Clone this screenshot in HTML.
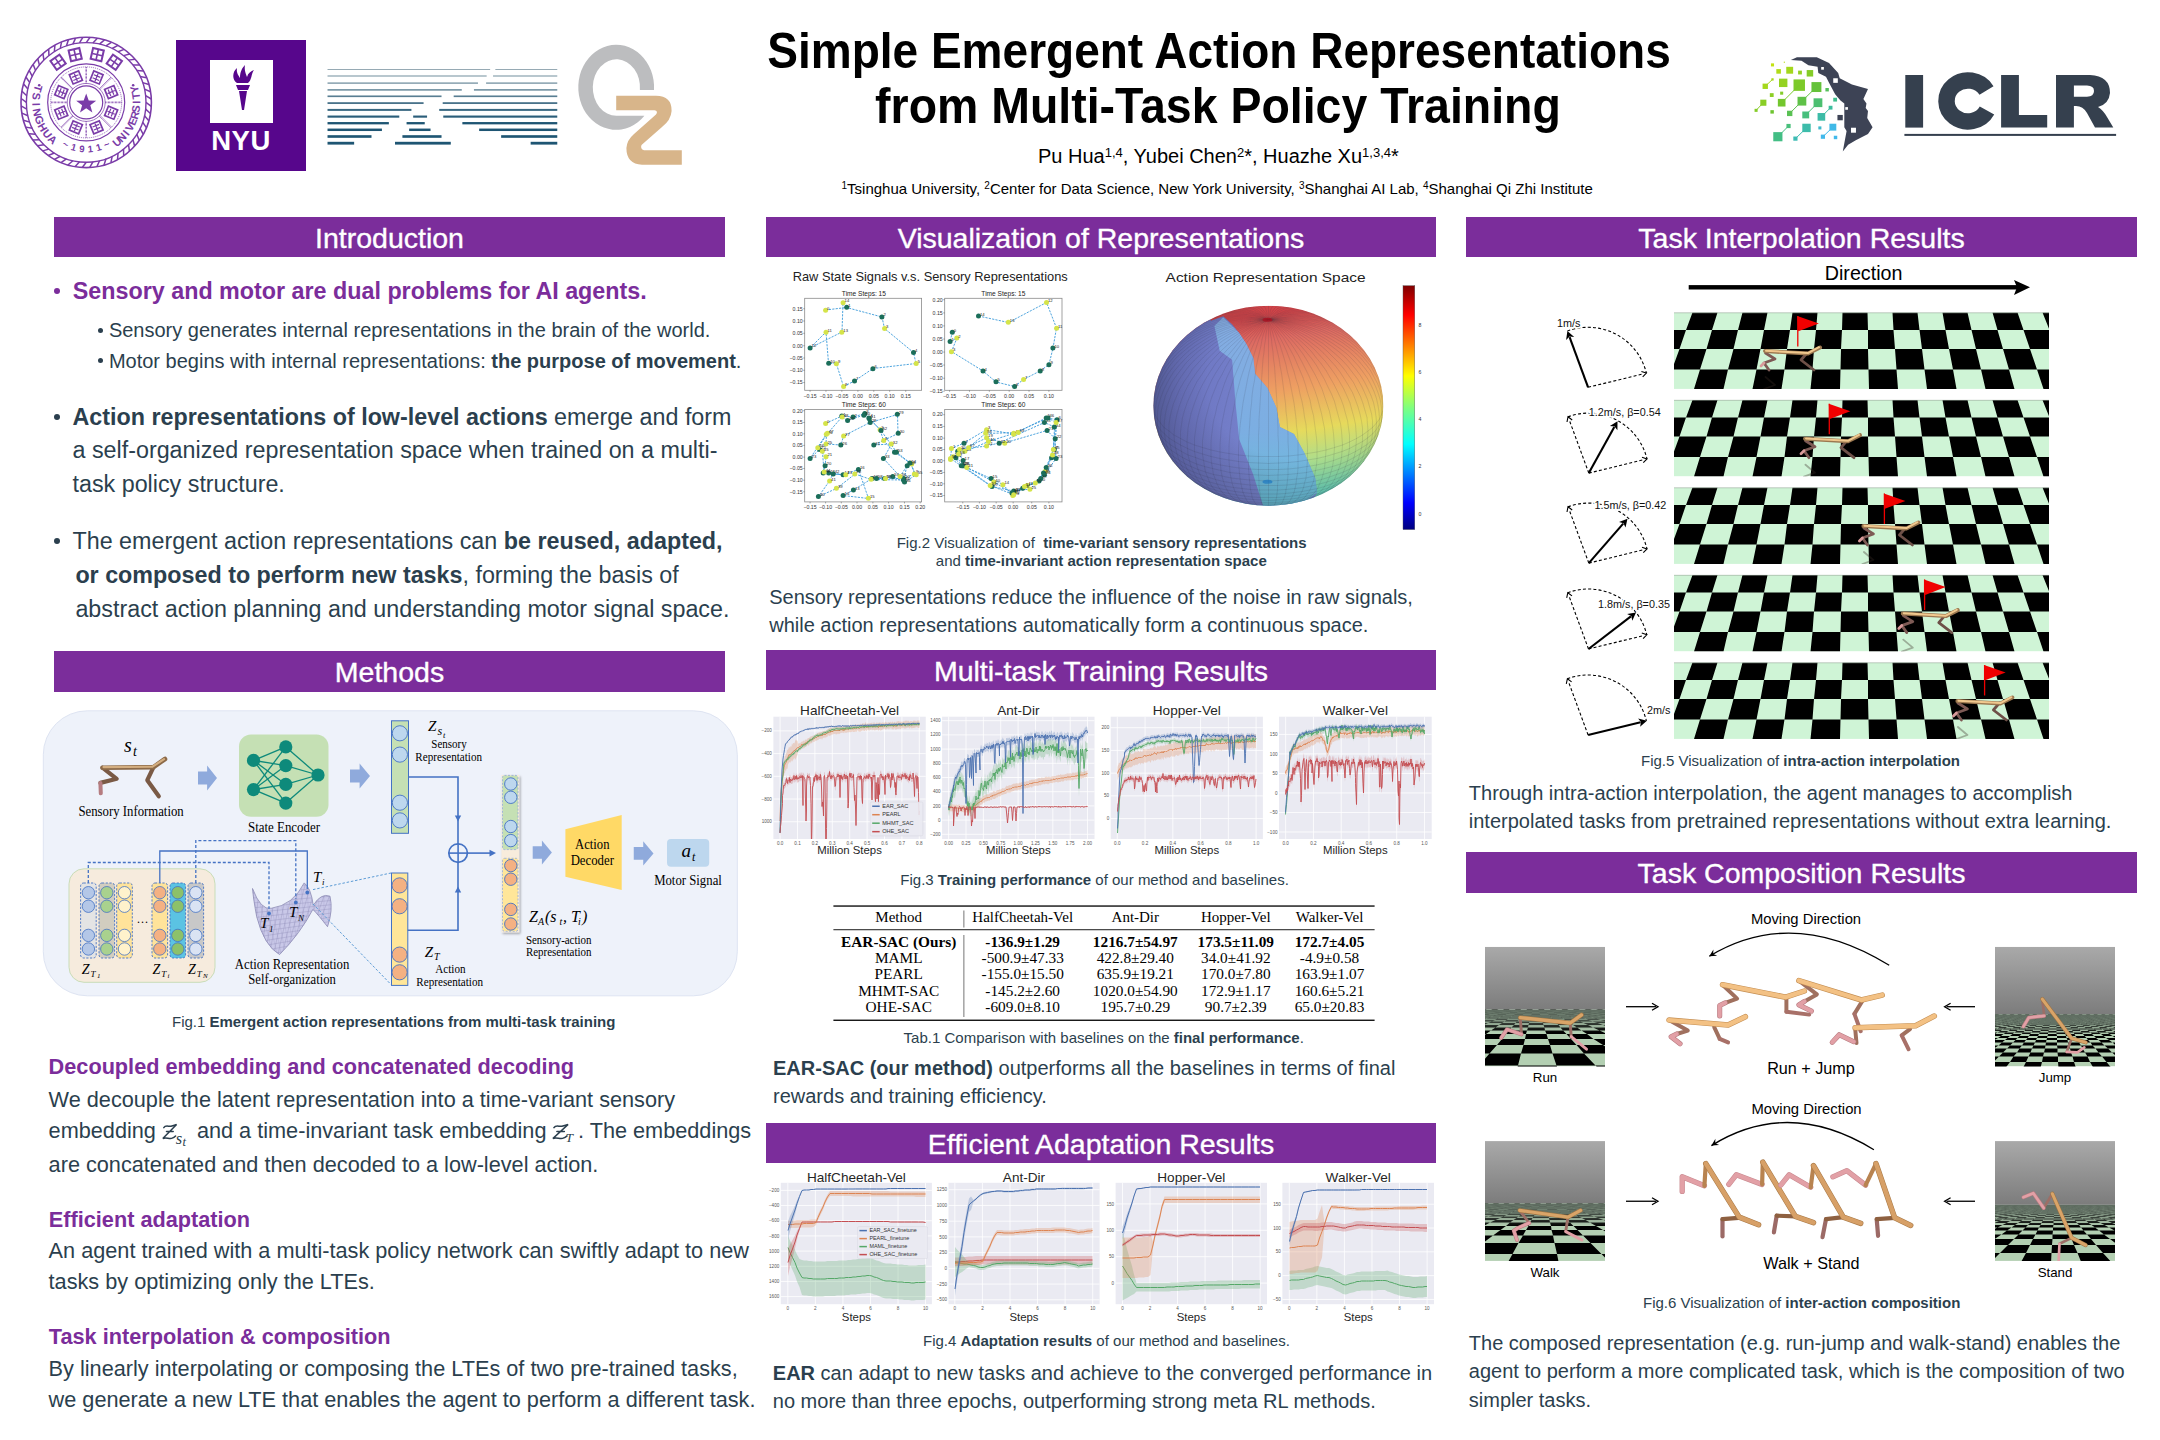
<!DOCTYPE html>
<html><head><meta charset="utf-8"><title>Simple Emergent Action Representations from Multi-Task Policy Training</title>
<style>
html,body{margin:0;padding:0;background:#FFFFFF;}
body{width:2160px;height:1440px;position:relative;overflow:hidden;font-family:"Liberation Sans", sans-serif;}
svg{position:absolute;overflow:visible}
</style></head><body>
<div style="position:absolute;left:218.60px;width:2000px;text-align:center;top:26.00px;font-family:'Liberation Sans', sans-serif;font-size:49.2px;line-height:49.2px;font-weight:bold;color:#000;white-space:nowrap;transform:scaleX(0.9355);transform-origin:50% 50%;">Simple Emergent Action Representations</div>
<div style="position:absolute;left:217.50px;width:2000px;text-align:center;top:81.00px;font-family:'Liberation Sans', sans-serif;font-size:49.2px;line-height:49.2px;font-weight:bold;color:#000;white-space:nowrap;transform:scaleX(0.9445);transform-origin:50% 50%;">from Multi-Task Policy Training</div>
<div style="position:absolute;left:1038.00px;top:146.00px;font-family:'Liberation Sans', sans-serif;font-size:20px;line-height:20px;font-weight:normal;color:#000;white-space:nowrap;">Pu Hua<span style="font-size:13px;position:relative;top:-6px">1,4</span>, Yubei Chen<span style="font-size:13px;position:relative;top:-6px">2</span>*, Huazhe Xu<span style="font-size:13px;position:relative;top:-6px">1,3,4</span>*</div>
<div style="position:absolute;left:841.50px;top:181.00px;font-family:'Liberation Sans', sans-serif;font-size:15px;line-height:15px;font-weight:normal;color:#000;white-space:nowrap;"><span style="font-size:10px;position:relative;top:-5px">1</span>Tsinghua University, <span style="font-size:10px;position:relative;top:-5px">2</span>Center for Data Science, New York University, <span style="font-size:10px;position:relative;top:-5px">3</span>Shanghai AI Lab, <span style="font-size:10px;position:relative;top:-5px">4</span>Shanghai Qi Zhi Institute</div>
<div style="position:absolute;left:54px;top:217px;width:671px;height:40px;background:#7B2D9B;"></div>
<div style="position:absolute;left:-610.50px;width:2000px;text-align:center;top:224.00px;font-family:'Liberation Sans', sans-serif;font-size:28.5px;line-height:28.5px;font-weight:normal;color:#FFFFFF;white-space:nowrap;-webkit-text-stroke:0.35px #FFFFFF;">Introduction</div>
<div style="position:absolute;left:766px;top:217px;width:670px;height:40px;background:#7B2D9B;"></div>
<div style="position:absolute;left:101.00px;width:2000px;text-align:center;top:224.00px;font-family:'Liberation Sans', sans-serif;font-size:28.5px;line-height:28.5px;font-weight:normal;color:#FFFFFF;white-space:nowrap;-webkit-text-stroke:0.35px #FFFFFF;">Visualization of Representations</div>
<div style="position:absolute;left:1466px;top:217px;width:671px;height:40px;background:#7B2D9B;"></div>
<div style="position:absolute;left:801.50px;width:2000px;text-align:center;top:224.00px;font-family:'Liberation Sans', sans-serif;font-size:28.5px;line-height:28.5px;font-weight:normal;color:#FFFFFF;white-space:nowrap;-webkit-text-stroke:0.35px #FFFFFF;">Task Interpolation Results</div>
<div style="position:absolute;left:54px;top:651px;width:671px;height:41px;background:#7B2D9B;"></div>
<div style="position:absolute;left:-610.50px;width:2000px;text-align:center;top:658.00px;font-family:'Liberation Sans', sans-serif;font-size:28.5px;line-height:28.5px;font-weight:normal;color:#FFFFFF;white-space:nowrap;-webkit-text-stroke:0.35px #FFFFFF;">Methods</div>
<div style="position:absolute;left:766px;top:650px;width:670px;height:40px;background:#7B2D9B;"></div>
<div style="position:absolute;left:101.00px;width:2000px;text-align:center;top:657.00px;font-family:'Liberation Sans', sans-serif;font-size:28.5px;line-height:28.5px;font-weight:normal;color:#FFFFFF;white-space:nowrap;-webkit-text-stroke:0.35px #FFFFFF;">Multi-task Training Results</div>
<div style="position:absolute;left:1466px;top:852px;width:671px;height:41px;background:#7B2D9B;"></div>
<div style="position:absolute;left:801.50px;width:2000px;text-align:center;top:859.00px;font-family:'Liberation Sans', sans-serif;font-size:28.5px;line-height:28.5px;font-weight:normal;color:#FFFFFF;white-space:nowrap;-webkit-text-stroke:0.35px #FFFFFF;">Task Composition Results</div>
<div style="position:absolute;left:766px;top:1123px;width:670px;height:40px;background:#7B2D9B;"></div>
<div style="position:absolute;left:101.00px;width:2000px;text-align:center;top:1130.00px;font-family:'Liberation Sans', sans-serif;font-size:28.5px;line-height:28.5px;font-weight:normal;color:#FFFFFF;white-space:nowrap;-webkit-text-stroke:0.35px #FFFFFF;">Efficient Adaptation Results</div>
<div style="position:absolute;left:54.00px;top:287.60px;width:6px;height:6px;border-radius:50%;background:#7B2D9B"></div>
<div style="position:absolute;left:72.80px;top:280.00px;font-family:'Liberation Sans', sans-serif;font-size:23.3px;line-height:23.3px;font-weight:bold;color:#7B2D9B;white-space:nowrap;">Sensory and motor are dual problems for AI agents.</div>
<div style="position:absolute;left:97.50px;top:327.50px;width:5px;height:5px;border-radius:50%;background:#2B3F4E"></div>
<div style="position:absolute;left:108.90px;top:320.00px;font-family:'Liberation Sans', sans-serif;font-size:20px;line-height:20px;font-weight:normal;color:#2B3F4E;white-space:nowrap;">Sensory generates internal representations in the brain of the world.</div>
<div style="position:absolute;left:97.50px;top:358.40px;width:5px;height:5px;border-radius:50%;background:#2B3F4E"></div>
<div style="position:absolute;left:108.90px;top:351.00px;font-family:'Liberation Sans', sans-serif;font-size:20px;line-height:20px;font-weight:normal;color:#2B3F4E;white-space:nowrap;">Motor begins with internal representations: <b>the purpose of movement</b>.</div>
<div style="position:absolute;left:54.00px;top:414.40px;width:6px;height:6px;border-radius:50%;background:#2B3F4E"></div>
<div style="position:absolute;left:72.50px;top:406.00px;font-family:'Liberation Sans', sans-serif;font-size:23.3px;line-height:23.3px;font-weight:normal;color:#2B3F4E;white-space:nowrap;"><b>Action representations of low-level actions</b> emerge and form</div>
<div style="position:absolute;left:72.50px;top:439.00px;font-family:'Liberation Sans', sans-serif;font-size:23.3px;line-height:23.3px;font-weight:normal;color:#2B3F4E;white-space:nowrap;">a self-organized representation space when trained on a multi-</div>
<div style="position:absolute;left:72.50px;top:473.00px;font-family:'Liberation Sans', sans-serif;font-size:23.3px;line-height:23.3px;font-weight:normal;color:#2B3F4E;white-space:nowrap;">task policy structure.</div>
<div style="position:absolute;left:54.00px;top:537.70px;width:6px;height:6px;border-radius:50%;background:#2B3F4E"></div>
<div style="position:absolute;left:72.50px;top:530.00px;font-family:'Liberation Sans', sans-serif;font-size:23.3px;line-height:23.3px;font-weight:normal;color:#2B3F4E;white-space:nowrap;">The emergent action representations can <b>be reused, adapted,</b></div>
<div style="position:absolute;left:75.40px;top:564.00px;font-family:'Liberation Sans', sans-serif;font-size:23.3px;line-height:23.3px;font-weight:normal;color:#2B3F4E;white-space:nowrap;"><b>or composed to perform new tasks</b>, forming the basis of</div>
<div style="position:absolute;left:75.40px;top:598.00px;font-family:'Liberation Sans', sans-serif;font-size:23.3px;line-height:23.3px;font-weight:normal;color:#2B3F4E;white-space:nowrap;">abstract action planning and understanding motor signal space.</div>
<div style="position:absolute;left:172.00px;top:1014.00px;font-family:'Liberation Sans', sans-serif;font-size:15px;line-height:15px;font-weight:normal;color:#2B3F4E;white-space:nowrap;">Fig.1 <b>Emergent action representations from multi-task training</b></div>
<div style="position:absolute;left:48.60px;top:1056.00px;font-family:'Liberation Sans', sans-serif;font-size:21.7px;line-height:21.7px;font-weight:bold;color:#7B2D9B;white-space:nowrap;">Decoupled embedding and concatenated decoding</div>
<div style="position:absolute;left:48.60px;top:1089.00px;font-family:'Liberation Sans', sans-serif;font-size:21.7px;line-height:21.7px;font-weight:normal;color:#2B3F4E;white-space:nowrap;">We decouple the latent representation into a time-variant sensory</div>
<div style="position:absolute;left:48.60px;top:1120.00px;font-family:'Liberation Sans', sans-serif;font-size:21.7px;line-height:21.7px;font-weight:normal;color:#2B3F4E;white-space:nowrap;">embedding</div>
<div style="position:absolute;left:196.90px;top:1120.00px;font-family:'Liberation Sans', sans-serif;font-size:21.7px;line-height:21.7px;font-weight:normal;color:#2B3F4E;white-space:nowrap;">and a time-invariant task embedding</div>
<div style="position:absolute;left:578.00px;top:1120.00px;font-family:'Liberation Sans', sans-serif;font-size:21.7px;line-height:21.7px;font-weight:normal;color:#2B3F4E;white-space:nowrap;">. The embeddings</div>
<svg style="left:161.7px;top:1124.3px" width="16" height="16" viewBox="0 0 16 16"><path d="M1.8,3.6 C3.5,0.8 6.5,2.8 9,2.2 C11,1.7 13,1.2 14.6,0.4 L0.8,14.6 C3.8,12.8 6.8,15.2 9.6,14.4 C11.4,13.9 12.6,13.2 13.6,12 M4.5,7.6 L11.2,7.6" fill="none" stroke="#2B3F4E" stroke-width="1.5" stroke-linecap="round"/></svg><svg style="left:552.3px;top:1124px" width="20" height="16" viewBox="0 0 20 16"><path d="M1.8,3.6 C3.5,0.8 6.5,2.8 9,2.2 C11,1.7 13,1.2 14.6,0.4 L0.8,14.6 C3.8,12.8 6.8,15.2 9.6,14.4 C11.4,13.9 12.6,13.2 13.6,12 M4.5,7.6 L11.2,7.6" fill="none" stroke="#2B3F4E" stroke-width="1.5" stroke-linecap="round" transform="scale(1.1,1)"/></svg><div style="position:absolute;left:175.80px;top:1131.00px;font-family:'Liberation Serif', serif;font-size:16.5px;line-height:16.5px;font-weight:normal;color:#2B3F4E;white-space:nowrap;"><i>s</i></div>
<div style="position:absolute;left:182.50px;top:1136.00px;font-family:'Liberation Serif', serif;font-size:12.5px;line-height:12.5px;font-weight:normal;color:#2B3F4E;white-space:nowrap;"><i>t</i></div>
<div style="position:absolute;left:565.50px;top:1131.00px;font-family:'Liberation Serif', serif;font-size:13.5px;line-height:13.5px;font-weight:normal;color:#2B3F4E;white-space:nowrap;"><i>T</i></div>
<div style="position:absolute;left:48.60px;top:1154.00px;font-family:'Liberation Sans', sans-serif;font-size:21.7px;line-height:21.7px;font-weight:normal;color:#2B3F4E;white-space:nowrap;">are concatenated and then decoded to a low-level action.</div>
<div style="position:absolute;left:48.80px;top:1209.00px;font-family:'Liberation Sans', sans-serif;font-size:21.7px;line-height:21.7px;font-weight:bold;color:#7B2D9B;white-space:nowrap;">Efficient adaptation</div>
<div style="position:absolute;left:48.60px;top:1240.00px;font-family:'Liberation Sans', sans-serif;font-size:21.7px;line-height:21.7px;font-weight:normal;color:#2B3F4E;white-space:nowrap;">An agent trained with a multi-task policy network can swiftly adapt to new</div>
<div style="position:absolute;left:48.60px;top:1271.00px;font-family:'Liberation Sans', sans-serif;font-size:21.7px;line-height:21.7px;font-weight:normal;color:#2B3F4E;white-space:nowrap;">tasks by optimizing only the LTEs.</div>
<div style="position:absolute;left:48.80px;top:1326.00px;font-family:'Liberation Sans', sans-serif;font-size:21.7px;line-height:21.7px;font-weight:bold;color:#7B2D9B;white-space:nowrap;">Task interpolation &amp; composition</div>
<div style="position:absolute;left:48.60px;top:1358.00px;font-family:'Liberation Sans', sans-serif;font-size:21.7px;line-height:21.7px;font-weight:normal;color:#2B3F4E;white-space:nowrap;">By linearly interpolating or composing the LTEs of two pre-trained tasks,</div>
<div style="position:absolute;left:48.60px;top:1389.00px;font-family:'Liberation Sans', sans-serif;font-size:21.7px;line-height:21.7px;font-weight:normal;color:#2B3F4E;white-space:nowrap;">we generate a new LTE that enables the agent to perform a different task.</div>
<div style="position:absolute;left:896.70px;top:535.00px;font-family:'Liberation Sans', sans-serif;font-size:15px;line-height:15px;font-weight:normal;color:#2B3F4E;white-space:nowrap;">Fig.2 Visualization of &nbsp;<b>time-variant sensory representations</b></div>
<div style="position:absolute;left:935.80px;top:553.00px;font-family:'Liberation Sans', sans-serif;font-size:15px;line-height:15px;font-weight:normal;color:#2B3F4E;white-space:nowrap;">and <b>time-invariant action representation space</b></div>
<div style="position:absolute;left:769.20px;top:587.00px;font-family:'Liberation Sans', sans-serif;font-size:20px;line-height:20px;font-weight:normal;color:#2B3F4E;white-space:nowrap;">Sensory representations reduce the influence of the noise in raw signals,</div>
<div style="position:absolute;left:769.20px;top:615.00px;font-family:'Liberation Sans', sans-serif;font-size:20px;line-height:20px;font-weight:normal;color:#2B3F4E;white-space:nowrap;">while action representations automatically form a continuous space.</div>
<div style="position:absolute;left:900.30px;top:872.00px;font-family:'Liberation Sans', sans-serif;font-size:15px;line-height:15px;font-weight:normal;color:#2B3F4E;white-space:nowrap;">Fig.3 <b>Training performance</b> of our method and baselines.</div>
<div style="position:absolute;left:903.60px;top:1030.00px;font-family:'Liberation Sans', sans-serif;font-size:15px;line-height:15px;font-weight:normal;color:#2B3F4E;white-space:nowrap;">Tab.1 Comparison with baselines on the <b>final performance</b>.</div>
<div style="position:absolute;left:773.00px;top:1058.00px;font-family:'Liberation Sans', sans-serif;font-size:20px;line-height:20px;font-weight:normal;color:#2B3F4E;white-space:nowrap;"><b>EAR-SAC (our method)</b> outperforms all the baselines in terms of final</div>
<div style="position:absolute;left:773.00px;top:1086.00px;font-family:'Liberation Sans', sans-serif;font-size:20px;line-height:20px;font-weight:normal;color:#2B3F4E;white-space:nowrap;">rewards and training efficiency.</div>
<div style="position:absolute;left:923.00px;top:1333.00px;font-family:'Liberation Sans', sans-serif;font-size:15px;line-height:15px;font-weight:normal;color:#2B3F4E;white-space:nowrap;">Fig.4 <b>Adaptation results</b> of our method and baselines.</div>
<div style="position:absolute;left:772.80px;top:1363.00px;font-family:'Liberation Sans', sans-serif;font-size:20px;line-height:20px;font-weight:normal;color:#2B3F4E;white-space:nowrap;"><b>EAR</b> can adapt to new tasks and achieve to the converged performance in</div>
<div style="position:absolute;left:772.80px;top:1391.00px;font-family:'Liberation Sans', sans-serif;font-size:20px;line-height:20px;font-weight:normal;color:#2B3F4E;white-space:nowrap;">no more than three epochs, outperforming strong meta RL methods.</div>
<div style="position:absolute;left:1641.00px;top:753.00px;font-family:'Liberation Sans', sans-serif;font-size:15px;line-height:15px;font-weight:normal;color:#2B3F4E;white-space:nowrap;">Fig.5 Visualization of <b>intra-action interpolation</b></div>
<div style="position:absolute;left:1468.80px;top:783.00px;font-family:'Liberation Sans', sans-serif;font-size:20px;line-height:20px;font-weight:normal;color:#2B3F4E;white-space:nowrap;">Through intra-action interpolation, the agent manages to accomplish</div>
<div style="position:absolute;left:1468.80px;top:811.00px;font-family:'Liberation Sans', sans-serif;font-size:20px;line-height:20px;font-weight:normal;color:#2B3F4E;white-space:nowrap;">interpolated tasks from pretrained representations without extra learning.</div>
<div style="position:absolute;left:1643.00px;top:1295.00px;font-family:'Liberation Sans', sans-serif;font-size:15px;line-height:15px;font-weight:normal;color:#2B3F4E;white-space:nowrap;">Fig.6 Visualization of <b>inter-action composition</b></div>
<div style="position:absolute;left:1468.80px;top:1333.00px;font-family:'Liberation Sans', sans-serif;font-size:20px;line-height:20px;font-weight:normal;color:#2B3F4E;white-space:nowrap;">The composed representation (e.g. run-jump and walk-stand) enables the</div>
<div style="position:absolute;left:1468.80px;top:1361.00px;font-family:'Liberation Sans', sans-serif;font-size:20px;line-height:20px;font-weight:normal;color:#2B3F4E;white-space:nowrap;">agent to perform a more complicated task, which is the composition of two</div>
<div style="position:absolute;left:1468.80px;top:1390.00px;font-family:'Liberation Sans', sans-serif;font-size:20px;line-height:20px;font-weight:normal;color:#2B3F4E;white-space:nowrap;">simpler tasks.</div>
<svg style="left:0;top:0" width="200" height="200" viewBox="0 0 200 200"><circle cx="86.2" cy="102.4" r="65.2" fill="none" stroke="#7A3CA8" stroke-width="1.6"/><circle cx="86.2" cy="102.4" r="59.8" fill="none" stroke="#7A3CA8" stroke-width="1.4"/><line x1="146.00" y1="102.40" x2="151.28" y2="106.31" stroke="#7A3CA8" stroke-width="1.5"/><line x1="145.62" y1="109.10" x2="150.44" y2="113.57" stroke="#7A3CA8" stroke-width="1.5"/><line x1="144.50" y1="115.71" x2="148.78" y2="120.69" stroke="#7A3CA8" stroke-width="1.5"/><line x1="142.64" y1="122.15" x2="146.34" y2="127.59" stroke="#7A3CA8" stroke-width="1.5"/><line x1="140.08" y1="128.35" x2="143.14" y2="134.16" stroke="#7A3CA8" stroke-width="1.5"/><line x1="136.83" y1="134.22" x2="139.23" y2="140.34" stroke="#7A3CA8" stroke-width="1.5"/><line x1="132.95" y1="139.68" x2="134.65" y2="146.04" stroke="#7A3CA8" stroke-width="1.5"/><line x1="128.48" y1="144.68" x2="129.46" y2="151.18" stroke="#7A3CA8" stroke-width="1.5"/><line x1="123.48" y1="149.15" x2="123.72" y2="155.72" stroke="#7A3CA8" stroke-width="1.5"/><line x1="118.02" y1="153.03" x2="117.52" y2="159.59" stroke="#7A3CA8" stroke-width="1.5"/><line x1="112.15" y1="156.28" x2="110.92" y2="162.73" stroke="#7A3CA8" stroke-width="1.5"/><line x1="105.95" y1="158.84" x2="104.01" y2="165.12" stroke="#7A3CA8" stroke-width="1.5"/><line x1="99.51" y1="160.70" x2="96.87" y2="166.72" stroke="#7A3CA8" stroke-width="1.5"/><line x1="92.90" y1="161.82" x2="89.60" y2="167.51" stroke="#7A3CA8" stroke-width="1.5"/><line x1="86.20" y1="162.20" x2="82.29" y2="167.48" stroke="#7A3CA8" stroke-width="1.5"/><line x1="79.50" y1="161.82" x2="75.03" y2="166.64" stroke="#7A3CA8" stroke-width="1.5"/><line x1="72.89" y1="160.70" x2="67.91" y2="164.98" stroke="#7A3CA8" stroke-width="1.5"/><line x1="66.45" y1="158.84" x2="61.01" y2="162.54" stroke="#7A3CA8" stroke-width="1.5"/><line x1="60.25" y1="156.28" x2="54.44" y2="159.34" stroke="#7A3CA8" stroke-width="1.5"/><line x1="54.38" y1="153.03" x2="48.26" y2="155.43" stroke="#7A3CA8" stroke-width="1.5"/><line x1="48.92" y1="149.15" x2="42.56" y2="150.85" stroke="#7A3CA8" stroke-width="1.5"/><line x1="43.92" y1="144.68" x2="37.42" y2="145.66" stroke="#7A3CA8" stroke-width="1.5"/><line x1="39.45" y1="139.68" x2="32.88" y2="139.92" stroke="#7A3CA8" stroke-width="1.5"/><line x1="35.57" y1="134.22" x2="29.01" y2="133.72" stroke="#7A3CA8" stroke-width="1.5"/><line x1="32.32" y1="128.35" x2="25.87" y2="127.12" stroke="#7A3CA8" stroke-width="1.5"/><line x1="29.76" y1="122.15" x2="23.48" y2="120.21" stroke="#7A3CA8" stroke-width="1.5"/><line x1="27.90" y1="115.71" x2="21.88" y2="113.07" stroke="#7A3CA8" stroke-width="1.5"/><line x1="26.78" y1="109.10" x2="21.09" y2="105.80" stroke="#7A3CA8" stroke-width="1.5"/><line x1="26.40" y1="102.40" x2="21.12" y2="98.49" stroke="#7A3CA8" stroke-width="1.5"/><line x1="26.78" y1="95.70" x2="21.96" y2="91.23" stroke="#7A3CA8" stroke-width="1.5"/><line x1="27.90" y1="89.09" x2="23.62" y2="84.11" stroke="#7A3CA8" stroke-width="1.5"/><line x1="29.76" y1="82.65" x2="26.06" y2="77.21" stroke="#7A3CA8" stroke-width="1.5"/><line x1="32.32" y1="76.45" x2="29.26" y2="70.64" stroke="#7A3CA8" stroke-width="1.5"/><line x1="35.57" y1="70.58" x2="33.17" y2="64.46" stroke="#7A3CA8" stroke-width="1.5"/><line x1="39.45" y1="65.12" x2="37.75" y2="58.76" stroke="#7A3CA8" stroke-width="1.5"/><line x1="43.92" y1="60.12" x2="42.94" y2="53.62" stroke="#7A3CA8" stroke-width="1.5"/><line x1="48.92" y1="55.65" x2="48.68" y2="49.08" stroke="#7A3CA8" stroke-width="1.5"/><line x1="54.38" y1="51.77" x2="54.88" y2="45.21" stroke="#7A3CA8" stroke-width="1.5"/><line x1="60.25" y1="48.52" x2="61.48" y2="42.07" stroke="#7A3CA8" stroke-width="1.5"/><line x1="66.45" y1="45.96" x2="68.39" y2="39.68" stroke="#7A3CA8" stroke-width="1.5"/><line x1="72.89" y1="44.10" x2="75.53" y2="38.08" stroke="#7A3CA8" stroke-width="1.5"/><line x1="79.50" y1="42.98" x2="82.80" y2="37.29" stroke="#7A3CA8" stroke-width="1.5"/><line x1="86.20" y1="42.60" x2="90.11" y2="37.32" stroke="#7A3CA8" stroke-width="1.5"/><line x1="92.90" y1="42.98" x2="97.37" y2="38.16" stroke="#7A3CA8" stroke-width="1.5"/><line x1="99.51" y1="44.10" x2="104.49" y2="39.82" stroke="#7A3CA8" stroke-width="1.5"/><line x1="105.95" y1="45.96" x2="111.39" y2="42.26" stroke="#7A3CA8" stroke-width="1.5"/><line x1="112.15" y1="48.52" x2="117.96" y2="45.46" stroke="#7A3CA8" stroke-width="1.5"/><line x1="118.02" y1="51.77" x2="124.14" y2="49.37" stroke="#7A3CA8" stroke-width="1.5"/><line x1="123.48" y1="55.65" x2="129.84" y2="53.95" stroke="#7A3CA8" stroke-width="1.5"/><line x1="128.48" y1="60.12" x2="134.98" y2="59.14" stroke="#7A3CA8" stroke-width="1.5"/><line x1="132.95" y1="65.12" x2="139.52" y2="64.88" stroke="#7A3CA8" stroke-width="1.5"/><line x1="136.83" y1="70.58" x2="143.39" y2="71.08" stroke="#7A3CA8" stroke-width="1.5"/><line x1="140.08" y1="76.45" x2="146.53" y2="77.68" stroke="#7A3CA8" stroke-width="1.5"/><line x1="142.64" y1="82.65" x2="148.92" y2="84.59" stroke="#7A3CA8" stroke-width="1.5"/><line x1="144.50" y1="89.09" x2="150.52" y2="91.73" stroke="#7A3CA8" stroke-width="1.5"/><line x1="145.62" y1="95.70" x2="151.31" y2="99.00" stroke="#7A3CA8" stroke-width="1.5"/><circle cx="86.2" cy="102.4" r="38.5" fill="none" stroke="#7A3CA8" stroke-width="1.2"/><circle cx="86.2" cy="102.4" r="35.5" fill="none" stroke="#7A3CA8" stroke-width="0.8" stroke-dasharray="1 1"/><circle cx="86.2" cy="102.4" r="16.5" fill="none" stroke="#7A3CA8" stroke-width="1.2"/><circle cx="86.2" cy="102.4" r="19" fill="none" stroke="#7A3CA8" stroke-width="0.7"/><line x1="105.20" y1="102.40" x2="121.70" y2="102.40" stroke="#7A3CA8" stroke-width="1.6" stroke-dasharray="0.7 0.7"/><rect x="106.14" y="107.73" width="10" height="10" fill="none" stroke="#7A3CA8" stroke-width="1.7" transform="rotate(112.5 111.14 112.73)"/><path d="M107.64,111.23 H114.64 M107.64,114.53 H114.64 M111.14,108.73 V116.73" stroke="#7A3CA8" stroke-width="1.2" transform="rotate(112.5 111.14 112.73)"/><line x1="99.64" y1="115.84" x2="111.30" y2="127.50" stroke="#7A3CA8" stroke-width="1.6" stroke-dasharray="0.7 0.7"/><rect x="91.53" y="122.34" width="10" height="10" fill="none" stroke="#7A3CA8" stroke-width="1.7" transform="rotate(157.5 96.53 127.34)"/><path d="M93.03,125.84 H100.03 M93.03,129.14 H100.03 M96.53,123.34 V131.34" stroke="#7A3CA8" stroke-width="1.2" transform="rotate(157.5 96.53 127.34)"/><line x1="86.20" y1="121.40" x2="86.20" y2="137.90" stroke="#7A3CA8" stroke-width="1.6" stroke-dasharray="0.7 0.7"/><rect x="70.87" y="122.34" width="10" height="10" fill="none" stroke="#7A3CA8" stroke-width="1.7" transform="rotate(202.5 75.87 127.34)"/><path d="M72.37,125.84 H79.37 M72.37,129.14 H79.37 M75.87,123.34 V131.34" stroke="#7A3CA8" stroke-width="1.2" transform="rotate(202.5 75.87 127.34)"/><line x1="72.76" y1="115.84" x2="61.10" y2="127.50" stroke="#7A3CA8" stroke-width="1.6" stroke-dasharray="0.7 0.7"/><rect x="56.26" y="107.73" width="10" height="10" fill="none" stroke="#7A3CA8" stroke-width="1.7" transform="rotate(247.5 61.26 112.73)"/><path d="M57.76,111.23 H64.76 M57.76,114.53 H64.76 M61.26,108.73 V116.73" stroke="#7A3CA8" stroke-width="1.2" transform="rotate(247.5 61.26 112.73)"/><line x1="67.20" y1="102.40" x2="50.70" y2="102.40" stroke="#7A3CA8" stroke-width="1.6" stroke-dasharray="0.7 0.7"/><rect x="56.26" y="87.07" width="10" height="10" fill="none" stroke="#7A3CA8" stroke-width="1.7" transform="rotate(292.5 61.26 92.07)"/><path d="M57.76,90.57 H64.76 M57.76,93.87 H64.76 M61.26,88.07 V96.07" stroke="#7A3CA8" stroke-width="1.2" transform="rotate(292.5 61.26 92.07)"/><line x1="72.76" y1="88.96" x2="61.10" y2="77.30" stroke="#7A3CA8" stroke-width="1.6" stroke-dasharray="0.7 0.7"/><rect x="70.87" y="72.46" width="10" height="10" fill="none" stroke="#7A3CA8" stroke-width="1.7" transform="rotate(337.5 75.87 77.46)"/><path d="M72.37,75.96 H79.37 M72.37,79.26 H79.37 M75.87,73.46 V81.46" stroke="#7A3CA8" stroke-width="1.2" transform="rotate(337.5 75.87 77.46)"/><line x1="86.20" y1="83.40" x2="86.20" y2="66.90" stroke="#7A3CA8" stroke-width="1.6" stroke-dasharray="0.7 0.7"/><rect x="91.53" y="72.46" width="10" height="10" fill="none" stroke="#7A3CA8" stroke-width="1.7" transform="rotate(382.5 96.53 77.46)"/><path d="M93.03,75.96 H100.03 M93.03,79.26 H100.03 M96.53,73.46 V81.46" stroke="#7A3CA8" stroke-width="1.2" transform="rotate(382.5 96.53 77.46)"/><line x1="99.64" y1="88.96" x2="111.30" y2="77.30" stroke="#7A3CA8" stroke-width="1.6" stroke-dasharray="0.7 0.7"/><rect x="106.14" y="87.07" width="10" height="10" fill="none" stroke="#7A3CA8" stroke-width="1.7" transform="rotate(427.5 111.14 92.07)"/><path d="M107.64,90.57 H114.64 M107.64,93.87 H114.64 M111.14,88.07 V96.07" stroke="#7A3CA8" stroke-width="1.2" transform="rotate(427.5 111.14 92.07)"/><polygon points="86.20,93.40 88.73,100.42 96.19,100.66 90.29,105.23 92.37,112.39 86.20,108.20 80.03,112.39 82.11,105.23 76.21,100.66 83.67,100.42" fill="#7A3CA8"/><g transform="rotate(-35 58.09 62.26)"><rect x="52.59" y="56.76" width="11" height="11" fill="none" stroke="#7A3CA8" stroke-width="2"/><line x1="53.09" y1="62.26" x2="63.09" y2="62.26" stroke="#7A3CA8" stroke-width="1.6"/><line x1="58.09" y1="57.26" x2="58.09" y2="67.26" stroke="#7A3CA8" stroke-width="1.6"/></g><g transform="rotate(-13 75.18 54.66)"><rect x="69.68" y="49.16" width="11" height="11" fill="none" stroke="#7A3CA8" stroke-width="2"/><line x1="70.18" y1="54.66" x2="80.18" y2="54.66" stroke="#7A3CA8" stroke-width="1.6"/><line x1="75.18" y1="49.66" x2="75.18" y2="59.66" stroke="#7A3CA8" stroke-width="1.6"/></g><g transform="rotate(13 97.22 54.66)"><rect x="91.72" y="49.16" width="11" height="11" fill="none" stroke="#7A3CA8" stroke-width="2"/><line x1="92.22" y1="54.66" x2="102.22" y2="54.66" stroke="#7A3CA8" stroke-width="1.6"/><line x1="97.22" y1="49.66" x2="97.22" y2="59.66" stroke="#7A3CA8" stroke-width="1.6"/></g><g transform="rotate(35 114.31 62.26)"><rect x="108.81" y="56.76" width="11" height="11" fill="none" stroke="#7A3CA8" stroke-width="2"/><line x1="109.31" y1="62.26" x2="119.31" y2="62.26" stroke="#7A3CA8" stroke-width="1.6"/><line x1="114.31" y1="57.26" x2="114.31" y2="67.26" stroke="#7A3CA8" stroke-width="1.6"/></g><text x="38.14" y="88.62" font-family="Liberation Sans" font-weight="bold" font-size="11" fill="#7A3CA8" text-anchor="middle" dominant-baseline="central" transform="rotate(106.0 38.14 88.62)">T</text><text x="36.56" y="96.43" font-family="Liberation Sans" font-weight="bold" font-size="11" fill="#7A3CA8" text-anchor="middle" dominant-baseline="central" transform="rotate(96.9 36.56 96.43)">S</text><text x="36.24" y="104.39" font-family="Liberation Sans" font-weight="bold" font-size="11" fill="#7A3CA8" text-anchor="middle" dominant-baseline="central" transform="rotate(87.7 36.24 104.39)">I</text><text x="37.19" y="112.31" font-family="Liberation Sans" font-weight="bold" font-size="11" fill="#7A3CA8" text-anchor="middle" dominant-baseline="central" transform="rotate(78.6 37.19 112.31)">N</text><text x="39.39" y="119.97" font-family="Liberation Sans" font-weight="bold" font-size="11" fill="#7A3CA8" text-anchor="middle" dominant-baseline="central" transform="rotate(69.4 39.39 119.97)">G</text><text x="42.77" y="127.18" font-family="Liberation Sans" font-weight="bold" font-size="11" fill="#7A3CA8" text-anchor="middle" dominant-baseline="central" transform="rotate(60.3 42.77 127.18)">H</text><text x="47.26" y="133.77" font-family="Liberation Sans" font-weight="bold" font-size="11" fill="#7A3CA8" text-anchor="middle" dominant-baseline="central" transform="rotate(51.1 47.26 133.77)">U</text><text x="52.74" y="139.56" font-family="Liberation Sans" font-weight="bold" font-size="11" fill="#7A3CA8" text-anchor="middle" dominant-baseline="central" transform="rotate(42.0 52.74 139.56)">A</text><text x="116.98" y="141.80" font-family="Liberation Sans" font-weight="bold" font-size="11" fill="#7A3CA8" text-anchor="middle" dominant-baseline="central" transform="rotate(-38.0 116.98 141.80)">U</text><text x="121.83" y="137.48" font-family="Liberation Sans" font-weight="bold" font-size="11" fill="#7A3CA8" text-anchor="middle" dominant-baseline="central" transform="rotate(-45.4 121.83 137.48)">N</text><text x="126.07" y="132.57" font-family="Liberation Sans" font-weight="bold" font-size="11" fill="#7A3CA8" text-anchor="middle" dominant-baseline="central" transform="rotate(-52.9 126.07 132.57)">I</text><text x="129.65" y="127.15" font-family="Liberation Sans" font-weight="bold" font-size="11" fill="#7A3CA8" text-anchor="middle" dominant-baseline="central" transform="rotate(-60.3 129.65 127.15)">V</text><text x="132.49" y="121.31" font-family="Liberation Sans" font-weight="bold" font-size="11" fill="#7A3CA8" text-anchor="middle" dominant-baseline="central" transform="rotate(-67.8 132.49 121.31)">E</text><text x="134.55" y="115.15" font-family="Liberation Sans" font-weight="bold" font-size="11" fill="#7A3CA8" text-anchor="middle" dominant-baseline="central" transform="rotate(-75.2 134.55 115.15)">R</text><text x="135.79" y="108.78" font-family="Liberation Sans" font-weight="bold" font-size="11" fill="#7A3CA8" text-anchor="middle" dominant-baseline="central" transform="rotate(-82.7 135.79 108.78)">S</text><text x="136.20" y="102.30" font-family="Liberation Sans" font-weight="bold" font-size="11" fill="#7A3CA8" text-anchor="middle" dominant-baseline="central" transform="rotate(-90.1 136.20 102.30)">I</text><text x="135.77" y="95.83" font-family="Liberation Sans" font-weight="bold" font-size="11" fill="#7A3CA8" text-anchor="middle" dominant-baseline="central" transform="rotate(-97.6 135.77 95.83)">T</text><text x="134.50" y="89.46" font-family="Liberation Sans" font-weight="bold" font-size="11" fill="#7A3CA8" text-anchor="middle" dominant-baseline="central" transform="rotate(-105.0 134.50 89.46)">Y</text><text x="65.82" y="144.19" font-family="Liberation Sans" font-weight="bold" font-size="9.5" fill="#7A3CA8" text-anchor="middle" dominant-baseline="central" transform="rotate(26.0 65.82 144.19)">~</text><text x="73.70" y="147.19" font-family="Liberation Sans" font-weight="bold" font-size="9.5" fill="#7A3CA8" text-anchor="middle" dominant-baseline="central" transform="rotate(15.6 73.70 147.19)">1</text><text x="81.99" y="148.71" font-family="Liberation Sans" font-weight="bold" font-size="9.5" fill="#7A3CA8" text-anchor="middle" dominant-baseline="central" transform="rotate(5.2 81.99 148.71)">9</text><text x="90.41" y="148.71" font-family="Liberation Sans" font-weight="bold" font-size="9.5" fill="#7A3CA8" text-anchor="middle" dominant-baseline="central" transform="rotate(-5.2 90.41 148.71)">1</text><text x="98.70" y="147.19" font-family="Liberation Sans" font-weight="bold" font-size="9.5" fill="#7A3CA8" text-anchor="middle" dominant-baseline="central" transform="rotate(-15.6 98.70 147.19)">1</text><text x="106.58" y="144.19" font-family="Liberation Sans" font-weight="bold" font-size="9.5" fill="#7A3CA8" text-anchor="middle" dominant-baseline="central" transform="rotate(-26.0 106.58 144.19)">~</text><circle cx="39.22" cy="85.30" r="1.3" fill="#7A3CA8"/><circle cx="133.18" cy="85.30" r="1.3" fill="#7A3CA8"/></svg><div style="position:absolute;left:176px;top:40px;width:130px;height:131px;background:#57068C;"></div>
<div style="position:absolute;left:209.5px;top:59.5px;width:63px;height:63px;background:#FFFFFF;"></div>
<svg style="left:209.5px;top:59.5px" width="63" height="63" viewBox="0 0 63 63"><path d="M27,23 C22,20 22,12 27,8 C26,13 29,16 30,18 C30,12 32,8 35,5 C34,10 36,14 37,17 C38,13 41,11 44,10 C41,14 42,20 38,23 Z" fill="#57068C"/><path d="M26,25 L40,25 L38,30 L28,30 Z" fill="#57068C"/><path d="M29,31 L37,31 L34,50 L32,50 Z" fill="#57068C"/></svg><div style="position:absolute;left:-759.00px;width:2000px;text-align:center;top:127.00px;font-family:'Liberation Sans', sans-serif;font-size:27.5px;line-height:27.5px;font-weight:bold;color:#FFFFFF;white-space:nowrap;letter-spacing:0.5px;">NYU</div>
<svg style="left:0;top:0" width="600" height="200" viewBox="0 0 600 200"><rect x="327.52" y="69.00" width="162.62" height="1.00" fill="rgb(150, 170, 180)"/><rect x="495.35" y="69.00" width="61.92" height="1.00" fill="rgb(150, 170, 180)"/><rect x="327.52" y="75.42" width="159.14" height="1.16" fill="rgb(134, 159, 171)"/><rect x="493.03" y="75.42" width="64.24" height="1.16" fill="rgb(134, 159, 171)"/><rect x="327.52" y="82.44" width="150.46" height="1.33" fill="rgb(119, 148, 163)"/><rect x="486.09" y="82.44" width="71.18" height="1.33" fill="rgb(119, 148, 163)"/><rect x="327.52" y="89.15" width="134.26" height="1.49" fill="rgb(104, 137, 155)"/><rect x="473.94" y="89.15" width="83.33" height="1.49" fill="rgb(104, 137, 155)"/><rect x="327.52" y="95.47" width="114.00" height="1.65" fill="rgb(88, 126, 146)"/><rect x="453.68" y="95.47" width="103.59" height="1.65" fill="rgb(88, 126, 146)"/><rect x="327.52" y="102.19" width="96.06" height="1.82" fill="rgb(73, 115, 138)"/><rect x="442.69" y="102.19" width="114.58" height="1.82" fill="rgb(73, 115, 138)"/><rect x="327.52" y="108.91" width="83.91" height="1.98" fill="rgb(58, 105, 130)"/><rect x="439.21" y="108.91" width="118.06" height="1.98" fill="rgb(58, 105, 130)"/><rect x="327.52" y="115.53" width="71.76" height="2.15" fill="rgb(43, 94, 122)"/><rect x="413.17" y="115.53" width="13.89" height="2.15" fill="rgb(43, 94, 122)"/><rect x="443.26" y="115.53" width="114.00" height="2.15" fill="rgb(43, 94, 122)"/><rect x="327.52" y="122.05" width="61.34" height="2.31" fill="rgb(30, 85, 115)"/><rect x="406.57" y="122.05" width="18.17" height="2.31" fill="rgb(30, 85, 115)"/><rect x="462.36" y="122.05" width="94.91" height="2.31" fill="rgb(30, 85, 115)"/><rect x="327.52" y="128.56" width="54.40" height="2.47" fill="rgb(30, 85, 115)"/><rect x="409.12" y="128.56" width="21.41" height="2.47" fill="rgb(30, 85, 115)"/><rect x="479.14" y="128.56" width="78.12" height="2.47" fill="rgb(30, 85, 115)"/><rect x="327.52" y="135.18" width="43.98" height="2.64" fill="rgb(30, 85, 115)"/><rect x="402.41" y="135.18" width="39.12" height="2.64" fill="rgb(30, 85, 115)"/><rect x="501.13" y="135.18" width="56.13" height="2.64" fill="rgb(30, 85, 115)"/><rect x="327.52" y="141.80" width="26.62" height="2.80" fill="rgb(30, 85, 115)"/><rect x="395.00" y="141.80" width="55.79" height="2.80" fill="rgb(30, 85, 115)"/><rect x="530.65" y="141.80" width="26.62" height="2.80" fill="rgb(30, 85, 115)"/></svg><svg style="left:0;top:0" width="700" height="200" viewBox="0 0 700 200"><path d="M654,90 A37.9,42.55 0 1 0 644.4,115.7 L616.4,115.7 A23.6,28.2 0 1 1 639.9,90 Z" fill="#BCBDBF"/><path d="M616.2,95.8 L656,95.8 Q672,96 671.6,111 Q671,120 662,127 L641.5,145 Q640,149 644,150.2 L681.8,150.2 L681.8,164.8 L642,164.8 Q626.4,164 626.4,148 Q627,140 634,134 L656,114.5 Q658.5,111 654.5,110.3 L616.2,110.3 Z" fill="#D8B58A"/></svg><svg style="left:0;top:0" width="2160" height="200" viewBox="0 0 2160 200"><rect x="1905.3" y="75" width="17.8" height="52.6" fill="#35404E"/><path d="M1986.5,90.5 A21.5,20.5 0 1 0 1987,110.5" fill="none" stroke="#35404E" stroke-width="16.5"/><path d="M2001.1,75 L2018.9,75 L2018.9,115 L2047.2,115 L2047.2,127.6 L2001.1,127.6 Z" fill="#35404E"/><path d="M2056,75 L2090,75 Q2110,76 2110,93 Q2109,104 2098,107 Q2103,110 2107,117 L2113.3,127.6 L2095,127.6 L2087,113 Q2083,106 2076,106 L2073.9,106 L2073.9,127.6 L2056,127.6 Z M2073.9,85.6 L2073.9,96.7 L2087,96.7 Q2094,96.5 2094,91 Q2094,85.8 2087,85.6 Z" fill="#35404E" fill-rule="evenodd"/><rect x="1904.4" y="133.9" width="211.7" height="2" fill="#35404E"/><polygon points="1790.84,59.93 1796.95,57.26 1816.81,57.26 1829.03,62.99 1838.20,72.92 1839.73,78.27 1851.95,84.38 1867.99,88.96 1863.41,98.89 1866.47,103.48 1865.70,108.06 1867.99,111.12 1867.23,117.99 1872.58,127.16 1867.99,134.03 1855.77,140.15 1848.13,144.73 1842.78,151.60 1846.60,130.98 1844.31,127.16 1844.31,103.48 1840.49,100.42 1835.15,94.31 1829.03,82.85 1825.98,76.74 1818.34,72.92 1817.57,66.81 1808.41,65.28 1801.53,60.70" fill="#3D4355"/><rect x="1821.20" y="67.00" width="2.67" height="2.67" fill="#FFFFFF"/><rect x="1833.24" y="78.27" width="4.58" height="4.58" fill="#FFFFFF"/><rect x="1845.27" y="107.10" width="2.67" height="2.67" fill="#FFFFFF"/><rect x="1851.00" y="127.73" width="4.97" height="4.97" fill="#FFFFFF"/><rect x="1837.44" y="114.94" width="5.35" height="5.35" fill="#3D4355"/><rect x="1770.97" y="63.37" width="3.06" height="3.06" fill="rgb(195, 226, 18)"/><rect x="1783.77" y="61.65" width="1.15" height="1.15" fill="rgb(185, 223, 21)"/><rect x="1776.32" y="69.10" width="4.58" height="4.58" fill="rgb(176, 219, 25)"/><rect x="1786.25" y="66.81" width="6.88" height="6.88" fill="rgb(164, 215, 29)"/><rect x="1798.09" y="70.63" width="3.82" height="3.82" fill="rgb(147, 209, 35)"/><rect x="1806.69" y="70.05" width="6.49" height="6.49" fill="rgb(133, 204, 40)"/><rect x="1762.57" y="83.61" width="5.35" height="5.35" fill="rgb(165, 216, 28)"/><rect x="1771.36" y="78.27" width="2.29" height="2.29" fill="rgb(169, 217, 27)"/><rect x="1779.00" y="78.65" width="8.40" height="8.40" fill="rgb(149, 210, 34)"/><rect x="1793.51" y="79.41" width="11.46" height="11.46" fill="rgb(125, 202, 42)"/><rect x="1811.46" y="82.09" width="9.93" height="9.93" fill="rgb(101, 194, 58)"/><rect x="1825.40" y="88.01" width="3.44" height="3.44" fill="rgb(86, 192, 91)"/><rect x="1769.83" y="93.16" width="3.82" height="3.82" fill="rgb(141, 207, 37)"/><rect x="1780.14" y="91.63" width="3.06" height="3.06" fill="rgb(132, 204, 40)"/><rect x="1760.28" y="99.66" width="6.11" height="6.11" fill="rgb(138, 206, 38)"/><rect x="1777.85" y="98.89" width="7.64" height="7.64" fill="rgb(115, 198, 46)"/><rect x="1797.52" y="96.79" width="8.79" height="8.79" fill="rgb(95, 193, 71)"/><rect x="1813.56" y="98.32" width="8.79" height="8.79" fill="rgb(76, 191, 112)"/><rect x="1833.24" y="97.75" width="3.82" height="3.82" fill="rgb(63, 190, 141)"/><rect x="1754.55" y="108.82" width="3.06" height="3.06" fill="rgb(133, 204, 40)"/><rect x="1770.40" y="110.16" width="3.44" height="3.44" fill="rgb(110, 196, 48)"/><rect x="1787.02" y="110.73" width="5.35" height="5.35" fill="rgb(89, 193, 84)"/><rect x="1802.30" y="111.50" width="6.88" height="6.88" fill="rgb(71, 191, 125)"/><rect x="1817.57" y="113.03" width="7.64" height="7.64" fill="rgb(61, 188, 167)"/><rect x="1828.65" y="105.77" width="3.82" height="3.82" fill="rgb(60, 189, 157)"/><rect x="1786.44" y="123.91" width="4.20" height="4.20" fill="rgb(72, 191, 122)"/><rect x="1773.27" y="132.12" width="9.17" height="9.17" fill="rgb(67, 190, 133)"/><rect x="1802.30" y="123.72" width="8.40" height="8.40" fill="rgb(61, 188, 170)"/><rect x="1818.34" y="126.39" width="3.06" height="3.06" fill="rgb(63, 186, 203)"/><rect x="1829.42" y="123.72" width="6.88" height="6.88" fill="rgb(64, 185, 231)"/><rect x="1793.32" y="136.52" width="4.20" height="4.20" fill="rgb(61, 188, 181)"/><rect x="1820.82" y="134.61" width="4.20" height="4.20" fill="rgb(65, 185, 235)"/><rect x="1833.81" y="135.75" width="3.44" height="3.44" fill="rgb(65, 185, 235)"/><line x1="1756.08" y1="110.35" x2="1763.33" y2="102.71" stroke="rgb(135, 205, 39)" stroke-width="1"/><line x1="1765.24" y1="86.29" x2="1772.50" y2="79.41" stroke="rgb(167, 216, 28)" stroke-width="1"/><line x1="1781.67" y1="102.71" x2="1799.24" y2="85.14" stroke="rgb(120, 200, 44)" stroke-width="1"/><line x1="1789.69" y1="113.41" x2="1801.91" y2="101.18" stroke="rgb(92, 193, 78)" stroke-width="1"/><line x1="1801.91" y1="101.18" x2="1816.43" y2="87.05" stroke="rgb(98, 194, 65)" stroke-width="1"/><line x1="1805.73" y1="114.94" x2="1817.96" y2="102.71" stroke="rgb(73, 191, 119)" stroke-width="1"/><line x1="1777.85" y1="136.71" x2="1788.54" y2="126.01" stroke="rgb(69, 191, 128)" stroke-width="1"/><line x1="1795.42" y1="138.62" x2="1806.50" y2="127.92" stroke="rgb(61, 188, 176)" stroke-width="1"/><line x1="1822.92" y1="136.71" x2="1832.85" y2="127.16" stroke="rgb(65, 185, 235)" stroke-width="1"/><line x1="1821.39" y1="116.84" x2="1830.56" y2="107.68" stroke="rgb(60, 189, 162)" stroke-width="1"/></svg><svg style="left:0;top:0" width="800" height="1040" viewBox="0 0 800 1040"><defs><filter id="shd" x="-30%" y="-5%" width="160%" height="115%"><feDropShadow dx="1.2" dy="1.5" stdDeviation="1" flood-color="#000" flood-opacity="0.35"/></filter></defs><rect x="43.3" y="710.8" width="694" height="285" rx="44" fill="#EEF2FA" stroke="#DEE4F2" stroke-width="1"/><text x="124" y="752" font-family="Liberation Serif" font-size="20" font-style="italic" font-weight="normal" fill="#000" text-anchor="start">s</text><text x="133" y="756" font-family="Liberation Serif" font-size="14" font-style="italic" font-weight="normal" fill="#000" text-anchor="start">t</text><polyline points="102.5,767.7 116.7,778.8 100.4,782.9" fill="none" stroke="#7A5A45" stroke-width="4.2" stroke-linecap="round" stroke-linejoin="round"/><polyline points="100.4,782.9 100.8,793.3" fill="none" stroke="#B57C80" stroke-width="4" stroke-linecap="round" stroke-linejoin="round"/><polyline points="153.5,767.1 147.3,780.2 158.8,796.2" fill="none" stroke="#7A5A45" stroke-width="4.2" stroke-linecap="round" stroke-linejoin="round"/><polyline points="102.5,767.7 153.5,767.1 165.0,759.0" fill="none" stroke="#8C6A48" stroke-width="4.6" stroke-linecap="round" stroke-linejoin="round"/><polyline points="103.5,767.1 152.5,766.7 164.0,759.2" fill="none" stroke="#D3AE80" stroke-width="2.2" stroke-linecap="round" stroke-linejoin="round"/><text x="131.1" y="815.6" font-family="Liberation Serif" font-size="13.6" font-style="normal" font-weight="normal" fill="#000" text-anchor="middle" textLength="105.3" lengthAdjust="spacingAndGlyphs">Sensory Information</text><polygon points="198,771.6 207.12,771.6 207.12,765.6 217,778.1 207.12,790.6 207.12,784.6 198,784.6" fill="#8FAADC"/><rect x="239" y="734.4" width="89.5" height="82.3" rx="12" fill="#C5E0B4"/><line x1="253.5" y1="760.4" x2="285.8" y2="746.9" stroke="#0E8A7B" stroke-width="1.3"/><line x1="253.5" y1="760.4" x2="285.8" y2="765.6" stroke="#0E8A7B" stroke-width="1.3"/><line x1="253.5" y1="760.4" x2="285.8" y2="784.4" stroke="#0E8A7B" stroke-width="1.3"/><line x1="253.5" y1="760.4" x2="285.8" y2="803.1" stroke="#0E8A7B" stroke-width="1.3"/><line x1="253.5" y1="789.6" x2="285.8" y2="746.9" stroke="#0E8A7B" stroke-width="1.3"/><line x1="253.5" y1="789.6" x2="285.8" y2="765.6" stroke="#0E8A7B" stroke-width="1.3"/><line x1="253.5" y1="789.6" x2="285.8" y2="784.4" stroke="#0E8A7B" stroke-width="1.3"/><line x1="253.5" y1="789.6" x2="285.8" y2="803.1" stroke="#0E8A7B" stroke-width="1.3"/><line x1="285.8" y1="746.9" x2="318" y2="775" stroke="#0E8A7B" stroke-width="1.3"/><line x1="285.8" y1="765.6" x2="318" y2="775" stroke="#0E8A7B" stroke-width="1.3"/><line x1="285.8" y1="784.4" x2="318" y2="775" stroke="#0E8A7B" stroke-width="1.3"/><line x1="285.8" y1="803.1" x2="318" y2="775" stroke="#0E8A7B" stroke-width="1.3"/><circle cx="253.5" cy="760.4" r="6.6" fill="#0E8A7B"/><circle cx="253.5" cy="789.6" r="6.6" fill="#0E8A7B"/><circle cx="285.8" cy="746.9" r="6.6" fill="#0E8A7B"/><circle cx="285.8" cy="765.6" r="6.6" fill="#0E8A7B"/><circle cx="285.8" cy="784.4" r="6.6" fill="#0E8A7B"/><circle cx="285.8" cy="803.1" r="6.6" fill="#0E8A7B"/><circle cx="318" cy="775" r="6.6" fill="#0E8A7B"/><text x="284" y="832" font-family="Liberation Serif" font-size="13.6" font-style="normal" font-weight="normal" fill="#000" text-anchor="middle" textLength="72" lengthAdjust="spacingAndGlyphs">State Encoder</text><polygon points="350,769.5 359.6,769.5 359.6,763.5 370,776.0 359.6,788.5 359.6,782.5 350,782.5" fill="#8FAADC"/><rect x="391.5" y="720.8" width="17" height="112.5" fill="#C5E0B4" stroke="#4472C4" stroke-width="1"/><circle cx="399.9" cy="733.3" r="7.6" fill="#BDD7EE" stroke="#4472C4" stroke-width="0.9"/><circle cx="399.9" cy="754.6" r="7.6" fill="#BDD7EE" stroke="#4472C4" stroke-width="0.9"/><circle cx="399.9" cy="802.7" r="7.6" fill="#BDD7EE" stroke="#4472C4" stroke-width="0.9"/><circle cx="399.9" cy="820.4" r="7.6" fill="#BDD7EE" stroke="#4472C4" stroke-width="0.9"/><text x="428" y="731" font-family="Liberation Serif" font-size="15" font-style="italic" font-weight="normal" fill="#000" text-anchor="start">Z</text><text x="437.5" y="734.5" font-family="Liberation Serif" font-size="12" font-style="italic" font-weight="normal" fill="#000" text-anchor="start">s</text><text x="443" y="737.5" font-family="Liberation Serif" font-size="8.5" font-style="italic" font-weight="normal" fill="#000" text-anchor="start">t</text><text x="449" y="748" font-family="Liberation Serif" font-size="12.3" font-style="normal" font-weight="normal" fill="#000" text-anchor="middle" textLength="35.4" lengthAdjust="spacingAndGlyphs">Sensory</text><text x="448.7" y="760.6" font-family="Liberation Serif" font-size="12.3" font-style="normal" font-weight="normal" fill="#000" text-anchor="middle" textLength="66.7" lengthAdjust="spacingAndGlyphs">Representation</text><rect x="391.5" y="873" width="16.3" height="112.4" fill="#FFE699" stroke="#4472C4" stroke-width="1"/><circle cx="399.6" cy="885.4" r="7.6" fill="#F4B183" stroke="#4472C4" stroke-width="0.9"/><circle cx="399.6" cy="906.25" r="7.6" fill="#F4B183" stroke="#4472C4" stroke-width="0.9"/><circle cx="399.6" cy="954.6" r="7.6" fill="#F4B183" stroke="#4472C4" stroke-width="0.9"/><circle cx="399.6" cy="972.3" r="7.6" fill="#F4B183" stroke="#4472C4" stroke-width="0.9"/><text x="424.8" y="957" font-family="Liberation Serif" font-size="15" font-style="italic" font-weight="normal" fill="#000" text-anchor="start">Z</text><text x="434.1" y="960.3" font-family="Liberation Serif" font-size="10" font-style="italic" font-weight="normal" fill="#000" text-anchor="start">T</text><text x="450.4" y="973" font-family="Liberation Serif" font-size="12.3" font-style="normal" font-weight="normal" fill="#000" text-anchor="middle" textLength="30.2" lengthAdjust="spacingAndGlyphs">Action</text><text x="449.7" y="985.6" font-family="Liberation Serif" font-size="12.3" font-style="normal" font-weight="normal" fill="#000" text-anchor="middle" textLength="66.7" lengthAdjust="spacingAndGlyphs">Representation</text><polyline points="408.5,777 458,777 458,843.7" fill="none" stroke="#4472C4" stroke-width="1.6"/><polyline points="407.7,930.2 458,930.2 458,862.5" fill="none" stroke="#4472C4" stroke-width="1.6"/><polygon points="454.8,815.5 461.2,815.5 458,821.5" fill="#4472C4"/><polygon points="454.8,892.5 461.2,892.5 458,886.5" fill="#4472C4"/><circle cx="458.1" cy="853.1" r="9.3" fill="none" stroke="#4472C4" stroke-width="1.7"/><line x1="448.8" y1="853.1" x2="467.4" y2="853.1" stroke="#4472C4" stroke-width="1.6"/><line x1="458.1" y1="843.8" x2="458.1" y2="862.4" stroke="#4472C4" stroke-width="1.6"/><line x1="467.4" y1="853.1" x2="491" y2="853.1" stroke="#4472C4" stroke-width="1.6"/><polygon points="489.5,849.8 496,853.1 489.5,856.4" fill="#4472C4"/><rect x="501.5" y="775" width="17.7" height="157.3" fill="#F8ECDC" filter="url(#shd)"/><rect x="502.5" y="775.4" width="15.5" height="74.2" rx="2" fill="#C5E0B4" stroke="#8FAADC" stroke-width="0.8" stroke-dasharray="2 1.5"/><rect x="502.5" y="858.3" width="15.5" height="73" rx="2" fill="#FFE699" stroke="#8FAADC" stroke-width="0.8" stroke-dasharray="2 1.5"/><circle cx="510.8" cy="784" r="6.2" fill="#BDD7EE" stroke="#4472C4" stroke-width="0.9"/><circle cx="510.8" cy="797.3" r="6.2" fill="#BDD7EE" stroke="#4472C4" stroke-width="0.9"/><circle cx="510.8" cy="826.5" r="6.2" fill="#BDD7EE" stroke="#4472C4" stroke-width="0.9"/><circle cx="510.8" cy="840.6" r="6.2" fill="#BDD7EE" stroke="#4472C4" stroke-width="0.9"/><circle cx="510.8" cy="865.6" r="6.2" fill="#F4B183" stroke="#4472C4" stroke-width="0.9"/><circle cx="510.8" cy="879.2" r="6.2" fill="#F4B183" stroke="#4472C4" stroke-width="0.9"/><circle cx="510.8" cy="909.4" r="6.2" fill="#F4B183" stroke="#4472C4" stroke-width="0.9"/><circle cx="510.8" cy="924" r="6.2" fill="#F4B183" stroke="#4472C4" stroke-width="0.9"/><text x="529" y="922" font-family="Liberation Serif" font-size="16" font-style="italic" font-weight="normal" fill="#000" text-anchor="start">Z</text><text x="538" y="925" font-family="Liberation Serif" font-size="10" font-style="italic" font-weight="normal" fill="#000" text-anchor="start">A</text><text x="545" y="922" font-family="Liberation Serif" font-size="16" font-style="italic" font-weight="normal" fill="#000" text-anchor="start">(s</text><text x="559.5" y="925" font-family="Liberation Serif" font-size="10" font-style="italic" font-weight="normal" fill="#000" text-anchor="start">t</text><text x="563" y="922" font-family="Liberation Serif" font-size="16" font-style="italic" font-weight="normal" fill="#000" text-anchor="start">, T</text><text x="578" y="925" font-family="Liberation Serif" font-size="10" font-style="italic" font-weight="normal" fill="#000" text-anchor="start">i</text><text x="582" y="922" font-family="Liberation Serif" font-size="16" font-style="italic" font-weight="normal" fill="#000" text-anchor="start">)</text><text x="558.7" y="943.8" font-family="Liberation Serif" font-size="12.3" font-style="normal" font-weight="normal" fill="#000" text-anchor="middle" textLength="65.6" lengthAdjust="spacingAndGlyphs">Sensory-action</text><text x="558.7" y="956.4" font-family="Liberation Serif" font-size="12.3" font-style="normal" font-weight="normal" fill="#000" text-anchor="middle" textLength="65.6" lengthAdjust="spacingAndGlyphs">Representation</text><polygon points="532.7,846.36 541.916,846.36 541.916,840.6 551.9,852.6 541.916,864.6 541.916,858.84 532.7,858.84" fill="#8FAADC"/><polygon points="565.4,829.2 621.7,815 621.7,890 565.4,876.7" fill="#FFD966"/><text x="592.3" y="849" font-family="Liberation Serif" font-size="13.6" font-style="normal" font-weight="normal" fill="#000" text-anchor="middle" textLength="34.4" lengthAdjust="spacingAndGlyphs">Action</text><text x="592.3" y="864.6" font-family="Liberation Serif" font-size="13.6" font-style="normal" font-weight="normal" fill="#000" text-anchor="middle" textLength="43.3" lengthAdjust="spacingAndGlyphs">Decoder</text><polygon points="633.75,847.0939999999999 643.23,847.0939999999999 643.23,841.25 653.5,853.425 643.23,865.6 643.23,859.756 633.75,859.756" fill="#8FAADC"/><rect x="667" y="839" width="42.2" height="27.7" rx="4" fill="#BDD7EE"/><text x="681.5" y="857" font-family="Liberation Serif" font-size="19" font-style="italic" font-weight="normal" fill="#000" text-anchor="start">a</text><text x="692" y="861" font-family="Liberation Serif" font-size="12" font-style="italic" font-weight="normal" fill="#000" text-anchor="start">t</text><text x="688" y="885.4" font-family="Liberation Serif" font-size="13.6" font-style="normal" font-weight="normal" fill="#000" text-anchor="middle" textLength="67.7" lengthAdjust="spacingAndGlyphs">Motor Signal</text><rect x="69" y="868.8" width="146" height="113.5" rx="15" fill="#F6EBDD" stroke="#C9DDB8" stroke-width="1"/><rect x="80.6" y="883" width="15.6" height="75" rx="3" fill="#E4E4E4" stroke="#4472C4" stroke-width="0.9" stroke-dasharray="2.2 1.5"/><circle cx="88.39999999999999" cy="892.7" r="6.2" fill="#B4C7E7" stroke="#4472C4" stroke-width="0.8"/><circle cx="88.39999999999999" cy="906.25" r="6.2" fill="#B4C7E7" stroke="#4472C4" stroke-width="0.8"/><circle cx="88.39999999999999" cy="935.4" r="6.2" fill="#B4C7E7" stroke="#4472C4" stroke-width="0.8"/><circle cx="88.39999999999999" cy="949" r="6.2" fill="#B4C7E7" stroke="#4472C4" stroke-width="0.8"/><rect x="99" y="883" width="15.6" height="75" rx="3" fill="#D2CDBF" stroke="#4472C4" stroke-width="0.9" stroke-dasharray="2.2 1.5"/><circle cx="106.8" cy="892.7" r="6.2" fill="#A9D18E" stroke="#4472C4" stroke-width="0.8"/><circle cx="106.8" cy="906.25" r="6.2" fill="#A9D18E" stroke="#4472C4" stroke-width="0.8"/><circle cx="106.8" cy="935.4" r="6.2" fill="#A9D18E" stroke="#4472C4" stroke-width="0.8"/><circle cx="106.8" cy="949" r="6.2" fill="#A9D18E" stroke="#4472C4" stroke-width="0.8"/><rect x="116.7" y="883" width="15.6" height="75" rx="3" fill="#FFE39A" stroke="#4472C4" stroke-width="0.9" stroke-dasharray="2.2 1.5"/><circle cx="124.5" cy="892.7" r="6.2" fill="#FFF2CC" stroke="#4472C4" stroke-width="0.8"/><circle cx="124.5" cy="906.25" r="6.2" fill="#FFF2CC" stroke="#4472C4" stroke-width="0.8"/><circle cx="124.5" cy="935.4" r="6.2" fill="#FFF2CC" stroke="#4472C4" stroke-width="0.8"/><circle cx="124.5" cy="949" r="6.2" fill="#FFF2CC" stroke="#4472C4" stroke-width="0.8"/><rect x="152" y="883" width="15.6" height="75" rx="3" fill="#FFE39A" stroke="#4472C4" stroke-width="0.9" stroke-dasharray="2.2 1.5"/><circle cx="159.8" cy="892.7" r="6.2" fill="#F4B183" stroke="#4472C4" stroke-width="0.8"/><circle cx="159.8" cy="906.25" r="6.2" fill="#F4B183" stroke="#4472C4" stroke-width="0.8"/><circle cx="159.8" cy="935.4" r="6.2" fill="#F4B183" stroke="#4472C4" stroke-width="0.8"/><circle cx="159.8" cy="949" r="6.2" fill="#F4B183" stroke="#4472C4" stroke-width="0.8"/><rect x="170" y="883" width="15.6" height="75" rx="3" fill="#5BC3E3" stroke="#4472C4" stroke-width="0.9" stroke-dasharray="2.2 1.5"/><circle cx="177.8" cy="892.7" r="6.2" fill="#8CC16A" stroke="#4472C4" stroke-width="0.8"/><circle cx="177.8" cy="906.25" r="6.2" fill="#8CC16A" stroke="#4472C4" stroke-width="0.8"/><circle cx="177.8" cy="935.4" r="6.2" fill="#8CC16A" stroke="#4472C4" stroke-width="0.8"/><circle cx="177.8" cy="949" r="6.2" fill="#8CC16A" stroke="#4472C4" stroke-width="0.8"/><rect x="188" y="883" width="15.6" height="75" rx="3" fill="#C8C8C8" stroke="#4472C4" stroke-width="0.9" stroke-dasharray="2.2 1.5"/><circle cx="195.8" cy="892.7" r="6.2" fill="#DAE3F3" stroke="#4472C4" stroke-width="0.8"/><circle cx="195.8" cy="906.25" r="6.2" fill="#DAE3F3" stroke="#4472C4" stroke-width="0.8"/><circle cx="195.8" cy="935.4" r="6.2" fill="#DAE3F3" stroke="#4472C4" stroke-width="0.8"/><circle cx="195.8" cy="949" r="6.2" fill="#DAE3F3" stroke="#4472C4" stroke-width="0.8"/><text x="142.5" y="926" font-family="Liberation Serif" font-size="12" font-style="normal" font-weight="normal" fill="#000" text-anchor="middle">···</text><text x="81.7" y="974" font-family="Liberation Serif" font-size="14" font-style="italic" font-weight="normal" fill="#000" text-anchor="start">Z</text><text x="90.38" y="977.08" font-family="Liberation Serif" font-size="9" font-style="italic" font-weight="normal" fill="#000" text-anchor="start">T</text><text x="97" y="978" font-family="Liberation Serif" font-size="7" font-style="italic" font-weight="normal" fill="#000" text-anchor="start">1</text><text x="152.5" y="974" font-family="Liberation Serif" font-size="14" font-style="italic" font-weight="normal" fill="#000" text-anchor="start">Z</text><text x="161.18" y="977.08" font-family="Liberation Serif" font-size="9" font-style="italic" font-weight="normal" fill="#000" text-anchor="start">T</text><text x="167.5" y="978" font-family="Liberation Serif" font-size="7" font-style="italic" font-weight="normal" fill="#000" text-anchor="start">i</text><text x="188" y="974" font-family="Liberation Serif" font-size="14" font-style="italic" font-weight="normal" fill="#000" text-anchor="start">Z</text><text x="196.68" y="977.08" font-family="Liberation Serif" font-size="9" font-style="italic" font-weight="normal" fill="#000" text-anchor="start">T</text><text x="203" y="978" font-family="Liberation Serif" font-size="7" font-style="italic" font-weight="normal" fill="#000" text-anchor="start">N</text><defs><clipPath id="surf"><path d="M252.5,888.5 Q260.8,910.4 271.2,908.3 Q293.1,905.2 304.2,882.9 Q310.8,887.5 313.3,905.2 Q321.2,892.7 330.0,896.2 Q333.3,910.4 327.5,926.7 Q318.1,914.6 312.9,909.4 Q300.4,933.3 279.6,954.6 Q264.0,945.8 256.7,916.7 Q253.5,900.0 252.5,888.5 "/></clipPath></defs><path d="M252.5,888.5 Q260.8,910.4 271.2,908.3 Q293.1,905.2 304.2,882.9 Q310.8,887.5 313.3,905.2 Q321.2,892.7 330.0,896.2 Q333.3,910.4 327.5,926.7 Q318.1,914.6 312.9,909.4 Q300.4,933.3 279.6,954.6 Q264.0,945.8 256.7,916.7 Q253.5,900.0 252.5,888.5 " fill="#C9C8E8" stroke="#8C8AB4" stroke-width="0.8"/><g clip-path="url(#surf)"><line x1="248.3" y1="879.2" x2="244.2" y2="956.2" stroke="#8E8CB8" stroke-width="0.35"/><line x1="248.3" y1="883.3" x2="335.8" y2="879.2" stroke="#8E8CB8" stroke-width="0.35"/><line x1="248.3" y1="879.2" x2="269.2" y2="956.2" stroke="#A09EC8" stroke-width="0.3"/><line x1="254.2" y1="879.2" x2="248.3" y2="956.2" stroke="#8E8CB8" stroke-width="0.35"/><line x1="248.3" y1="888.3" x2="335.8" y2="883.3" stroke="#8E8CB8" stroke-width="0.35"/><line x1="254.2" y1="879.2" x2="273.3" y2="956.2" stroke="#A09EC8" stroke-width="0.3"/><line x1="260.0" y1="879.2" x2="252.5" y2="956.2" stroke="#8E8CB8" stroke-width="0.35"/><line x1="248.3" y1="893.3" x2="335.8" y2="887.5" stroke="#8E8CB8" stroke-width="0.35"/><line x1="260.0" y1="879.2" x2="277.5" y2="956.2" stroke="#A09EC8" stroke-width="0.3"/><line x1="265.8" y1="879.2" x2="256.7" y2="956.2" stroke="#8E8CB8" stroke-width="0.35"/><line x1="248.3" y1="898.3" x2="335.8" y2="891.7" stroke="#8E8CB8" stroke-width="0.35"/><line x1="265.8" y1="879.2" x2="281.7" y2="956.2" stroke="#A09EC8" stroke-width="0.3"/><line x1="271.7" y1="879.2" x2="260.8" y2="956.2" stroke="#8E8CB8" stroke-width="0.35"/><line x1="248.3" y1="903.3" x2="335.8" y2="895.8" stroke="#8E8CB8" stroke-width="0.35"/><line x1="271.7" y1="879.2" x2="285.8" y2="956.2" stroke="#A09EC8" stroke-width="0.3"/><line x1="277.5" y1="879.2" x2="265.0" y2="956.2" stroke="#8E8CB8" stroke-width="0.35"/><line x1="248.3" y1="908.3" x2="335.8" y2="900.0" stroke="#8E8CB8" stroke-width="0.35"/><line x1="277.5" y1="879.2" x2="290.0" y2="956.2" stroke="#A09EC8" stroke-width="0.3"/><line x1="283.3" y1="879.2" x2="269.2" y2="956.2" stroke="#8E8CB8" stroke-width="0.35"/><line x1="248.3" y1="913.3" x2="335.8" y2="904.2" stroke="#8E8CB8" stroke-width="0.35"/><line x1="283.3" y1="879.2" x2="294.2" y2="956.2" stroke="#A09EC8" stroke-width="0.3"/><line x1="289.2" y1="879.2" x2="273.3" y2="956.2" stroke="#8E8CB8" stroke-width="0.35"/><line x1="248.3" y1="918.3" x2="335.8" y2="908.3" stroke="#8E8CB8" stroke-width="0.35"/><line x1="289.2" y1="879.2" x2="298.3" y2="956.2" stroke="#A09EC8" stroke-width="0.3"/><line x1="295.0" y1="879.2" x2="277.5" y2="956.2" stroke="#8E8CB8" stroke-width="0.35"/><line x1="248.3" y1="923.3" x2="335.8" y2="912.5" stroke="#8E8CB8" stroke-width="0.35"/><line x1="295.0" y1="879.2" x2="302.5" y2="956.2" stroke="#A09EC8" stroke-width="0.3"/><line x1="300.8" y1="879.2" x2="281.7" y2="956.2" stroke="#8E8CB8" stroke-width="0.35"/><line x1="248.3" y1="928.3" x2="335.8" y2="916.7" stroke="#8E8CB8" stroke-width="0.35"/><line x1="300.8" y1="879.2" x2="306.7" y2="956.2" stroke="#A09EC8" stroke-width="0.3"/><line x1="306.7" y1="879.2" x2="285.8" y2="956.2" stroke="#8E8CB8" stroke-width="0.35"/><line x1="248.3" y1="933.3" x2="335.8" y2="920.8" stroke="#8E8CB8" stroke-width="0.35"/><line x1="306.7" y1="879.2" x2="310.8" y2="956.2" stroke="#A09EC8" stroke-width="0.3"/><line x1="312.5" y1="879.2" x2="290.0" y2="956.2" stroke="#8E8CB8" stroke-width="0.35"/><line x1="248.3" y1="938.3" x2="335.8" y2="925.0" stroke="#8E8CB8" stroke-width="0.35"/><line x1="312.5" y1="879.2" x2="315.0" y2="956.2" stroke="#A09EC8" stroke-width="0.3"/><line x1="318.3" y1="879.2" x2="294.2" y2="956.2" stroke="#8E8CB8" stroke-width="0.35"/><line x1="248.3" y1="943.3" x2="335.8" y2="929.2" stroke="#8E8CB8" stroke-width="0.35"/><line x1="318.3" y1="879.2" x2="319.2" y2="956.2" stroke="#A09EC8" stroke-width="0.3"/><line x1="324.2" y1="879.2" x2="298.3" y2="956.2" stroke="#8E8CB8" stroke-width="0.35"/><line x1="248.3" y1="948.3" x2="335.8" y2="933.3" stroke="#8E8CB8" stroke-width="0.35"/><line x1="324.2" y1="879.2" x2="323.3" y2="956.2" stroke="#A09EC8" stroke-width="0.3"/><line x1="330.0" y1="879.2" x2="302.5" y2="956.2" stroke="#8E8CB8" stroke-width="0.35"/><line x1="248.3" y1="953.3" x2="335.8" y2="937.5" stroke="#8E8CB8" stroke-width="0.35"/><line x1="330.0" y1="879.2" x2="327.5" y2="956.2" stroke="#A09EC8" stroke-width="0.3"/><line x1="335.8" y1="879.2" x2="306.7" y2="956.2" stroke="#8E8CB8" stroke-width="0.35"/><line x1="248.3" y1="958.3" x2="335.8" y2="941.7" stroke="#8E8CB8" stroke-width="0.35"/><line x1="335.8" y1="879.2" x2="331.7" y2="956.2" stroke="#A09EC8" stroke-width="0.3"/></g><polyline points="88.3,883 88.3,862.5 269,862.5 269,909" fill="none" stroke="#4472C4" stroke-width="1.3" stroke-dasharray="3 2"/><polyline points="159.8,883 159.8,851 307.3,851 307.3,889" fill="none" stroke="#4472C4" stroke-width="1.3"/><polyline points="195.8,883 195.8,840.6 295.8,840.6 295.8,899" fill="none" stroke="#4472C4" stroke-width="1.3" stroke-dasharray="3 2"/><circle cx="269" cy="913.5" r="1.9" fill="#4472C4"/><circle cx="295.8" cy="902.5" r="1.9" fill="#4472C4"/><circle cx="307.3" cy="892.5" r="1.9" fill="#4472C4"/><text x="313" y="882" font-family="Liberation Serif" font-size="15" font-style="italic" font-weight="normal" fill="#000" text-anchor="start">T</text><text x="322" y="885" font-family="Liberation Serif" font-size="9" font-style="italic" font-weight="normal" fill="#000" text-anchor="start">i</text><text x="289" y="917" font-family="Liberation Serif" font-size="15" font-style="italic" font-weight="normal" fill="#000" text-anchor="start">T</text><text x="298" y="921" font-family="Liberation Serif" font-size="9" font-style="italic" font-weight="normal" fill="#000" text-anchor="start">N</text><text x="260" y="928" font-family="Liberation Serif" font-size="15" font-style="italic" font-weight="normal" fill="#000" text-anchor="start">T</text><text x="269" y="932" font-family="Liberation Serif" font-size="9" font-style="italic" font-weight="normal" fill="#000" text-anchor="start">1</text><line x1="313" y1="889.6" x2="391" y2="873" stroke="#5B9BD5" stroke-width="1" stroke-dasharray="2.5 1.8"/><line x1="313" y1="904" x2="391" y2="984.5" stroke="#5B9BD5" stroke-width="1" stroke-dasharray="2.5 1.8"/><text x="292.1" y="968.8" font-family="Liberation Serif" font-size="13.6" font-style="normal" font-weight="normal" fill="#000" text-anchor="middle" textLength="114.6" lengthAdjust="spacingAndGlyphs">Action Representation</text><text x="292.1" y="984.4" font-family="Liberation Serif" font-size="13.6" font-style="normal" font-weight="normal" fill="#000" text-anchor="middle" textLength="87.5" lengthAdjust="spacingAndGlyphs">Self-organization</text></svg><svg style="left:0;top:0" width="2160" height="600" viewBox="0 0 2160 600"><text x="930.2" y="280.8" font-family="Liberation Sans" font-size="13.3" fill="#222" text-anchor="middle" textLength="275" lengthAdjust="spacingAndGlyphs">Raw State Signals v.s. Sensory Representations</text><text x="863.9" y="295.6" font-family="Liberation Sans" font-size="6.6" fill="#222" text-anchor="middle">Time Steps: 15</text><text x="1003.4" y="295.6" font-family="Liberation Sans" font-size="6.6" fill="#222" text-anchor="middle">Time Steps: 15</text><text x="863.9" y="406.5" font-family="Liberation Sans" font-size="6.6" fill="#222" text-anchor="middle">Time Steps: 60</text><text x="1003.4" y="406.5" font-family="Liberation Sans" font-size="6.6" fill="#222" text-anchor="middle">Time Steps: 60</text><rect x="804.7" y="298.3" width="116.89999999999998" height="92.0" fill="#FFFFFF" stroke="#8A8A8A" stroke-width="0.8"/><text x="802.7" y="310.53646209386284" font-family="Liberation Sans" font-size="5.2" fill="#333" text-anchor="end">0.15</text><line x1="803.2" y1="308.7364620938628" x2="804.7" y2="308.7364620938628" stroke="#555" stroke-width="0.5"/><text x="802.7" y="322.8108303249098" font-family="Liberation Sans" font-size="5.2" fill="#333" text-anchor="end">0.10</text><line x1="803.2" y1="321.01083032490976" x2="804.7" y2="321.01083032490976" stroke="#555" stroke-width="0.5"/><text x="802.7" y="335.0851985559567" font-family="Liberation Sans" font-size="5.2" fill="#333" text-anchor="end">0.05</text><line x1="803.2" y1="333.2851985559567" x2="804.7" y2="333.2851985559567" stroke="#555" stroke-width="0.5"/><text x="802.7" y="347.5400722021661" font-family="Liberation Sans" font-size="5.2" fill="#333" text-anchor="end">0.00</text><line x1="803.2" y1="345.74007220216606" x2="804.7" y2="345.74007220216606" stroke="#555" stroke-width="0.5"/><text x="802.7" y="359.814440433213" font-family="Liberation Sans" font-size="5.2" fill="#333" text-anchor="end">−0.05</text><line x1="803.2" y1="358.014440433213" x2="804.7" y2="358.014440433213" stroke="#555" stroke-width="0.5"/><text x="802.7" y="372.08880866425994" font-family="Liberation Sans" font-size="5.2" fill="#333" text-anchor="end">−0.10</text><line x1="803.2" y1="370.28880866425993" x2="804.7" y2="370.28880866425993" stroke="#555" stroke-width="0.5"/><text x="802.7" y="384.3631768953069" font-family="Liberation Sans" font-size="5.2" fill="#333" text-anchor="end">−0.15</text><line x1="803.2" y1="382.56317689530687" x2="804.7" y2="382.56317689530687" stroke="#555" stroke-width="0.5"/><text x="810.0722021660649" y="397.8" font-family="Liberation Sans" font-size="5.2" fill="#333" text-anchor="middle">−0.15</text><line x1="810.0722021660649" y1="390.3" x2="810.0722021660649" y2="391.8" stroke="#555" stroke-width="0.5"/><text x="825.956678700361" y="397.8" font-family="Liberation Sans" font-size="5.2" fill="#333" text-anchor="middle">−0.10</text><line x1="825.956678700361" y1="390.3" x2="825.956678700361" y2="391.8" stroke="#555" stroke-width="0.5"/><text x="841.841155234657" y="397.8" font-family="Liberation Sans" font-size="5.2" fill="#333" text-anchor="middle">−0.05</text><line x1="841.841155234657" y1="390.3" x2="841.841155234657" y2="391.8" stroke="#555" stroke-width="0.5"/><text x="857.9061371841156" y="397.8" font-family="Liberation Sans" font-size="5.2" fill="#333" text-anchor="middle">0.00</text><line x1="857.9061371841156" y1="390.3" x2="857.9061371841156" y2="391.8" stroke="#555" stroke-width="0.5"/><text x="873.7906137184116" y="397.8" font-family="Liberation Sans" font-size="5.2" fill="#333" text-anchor="middle">0.05</text><line x1="873.7906137184116" y1="390.3" x2="873.7906137184116" y2="391.8" stroke="#555" stroke-width="0.5"/><text x="889.6750902527076" y="397.8" font-family="Liberation Sans" font-size="5.2" fill="#333" text-anchor="middle">0.10</text><line x1="889.6750902527076" y1="390.3" x2="889.6750902527076" y2="391.8" stroke="#555" stroke-width="0.5"/><text x="905.7400722021661" y="397.8" font-family="Liberation Sans" font-size="5.2" fill="#333" text-anchor="middle">0.15</text><line x1="905.7400722021661" y1="390.3" x2="905.7400722021661" y2="391.8" stroke="#555" stroke-width="0.5"/><rect x="944.7" y="298.3" width="117.29999999999995" height="92.0" fill="#FFFFFF" stroke="#8A8A8A" stroke-width="0.8"/><text x="942.7" y="301.5111913357401" font-family="Liberation Sans" font-size="5.2" fill="#333" text-anchor="end">0.20</text><line x1="943.2" y1="299.71119133574007" x2="944.7" y2="299.71119133574007" stroke="#555" stroke-width="0.5"/><text x="942.7" y="314.6880866425993" font-family="Liberation Sans" font-size="5.2" fill="#333" text-anchor="end">0.15</text><line x1="943.2" y1="312.88808664259926" x2="944.7" y2="312.88808664259926" stroke="#555" stroke-width="0.5"/><text x="942.7" y="327.68447653429604" font-family="Liberation Sans" font-size="5.2" fill="#333" text-anchor="end">0.10</text><line x1="943.2" y1="325.884476534296" x2="944.7" y2="325.884476534296" stroke="#555" stroke-width="0.5"/><text x="942.7" y="340.86137184115523" font-family="Liberation Sans" font-size="5.2" fill="#333" text-anchor="end">0.05</text><line x1="943.2" y1="339.0613718411552" x2="944.7" y2="339.0613718411552" stroke="#555" stroke-width="0.5"/><text x="942.7" y="353.857761732852" font-family="Liberation Sans" font-size="5.2" fill="#333" text-anchor="end">0.00</text><line x1="943.2" y1="352.057761732852" x2="944.7" y2="352.057761732852" stroke="#555" stroke-width="0.5"/><text x="942.7" y="366.85415162454876" font-family="Liberation Sans" font-size="5.2" fill="#333" text-anchor="end">−0.05</text><line x1="943.2" y1="365.05415162454875" x2="944.7" y2="365.05415162454875" stroke="#555" stroke-width="0.5"/><text x="942.7" y="380.03104693140796" font-family="Liberation Sans" font-size="5.2" fill="#333" text-anchor="end">−0.10</text><line x1="943.2" y1="378.23104693140795" x2="944.7" y2="378.23104693140795" stroke="#555" stroke-width="0.5"/><text x="942.7" y="393.02743682310467" font-family="Liberation Sans" font-size="5.2" fill="#333" text-anchor="end">−0.15</text><line x1="943.2" y1="391.22743682310465" x2="944.7" y2="391.22743682310465" stroke="#555" stroke-width="0.5"/><text x="949.6028880866426" y="397.8" font-family="Liberation Sans" font-size="5.2" fill="#333" text-anchor="middle">−0.15</text><line x1="949.6028880866426" y1="390.3" x2="949.6028880866426" y2="391.8" stroke="#555" stroke-width="0.5"/><text x="969.4584837545126" y="397.8" font-family="Liberation Sans" font-size="5.2" fill="#333" text-anchor="middle">−0.10</text><line x1="969.4584837545126" y1="390.3" x2="969.4584837545126" y2="391.8" stroke="#555" stroke-width="0.5"/><text x="989.3140794223826" y="397.8" font-family="Liberation Sans" font-size="5.2" fill="#333" text-anchor="middle">−0.05</text><line x1="989.3140794223826" y1="390.3" x2="989.3140794223826" y2="391.8" stroke="#555" stroke-width="0.5"/><text x="1009.1696750902527" y="397.8" font-family="Liberation Sans" font-size="5.2" fill="#333" text-anchor="middle">0.00</text><line x1="1009.1696750902527" y1="390.3" x2="1009.1696750902527" y2="391.8" stroke="#555" stroke-width="0.5"/><text x="1029.0252707581228" y="397.8" font-family="Liberation Sans" font-size="5.2" fill="#333" text-anchor="middle">0.05</text><line x1="1029.0252707581228" y1="390.3" x2="1029.0252707581228" y2="391.8" stroke="#555" stroke-width="0.5"/><text x="1048.8808664259927" y="397.8" font-family="Liberation Sans" font-size="5.2" fill="#333" text-anchor="middle">0.10</text><line x1="1048.8808664259927" y1="390.3" x2="1048.8808664259927" y2="391.8" stroke="#555" stroke-width="0.5"/><rect x="804.7" y="409.5" width="116.89999999999998" height="92.39999999999998" fill="#FFFFFF" stroke="#8A8A8A" stroke-width="0.8"/><text x="802.7" y="412.52202166064984" font-family="Liberation Sans" font-size="5.2" fill="#333" text-anchor="end">0.20</text><line x1="803.2" y1="410.72202166064983" x2="804.7" y2="410.72202166064983" stroke="#555" stroke-width="0.5"/><text x="802.7" y="424.25487364620943" font-family="Liberation Sans" font-size="5.2" fill="#333" text-anchor="end">0.15</text><line x1="803.2" y1="422.4548736462094" x2="804.7" y2="422.4548736462094" stroke="#555" stroke-width="0.5"/><text x="802.7" y="435.62671480144405" font-family="Liberation Sans" font-size="5.2" fill="#333" text-anchor="end">0.10</text><line x1="803.2" y1="433.82671480144404" x2="804.7" y2="433.82671480144404" stroke="#555" stroke-width="0.5"/><text x="802.7" y="447.17906137184116" font-family="Liberation Sans" font-size="5.2" fill="#333" text-anchor="end">0.05</text><line x1="803.2" y1="445.37906137184115" x2="804.7" y2="445.37906137184115" stroke="#555" stroke-width="0.5"/><text x="802.7" y="458.9119133574007" font-family="Liberation Sans" font-size="5.2" fill="#333" text-anchor="end">0.00</text><line x1="803.2" y1="457.1119133574007" x2="804.7" y2="457.1119133574007" stroke="#555" stroke-width="0.5"/><text x="802.7" y="470.2837545126354" font-family="Liberation Sans" font-size="5.2" fill="#333" text-anchor="end">−0.05</text><line x1="803.2" y1="468.4837545126354" x2="804.7" y2="468.4837545126354" stroke="#555" stroke-width="0.5"/><text x="802.7" y="482.01660649819496" font-family="Liberation Sans" font-size="5.2" fill="#333" text-anchor="end">−0.10</text><line x1="803.2" y1="480.21660649819495" x2="804.7" y2="480.21660649819495" stroke="#555" stroke-width="0.5"/><text x="802.7" y="493.56895306859207" font-family="Liberation Sans" font-size="5.2" fill="#333" text-anchor="end">−0.15</text><line x1="803.2" y1="491.76895306859205" x2="804.7" y2="491.76895306859205" stroke="#555" stroke-width="0.5"/><text x="810.0722021660649" y="509.4" font-family="Liberation Sans" font-size="5.2" fill="#333" text-anchor="middle">−0.15</text><line x1="810.0722021660649" y1="501.9" x2="810.0722021660649" y2="503.4" stroke="#555" stroke-width="0.5"/><text x="825.5956678700361" y="509.4" font-family="Liberation Sans" font-size="5.2" fill="#333" text-anchor="middle">−0.10</text><line x1="825.5956678700361" y1="501.9" x2="825.5956678700361" y2="503.4" stroke="#555" stroke-width="0.5"/><text x="841.2996389891697" y="509.4" font-family="Liberation Sans" font-size="5.2" fill="#333" text-anchor="middle">−0.05</text><line x1="841.2996389891697" y1="501.9" x2="841.2996389891697" y2="503.4" stroke="#555" stroke-width="0.5"/><text x="857.0036101083033" y="509.4" font-family="Liberation Sans" font-size="5.2" fill="#333" text-anchor="middle">0.00</text><line x1="857.0036101083033" y1="501.9" x2="857.0036101083033" y2="503.4" stroke="#555" stroke-width="0.5"/><text x="872.8880866425993" y="509.4" font-family="Liberation Sans" font-size="5.2" fill="#333" text-anchor="middle">0.05</text><line x1="872.8880866425993" y1="501.9" x2="872.8880866425993" y2="503.4" stroke="#555" stroke-width="0.5"/><text x="888.5920577617328" y="509.4" font-family="Liberation Sans" font-size="5.2" fill="#333" text-anchor="middle">0.10</text><line x1="888.5920577617328" y1="501.9" x2="888.5920577617328" y2="503.4" stroke="#555" stroke-width="0.5"/><text x="904.4765342960288" y="509.4" font-family="Liberation Sans" font-size="5.2" fill="#333" text-anchor="middle">0.15</text><line x1="904.4765342960288" y1="501.9" x2="904.4765342960288" y2="503.4" stroke="#555" stroke-width="0.5"/><text x="920.1805054151624" y="509.4" font-family="Liberation Sans" font-size="5.2" fill="#333" text-anchor="middle">0.20</text><line x1="920.1805054151624" y1="501.9" x2="920.1805054151624" y2="503.4" stroke="#555" stroke-width="0.5"/><rect x="944.7" y="409.5" width="117.29999999999995" height="92.39999999999998" fill="#FFFFFF" stroke="#8A8A8A" stroke-width="0.8"/><text x="942.7" y="416.49314079422385" font-family="Liberation Sans" font-size="5.2" fill="#333" text-anchor="end">0.20</text><line x1="943.2" y1="414.69314079422384" x2="944.7" y2="414.69314079422384" stroke="#555" stroke-width="0.5"/><text x="942.7" y="428.22599277978344" font-family="Liberation Sans" font-size="5.2" fill="#333" text-anchor="end">0.15</text><line x1="943.2" y1="426.4259927797834" x2="944.7" y2="426.4259927797834" stroke="#555" stroke-width="0.5"/><text x="942.7" y="439.958844765343" font-family="Liberation Sans" font-size="5.2" fill="#333" text-anchor="end">0.10</text><line x1="943.2" y1="438.15884476534296" x2="944.7" y2="438.15884476534296" stroke="#555" stroke-width="0.5"/><text x="942.7" y="451.33068592057765" font-family="Liberation Sans" font-size="5.2" fill="#333" text-anchor="end">0.05</text><line x1="943.2" y1="449.53068592057764" x2="944.7" y2="449.53068592057764" stroke="#555" stroke-width="0.5"/><text x="942.7" y="462.52202166064984" font-family="Liberation Sans" font-size="5.2" fill="#333" text-anchor="end">0.00</text><line x1="943.2" y1="460.72202166064983" x2="944.7" y2="460.72202166064983" stroke="#555" stroke-width="0.5"/><text x="942.7" y="474.25487364620943" font-family="Liberation Sans" font-size="5.2" fill="#333" text-anchor="end">−0.05</text><line x1="943.2" y1="472.4548736462094" x2="944.7" y2="472.4548736462094" stroke="#555" stroke-width="0.5"/><text x="942.7" y="485.62671480144405" font-family="Liberation Sans" font-size="5.2" fill="#333" text-anchor="end">−0.10</text><line x1="943.2" y1="483.82671480144404" x2="944.7" y2="483.82671480144404" stroke="#555" stroke-width="0.5"/><text x="942.7" y="497.35956678700364" font-family="Liberation Sans" font-size="5.2" fill="#333" text-anchor="end">−0.15</text><line x1="943.2" y1="495.55956678700363" x2="944.7" y2="495.55956678700363" stroke="#555" stroke-width="0.5"/><text x="962.7797833935018" y="509.4" font-family="Liberation Sans" font-size="5.2" fill="#333" text-anchor="middle">−0.15</text><line x1="962.7797833935018" y1="501.9" x2="962.7797833935018" y2="503.4" stroke="#555" stroke-width="0.5"/><text x="979.3862815884477" y="509.4" font-family="Liberation Sans" font-size="5.2" fill="#333" text-anchor="middle">−0.10</text><line x1="979.3862815884477" y1="501.9" x2="979.3862815884477" y2="503.4" stroke="#555" stroke-width="0.5"/><text x="996.173285198556" y="509.4" font-family="Liberation Sans" font-size="5.2" fill="#333" text-anchor="middle">−0.05</text><line x1="996.173285198556" y1="501.9" x2="996.173285198556" y2="503.4" stroke="#555" stroke-width="0.5"/><text x="1013.1407942238267" y="509.4" font-family="Liberation Sans" font-size="5.2" fill="#333" text-anchor="middle">0.00</text><line x1="1013.1407942238267" y1="501.9" x2="1013.1407942238267" y2="503.4" stroke="#555" stroke-width="0.5"/><text x="1031.7328519855596" y="509.4" font-family="Liberation Sans" font-size="5.2" fill="#333" text-anchor="middle">0.05</text><line x1="1031.7328519855596" y1="501.9" x2="1031.7328519855596" y2="503.4" stroke="#555" stroke-width="0.5"/><text x="1048.8808664259927" y="509.4" font-family="Liberation Sans" font-size="5.2" fill="#333" text-anchor="middle">0.10</text><line x1="1048.8808664259927" y1="501.9" x2="1048.8808664259927" y2="503.4" stroke="#555" stroke-width="0.5"/><path transform="scale(.5)" d="M1651 620l42-5 71 19 5 23 58 48 5 22-86 10-37 25-22 11-14-45-16-2-5-62-32 32 64-32 2-58" fill="none" stroke="#3A9AD9" stroke-width="1.8" stroke-dasharray="4.4 2.4"/><circle cx="825.6" cy="310.2" r="2.5" fill="#D5E44A"/><text x="827.1" y="309.7" font-family="Liberation Sans" font-size="4.2" fill="#222">0</text><circle cx="846.7" cy="307.3" r="2.5" fill="#1B6E5A"/><text x="848.2" y="306.8" font-family="Liberation Sans" font-size="4.2" fill="#222">1</text><circle cx="881.9" cy="316.9" r="2.5" fill="#1B6E5A"/><text x="883.4" y="316.4" font-family="Liberation Sans" font-size="4.2" fill="#222">2</text><circle cx="884.6" cy="328.6" r="2.5" fill="#D5E44A"/><text x="886.1" y="328.1" font-family="Liberation Sans" font-size="4.2" fill="#222">3</text><circle cx="913.5" cy="352.6" r="2.5" fill="#1B6E5A"/><text x="915.0" y="352.1" font-family="Liberation Sans" font-size="4.2" fill="#222">4</text><circle cx="916.2" cy="363.4" r="2.5" fill="#D5E44A"/><text x="917.7" y="362.9" font-family="Liberation Sans" font-size="4.2" fill="#222">5</text><circle cx="872.9" cy="368.7" r="2.5" fill="#1B6E5A"/><text x="874.4" y="368.2" font-family="Liberation Sans" font-size="4.2" fill="#222">6</text><circle cx="854.5" cy="380.9" r="2.5" fill="#1B6E5A"/><text x="856.0" y="380.4" font-family="Liberation Sans" font-size="4.2" fill="#222">7</text><circle cx="843.6" cy="386.4" r="2.5" fill="#D5E44A"/><text x="845.1" y="385.9" font-family="Liberation Sans" font-size="4.2" fill="#222">8</text><circle cx="836.4" cy="363.8" r="2.5" fill="#D5E44A"/><text x="837.9" y="363.3" font-family="Liberation Sans" font-size="4.2" fill="#222">9</text><circle cx="828.7" cy="363.2" r="2.5" fill="#1B6E5A"/><text x="830.2" y="362.7" font-family="Liberation Sans" font-size="4.2" fill="#222">10</text><circle cx="826.0" cy="332.2" r="2.5" fill="#D5E44A"/><text x="827.5" y="331.7" font-family="Liberation Sans" font-size="4.2" fill="#222">11</text><circle cx="810.1" cy="347.9" r="2.5" fill="#1B6E5A"/><text x="811.6" y="347.4" font-family="Liberation Sans" font-size="4.2" fill="#222">12</text><circle cx="841.8" cy="332.2" r="2.5" fill="#D5E44A"/><text x="843.3" y="331.7" font-family="Liberation Sans" font-size="4.2" fill="#222">13</text><circle cx="843.1" cy="302.8" r="2.5" fill="#D5E44A"/><text x="844.6" y="302.3" font-family="Liberation Sans" font-size="4.2" fill="#222">14</text><path transform="scale(.5)" d="M1905 664l-5 19 14-7-11 27 63 39 26 22 37 9 18-14 33-17 18-13 8-33 7-40-20-51-76 40-60-13" fill="none" stroke="#3A9AD9" stroke-width="1.8" stroke-dasharray="4.4 2.4"/><circle cx="952.3" cy="332.2" r="2.5" fill="#1B6E5A"/><text x="953.8" y="331.7" font-family="Liberation Sans" font-size="4.2" fill="#222">0</text><circle cx="950.1" cy="341.6" r="2.5" fill="#1B6E5A"/><text x="951.6" y="341.1" font-family="Liberation Sans" font-size="4.2" fill="#222">1</text><circle cx="956.8" cy="338.0" r="2.5" fill="#D5E44A"/><text x="958.3" y="337.5" font-family="Liberation Sans" font-size="4.2" fill="#222">2</text><circle cx="951.4" cy="351.7" r="2.5" fill="#D5E44A"/><text x="952.9" y="351.2" font-family="Liberation Sans" font-size="4.2" fill="#222">3</text><circle cx="983.0" cy="371.0" r="2.5" fill="#1B6E5A"/><text x="984.5" y="370.5" font-family="Liberation Sans" font-size="4.2" fill="#222">4</text><circle cx="996.0" cy="381.8" r="2.5" fill="#1B6E5A"/><text x="997.5" y="381.3" font-family="Liberation Sans" font-size="4.2" fill="#222">5</text><circle cx="1014.6" cy="386.4" r="2.5" fill="#1B6E5A"/><text x="1016.1" y="385.9" font-family="Liberation Sans" font-size="4.2" fill="#222">6</text><circle cx="1023.6" cy="379.5" r="2.5" fill="#D5E44A"/><text x="1025.1" y="379.0" font-family="Liberation Sans" font-size="4.2" fill="#222">7</text><circle cx="1040.2" cy="371.0" r="2.5" fill="#1B6E5A"/><text x="1041.7" y="370.5" font-family="Liberation Sans" font-size="4.2" fill="#222">8</text><circle cx="1048.9" cy="364.7" r="2.5" fill="#1B6E5A"/><text x="1050.4" y="364.2" font-family="Liberation Sans" font-size="4.2" fill="#222">9</text><circle cx="1052.9" cy="348.1" r="2.5" fill="#1B6E5A"/><text x="1054.4" y="347.6" font-family="Liberation Sans" font-size="4.2" fill="#222">10</text><circle cx="1056.6" cy="328.2" r="2.5" fill="#D5E44A"/><text x="1058.1" y="327.7" font-family="Liberation Sans" font-size="4.2" fill="#222">11</text><circle cx="1046.5" cy="302.4" r="2.5" fill="#D5E44A"/><text x="1048.0" y="301.9" font-family="Liberation Sans" font-size="4.2" fill="#222">12</text><circle cx="1008.3" cy="322.3" r="2.5" fill="#D5E44A"/><text x="1009.8" y="321.8" font-family="Liberation Sans" font-size="4.2" fill="#222">13</text><circle cx="978.5" cy="316.0" r="2.5" fill="#1B6E5A"/><text x="980.0" y="315.5" font-family="Liberation Sans" font-size="4.2" fill="#222">14</text><path transform="scale(.5)" d="M1651 847l33-15 22 2 24-7 8 9 22 23 7 22 22 23 34 24 6 20-22 9-38 0-25 0-37 23-21 11 51 6-20-58-31 11-29-4-11 0 4-14 2-18-13-15-19 18 33-49-1 20 30 2 5-18 53-27 55-16 1 38-48 23 35-2-16 29 33 36 14-21-7 28-65-1-32-11-37 29-36 16 22-31 7-14 26 2-44-6-3-41-9-8 19-28 29-33 11 7 33-11 11 8 23 23 31 43 27 22 12 24-23 14-24-11-32 4 18 0" fill="none" stroke="#3A9AD9" stroke-width="1.8" stroke-dasharray="4.4 2.4"/><circle cx="825.6" cy="423.4" r="2.5" fill="#D5E44A"/><text x="827.1" y="422.9" font-family="Liberation Sans" font-size="4.2" fill="#222">0</text><circle cx="841.8" cy="416.1" r="2.5" fill="#1B6E5A"/><text x="843.3" y="415.6" font-family="Liberation Sans" font-size="4.2" fill="#222">1</text><circle cx="853.0" cy="417.0" r="2.5" fill="#1B6E5A"/><text x="854.5" y="416.5" font-family="Liberation Sans" font-size="4.2" fill="#222">2</text><circle cx="864.8" cy="413.4" r="2.5" fill="#1B6E5A"/><text x="866.3" y="412.9" font-family="Liberation Sans" font-size="4.2" fill="#222">3</text><circle cx="868.9" cy="417.9" r="2.5" fill="#1B6E5A"/><text x="870.4" y="417.4" font-family="Liberation Sans" font-size="4.2" fill="#222">4</text><circle cx="880.1" cy="429.7" r="2.5" fill="#D5E44A"/><text x="881.6" y="429.2" font-family="Liberation Sans" font-size="4.2" fill="#222">5</text><circle cx="883.7" cy="440.5" r="2.5" fill="#D5E44A"/><text x="885.2" y="440.0" font-family="Liberation Sans" font-size="4.2" fill="#222">6</text><circle cx="894.5" cy="452.2" r="2.5" fill="#1B6E5A"/><text x="896.0" y="451.7" font-family="Liberation Sans" font-size="4.2" fill="#222">7</text><circle cx="911.7" cy="464.0" r="2.5" fill="#D5E44A"/><text x="913.2" y="463.5" font-family="Liberation Sans" font-size="4.2" fill="#222">8</text><circle cx="914.4" cy="473.9" r="2.5" fill="#D5E44A"/><text x="915.9" y="473.4" font-family="Liberation Sans" font-size="4.2" fill="#222">9</text><circle cx="903.6" cy="478.4" r="2.5" fill="#1B6E5A"/><text x="905.1" y="477.9" font-family="Liberation Sans" font-size="4.2" fill="#222">10</text><circle cx="884.6" cy="478.4" r="2.5" fill="#1B6E5A"/><text x="886.1" y="477.9" font-family="Liberation Sans" font-size="4.2" fill="#222">11</text><circle cx="872.0" cy="478.4" r="2.5" fill="#1B6E5A"/><text x="873.5" y="477.9" font-family="Liberation Sans" font-size="4.2" fill="#222">12</text><circle cx="853.4" cy="490.1" r="2.5" fill="#1B6E5A"/><text x="854.9" y="489.6" font-family="Liberation Sans" font-size="4.2" fill="#222">13</text><circle cx="843.1" cy="495.6" r="2.5" fill="#1B6E5A"/><text x="844.6" y="495.1" font-family="Liberation Sans" font-size="4.2" fill="#222">14</text><circle cx="868.4" cy="498.3" r="2.5" fill="#D5E44A"/><text x="869.9" y="497.8" font-family="Liberation Sans" font-size="4.2" fill="#222">15</text><circle cx="858.4" cy="469.4" r="2.5" fill="#1B6E5A"/><text x="859.9" y="468.9" font-family="Liberation Sans" font-size="4.2" fill="#222">16</text><circle cx="843.1" cy="474.8" r="2.5" fill="#1B6E5A"/><text x="844.6" y="474.3" font-family="Liberation Sans" font-size="4.2" fill="#222">17</text><circle cx="828.7" cy="473.0" r="2.5" fill="#1B6E5A"/><text x="830.2" y="472.5" font-family="Liberation Sans" font-size="4.2" fill="#222">18</text><circle cx="823.2" cy="473.0" r="2.5" fill="#1B6E5A"/><text x="824.7" y="472.5" font-family="Liberation Sans" font-size="4.2" fill="#222">19</text><circle cx="825.1" cy="465.8" r="2.5" fill="#1B6E5A"/><text x="826.6" y="465.3" font-family="Liberation Sans" font-size="4.2" fill="#222">20</text><circle cx="826.0" cy="456.8" r="2.5" fill="#D5E44A"/><text x="827.5" y="456.3" font-family="Liberation Sans" font-size="4.2" fill="#222">21</text><circle cx="819.6" cy="449.5" r="2.5" fill="#1B6E5A"/><text x="821.1" y="449.0" font-family="Liberation Sans" font-size="4.2" fill="#222">22</text><circle cx="810.1" cy="458.6" r="2.5" fill="#1B6E5A"/><text x="811.6" y="458.1" font-family="Liberation Sans" font-size="4.2" fill="#222">23</text><circle cx="826.3" cy="434.2" r="2.5" fill="#D5E44A"/><text x="827.8" y="433.7" font-family="Liberation Sans" font-size="4.2" fill="#222">24</text><circle cx="826.0" cy="444.1" r="2.5" fill="#D5E44A"/><text x="827.5" y="443.6" font-family="Liberation Sans" font-size="4.2" fill="#222">25</text><circle cx="840.8" cy="445.0" r="2.5" fill="#1B6E5A"/><text x="842.3" y="444.5" font-family="Liberation Sans" font-size="4.2" fill="#222">26</text><circle cx="843.6" cy="436.0" r="2.5" fill="#D5E44A"/><text x="845.1" y="435.5" font-family="Liberation Sans" font-size="4.2" fill="#222">27</text><circle cx="870.2" cy="422.5" r="2.5" fill="#1B6E5A"/><text x="871.7" y="422.0" font-family="Liberation Sans" font-size="4.2" fill="#222">28</text><circle cx="897.3" cy="414.3" r="2.5" fill="#1B6E5A"/><text x="898.8" y="413.8" font-family="Liberation Sans" font-size="4.2" fill="#222">29</text><circle cx="898.2" cy="433.3" r="2.5" fill="#1B6E5A"/><text x="899.7" y="432.8" font-family="Liberation Sans" font-size="4.2" fill="#222">30</text><circle cx="873.8" cy="445.0" r="2.5" fill="#1B6E5A"/><text x="875.3" y="444.5" font-family="Liberation Sans" font-size="4.2" fill="#222">31</text><circle cx="891.3" cy="444.1" r="2.5" fill="#D5E44A"/><text x="892.8" y="443.6" font-family="Liberation Sans" font-size="4.2" fill="#222">32</text><circle cx="883.4" cy="458.6" r="2.5" fill="#1B6E5A"/><text x="884.9" y="458.1" font-family="Liberation Sans" font-size="4.2" fill="#222">33</text><circle cx="900.0" cy="476.6" r="2.5" fill="#D5E44A"/><text x="901.5" y="476.1" font-family="Liberation Sans" font-size="4.2" fill="#222">34</text><circle cx="907.2" cy="465.8" r="2.5" fill="#1B6E5A"/><text x="908.7" y="465.3" font-family="Liberation Sans" font-size="4.2" fill="#222">35</text><circle cx="903.6" cy="480.2" r="2.5" fill="#1B6E5A"/><text x="905.1" y="479.7" font-family="Liberation Sans" font-size="4.2" fill="#222">36</text><circle cx="871.1" cy="479.3" r="2.5" fill="#D5E44A"/><text x="872.6" y="478.8" font-family="Liberation Sans" font-size="4.2" fill="#222">37</text><circle cx="854.8" cy="473.9" r="2.5" fill="#D5E44A"/><text x="856.3" y="473.4" font-family="Liberation Sans" font-size="4.2" fill="#222">38</text><circle cx="836.4" cy="488.3" r="2.5" fill="#D5E44A"/><text x="837.9" y="487.8" font-family="Liberation Sans" font-size="4.2" fill="#222">39</text><circle cx="818.4" cy="496.5" r="2.5" fill="#1B6E5A"/><text x="819.9" y="496.0" font-family="Liberation Sans" font-size="4.2" fill="#222">40</text><circle cx="829.6" cy="481.1" r="2.5" fill="#D5E44A"/><text x="831.1" y="480.6" font-family="Liberation Sans" font-size="4.2" fill="#222">41</text><circle cx="833.2" cy="473.9" r="2.5" fill="#1B6E5A"/><text x="834.7" y="473.4" font-family="Liberation Sans" font-size="4.2" fill="#222">42</text><circle cx="845.8" cy="474.8" r="2.5" fill="#D5E44A"/><text x="847.3" y="474.3" font-family="Liberation Sans" font-size="4.2" fill="#222">43</text><circle cx="824.2" cy="472.1" r="2.5" fill="#D5E44A"/><text x="825.7" y="471.6" font-family="Liberation Sans" font-size="4.2" fill="#222">44</text><circle cx="822.3" cy="451.3" r="2.5" fill="#D5E44A"/><text x="823.8" y="450.8" font-family="Liberation Sans" font-size="4.2" fill="#222">45</text><circle cx="817.8" cy="447.7" r="2.5" fill="#D5E44A"/><text x="819.3" y="447.2" font-family="Liberation Sans" font-size="4.2" fill="#222">46</text><circle cx="827.4" cy="433.3" r="2.5" fill="#D5E44A"/><text x="828.9" y="432.8" font-family="Liberation Sans" font-size="4.2" fill="#222">47</text><circle cx="842.2" cy="417.0" r="2.5" fill="#D5E44A"/><text x="843.7" y="416.5" font-family="Liberation Sans" font-size="4.2" fill="#222">48</text><circle cx="847.6" cy="420.6" r="2.5" fill="#1B6E5A"/><text x="849.1" y="420.1" font-family="Liberation Sans" font-size="4.2" fill="#222">49</text><circle cx="863.9" cy="415.2" r="2.5" fill="#1B6E5A"/><text x="865.4" y="414.7" font-family="Liberation Sans" font-size="4.2" fill="#222">50</text><circle cx="869.3" cy="418.8" r="2.5" fill="#1B6E5A"/><text x="870.8" y="418.3" font-family="Liberation Sans" font-size="4.2" fill="#222">51</text><circle cx="881.0" cy="430.6" r="2.5" fill="#1B6E5A"/><text x="882.5" y="430.1" font-family="Liberation Sans" font-size="4.2" fill="#222">52</text><circle cx="896.4" cy="452.2" r="2.5" fill="#1B6E5A"/><text x="897.9" y="451.7" font-family="Liberation Sans" font-size="4.2" fill="#222">53</text><circle cx="909.9" cy="463.1" r="2.5" fill="#1B6E5A"/><text x="911.4" y="462.6" font-family="Liberation Sans" font-size="4.2" fill="#222">54</text><circle cx="916.2" cy="474.8" r="2.5" fill="#D5E44A"/><text x="917.7" y="474.3" font-family="Liberation Sans" font-size="4.2" fill="#222">55</text><circle cx="904.5" cy="482.0" r="2.5" fill="#1B6E5A"/><text x="906.0" y="481.5" font-family="Liberation Sans" font-size="4.2" fill="#222">56</text><circle cx="892.7" cy="476.6" r="2.5" fill="#1B6E5A"/><text x="894.2" y="476.1" font-family="Liberation Sans" font-size="4.2" fill="#222">57</text><circle cx="876.5" cy="478.4" r="2.5" fill="#1B6E5A"/><text x="878.0" y="477.9" font-family="Liberation Sans" font-size="4.2" fill="#222">58</text><circle cx="885.5" cy="478.4" r="2.5" fill="#D5E44A"/><text x="887.0" y="477.9" font-family="Liberation Sans" font-size="4.2" fill="#222">59</text><path transform="scale(.5)" d="M1901 919l2-22 25-11 45-27 54 9 65-32 22 3-5 60-6 16-12 27-13 20-24 9-25 13-3 7-20-22-24-12-56-25 0-11-11-18 58-27 36 10 85-25 16 16 2 40-23 33-29 28-33 4-43-9-58-41-20-18 13-15 54-7 25-6 91-41 20 9-2 45-15 36-10 22-37 20-21 9-36-22-54-29-22-20 18-12 47-20 50-16 69-31 16 9-7 65-18 36-16 20-22 7-22 16-47-18-57-39-22-15 16-9 20-13 34-28 65-2" fill="none" stroke="#3A9AD9" stroke-width="1.8" stroke-dasharray="4.4 2.4"/><circle cx="950.5" cy="459.5" r="2.5" fill="#D5E44A"/><text x="952.0" y="459.0" font-family="Liberation Sans" font-size="4.2" fill="#222">0</text><circle cx="951.4" cy="448.6" r="2.5" fill="#D5E44A"/><text x="952.9" y="448.1" font-family="Liberation Sans" font-size="4.2" fill="#222">1</text><circle cx="964.0" cy="443.2" r="2.5" fill="#1B6E5A"/><text x="965.5" y="442.7" font-family="Liberation Sans" font-size="4.2" fill="#222">2</text><circle cx="986.6" cy="429.7" r="2.5" fill="#D5E44A"/><text x="988.1" y="429.2" font-family="Liberation Sans" font-size="4.2" fill="#222">3</text><circle cx="1013.7" cy="434.2" r="2.5" fill="#D5E44A"/><text x="1015.2" y="433.7" font-family="Liberation Sans" font-size="4.2" fill="#222">4</text><circle cx="1046.2" cy="417.9" r="2.5" fill="#1B6E5A"/><text x="1047.7" y="417.4" font-family="Liberation Sans" font-size="4.2" fill="#222">5</text><circle cx="1057.0" cy="419.7" r="2.5" fill="#1B6E5A"/><text x="1058.5" y="419.2" font-family="Liberation Sans" font-size="4.2" fill="#222">6</text><circle cx="1054.3" cy="449.5" r="2.5" fill="#1B6E5A"/><text x="1055.8" y="449.0" font-family="Liberation Sans" font-size="4.2" fill="#222">7</text><circle cx="1051.6" cy="457.7" r="2.5" fill="#1B6E5A"/><text x="1053.1" y="457.2" font-family="Liberation Sans" font-size="4.2" fill="#222">8</text><circle cx="1045.3" cy="471.2" r="2.5" fill="#D5E44A"/><text x="1046.8" y="470.7" font-family="Liberation Sans" font-size="4.2" fill="#222">9</text><circle cx="1039.0" cy="481.1" r="2.5" fill="#1B6E5A"/><text x="1040.5" y="480.6" font-family="Liberation Sans" font-size="4.2" fill="#222">10</text><circle cx="1027.2" cy="485.6" r="2.5" fill="#D5E44A"/><text x="1028.7" y="485.1" font-family="Liberation Sans" font-size="4.2" fill="#222">11</text><circle cx="1014.6" cy="491.9" r="2.5" fill="#D5E44A"/><text x="1016.1" y="491.4" font-family="Liberation Sans" font-size="4.2" fill="#222">12</text><circle cx="1012.8" cy="495.6" r="2.5" fill="#D5E44A"/><text x="1014.3" y="495.1" font-family="Liberation Sans" font-size="4.2" fill="#222">13</text><circle cx="1002.9" cy="484.7" r="2.5" fill="#D5E44A"/><text x="1004.4" y="484.2" font-family="Liberation Sans" font-size="4.2" fill="#222">14</text><circle cx="991.1" cy="478.4" r="2.5" fill="#1B6E5A"/><text x="992.6" y="477.9" font-family="Liberation Sans" font-size="4.2" fill="#222">15</text><circle cx="962.8" cy="465.8" r="2.5" fill="#1B6E5A"/><text x="964.3" y="465.3" font-family="Liberation Sans" font-size="4.2" fill="#222">16</text><circle cx="963.1" cy="460.4" r="2.5" fill="#1B6E5A"/><text x="964.6" y="459.9" font-family="Liberation Sans" font-size="4.2" fill="#222">17</text><circle cx="957.7" cy="451.3" r="2.5" fill="#1B6E5A"/><text x="959.2" y="450.8" font-family="Liberation Sans" font-size="4.2" fill="#222">18</text><circle cx="986.6" cy="437.8" r="2.5" fill="#D5E44A"/><text x="988.1" y="437.3" font-family="Liberation Sans" font-size="4.2" fill="#222">19</text><circle cx="1004.7" cy="443.2" r="2.5" fill="#D5E44A"/><text x="1006.2" y="442.7" font-family="Liberation Sans" font-size="4.2" fill="#222">20</text><circle cx="1047.1" cy="430.6" r="2.5" fill="#1B6E5A"/><text x="1048.6" y="430.1" font-family="Liberation Sans" font-size="4.2" fill="#222">21</text><circle cx="1055.2" cy="438.7" r="2.5" fill="#1B6E5A"/><text x="1056.7" y="438.2" font-family="Liberation Sans" font-size="4.2" fill="#222">22</text><circle cx="1056.1" cy="458.6" r="2.5" fill="#1B6E5A"/><text x="1057.6" y="458.1" font-family="Liberation Sans" font-size="4.2" fill="#222">23</text><circle cx="1044.4" cy="474.8" r="2.5" fill="#1B6E5A"/><text x="1045.9" y="474.3" font-family="Liberation Sans" font-size="4.2" fill="#222">24</text><circle cx="1029.9" cy="489.2" r="2.5" fill="#D5E44A"/><text x="1031.4" y="488.7" font-family="Liberation Sans" font-size="4.2" fill="#222">25</text><circle cx="1013.7" cy="491.0" r="2.5" fill="#1B6E5A"/><text x="1015.2" y="490.5" font-family="Liberation Sans" font-size="4.2" fill="#222">26</text><circle cx="992.0" cy="486.5" r="2.5" fill="#1B6E5A"/><text x="993.5" y="486.0" font-family="Liberation Sans" font-size="4.2" fill="#222">27</text><circle cx="963.1" cy="465.8" r="2.5" fill="#1B6E5A"/><text x="964.6" y="465.3" font-family="Liberation Sans" font-size="4.2" fill="#222">28</text><circle cx="953.2" cy="456.8" r="2.5" fill="#D5E44A"/><text x="954.7" y="456.3" font-family="Liberation Sans" font-size="4.2" fill="#222">29</text><circle cx="959.5" cy="449.5" r="2.5" fill="#D5E44A"/><text x="961.0" y="449.0" font-family="Liberation Sans" font-size="4.2" fill="#222">30</text><circle cx="986.6" cy="445.9" r="2.5" fill="#D5E44A"/><text x="988.1" y="445.4" font-family="Liberation Sans" font-size="4.2" fill="#222">31</text><circle cx="999.2" cy="443.2" r="2.5" fill="#1B6E5A"/><text x="1000.7" y="442.7" font-family="Liberation Sans" font-size="4.2" fill="#222">32</text><circle cx="1044.4" cy="422.5" r="2.5" fill="#1B6E5A"/><text x="1045.9" y="422.0" font-family="Liberation Sans" font-size="4.2" fill="#222">33</text><circle cx="1054.3" cy="427.0" r="2.5" fill="#1B6E5A"/><text x="1055.8" y="426.5" font-family="Liberation Sans" font-size="4.2" fill="#222">34</text><circle cx="1053.4" cy="449.5" r="2.5" fill="#D5E44A"/><text x="1054.9" y="449.0" font-family="Liberation Sans" font-size="4.2" fill="#222">35</text><circle cx="1046.2" cy="467.6" r="2.5" fill="#1B6E5A"/><text x="1047.7" y="467.1" font-family="Liberation Sans" font-size="4.2" fill="#222">36</text><circle cx="1040.8" cy="478.4" r="2.5" fill="#1B6E5A"/><text x="1042.3" y="477.9" font-family="Liberation Sans" font-size="4.2" fill="#222">37</text><circle cx="1022.7" cy="488.3" r="2.5" fill="#1B6E5A"/><text x="1024.2" y="487.8" font-family="Liberation Sans" font-size="4.2" fill="#222">38</text><circle cx="1011.9" cy="492.9" r="2.5" fill="#1B6E5A"/><text x="1013.4" y="492.4" font-family="Liberation Sans" font-size="4.2" fill="#222">39</text><circle cx="993.8" cy="482.0" r="2.5" fill="#D5E44A"/><text x="995.3" y="481.5" font-family="Liberation Sans" font-size="4.2" fill="#222">40</text><circle cx="966.8" cy="467.6" r="2.5" fill="#D5E44A"/><text x="968.3" y="467.1" font-family="Liberation Sans" font-size="4.2" fill="#222">41</text><circle cx="955.9" cy="457.7" r="2.5" fill="#1B6E5A"/><text x="957.4" y="457.2" font-family="Liberation Sans" font-size="4.2" fill="#222">42</text><circle cx="964.9" cy="451.3" r="2.5" fill="#D5E44A"/><text x="966.4" y="450.8" font-family="Liberation Sans" font-size="4.2" fill="#222">43</text><circle cx="988.4" cy="441.4" r="2.5" fill="#D5E44A"/><text x="989.9" y="440.9" font-family="Liberation Sans" font-size="4.2" fill="#222">44</text><circle cx="1013.7" cy="433.3" r="2.5" fill="#D5E44A"/><text x="1015.2" y="432.8" font-family="Liberation Sans" font-size="4.2" fill="#222">45</text><circle cx="1048.0" cy="417.9" r="2.5" fill="#1B6E5A"/><text x="1049.5" y="417.4" font-family="Liberation Sans" font-size="4.2" fill="#222">46</text><circle cx="1056.1" cy="422.5" r="2.5" fill="#D5E44A"/><text x="1057.6" y="422.0" font-family="Liberation Sans" font-size="4.2" fill="#222">47</text><circle cx="1052.5" cy="454.9" r="2.5" fill="#D5E44A"/><text x="1054.0" y="454.4" font-family="Liberation Sans" font-size="4.2" fill="#222">48</text><circle cx="1043.5" cy="473.0" r="2.5" fill="#1B6E5A"/><text x="1045.0" y="472.5" font-family="Liberation Sans" font-size="4.2" fill="#222">49</text><circle cx="1035.3" cy="482.9" r="2.5" fill="#D5E44A"/><text x="1036.8" y="482.4" font-family="Liberation Sans" font-size="4.2" fill="#222">50</text><circle cx="1024.5" cy="486.5" r="2.5" fill="#D5E44A"/><text x="1026.0" y="486.0" font-family="Liberation Sans" font-size="4.2" fill="#222">51</text><circle cx="1013.7" cy="494.7" r="2.5" fill="#D5E44A"/><text x="1015.2" y="494.2" font-family="Liberation Sans" font-size="4.2" fill="#222">52</text><circle cx="990.2" cy="485.6" r="2.5" fill="#D5E44A"/><text x="991.7" y="485.1" font-family="Liberation Sans" font-size="4.2" fill="#222">53</text><circle cx="961.3" cy="465.8" r="2.5" fill="#1B6E5A"/><text x="962.8" y="465.3" font-family="Liberation Sans" font-size="4.2" fill="#222">54</text><circle cx="950.5" cy="458.6" r="2.5" fill="#D5E44A"/><text x="952.0" y="458.1" font-family="Liberation Sans" font-size="4.2" fill="#222">55</text><circle cx="958.6" cy="454.0" r="2.5" fill="#D5E44A"/><text x="960.1" y="453.5" font-family="Liberation Sans" font-size="4.2" fill="#222">56</text><circle cx="968.6" cy="447.7" r="2.5" fill="#D5E44A"/><text x="970.1" y="447.2" font-family="Liberation Sans" font-size="4.2" fill="#222">57</text><circle cx="985.7" cy="433.3" r="2.5" fill="#D5E44A"/><text x="987.2" y="432.8" font-family="Liberation Sans" font-size="4.2" fill="#222">58</text><circle cx="1018.2" cy="432.4" r="2.5" fill="#D5E44A"/><text x="1019.7" y="431.9" font-family="Liberation Sans" font-size="4.2" fill="#222">59</text><defs><clipPath id="sph"><ellipse cx="1268.4" cy="405.7" rx="115" ry="100"/></clipPath><linearGradient id="jetR" x1="0.45" y1="0.05" x2="0.62" y2="1"><stop offset="0" stop-color="#D04448"/><stop offset="0.13" stop-color="#DC6A62"/><stop offset="0.4" stop-color="#EEA062"/><stop offset="0.62" stop-color="#E6DA5C"/><stop offset="0.8" stop-color="#A6DE92"/><stop offset="1" stop-color="#58D6D0"/></linearGradient><linearGradient id="bluL" x1="0" y1="0" x2="1" y2="0"><stop offset="0" stop-color="#56609E"/><stop offset="0.3" stop-color="#6C74C0"/><stop offset="0.75" stop-color="#7884CE"/><stop offset="1" stop-color="#7C9ADA"/></linearGradient><linearGradient id="stripG" x1="0" y1="0" x2="0" y2="1"><stop offset="0" stop-color="#86B0E4"/><stop offset="0.6" stop-color="#7CB2E4"/><stop offset="1" stop-color="#66C6D8"/></linearGradient><radialGradient id="shade" cx="0.62" cy="0.38" r="0.7"><stop offset="0.55" stop-color="#000" stop-opacity="0"/><stop offset="1" stop-color="#000" stop-opacity="0.22"/></radialGradient><linearGradient id="jetbar" x1="0" y1="1" x2="0" y2="0"><stop offset="0" stop-color="#00007F"/><stop offset="0.11" stop-color="#0000FF"/><stop offset="0.35" stop-color="#00FFFF"/><stop offset="0.5" stop-color="#7FFF7F"/><stop offset="0.63" stop-color="#FFFF00"/><stop offset="0.88" stop-color="#FF0000"/><stop offset="1" stop-color="#7F0000"/></linearGradient></defs><g clip-path="url(#sph)"><rect x="1153.4" y="305.7" width="230" height="200" fill="url(#jetR)"/><polygon points="1210.8,320.7 1223.2,316.3 1232.1,324.3 1239.2,333.1 1246.2,343.7 1253.3,357.9 1255.1,373.8 1267.5,388.0 1276.3,407.5 1279.9,427.0 1294.0,434.0 1304.7,453.5 1315.3,478.3 1317.1,492.5 1299.3,527.9 1122.3,527.9 1122.3,280.0 1207.3,280.0" fill="url(#bluL)"/><polygon points="1223.2,317.2 1239.2,333.1 1246.2,343.7 1253.3,357.9 1255.1,373.8 1267.5,388.0 1276.3,407.5 1279.9,427.0 1294.0,434.0 1304.7,453.5 1315.3,478.3 1317.1,492.5 1295.8,508.4 1263.9,508.4 1253.3,474.8 1239.2,439.3 1235.6,403.9 1232.1,359.7 1219.7,350.8 1214.4,326.0" fill="url(#stripG)" opacity="0.92"/><rect x="1153.4" y="305.7" width="230" height="200" fill="url(#shade)"/><path transform="scale(.5)" d="M2767 811l-1-13-2-14-4-13-4-13-7-12-7-13-9-11-10-12-11-10-13-10-13-9-14-9-15-7-16-7-16-6-17-4-18-4-17-2-18-2-18-1M2763 847l2-13 1-14-1-13-2-14-3-13-5-13-7-13-7-13-9-12-10-12-11-11-12-10-13-10-15-9-14-8-16-7-17-6-16-5-18-5-17-3-18-2-18-2M2752 881l5-12 4-13 2-13 0-14 0-13-2-14-4-14-5-13-6-13-7-13-9-12-10-12-11-12-12-11-13-10-14-9-15-9-15-8-17-7-16-6-17-5-18-4-17-3-18-2M2742 902l6-12 5-13 3-13 2-13 1-13-1-14-2-13-3-14-5-14-6-13-7-13-9-13-9-12-11-12-12-12-13-10-14-10-14-9-15-9-16-7-17-7-16-6-17-4-18-4-17-3M2721 931l8-10 7-12 6-11 5-13 3-12 2-13 1-14-1-13-2-14-3-14-5-14-6-13-7-14-8-13-9-12-11-13-11-12-13-11-13-10-14-10-15-9-15-8-16-7-17-7-16-5-17-4-17-4M2705 947l10-9 8-10 6-11 6-11 4-13 4-12 2-13 0-13 0-14-2-14-4-14-4-14-6-14-6-13-8-14-10-13-10-13-11-12-12-11-13-11-13-11-15-9-14-9-16-8-16-7-16-6-16-5-16-4M2688 962l10-8 9-9 7-10 7-11 5-11 4-12 4-12 1-13 1-14-1-13-1-14-4-14-4-14-5-14-7-14-7-14-9-13-10-14-10-12-12-12-12-12-13-11-14-10-14-9-15-8-15-8-15-7-16-5-15-5M2670 974l10-6 9-8 8-9 8-9 6-11 5-11 4-12 3-12 2-13 0-13 0-14-2-14-3-14-4-14-5-14-6-15-8-14-8-13-9-14-10-13-11-12-11-12-13-12-13-10-13-10-14-9-14-8-15-7-14-6-15-6M2661 979l10-6 8-7 8-9 7-9 6-10 4-11 4-12 3-12 1-13 1-13-1-14-1-14-3-14-4-14-4-15-6-14-7-15-8-14-8-13-10-14-10-13-11-12-11-12-12-11-13-10-13-10-13-9-14-7-13-7-14-6M2642 989l10-5 8-6 8-7 7-8 7-9 5-10 4-11 4-11 2-12 2-13 0-13 0-14-2-14-2-15-4-14-4-15-5-14-7-15-7-14-8-14-8-14-10-14-10-12-10-13-11-11-12-11-12-10-12-9-13-8-12-7-13-7M2633 993l8-5 8-5 7-7 7-8 6-9 4-10 4-10 4-11 2-13 1-12 1-13-1-14-1-14-2-15-4-14-4-15-4-15-6-15-7-14-7-15-8-14-8-14-9-13-10-12-10-12-11-12-11-10-11-10-11-8-12-8-11-7M2614 1000l8-4 8-4 7-5 7-7 5-7 5-9 5-10 3-10 3-11 2-12 1-13 1-13-1-14-1-14-2-15-3-14-3-15-5-15-5-15-5-15-7-15-7-14-8-14-8-14-8-13-9-12-10-12-9-10-10-10-11-9-10-9-10-7M2604 1002l7-2 7-5 6-5 6-6 5-7 4-9 4-9 3-10 3-12 1-11 1-13 1-13-1-14-1-14-1-15-3-15-3-15-4-15-4-15-5-15-6-15-6-15-7-14-7-14-7-13-8-13-8-12-9-11-8-10-9-10-9-8-9-8M2594 1005l6-3 6-4 5-5 4-6 5-7 3-8 4-9 2-11 2-11 2-11 1-13 0-13 0-14-1-14-2-15-2-15-2-15-4-15-3-16-5-15-4-15-5-15-6-14-6-14-6-14-7-13-7-12-7-12-8-10-7-10-8-9-7-8M2578 1008l5-1 5-3 4-3 5-5 3-6 4-7 3-8 2-9 3-10 1-11 1-12 1-13 0-13 0-14-1-14-1-15-1-15-3-15-2-15-3-16-4-15-3-15-5-15-4-15-5-14-5-14-5-13-6-13-6-12-6-10-6-10-6-10-6-8M2568 1010l4-2 3-2 4-3 3-5 3-6 3-7 2-8 2-9 1-10 2-11 1-11 0-13 0-13 0-14 0-14-1-15-2-15-1-15-2-16-2-15-3-16-3-15-3-16-4-14-3-15-4-14-4-13-4-13-5-12-4-11-5-10-5-9-4-9M2558 1011l2-1 3-3 2-3 2-5 2-5 2-7 1-8 2-9 1-10 1-11 0-11 1-13 0-13 0-14-1-14 0-15-1-15-1-16-2-15-1-16-2-15-2-16-2-15-2-15-3-15-2-14-3-13-3-13-3-12-3-11-3-11-3-9-3-9M2547 1011l2-1 1-2 1-3 1-5 1-5 1-7 1-8 0-9 1-10 0-11 1-11 0-13 0-13 0-14 0-14-1-15 0-15-1-16 0-15-1-16-1-15-1-16-1-15-1-15-1-15-2-14-1-14-2-13-1-12-2-11-1-11-2-9-1-9M2537 1011l0 0 0-3 0-3 0-4 0-6 0-7 0-8 0-9 0-9 0-11 0-12 0-12 0-14 0-13 0-15 0-15 0-15 0-15 0-16 0-16 0-15 0-16 0-15 0-15 0-15 0-14 0-14 0-12 0-13 0-11 0-11 0-9 0-9M2526 1011l-1-1-1-2-1-3-1-5-1-5-1-7-1-8-1-9 0-10-1-11 0-11 0-13 0-13 0-14 0-14 0-15 1-15 0-16 1-15 1-16 1-15 1-16 1-15 1-15 1-15 1-14 2-14 1-13 2-12 1-11 2-11 1-9 2-9M2516 1011l-3-1-2-3-2-3-3-5-2-5-1-7-2-8-1-9-1-10-1-11-1-11 0-13 0-13 0-14 0-14 1-15 1-15 1-16 1-15 2-16 1-15 2-16 3-15 2-15 2-15 3-14 3-13 3-13 2-12 3-11 4-11 3-9 3-9M2506 1010l-4-2-4-2-3-3-3-5-3-6-3-7-2-8-2-9-2-10-1-11-1-11-1-13 0-13 0-14 1-14 1-15 1-15 2-15 2-16 2-15 3-16 3-15 3-16 3-14 4-15 4-14 4-13 4-13 4-12 5-11 4-10 5-9 5-9M2496 1008l-5-1-5-3-5-3-4-5-4-6-3-7-3-8-3-9-2-10-2-11-1-12-1-13 0-13 0-14 1-14 1-15 2-15 2-15 3-15 3-16 3-15 4-15 4-15 5-15 5-14 5-14 5-13 6-13 5-12 6-10 6-10 7-10 6-8M2480 1005l-6-3-6-4-5-5-5-6-4-7-4-8-3-9-3-11-2-11-1-11-1-13 0-13 0-14 1-14 1-15 2-15 3-15 3-15 4-16 4-15 5-15 5-15 6-14 6-14 6-14 7-13 7-12 7-12 7-10 8-10 7-9 8-8M2469 1002l-7-2-7-5-6-5-5-6-5-7-5-9-3-9-4-10-2-12-2-11-1-13 0-13 0-14 1-14 2-15 2-15 4-15 3-15 5-15 5-15 5-15 6-15 7-14 7-14 8-13 8-13 8-12 8-11 9-10 9-10 9-8 9-8M2459 1000l-8-4-7-4-8-5-6-7-6-7-5-9-4-10-4-10-2-11-2-12-2-13 0-13 0-14 2-14 2-15 2-14 4-15 4-15 5-15 6-15 6-15 8-14 7-14 8-14 9-13 9-12 9-12 10-10 10-10 10-9 10-9 11-7M2441 993l-9-5-8-5-7-7-6-8-6-9-5-10-4-10-3-11-2-13-2-12 0-13 0-14 2-14 2-15 3-14 4-15 5-15 6-15 6-14 7-15 8-14 9-14 9-13 10-12 10-12 10-12 11-10 11-10 12-8 11-8 12-7M2431 989l-9-5-9-6-8-7-7-8-6-9-5-10-5-11-3-11-3-12-1-13-1-13 1-14 1-14 3-15 3-14 5-15 5-14 6-15 7-14 8-14 9-14 9-14 10-12 11-13 11-11 12-11 12-10 12-9 12-8 13-7 13-7M2412 979l-9-6-9-7-7-9-7-9-6-10-5-11-4-12-2-12-2-13 0-13 0-14 2-14 2-14 4-14 5-15 6-14 7-15 7-14 9-13 9-14 10-13 11-12 12-12 12-11 12-10 13-10 14-9 13-7 14-7 14-6M2404 974l-10-6-10-8-8-9-7-9-6-11-5-11-4-12-3-12-2-13-1-13 1-14 2-14 3-14 4-14 5-14 6-15 7-14 8-13 10-14 10-13 10-12 12-12 12-12 13-10 14-10 14-9 14-8 14-7 15-6 15-6M2385 962l-9-8-9-9-8-10-6-11-6-11-4-12-3-12-2-13 0-14 0-13 2-14 3-14 4-14 6-14 6-14 8-14 9-13 9-14 11-12 11-12 13-12 13-11 13-10 15-9 14-8 15-8 16-7 15-5 16-5M2368 947l-9-9-8-10-7-11-5-11-5-13-3-12-2-13-1-13 1-14 2-14 3-14 5-14 5-14 7-13 8-14 9-13 10-13 11-12 12-11 13-11 14-11 14-9 15-9 15-8 16-7 16-6 16-5 17-4M2353 931l-9-10-7-12-6-11-4-13-4-12-2-13 0-14 0-13 2-14 4-14 4-14 6-13 7-14 9-13 9-12 10-13 12-12 12-11 14-10 14-10 15-9 15-8 16-7 16-7 17-5 17-4 17-4M2332 902l-6-12-5-13-4-13-2-13 0-13 0-14 2-13 4-14 5-14 6-13 7-13 8-13 10-12 11-12 12-12 13-10 13-10 15-9 15-9 16-7 16-7 17-6 17-4 17-4 18-3M2321 881l-4-12-4-13-2-13-1-14 1-13 2-14 4-14 4-13 7-13 7-13 9-12 10-12 11-12 12-11 13-10 14-9 14-9 16-8 16-7 17-6 17-5 17-4 18-3 18-2M2310 847l-2-13 0-14 0-13 2-14 4-13 5-13 6-13 8-13 8-12 10-12 12-11 12-10 13-10 14-9 15-8 16-7 16-6 17-5 17-5 18-3 18-2 18-2M2307 811l1-13 2-14 3-13 5-13 6-12 8-13 9-11 10-12 11-10 12-10 13-9 15-9 15-7 15-7 17-6 17-4 17-4 18-2 18-2 18-1M2310 776l4-13 5-13 6-13 8-12 8-11 10-11 12-10 12-10 13-8 14-8 15-7 16-6 16-5 17-4 17-3 18-2 18-1 18 0M2321 741l7-12 7-11 9-12 10-10 11-10 12-9 13-8 14-7 14-7 16-5 16-4 17-4 17-2 17-1 18 0 18 0M2332 721l7-11 8-11 10-10 11-9 12-9 13-8 13-6 15-6 15-5 16-4 16-2 17-2 17-1 17 1 18 1M2353 692l9-10 10-9 12-8 12-7 14-6 14-5 15-5 15-3 16-2 16-1 17 0 17 1 17 2M2368 675l10-8 11-8 12-6 13-6 14-5 14-3 15-3 15-2 16 0 16 1 16 2 17 2M2385 661l11-7 11-7 13-5 13-4 13-3 15-2 14-1 15 0 16 2 15 2 16 3M2404 648l10-5 12-5 12-4 13-2 14-2 14 0 14 0 14 2 15 3 15 4M2422 638l11-4 12-4 12-2 12-1 13 1 14 1 13 2 14 4 14 4M2431 634l10-4 11-3 11-2 12 0 12 1 12 1 12 3 13 4 13 5M2450 626l10-2 10-1 10 0 11 1 11 2 12 3 11 5 12 5M2459 623l9-2 9-1 9 1 10 1 10 3 10 3 10 5 11 6M2477 619l8-1 8 1 8 2 9 3 9 4 9 5 9 6M2486 616l7 0 7 1 7 2 7 4 8 4 7 6 8 6M2496 615l5 0 6 1 5 2 6 4 6 5 7 5 6 7M2506 613l4 0 4 2 4 2 5 4 4 5 5 6 5 7M2516 612l3 1 3 1 2 3 3 4 4 5 3 6 3 7M2526 612l2 0 1 2 2 2 1 4 2 6 1 6 2 7M2537 611l0 1 0 1 0 3 0 4 0 6 0 6 0 7M2547 612l-1 0-2 2-1 2-2 4-1 6-2 6-1 7M2558 612l-3 1-3 1-3 3-3 4-3 5-3 6-3 7M2568 613l-4 0-4 2-5 2-4 4-5 5-5 6-4 7M2578 615l-5 0-6 1-6 2-6 4-6 5-6 5-6 7M2588 616l-7 0-7 1-7 2-8 4-7 4-8 6-7 6M2597 619l-8-1-8 1-9 2-8 3-9 4-9 5-9 6M2614 623l-8-2-9-1-10 1-9 1-10 3-11 3-10 5-10 6M2624 626l-10-2-10-1-11 0-11 1-11 2-11 3-12 5-11 5M2642 634l-10-4-10-3-11-2-12 0-12 1-12 1-13 3-12 4-13 5M2651 638l-11-4-11-4-12-2-13-1-13 1-13 1-14 2-13 4-14 4M2670 648l-11-5-11-5-13-4-13-2-13-2-14 0-14 0-15 2-14 3-15 4M2688 661l-10-7-12-7-12-5-13-4-14-3-14-2-15-1-15 0-15 2-16 2-15 3M2705 675l-10-8-11-8-12-6-13-6-13-5-15-3-14-3-16-2-16 0-16 1-16 2-16 2M2721 692l-9-10-11-9-11-8-13-7-13-6-14-5-15-5-15-3-16-2-17-1-16 0-17 1-17 2M2742 721l-7-11-9-11-9-10-11-9-12-9-13-8-14-6-14-6-15-5-16-4-17-2-16-2-17-1-18 1-17 1M2752 741l-6-12-7-11-9-12-10-10-11-10-12-9-13-8-14-7-15-7-15-5-17-4-16-4-17-2-18-1-17 0-18 0M2763 776l-3-13-5-13-7-13-7-12-9-11-10-11-11-10-12-10-13-8-15-8-14-7-16-6-17-5-16-4-18-3-17-2-18-1-18 0M2578 1008l-10 2-10 1-11 0-10 0-11 0-10 0-10-1-10-2M2614 1000l-10 2-10 3-11 2-11 1-12 2-11 0-12 1-12-1-12 0-11-2-11-1-11-2-11-3-10-2M2642 989l-9 4-11 3-11 4-11 2-12 2-13 2-12 1-13 1-13 0-13 0-13-1-13-1-12-2-12-2-12-2-11-4-10-3-10-4M2670 974l-9 5-9 5-11 4-11 4-12 3-12 3-14 3-13 2-14 1-14 1-14 0-14 0-14-1-14-1-14-2-13-3-13-3-11-3-12-4-10-4-10-5-8-5M2688 962l-8 6-9 5-11 5-11 5-12 4-13 3-13 3-14 3-15 2-15 1-15 1-15 1-15-1-16-1-14-1-15-2-14-3-14-3-13-3-12-4-11-5-10-5-9-5-9-6M2705 947l-7 7-9 6-10 6-11 5-12 5-12 4-14 4-15 3-15 3-15 2-16 2-16 1-16 0-16 0-17-1-15-2-16-2-15-3-14-3-14-4-13-4-12-5-11-5-10-6-8-6-8-7M2721 931l-6 7-8 7-10 6-10 6-12 6-12 5-14 5-14 4-15 3-16 3-16 2-17 2-17 1-17 0-17 0-17-1-17-2-16-2-16-3-15-3-15-4-13-5-13-5-11-6-11-6-9-6-8-7-6-7M2729 921l-6 7-9 7-9 7-11 6-12 6-13 5-15 5-15 4-16 4-16 3-17 2-18 2-17 1-18 0-18 0-18-1-17-2-17-2-17-3-16-4-15-4-14-5-13-5-12-6-11-6-10-7-8-7-7-7M2742 902l-6 7-7 8-8 7-10 7-11 7-13 6-14 5-14 5-16 5-16 4-18 3-17 2-18 2-19 1-18 0-19 0-18-1-18-2-18-2-17-3-16-4-16-5-15-5-13-5-13-6-11-7-10-7-9-7-7-8-5-7M2752 881l-4 9-6 8-7 8-9 7-10 7-12 7-13 6-14 6-15 5-16 5-17 3-17 4-19 2-18 2-19 1-19 1-19-1-19-1-19-2-18-2-18-4-17-3-16-5-15-5-14-6-13-6-11-7-11-7-8-7-8-8-5-8-5-9M2757 869l-4 8-6 8-8 8-9 8-10 7-12 7-13 7-14 6-16 5-16 4-18 4-18 4-18 2-19 2-20 1-19 1-20-1-19-1-19-2-19-2-18-4-17-4-16-4-16-5-14-6-14-7-11-7-11-7-9-8-7-8-6-8-4-8M2763 847l-2 9-5 8-6 9-7 8-9 8-11 7-12 7-14 7-14 5-16 6-17 5-17 4-19 3-18 3-20 2-19 1-20 0-20 0-20-1-19-2-19-3-18-3-18-4-16-5-16-6-15-5-13-7-12-7-11-7-9-8-8-8-6-9-4-8-3-9M2765 834l-2 9-5 8-6 9-7 8-10 8-10 7-13 7-13 7-15 6-16 5-17 5-17 4-19 3-19 3-19 2-20 1-20 1-20-1-20-1-20-2-19-3-18-3-18-4-17-5-16-5-14-6-14-7-12-7-11-7-9-8-8-8-6-9-4-8-3-9M2767 811l-1 9-3 9-4 9-6 8-8 9-9 7-11 8-12 7-14 7-14 6-16 5-17 5-18 4-19 3-19 3-19 2-20 1-20 0-20 0-20-1-20-2-19-3-18-3-18-4-17-5-16-5-15-6-13-7-13-7-10-8-10-7-7-9-6-8-5-9-2-9-1-9M2767 811lM2766 798l-1 9-2 9-5 8-6 9-7 8-10 8-10 7-13 7-13 7-15 6-16 5-17 5-17 4-19 3-19 3-19 2-20 1-20 1-20-1-20-1-20-2-19-3-18-3-18-4-17-5-16-5-14-6-14-7-12-7-11-7-9-8-8-8-6-9-4-8-3-9 0-9M2766 798lM2764 784l-1 9-2 9-5 9-6 8-7 8-9 8-11 7-12 7-14 7-14 6-16 5-17 5-17 4-19 3-18 3-20 2-19 1-20 0-20 0-20-1-19-2-19-3-18-3-18-4-16-5-16-5-15-6-13-7-12-7-11-7-9-8-8-8-6-8-4-9-3-9 0-9 0-8M2763 776l1 8M2760 771l0 9-3 8-4 9-6 8-8 8-9 8-10 7-12 7-13 6-14 6-16 5-16 5-18 4-18 3-18 3-19 2-20 1-19 0-20 0-19-1-19-2-19-3-18-3-17-4-16-5-16-5-14-6-14-6-11-7-11-7-9-8-7-8-6-8-4-9-3-8-1-9 1-8M2760 763l0 8M2756 758l-1 9-3 8-4 8-6 8-7 8-9 8-10 7-12 7-13 6-14 6-15 5-16 4-17 4-17 3-19 3-18 2-19 1-19 0-19 0-19-1-19-2-18-3-18-3-17-4-16-4-15-5-14-6-13-6-11-7-11-7-8-8-8-8-5-8-5-8-2-8-1-9 1-8 2-9M2752 741l3 9 1 8M2749 746l-1 8-2 8-4 8-6 8-7 7-8 8-10 7-11 6-13 6-14 6-14 5-16 4-16 4-18 3-17 3-18 1-19 1-18 1-19-1-18-1-18-1-18-3-17-3-16-4-16-4-15-5-13-6-13-6-11-6-10-7-9-8-7-7-5-8-4-8-3-8-1-8 1-9 3-8 4-8M2742 721l4 8 2 8 1 9M2742 733l-1 8-2 8-4 8-6 7-6 8-9 7-9 6-11 7-12 6-13 5-15 5-15 4-16 4-16 3-17 2-18 2-17 1-18 0-18 0-18-1-17-2-17-2-17-3-16-4-15-4-14-5-13-5-12-6-11-7-10-6-8-7-7-8-5-7-4-8-2-8-1-8 1-8 2-7 4-8M2735 710l4 8 2 7 1 8M2733 722l-1 7-2 8-4 7-5 7-6 7-8 7-10 6-10 6-12 6-12 5-14 5-14 4-15 3-16 3-16 3-17 1-17 1-17 0-17 0-17-1-17-1-16-3-16-3-15-3-15-4-13-5-13-5-11-6-11-6-9-6-8-7-6-7-6-7-3-7-3-8 0-7 0-8 3-8 3-7 6-7M2721 692l5 7 4 7 2 8 1 8M2723 710l-1 7-2 8-3 7-5 7-7 6-7 7-9 6-10 5-11 6-12 5-12 4-14 4-15 3-15 3-15 2-16 2-16 1-16 0-16 0-17-1-15-2-16-2-15-3-14-3-14-4-13-4-12-5-11-6-10-5-8-6-8-7-6-6-5-7-3-7-3-8 0-7 0-7 3-7 3-7 5-7 6-7M2705 675l7 7 5 7 3 7 2 7 1 7M2712 700l-1 6-2 7-3 7-5 6-6 6-7 6-8 6-9 6-11 5-11 4-12 4-13 4-13 3-14 3-15 2-15 1-15 1-15 0-15 0-16-1-14-1-15-2-14-3-14-3-13-4-12-4-11-4-10-5-9-6-9-6-7-6-6-6-4-6-3-7-2-7-1-6 1-7 2-7 3-6 4-7 6-6 7-6M2688 661l7 6 6 6 5 7 3 6 2 7 1 7M2699 690l0 6-2 6-3 6-4 6-6 6-6 6-8 5-9 5-9 5-11 4-11 4-12 3-12 3-14 3-13 1-14 2-14 1-14 0-14 0-14-1-14-2-14-1-13-3-13-3-11-3-12-4-10-4-10-5-8-5-8-5-7-6-5-6-4-6-3-6-2-6-1-6 1-7 2-6 3-6 4-6 5-6 7-5 8-6M2670 648l8 6 6 5 6 6 4 6 3 6 2 6 0 7M2686 681l0 5-2 6-3 6-4 5-5 6-6 5-7 5-8 4-9 4-9 4-11 4-11 3-11 3-12 2-13 2-12 1-13 1-13 0-13 0-13-1-13-1-12-2-12-2-12-3-11-3-10-4-10-4-9-4-8-4-7-5-6-5-5-6-3-5-3-6-2-6-1-5 1-6 2-6 3-6 3-5 5-5 6-6 7-4 8-5 9-4M2642 634l9 4 8 5 7 4 6 6 5 5 4 5 3 6 2 6 0 6M2672 672l-1 5-1 6-3 5-3 5-5 5-5 4-6 5-8 4-8 4-8 3-10 3-10 3-10 3-11 2-11 1-12 1-11 1-12 0-12 0-12-1-11-1-11-1-11-2-11-3-10-3-9-3-9-3-8-4-7-4-6-5-6-4-4-5-4-5-2-5-2-6 0-5 0-5 2-5 2-5 4-5 4-5 6-5 6-4 7-4 8-4 9-4 9-3M2614 623l10 3 8 4 8 4 8 4 6 4 5 5 5 5 3 5 3 5 1 5 1 5M2657 665l0 4-2 5-2 5-3 4-4 4-5 4-6 4-6 4-7 3-8 4-8 2-9 3-9 2-10 2-10 1-10 1-11 1-10 0-11 0-10-1-10-1-10-1-10-2-9-2-9-3-8-2-8-4-7-3-7-4-5-4-5-4-4-4-3-4-3-5-1-5 0-4 0-5 1-5 3-4 3-4 4-5 5-4 5-4 7-4 7-3 8-3 8-3 9-2 9-3 10-1 10-2 10-1 10 0 11-1 10 1 11 0 10 1 10 2 10 1 9 3 9 2 8 3 8 3 7 3 6 4 6 4 5 4 4 5 3 4 2 4 2 5 0 5M2641 658l0 4-1 4-2 4-3 4-4 4-4 3-5 4-5 3-6 3-7 3-7 2-8 2-8 2-8 2-9 1-9 1-9 0-9 0-9 0-9 0-9-1-9-1-8-2-8-2-8-2-7-2-7-3-6-3-6-3-5-4-4-3-3-4-3-4-2-4-1-4-1-4 1-4 1-4 2-4 3-4 3-3 4-4 5-3 6-4 6-3 7-2 7-3 8-2 8-2 8-1 9-2 9 0 9-1 9 0 9 0 9 1 9 0 9 2 8 1 8 2 8 2 7 3 7 2 6 3 5 4 5 3 4 4 4 3 3 4 2 4 1 4 0 4M2625 652l-1 4-1 3-1 4-2 3-3 3-4 3-4 3-5 3-5 2-6 2-6 2-6 2-7 2-7 1-7 1-8 1-8 0-7 1-8-1-7 0-8-1-7-1-7-1-7-2-7-2-6-2-5-2-6-2-4-3-4-3-4-3-3-3-2-3-2-4-1-3 0-4 0-3 1-3 2-4 2-3 3-3 4-3 4-3 4-3 6-2 5-2 6-2 7-2 7-2 7-1 7-1 8-1 7 0 8-1 7 1 8 0 8 1 7 1 7 1 7 2 6 2 6 2 6 2 5 2 5 3 4 3 4 3 3 3 2 3 1 4 1 3 1 3M2608 648l0 3-1 2-2 3-1 3-3 2-3 3-3 2-4 2-4 2-5 2-4 2-6 1-5 1-6 1-6 1-6 1-6 0-6 0-6 0-7 0-6-1-6-1-5-1-6-1-5-1-5-2-4-2-5-2-3-2-4-2-3-3-2-2-2-3-1-3-1-2 0-3 0-3 1-3 1-2 2-3 2-3 3-2 4-2 3-2 5-2 4-2 5-2 5-1 6-2 5-1 6-1 6 0 7-1 6 0 6 0 6 1 6 0 6 1 6 1 5 2 6 1 4 2 5 2 4 2 4 2 3 2 3 2 3 3 1 3 2 2 1 3 0 3M2590 644l0 2 0 2-1 2-2 2-2 2-2 2-2 2-3 1-3 2-4 1-3 2-4 1-5 1-4 1-4 0-5 1-5 0-4 0-5 0-5 0-4-1-5 0-4-1-4-1-4-1-4-2-3-1-3-2-3-1-3-2-2-2-2-2-1-2-1-2-1-2 0-2 0-2 1-2 1-2 1-2 2-2 2-2 3-2 3-1 3-2 3-1 4-1 4-1 4-1 4-1 5-1 4 0 5-1 5 0 4 0 5 1 5 0 4 1 4 1 5 1 4 1 3 1 4 1 3 2 3 1 2 2 2 2 2 2 2 2 1 2 0 2 0 2M2573 642l0 1-1 1 0 2-1 1-2 1-1 1-2 2-2 1-2 1-2 1-3 1-2 0-3 1-3 1-3 0-3 0-3 0-3 0-3 0-3 0-4 0-3 0-2-1-3-1-3 0-2-1-3-1-2-1-2-1-1-2-2-1-1-1-1-1-1-2 0-1 0-1 0-2 0-1 1-2 1-1 1-1 2-1 1-2 2-1 2-1 3-1 2-1 3 0 3-1 2 0 3-1 4 0 3 0 3 0 3 0 3 0 3 0 3 1 3 0 3 1 2 0 3 1 2 1 2 1 2 1 2 2 1 1 2 1 1 1 0 2 1 1 0 2M2555 640l0 1 0 0-1 1 0 1-1 0-1 1 0 1-1 0-1 1-2 0-1 0-1 1-2 0-1 0-2 1-1 0-2 0-1 0-2 0-1 0-2 0-1-1-2 0-1 0-2-1-1 0-1 0-1-1-1 0-1-1-1-1 0 0-1-1 0-1 0 0 0-1 0-1 0 0 0-1 1-1 0 0 1-1 1-1 1 0 1-1 1 0 1-1 2 0 1 0 2-1 1 0 2 0 1 0 2 0 1 0 2 0 1 0 2 0 1 1 2 0 1 0 1 1 2 0 1 1 1 0 0 1 1 1 1 0 0 1 1 1 0 0 0 1" fill="none" stroke="#303040" stroke-width="0.8" opacity="0.32"/></g><ellipse cx="1267.5" cy="319.8" rx="5" ry="2" fill="#B01020" opacity="0.8"/><ellipse cx="1267.5" cy="481.8" rx="5" ry="2" fill="#1070C0" opacity="0.6"/><text x="1265.6" y="281.9" font-family="Liberation Sans" font-size="13.3" fill="#222" text-anchor="middle" textLength="200" lengthAdjust="spacingAndGlyphs">Action Representation Space</text><rect x="1403" y="285.7" width="11.8" height="243.9" fill="url(#jetbar)" stroke="#555" stroke-width="0.4"/><text x="1418.5" y="327.3" font-family="Liberation Sans" font-size="5.2" fill="#333">8</text><text x="1418.5" y="374.2" font-family="Liberation Sans" font-size="5.2" fill="#333">6</text><text x="1418.5" y="421.3" font-family="Liberation Sans" font-size="5.2" fill="#333">4</text><text x="1418.5" y="468.2" font-family="Liberation Sans" font-size="5.2" fill="#333">2</text><text x="1418.5" y="515.5" font-family="Liberation Sans" font-size="5.2" fill="#333">0</text></svg><svg style="left:0;top:0" width="2160" height="1440" viewBox="0 0 2160 1440"><clipPath id="chc1"><rect x="773.4" y="716.7" width="152.35" height="122.30"/></clipPath><rect x="773.4" y="716.7" width="152.35" height="122.30" fill="#EAEAF2"/><line x1="780.10" y1="716.7" x2="780.10" y2="839" stroke="#FFF" stroke-width="0.8"/><text x="780.10" y="845.20" font-family="Liberation Sans" font-size="4.6" fill="#555" text-anchor="middle">0.0</text><line x1="797.50" y1="716.7" x2="797.50" y2="839" stroke="#FFF" stroke-width="0.8"/><text x="797.50" y="845.20" font-family="Liberation Sans" font-size="4.6" fill="#555" text-anchor="middle">0.1</text><line x1="814.90" y1="716.7" x2="814.90" y2="839" stroke="#FFF" stroke-width="0.8"/><text x="814.90" y="845.20" font-family="Liberation Sans" font-size="4.6" fill="#555" text-anchor="middle">0.2</text><line x1="832.30" y1="716.7" x2="832.30" y2="839" stroke="#FFF" stroke-width="0.8"/><text x="832.30" y="845.20" font-family="Liberation Sans" font-size="4.6" fill="#555" text-anchor="middle">0.3</text><line x1="849.71" y1="716.7" x2="849.71" y2="839" stroke="#FFF" stroke-width="0.8"/><text x="849.71" y="845.20" font-family="Liberation Sans" font-size="4.6" fill="#555" text-anchor="middle">0.4</text><line x1="867.11" y1="716.7" x2="867.11" y2="839" stroke="#FFF" stroke-width="0.8"/><text x="867.11" y="845.20" font-family="Liberation Sans" font-size="4.6" fill="#555" text-anchor="middle">0.5</text><line x1="884.51" y1="716.7" x2="884.51" y2="839" stroke="#FFF" stroke-width="0.8"/><text x="884.51" y="845.20" font-family="Liberation Sans" font-size="4.6" fill="#555" text-anchor="middle">0.6</text><line x1="901.91" y1="716.7" x2="901.91" y2="839" stroke="#FFF" stroke-width="0.8"/><text x="901.91" y="845.20" font-family="Liberation Sans" font-size="4.6" fill="#555" text-anchor="middle">0.7</text><line x1="919.31" y1="716.7" x2="919.31" y2="839" stroke="#FFF" stroke-width="0.8"/><text x="919.31" y="845.20" font-family="Liberation Sans" font-size="4.6" fill="#555" text-anchor="middle">0.8</text><line x1="773.4" y1="730.89" x2="925.75" y2="730.89" stroke="#FFF" stroke-width="0.8"/><text x="771.90" y="732.49" font-family="Liberation Sans" font-size="4.6" fill="#555" text-anchor="end">−200</text><line x1="773.4" y1="753.61" x2="925.75" y2="753.61" stroke="#FFF" stroke-width="0.8"/><text x="771.90" y="755.21" font-family="Liberation Sans" font-size="4.6" fill="#555" text-anchor="end">−400</text><line x1="773.4" y1="776.32" x2="925.75" y2="776.32" stroke="#FFF" stroke-width="0.8"/><text x="771.90" y="777.92" font-family="Liberation Sans" font-size="4.6" fill="#555" text-anchor="end">−600</text><line x1="773.4" y1="799.03" x2="925.75" y2="799.03" stroke="#FFF" stroke-width="0.8"/><text x="771.90" y="800.63" font-family="Liberation Sans" font-size="4.6" fill="#555" text-anchor="end">−800</text><line x1="773.4" y1="821.74" x2="925.75" y2="821.74" stroke="#FFF" stroke-width="0.8"/><text x="771.90" y="823.34" font-family="Liberation Sans" font-size="4.6" fill="#555" text-anchor="end">1000</text><g clip-path="url(#chc1)"><path transform="scale(.5)" d="M1560 1628l1-39 1-20 1-11 1-15 2-9 1-8 1-6 1-4 1-5 1 1 1-6 1 0 1-6 1 0 1-1 1-2 1-4 2 3 1-4 1 1 1 0 1-7 1 4 1-3 1-1 1 0 1 1 1-4 1-3 1-1 2 3 1-1 1 6 1 0 1 0 1-1 1 1 1-1 1-1 1-2 1 1 1-1 1-1 1-1 2 2 1-4 1 1 1-2 1 2 1-1 1-2 1-1 1 0 1 0 1-1 1-1 1-1 2-1 1 1 1-1 1-1 1 0 1 1 1-2 1-1 1 2 1-4 1 2 1-3 1 1 2-2 1 0 1 0 1-2 1 2 1-2 1 1 1 1 1-3 1-1 1 2 1-1 1-1 1 1 2-1 1-1 1 1 1-3 1 0 1 0 1-1 1-1 1 1 1-3 1 2 1-1 1 2 2-1 1 0 1-4 1 1 1 2 1 1 1-2 1-1 1 1 1-1 1 1 1 0 1 0 2 0 1-1 1 1 1-2 1 0 1-1 1 4 1-3 1 3 1-2 1-2 1 0 1 1 1 0 2-1 1 1 1 1 1-3 1 0 1 1 1 0 1-1 1-1 1 2 1-1 1 0 1 2 2-1 1-2 1-1 1 1 1 1 1-1 1 0 1 0 1 1 1-2 1 3 1-2 1-2 2 2 1-2 1-1 1 2 1-2 1 2 1 0 1-2 1-2 1 2 1 2 1 0 1-2 1 2 2-2 1 1 1 0 1-1 1 0 1-1 1 2 1 1 1-4 1 4 1-5 1 3 1 1 2 0 1-2 1 0 1 2 1-3 1 3 1-1 1-1 1-1 1 2 1-1 1 2 1-2 2 0 1 1 1-2 1 3 1-3 1-1 1 2 1 0 1-1 1 3 1-3 1 1 1-1 1 1 2-1 1-1 1 3 1-2 1-1 1 1 1 2 1-2 1 0 1-1 1 2 1 2 1-4 2 0 1-1 1 0 1 1 1 0 1 0 1 0 1 1 1-1 1 1 1 0 1-2 1 1 2 0 1-2 1 1 1-1 1 0 1 2 1-1 1-1 1 1 1 0 1 2 1-1 1-1 1 0 2 1 1 0 1 0 1-2 1 0 1 0 1 1 1-1 1 2 1 0 1-2 1 0 1 0 2 0 1 1 0 13-1 1-2 0-1-1-1-2-1 1-1 1-1-1-1 3-1-2-1 1-1 0-1 0-1 0-1 1-2-1-1-2-1 3-1 0-1-1-1-1-1 0-1 1-1-1-1 2-1-1-1 2-1-3-1 3-2-3-1 2-1-1-1 1-1-1-1 2-1 0-1 0-1-1-1 0-1 1-1-1-1 1-2 0-1 2-1-1-1-3-1 2-1-2-1 3-1 0-1-1-1 1-1-2-1-1-1 1-2 0-1 2-1-1-1-2-1 2-1-1-1 2-1-2-1 2-1 0-1-1-1-1-1 1-1 0-2 2-1 0-1 1-1 1-1-5-1 3-1 0-1 2-1-3-1 0-1 1-1 0-1-1-2 2-1 0-1-2-1 1-1-1-1 1-1 1-1-3-1 2-1 0-1-2-1 4-1-2-2 1-1-2-1 1-1 2-1 0-1-3-1 2-1 1-1 0-1-1-1 0-1 0-1 0-1 1-2 1-1 1-1-1-1 0-1 0-1-2-1-1-1 3-1 0-1 1-1-1-1 0-1 1-2 0-1 0-1-1-1 0-1 1-1 0-1 0-1 1-1-1-1 0-1 1-1-1-1 1-2 0-1 1-1 0-1-3-1 2-1 2-1-2-1 1-1-1-1 0-1 1-1-1-1 1-1 1-2 1-1-1-1 2-1-2-1 1-1 0-1 2-1-3-1 1-1 0-1-1-1 1-1 1-2 0-1 0-1 2-1-1-1 3-1-2-1 1-1-1-1-1-1 4-1-1-1 2-1-2-2 4-1-2-1-1-1 2-1 0-1 1-1 3-1-4-1 3-1-2-1 1-1 0-1-1-1 3-2 0-1 1-1 0-1 1-1 0-1-2-1 4-1 0-1 0-1-2-1 2-1 3-1-1-2 1-1 0-1 1-1 3-1 1-1-3-1 0-1 3-1 1-1 0-1 1-1 0-1 2-2 1-1-2-1 0-1 2-1-1-1 3-1 0-1 2-1-1-1 1-1 2-1-1-1 9-1 0-2 6-1 1-1 2-1-5-1 2-1 1-1 3-1 0-1 3-1-3-1 0-1 5-1-2-2 1-1 2-1 2-1 8-1 1-1-1-1 6-1-3-1 6-1 0-1 3-1 6-1 11-2 15-1 6-1 9-1 30-1 31z" fill="#DD8452" opacity="0.28"/><path transform="scale(.5)" d="M1560 1642l1-35 1-24 1-10 1-11 2-12 1-9 1-6 1-4 1-3 1-2 1-1 1-3 1-3 1-1 1-4 1-2 1-3 2 1 1-1 1-2 1 0 1-2 1 0 1-1 1-2 1-1 1 0 1 0 1-2 1-1 2-1 1-1 1-2 1 1 1-1 1-1 1 1 1-1 1-1 1-3 1 1 1-1 1 0 1 0 2 0 1-3 1 1 1-2 1 2 1-2 1-2 1-1 1 2 1-1 1-1 1-2 1 0 2-1 1 1 1-2 1-1 1 1 1 0 1-1 1-2 1 1 1-1 1 0 1-1 1-1 2 0 1-2 1 1 1-2 1 1 1 0 1-1 1 2 1-3 1 0 1 1 1-2 1 0 1 2 2-3 1 0 1 0 1-1 1-2 1 1 1-1 1 0 1 1 1-3 1 2 1-2 1 1 2 0 1-1 1-2 1 1 1 1 1-1 1 1 1-1 1 0 1-1 1 2 1-1 1 0 2 0 1-2 1 1 1-1 1 0 1-1 1 3 1-2 1 2 1-2 1-2 1 2 1 0 1-1 2 0 1 0 1 1 1-2 1 0 1 1 1-1 1 0 1-1 1 1 1 0 1 0 1 1 2-1 1-1 1 0 1 0 1 1 1-1 1-1 1 0 1 1 1 0 1 1 1-1 1-1 2 0 1-1 1 0 1 0 1-1 1 2 1 0 1-1 1-2 1 2 1 1 1-1 1-2 1 3 2-2 1 1 1-2 1 1 1 0 1-1 1 2 1 0 1-2 1 2 1-3 1 2 1 1 2-1 1 0 1 0 1 0 1-1 1 3 1-2 1 0 1-2 1 3 1-1 1 0 1 0 2-1 1 0 1-1 1 2 1-1 1-1 1 0 1 1 1-1 1 1 1-2 1 1 1 1 1-1 2 0 1-1 1 1 1 0 1 0 1 1 1 1 1-3 1 1 1-1 1 2 1 1 1-3 2 0 1-1 1 1 1 0 1 0 1 1 1-1 1 1 1-1 1 1 1-1 1-1 1 0 2 2 1-3 1 2 1-1 1 0 1 0 1 0 1-1 1 1 1 0 1 2 1-1 1-2 1 1 2 1 1 0 1-1 1-1 1 0 1 0 1 1 1-1 1 1 1 0 1-2 1 1 1 0 2 0 1 1" fill="none" stroke="#DD8452" stroke-width="1.8" stroke-linejoin="round"/><path transform="scale(.5)" d="M1560 1661l1-26 1-28 1-28 1-19 2-14 1-17 1-7 1-1 1-1 1-1 1-1 1-1 1-2 1 0 1 0 1-3 1-1 2-1 1-2 1 0 1-1 1 0 1-2 1 0 1-2 1 0 1-1 1-2 1 0 1-1 2-1 1 2 1-3 1-1 1-1 1-2 1 1 1-1 1 0 1-3 1 1 1-1 1-3 1-1 2 1 1-2 1 1 1-1 1-2 1 1 1-3 1 1 1-2 1-1 1-2 1 0 1 0 2 0 1-2 1-1 1-1 1 0 1-3 1 0 1 0 1-2 1 1 1-1 1 0 1-2 2 2 1-1 1-1 1 1 1-1 1 0 1-2 1 2 1-2 1 0 1-1 1-1 1 1 1-1 2 0 1-1 1-1 1 0 1 0 1-1 1-2 1 1 1 0 1-1 1 1 1-1 1-2 2 2 1-2 1 0 1 1 1-1 1-1 1 0 1 1 1 0 1 0 1 0 1 0 1 0 2 0 1-1 1 0 1 1 1-1 1 0 1 0 1 0 1 0 1 1 1-1 1-1 1 1 1-2 2 1 1 0 1 1 1-2 1 2 1-2 1 2 1-1 1 0 1 0 1-1 1-1 1 0 2 1 1 0 1 0 1 0 1 0 1-1 1 0 1 0 1 1 1 0 1-2 1 1 1 0 2 0 1-1 1 1 1-2 1 0 1 3 1-2 1-3 1 4 1-1 1-1 1 1 1-2 1 2 2 0 1-1 1 1 1 0 1-1 1 0 1 0 1 0 1-1 1 0 1 1 1-1 1 0 2 0 1 0 1 1 1-1 1 1 1-2 1 1 1-1 1 0 1 2 1 0 1-1 1 0 2 0 1 1 1-2 1 1 1-1 1 1 1 1 1 0 1-1 1 0 1 0 1-1 1 1 1-2 2 2 1-1 1 0 1 0 1 1 1-1 1 0 1 0 1 0 1 0 1-1 1 1 1 0 2 1 1-2 1 0 1 0 1 0 1 0 1 1 1-1 1 1 1 0 1-1 1 0 1-1 2 1 1 1 1 0 1-1 1 0 1 0 1 1 1-2 1 2 1-1 1-1 1 1 1 0 1 0 2 0 1-2 1 1 1-1 1 2 1 0 1-1 1 1 1 0 1 0 1-2 1 1 1 0 2 0 1 0 0 7-1 0-2 0-1-2-1 2-1 0-1-1-1 1-1-1-1 1-1 1-1-2-1 2-1-2-1 1-2 1-1 0-1-1-1 0-1 1-1 0-1 0-1 0-1 0-1 0-1-1-1 2-1 0-1-2-2 0-1 1-1 0-1 0-1-1-1 1-1 1-1-2-1 1-1-1-1 0-1 0-1 2-2-1-1 0-1-1-1 1-1 0-1 2-1-2-1 0-1 2-1-2-1 0-1 1-1 0-2-1-1 1-1 0-1 1-1 0-1-1-1 2-1-2-1 0-1 1-1-1-1 1-1 0-1 0-2 0-1-1-1 1-1 0-1-1-1 0-1 0-1 1-1 1-1 0-1 0-1-1-1 0-2 1-1-1-1 1-1 0-1 0-1 0-1 0-1-1-1 0-1 2-1-1-1 0-1 1-2 0-1-2-1 1-1-1-1 1-1 1-1-2-1 2-1 1-1-1-1-1-1 1-1 0-1 0-2 0-1 0-1-1-1 2-1 0-1 0-1-1-1 1-1 0-1 0-1 1-1-1-1 0-2 0-1 0-1 2-1-1-1 0-1 1-1 0-1-1-1 1-1-1-1 2-1-1-1-1-2 1-1-1-1 1-1 1-1 0-1 0-1-1-1 1-1-1-1 1-1 0-1-1-1 1-1 1-2-1-1 0-1 0-1 0-1-1-1 1-1 0-1 1-1 0-1 0-1 0-1 0-1 1-2-1-1 0-1 2-1 0-1 0-1 0-1 0-1 2-1 1-1 0-1 1-1-1-1 1-2-1-1 3-1-2-1 2-1 0-1 0-1 2-1-1-1 0-1 2-1 0-1 0-1 1-1 0-2-1-1 2-1-1-1 2-1 0-1 1-1 0-1 1-1 0-1 3-1 0-1 1-1 2-2-1-1 0-1 1-1 3-1-1-1 2-1 0-1 2-1 0-1 2-1 1-1-1-1 1-2 1-1-1-1 4-1 1-1-1-1 2-1 0-1 2-1-2-1 3-1 1-1 0-1 3-1-2-2 2-1 1-1 1-1 0-1 2-1-1-1 3-1-1-1 3-1 0-1 0-1 2-1 2-2 0-1-1-1 5-1-1-1 1-1 2-1 0-1 1-1 1-1 2-1 1-1 8-1 15-2 14-1 19-1 28-1 29-1 26z" fill="#55A868" opacity="0.28"/><path transform="scale(.5)" d="M1560 1665l1-26 1-29 1-28 1-19 2-14 1-16 1-8 1 0 1-2 1-1 1-1 1-1 1-2 1 0 1 1 1-4 1 0 2-1 1-2 1-1 1-1 1 0 1-2 1 1 1-3 1 1 1-2 1-1 1-1 1 0 2-2 1 2 1-3 1-1 1 0 1-3 1 1 1-1 1 0 1-2 1 0 1-1 1-3 1 0 2 0 1-1 1 0 1-1 1-2 1 1 1-2 1 0 1-2 1 0 1-3 1 0 1 0 2 0 1-1 1-2 1 0 1-2 1-1 1 0 1-1 1-1 1 0 1-1 1 1 1-2 2 1 1 0 1-1 1 0 1 0 1-1 1-1 1 1 1-2 1 0 1-1 1-1 1 1 1-1 2 0 1-1 1 0 1 0 1-1 1-1 1-1 1 0 1 0 1 0 1 0 1-1 1-2 2 2 1-1 1 0 1 0 1 0 1-1 1-1 1 1 1-1 1 1 1 0 1 0 1 0 2 0 1 0 1-1 1 1 1 0 1-1 1 0 1 0 1 0 1 1 1 0 1-2 1 0 1 0 2 0 1 0 1 1 1-2 1 2 1-2 1 2 1-1 1 0 1 0 1 0 1-1 1 0 2 0 1 0 1 1 1-1 1 0 1 0 1-1 1 1 1 0 1 0 1-2 1 1 1 0 2 0 1-1 1 1 1-1 1 0 1 2 1-2 1-2 1 3 1-1 1-1 1 1 1-1 1 1 2 0 1 0 1 0 1 0 1-1 1 0 1 0 1 1 1-1 1 0 1 1 1-1 1 0 2 0 1-1 1 2 1-1 1 0 1-1 1 0 1-1 1 1 1 1 1 0 1-1 1 1 2-1 1 1 1-1 1 0 1 0 1 0 1 1 1 1 1-2 1 0 1 0 1-1 1 1 1-1 2 1 1-1 1 0 1 0 1 1 1-1 1 0 1 1 1-1 1 0 1-1 1 1 1 0 2 1 1-2 1 0 1 0 1 1 1-1 1 1 1-1 1 1 1 0 1-1 1 0 1-1 2 1 1 2 1 0 1-2 1 0 1 1 1 0 1-1 1 1 1 0 1-2 1 1 1 0 1 1 2-1 1-1 1 1 1-2 1 2 1 0 1-1 1 1 1-1 1 1 1-1 1 0 1 1 2-1 1 0" fill="none" stroke="#55A868" stroke-width="1.8" stroke-linejoin="round"/><path transform="scale(.5)" d="M1560 1665l1-43 1-35 1-25 1-24 2-22 1-7 1-5 1-6 1-7 1-5 1 0 1-2 1-1 1-1 1-2 1-1 1-1 2-1 1-2 1-2 1 0 1-1 1 0 1-1 1-1 1-1 1 0 1-1 1 0 1-1 2 0 1-1 1-2 1 1 1-2 1 0 1-1 1 0 1-1 1 0 1 0 1 0 1-1 1-1 2 0 1 0 1-2 1 1 1-1 1 0 1 0 1-1 1 1 1-1 1 0 1-1 1 2 2-2 1 1 1-1 1 1 1-1 1 1 1-1 1-1 1 0 1 2 1-2 1 0 1 1 2-1 1 0 1-1 1 1 1 0 1 0 1 0 1-1 1 1 1-2 1 2 1 0 1-1 1 0 2 0 1-1 1 0 1 0 1 0 1 0 1 0 1-1 1 1 1 0 1-2 1 1 1 0 2 1 1-1 1 1 1 0 1 0 1-1 1-1 1 1 1 0 1-1 1 1 1-1 1 0 2 0 1 1 1 0 1 0 1-1 1 0 1 0 1 1 1-1 1 1 1-1 1 1 1-1 1 0 2 1 1-1 1 0 1 0 1 1 1-1 1-1 1 1 1 0 1 0 1-1 1 1 1-1 2 1 1-1 1 0 1 0 1 1 1 0 1 0 1-1 1 0 1 1 1-1 1 0 1 0 2 0 1 0 1 0 1 0 1 1 1-1 1 0 1 0 1-1 1 0 1 1 1 0 1 0 1 0 2 0 1 0 1 0 1-1 1 0 1 0 1 1 1-1 1 1 1-1 1 0 1 0 1 1 2-1 1 0 1 0 1 0 1 0 1 0 1-1 1 1 1-1 1 2 1 0 1-2 1 1 2 0 1 0 1 1 1-1 1 0 1 0 1-1 1 0 1 0 1 1 1-1 1 0 1 1 1-1 2 1 1-2 1 2 1-1 1 0 1-1 1 1 1 0 1 0 1 0 1 0 1 1 1-2 2 1 1 0 1 0 1-1 1 1 1 0 1 0 1-1 1 1 1 0 1-1 1 0 1 0 2 1 1-1 1 0 1 1 1 0 1-1 1 0 1 0 1-1 1 2 1-1 1 0 1 0 1 0 2 0 1 0 1 0 1-1 1 1 1-1 1 0 1 1 1-1 1 1 1-1 1 1 1-1 2 0 1 0 0 3-1 1-2 0-1 0-1-1-1 1-1-1-1 1-1 0-1 0-1 0-1-1-1 1-1 0-1 0-2 0-1 0-1 0-1 0-1 1-1-1-1 1-1-1-1 0-1 1-1 0-1 0-1 0-1 0-2-1-1 0-1 0-1 1-1 1-1-2-1 1-1 0-1 1-1-2-1 1-1 0-1 1-2-1-1 1-1 0-1-1-1 0-1 0-1 0-1 0-1 1-1-1-1 1-1-1-1 1-2-1-1 1-1 0-1 0-1 0-1 0-1 0-1-1-1 1-1 0-1 0-1 1-1-1-1 0-2 0-1 0-1 1-1 0-1-2-1 1-1-1-1 2-1-1-1 0-1 1-1-1-1 1-2 0-1 0-1 0-1-1-1 1-1-1-1 1-1 0-1-1-1 1-1 1-1-2-1 1-2 0-1 0-1 0-1 1-1-1-1 0-1 0-1 1-1-1-1 1-1-1-1 0-1 0-1 1-2-1-1 0-1 1-1 0-1-1-1 0-1 1-1 0-1 1-1-1-1 0-1 0-1 0-2-1-1 1-1 0-1 0-1 0-1 1-1-1-1 0-1 1-1 0-1-1-1 0-1 1-2 0-1 0-1-1-1 1-1 0-1 0-1 0-1-1-1 0-1 0-1 1-1 0-1 0-1 0-2-1-1 1-1 0-1 0-1 1-1-1-1-1-1 1-1 1-1 0-1-1-1 0-1 1-2 0-1-1-1 0-1 1-1-1-1 0-1 1-1 0-1 0-1 0-1 1-1 0-1-1-2 1-1 0-1 2-1-1-1-2-1 2-1 0-1 0-1 0-1 0-1 0-1-1-1 1-1 0-2 1-1-1-1 0-1 2-1-2-1 1-1 0-1 1-1-1-1 1-1 0-1 0-1 0-2 1-1-1-1 1-1 0-1 1-1-2-1 2-1-1-1 0-1 1-1-1-1 1-1 1-2 1-1 0-1 0-1 1-1 0-1 1-1 0-1 1-1 0-1 1-1 1-1-1-1 2-1 1-2 0-1 1-1 0-1 1-1 0-1 1-1 1-1 1-1 0-1 1-1 1-1 1-1 2-2 1-1 1-1 2-1 1-1 1-1 1-1 2-1 1-1 5-1 6-1 6-1 5-1 7-2 22-1 24-1 26-1 34-1 43z" fill="#4C72B0" opacity="0.28"/><path transform="scale(.5)" d="M1560 1666l1-42 1-35 1-25 1-24 2-22 1-7 1-6 1-6 1-6 1-5 1-1 1-1 1-1 1-2 1-1 1-1 1-1 2-2 1-2 1-1 1-1 1 0 1 0 1-2 1-1 1-1 1 0 1 0 1 0 1-2 2 0 1-1 1-1 1 1 1-2 1-1 1 0 1-1 1 0 1-1 1 0 1 0 1-1 1 0 2-1 1 0 1-1 1 1 1-1 1 0 1 0 1-2 1 2 1-1 1 0 1-1 1 1 2-1 1 0 1 0 1 0 1 0 1 0 1 0 1-1 1 0 1 1 1-2 1 1 1 0 2 0 1 0 1-1 1 0 1 0 1 0 1 0 1 0 1 0 1-1 1 1 1 1 1-2 1 0 2 0 1 0 1 0 1 0 1-1 1 1 1 0 1-2 1 1 1 1 1-2 1 0 1 1 2 0 1 0 1 0 1 0 1 0 1 0 1-1 1 1 1 0 1-1 1 0 1 0 1 0 2 0 1 0 1 0 1 1 1-1 1-1 1 1 1 0 1 0 1 0 1 0 1 0 1 0 1 0 2 0 1 0 1 0 1 0 1 1 1-1 1-1 1 1 1 0 1 0 1-1 1 1 1-1 2 0 1 0 1 0 1 0 1 1 1-1 1 0 1 0 1 0 1 0 1 0 1-1 1 1 2 0 1 0 1-1 1 0 1 1 1-1 1 1 1 0 1-1 1 0 1 1 1-1 1 0 1 1 2-1 1 0 1 1 1-1 1 0 1 0 1 1 1-1 1 0 1 0 1 0 1 0 1 0 2 0 1-1 1 1 1 0 1-1 1 1 1-1 1 1 1-1 1 1 1 1 1-2 1 0 2 1 1-1 1 1 1 0 1 0 1-1 1 0 1 0 1 0 1 0 1 0 1 0 1 0 1-1 2 1 1-1 1 1 1-1 1 1 1-1 1 1 1-1 1 0 1 1 1 0 1 0 1-1 2 1 1 0 1-1 1-1 1 2 1-1 1 0 1 0 1 1 1-1 1 0 1-1 1 0 2 1 1 0 1 0 1 1 1 0 1-2 1 1 1 0 1-1 1 1 1-1 1 1 1 0 1-1 2 0 1 0 1 0 1 0 1 1 1-1 1 0 1 0 1 0 1 1 1-1 1 0 1 0 2 0 1 0" fill="none" stroke="#4C72B0" stroke-width="1.8" stroke-linejoin="round"/><path transform="scale(.5)" d="M1560 1659l1-11 1-9 1-15 1-14 1-10 0-16 1-6 1-15 1 3 1 0 1-5 1-3 1-1 0-1 1-5 1 4 1 6 1-7 1 1 1-2 1-5 0 6 1 5 1-8 1 0 1 5 1-3 1-1 1-1 0 0 1-1 1-6 1 9 1 0 1-2 1-5 0 6 1-7 1 6 1 1 1-5 1 3 1 0 1-4 0-1 1 2 1 1 1-4 1 2 1 2 1-4 1 60 0-56 1-3 1 3 1 3 1 2 1 41 1 42 1-23 0-48 1-16 1-4 1 2 1 2 1-2 1-1 1 3 0 2 1 13 1 36 1 90 1-49 1-74 1-1 1-10 0 0 1-7 1 6 1-11 1 3 1-6 1 7 1 6 0-11 1 8 1 1 1-3 1-4 1 3 1 0 0 5 1-12 1 7 1 20 1 38 1-8 1 3 1 24 0-23 1-57 1-1 1 8 1 88 1 81 1-72 1-71 0-30 1 1 1-5 1 3 1-1 1-9 1 9 1-2 0 3 1 4 1-7 1 4 1 0 1-3 1-1 1 2 0 1 1 4 1 14 1-1 1-16 1 0 1-2 1-1 0 1 1-4 1 4 1 2 1-4 1 45 1-45 1 3 0-4 1 6 1-3 1 7 1-5 1 0 1-2 1-6 0 1 1 10 1-1 1-7 1 2 1 6 1-5 0 5 1 59 1-11 1-52 1-7 1 5 1 3 1-9 0 9 1 0 1 0 1-2 1 2 1-5 1 26 1 24 0 1 1-10 1 23 1 38 1-45 1-52 1 0 1-1 0-1 1-1 1 2 1-2 1 8 1-9 1 6 1-6 0 5 1 42 1 9 1-48 1-3 1 2 1-5 1 0 0 0 1 5 1-3 1-3 1 5 1-4 1-2 1 3 0 4 1-9 1 5 1 0 1 0 1 2 1-1 0 16 1 30 1-34 1-18 1 2 1 3 1-5 1 3 0 43 1 9 1-40 1 4 1 31 1-14 1-29 1 55 0-42 1 12 1 9 1-40 1 0 1-3 1 7 1-1 0 4 1-3 1 6 1-4 1-3 1 15 1 21 1-40 0 8 1-3 1 1 1-3 1 2 1-6 1 9 1-9 0 0 1 5 1 2 1 22 1-7 1-24 1 14 1-7 0 3 1-9 1 6 1 5 1 6 1 12 1-11 0 19 1 6 1-17 1-21 1 0 1 0 1 3 1-5 0 5 1 2 1-3 1 0 1 0 1 5 1-9 1 1 0-3 1 7 1-3 1 1 1 0 1-5 1 7 1-4 0 8 1-7 1 1 1 3 1-2 1 5 1-2 1-4 0 8 1-12 1 1 1 5 1 3 1-1 1 1 1-4 0-8 1 9 1 15 1 23 1-37 1-1 1-5 1 4 0 9 1 13 1-24 1 3 1 30 1 46 1-8 0 12-1 9-1-45-1-30-1-2-1 25-1-18 0-5-1-4-1 1-1 4-1 37-1-25-1-11-1-11 0 10-1 0-1 1-1 0-1-1-1-7-1 0-1 12 0-9-1 3-1 5-1-4-1 0-1-2-1-3-1 6 0-6-1 3-1-7-1 5-1-1-1-2-1 4-1-4 0 2-1-4-1 12-1-5-1 0-1 0-1 1-1 0 0-4-1 4-1-2-1-1-1-1-1 19-1 19-1-4 0-19-1 8-1-12-1-5-1-5-1-5-1 8 0-4-1 9-1-13-1 22-1 5-1-19-1-1-1-5 0 1-1 6-1-10-1 6-1 2-1 0-1-2-1 7 0-9-1 38-1-21-1-14-1 1-1 6-1-8-1 3 0-4-1 0-1-3-1 3-1 0-1 38-1-8-1-13 0 42-1-56-1 29-1 14-1-28-1-4-1 39-1-8 0-47-1 2-1 3-1-1-1-2-1 14-1 34-1-26 0-19-1 3-1-1-1-4-1 1-1-7-1 11 0-5-1 0-1-2-1 7-1-7-1 6-1 0-1-2 0-1-1 0-1 4-1 1-1-1-1 51-1-12-1-42 0-1-1 3-1-6-1 8-1-6-1 4-1-3-1 2 0-3-1 0-1 1-1 56-1 41-1-36-1-25-1 13 0-3-1-24-1-27-1 7-1-3-1 3-1-1-1 2 0-10-1 8-1-1-1-7-1 10-1 52-1 6-1-57 0-5-1 7-1-6-1-3-1 6-1 3-1-10 0 0-1 3-1 1-1 3-1 3-1-7-1 5-1-6 0 4-1-5-1 44-1-44-1 2-1 2-1-8-1 8 0-2-1 3-1-3-1 2-1 19-1 1-1-18-1-2 0 0-1-3-1-1-1 3-1 1-1-3-1 6-1-3 0-2-1-2-1-7-1 12-1-2-1-2-1 5-1-1 0 31-1 72-1 71-1-81-1-90-1-7-1 3-1 54 0 25-1-23-1-7-1 10-1-41-1-17-1-5-1 11 0-8-1 4-1-4-1 1-1 5-1 0-1-8 0 10-1-4-1-7-1 5-1-2-1 10-1-9-1 9 0 0-1 10-1-1-1 77-1 49-1-92-1-36-1-10 0-7-1 1-1-3-1 4-1-2-1-3-1 7-1 16 0 47-1 22-1-39-1-45-1-3-1 0-1-2-1 0 0 58-1-60-1 5-1-2-1-3-1 5-1-1-1-2 0 1-1 3-1 1-1-2-1 2-1 2-1-10-1 7 0-5-1 4-1 2-1 0-1-7-1 5-1 3 0-2-1 3-1 1-1 0-1-1-1-3-1 7-1-5 0-4-1 7-1 1-1-3-1 7-1-8-1-3-1 8 0 1-1 2-1 2-1 1-1 1-1 0-1 16-1 3 0 17-1 11-1 13-1 13-1 8-1 14z" fill="#C44E52" opacity="0.28"/><path transform="scale(.5)" d="M1560 1666l1-13 1-8 1-14 1-13 1-11 0-16 1-5 1-15 1 1 1-1 1-2 1-3 1-1 0-2 1-6 1 3 1 7 1-6 1 1 1-1 1-6 0 5 1 5 1-7 1 1 1 3 1-1 1-1 1-3 0 2 1-2 1-6 1 8 1 0 1-2 1-5 0 6 1-7 1 8 1-1 1-3 1 3 1-1 1-4 0 0 1 1 1 2 1-5 1 3 1 2 1-5 1 60 0-57 1-1 1 2 1 2 1 2 1 43 1 40 1-22 0-48 1-16 1-5 1 2 1 3 1-3 1 1 1 0 0 5 1 12 1 36 1 90 1-48 1-76 1 0 1-10 0 0 1-8 1 8 1-11 1 2 1-5 1 7 1 5 0-11 1 9 1 0 1-4 1-2 1 3 1-2 0 6 1-11 1 6 1 19 1 39 1-9 1 5 1 23 0-24 1-55 1-2 1 8 1 89 1 81 1-72 1-72 0-30 1 1 1-5 1 2 1 1 1-11 1 8 1 1 0 2 1 4 1-7 1 4 1-1 1-3 1 0 1 2 0 1 1 3 1 16 1-1 1-17 1-1 1 0 1-2 0 1 1-5 1 5 1 0 1-3 1 45 1-44 1 3 0-4 1 7 1-4 1 6 1-4 1-1 1-2 1-4 0 0 1 10 1-2 1-6 1 3 1 5 1-6 0 6 1 58 1-9 1-52 1-8 1 6 1 1 1-8 0 9 1-1 1 1 1-2 1 2 1-6 1 26 1 25 0 1 1-11 1 24 1 37 1-43 1-54 1 0 1-1 0 1 1-1 1 2 1-3 1 7 1-8 1 6 1-5 0 3 1 42 1 10 1-49 1-1 1 0 1-4 1 0 0 1 1 3 1-1 1-5 1 6 1-5 1-1 1 2 0 4 1-9 1 5 1 0 1 2 1 2 1-3 0 18 1 28 1-34 1-16 1 2 1 2 1-4 1 1 0 44 1 9 1-39 1 4 1 29 1-14 1-29 1 55 0-42 1 13 1 8 1-38 1-1 1-2 1 5 1-1 0 4 1-3 1 7 1-5 1-2 1 15 1 21 1-39 0 8 1-5 1 1 1-1 1 0 1-6 1 10 1-8 0 0 1 5 1 1 1 20 1-6 1-22 1 13 1-8 0 3 1-8 1 5 1 5 1 6 1 12 1-10 0 20 1 5 1-18 1-20 1 0 1 0 1 3 1-4 0 4 1 1 1-2 1 0 1 0 1 5 1-10 1 2 0-2 1 5 1-3 1 1 1 1 1-6 1 8 1-4 0 7 1-7 1 2 1 3 1-1 1 5 1-4 1-4 0 9 1-12 1 1 1 5 1 2 1 0 1 0 1-2 0-9 1 10 1 13 1 24 1-37 1-2 1-3 1 4 0 7 1 15 1-24 1 2 1 30 1 45 1-8" fill="none" stroke="#C44E52" stroke-width="1.8" stroke-linejoin="round"/></g><rect x="870.2" y="802" width="52.7" height="33.9" rx="1.5" fill="#EAEAF2" stroke="#D5D5DE" stroke-width="0.5" opacity="0.9"/><line x1="872.2" y1="806.24" x2="879.7" y2="806.24" stroke="#4C72B0" stroke-width="1.5"/><text x="882.2" y="807.84" font-family="Liberation Sans" font-size="5.6" fill="#333">EAR_SAC</text><line x1="872.2" y1="814.71" x2="879.7" y2="814.71" stroke="#DD8452" stroke-width="1.5"/><text x="882.2" y="816.31" font-family="Liberation Sans" font-size="5.6" fill="#333">PEARL</text><line x1="872.2" y1="823.19" x2="879.7" y2="823.19" stroke="#55A868" stroke-width="1.5"/><text x="882.2" y="824.79" font-family="Liberation Sans" font-size="5.6" fill="#333">MHMT_SAC</text><line x1="872.2" y1="831.66" x2="879.7" y2="831.66" stroke="#C44E52" stroke-width="1.5"/><text x="882.2" y="833.26" font-family="Liberation Sans" font-size="5.6" fill="#333">OHE_SAC</text><clipPath id="chc2"><rect x="942.1" y="716.7" width="152.40" height="122.30"/></clipPath><rect x="942.1" y="716.7" width="152.40" height="122.30" fill="#EAEAF2"/><line x1="948.63" y1="716.7" x2="948.63" y2="839" stroke="#FFF" stroke-width="0.8"/><text x="948.63" y="845.20" font-family="Liberation Sans" font-size="4.6" fill="#555" text-anchor="middle">0.00</text><line x1="965.99" y1="716.7" x2="965.99" y2="839" stroke="#FFF" stroke-width="0.8"/><text x="965.99" y="845.20" font-family="Liberation Sans" font-size="4.6" fill="#555" text-anchor="middle">0.25</text><line x1="983.36" y1="716.7" x2="983.36" y2="839" stroke="#FFF" stroke-width="0.8"/><text x="983.36" y="845.20" font-family="Liberation Sans" font-size="4.6" fill="#555" text-anchor="middle">0.50</text><line x1="1000.73" y1="716.7" x2="1000.73" y2="839" stroke="#FFF" stroke-width="0.8"/><text x="1000.73" y="845.20" font-family="Liberation Sans" font-size="4.6" fill="#555" text-anchor="middle">0.75</text><line x1="1018.09" y1="716.7" x2="1018.09" y2="839" stroke="#FFF" stroke-width="0.8"/><text x="1018.09" y="845.20" font-family="Liberation Sans" font-size="4.6" fill="#555" text-anchor="middle">1.00</text><line x1="1035.46" y1="716.7" x2="1035.46" y2="839" stroke="#FFF" stroke-width="0.8"/><text x="1035.46" y="845.20" font-family="Liberation Sans" font-size="4.6" fill="#555" text-anchor="middle">1.25</text><line x1="1052.82" y1="716.7" x2="1052.82" y2="839" stroke="#FFF" stroke-width="0.8"/><text x="1052.82" y="845.20" font-family="Liberation Sans" font-size="4.6" fill="#555" text-anchor="middle">1.50</text><line x1="1070.19" y1="716.7" x2="1070.19" y2="839" stroke="#FFF" stroke-width="0.8"/><text x="1070.19" y="845.20" font-family="Liberation Sans" font-size="4.6" fill="#555" text-anchor="middle">1.75</text><line x1="1087.55" y1="716.7" x2="1087.55" y2="839" stroke="#FFF" stroke-width="0.8"/><text x="1087.55" y="845.20" font-family="Liberation Sans" font-size="4.6" fill="#555" text-anchor="middle">2.00</text><line x1="942.1" y1="720.68" x2="1094.5" y2="720.68" stroke="#FFF" stroke-width="0.8"/><text x="940.60" y="722.28" font-family="Liberation Sans" font-size="4.6" fill="#555" text-anchor="end">1400</text><line x1="942.1" y1="734.88" x2="1094.5" y2="734.88" stroke="#FFF" stroke-width="0.8"/><text x="940.60" y="736.48" font-family="Liberation Sans" font-size="4.6" fill="#555" text-anchor="end">1200</text><line x1="942.1" y1="749.09" x2="1094.5" y2="749.09" stroke="#FFF" stroke-width="0.8"/><text x="940.60" y="750.69" font-family="Liberation Sans" font-size="4.6" fill="#555" text-anchor="end">1000</text><line x1="942.1" y1="763.29" x2="1094.5" y2="763.29" stroke="#FFF" stroke-width="0.8"/><text x="940.60" y="764.89" font-family="Liberation Sans" font-size="4.6" fill="#555" text-anchor="end">800</text><line x1="942.1" y1="777.49" x2="1094.5" y2="777.49" stroke="#FFF" stroke-width="0.8"/><text x="940.60" y="779.09" font-family="Liberation Sans" font-size="4.6" fill="#555" text-anchor="end">600</text><line x1="942.1" y1="791.70" x2="1094.5" y2="791.70" stroke="#FFF" stroke-width="0.8"/><text x="940.60" y="793.30" font-family="Liberation Sans" font-size="4.6" fill="#555" text-anchor="end">400</text><line x1="942.1" y1="805.90" x2="1094.5" y2="805.90" stroke="#FFF" stroke-width="0.8"/><text x="940.60" y="807.50" font-family="Liberation Sans" font-size="4.6" fill="#555" text-anchor="end">200</text><line x1="942.1" y1="820.11" x2="1094.5" y2="820.11" stroke="#FFF" stroke-width="0.8"/><text x="940.60" y="821.71" font-family="Liberation Sans" font-size="4.6" fill="#555" text-anchor="end">0</text><line x1="942.1" y1="834.31" x2="1094.5" y2="834.31" stroke="#FFF" stroke-width="0.8"/><text x="940.60" y="835.91" font-family="Liberation Sans" font-size="4.6" fill="#555" text-anchor="end">−200</text><g clip-path="url(#chc2)"><path transform="scale(.5)" d="M1897 1608l1 1 1-2 1 2 2 0 1 1 1-3 1 2 1 0 1 0 1 1 1-1 1 1 1 0 1-1 1 0 1 1 1 0 2 0 1-2 1 1 1 2 1 0 1 0 1-1 1 1 1-1 1 1 1-1 1 0 1 0 2 2 1-1 1 0 1 1 1 0 1 0 1-1 1 1 1 1 1-3 1 0 1 1 1-2 1-1 2-2 1 0 1-1 1 1 1-2 1 0 1-2 1-1 1 0 1 0 1-3 1 1 1 0 1-3 2 1 1-1 1-1 1 0 1-2 1 0 1-1 1 0 1-1 1-2 1 1 1 0 1-1 1-1 2 1 1 0 1-2 1 0 1 1 1-2 1-1 1 0 1 1 1-1 1-2 1-1 1 0 2 1 1 1 1-2 1-1 1 0 1-1 1 0 1 0 1 0 1-2 1 2 1-1 1-1 1 0 2-2 1 1 1 0 1-1 1 1 1-1 1-2 1-1 1-2 1 2 1-1 1 0 1-1 1 0 2-1 1 1 1 0 1-2 1 1 1-2 1 0 1-1 1 1 1-1 1 0 1 0 1 0 2-1 1 1 1 0 1 0 1-1 1-1 1 1 1 0 1-2 1 1 1-1 1 2 1-1 1-2 2 1 1-2 1 2 1 0 1-3 1 2 1-1 1 1 1 0 1-2 1-1 1 1 1 0 1-2 2 1 1-1 1 0 1 0 1 1 1-1 1 0 1-1 1 0 1 1 1-1 1-1 1 0 1-1 2 0 1 0 1 1 1-1 1-1 1 0 1 1 1-1 1 1 1 0 1 0 1-3 1 1 2-1 1 2 1-1 1 0 1-1 1 1 1-1 1 2 1-1 1 0 1-1 1 0 1-1 1 1 2-1 1 0 1 1 1-1 1 0 1-2 1 2 1-2 1 1 1-2 1 1 1 0 1 0 1-2 2 2 1-1 1 1 1-1 1 0 1 1 1-1 1-1 1 0 1 1 1-1 1-2 1 1 1 0 2 0 1 0 1-1 1 0 1 2 1-1 1 0 1-2 1 0 1 1 1-2 1 3 1-1 2-2 1 1 1 1 1-3 1 0 1 1 1 0 1 1 1-1 1-2 1 1 1-1 1 2 1 0 2 0 1-1 1 0 1-1 1 0 1 0 1 1 1-2 1-1 0 16-1-3-1 1-1 0-1 1-1 0-1-1-1 2-1 0-2 0-1 0-1 2-1-2-1 1-1-1-1 0-1 1-1 1-1 1-1-2-1 0-1 2-1 0-2-1-1 0-1 2-1-1-1 1-1 1-1 0-1-2-1 1-1 1-1 0-1-1-1 1-2-1-1 0-1 2-1-1-1 0-1 0-1-1-1 1-1 1-1 1-1 0-1 0-1 0-1-1-2 2-1 0-1 0-1 0-1 1-1-1-1 1-1-1-1 0-1 0-1 0-1 1-1 0-1 0-2 0-1 2-1-1-1 0-1 0-1 0-1 0-1 1-1 0-1 1-1 1-1-1-1-1-1 1-2-1-1 2-1-1-1 1-1-1-1-1-1 2-1 0-1 0-1 1-1 1-1 0-1-1-2 1-1 1-1 0-1-2-1 2-1-1-1 1-1 0-1-1-1 2-1 0-1-2-1 3-1 1-2 0-1-2-1 1-1 1-1 1-1-1-1 0-1 2-1-2-1 1-1 0-1 1-1 1-1-2-2 1-1 0-1 0-1 2-1-2-1 1-1 2-1-2-1 2-1-1-1 1-1-1-1 2-1 0-2-1-1 1-1-1-1 1-1 1-1 0-1 0-1 1-1-1-1 2-1-1-1 2-1 0-2 0-1 0-1 0-1 0-1 0-1 2-1 1-1 0-1 0-1 0-1 1-1 0-1 0-1 1-2 0-1 1-1 2-1-1-1 1-1-1-1 0-1 2-1 1-1 0-1-1-1 3-1-1-1 2-2 0-1 0-1 0-1-2-1 4-1 0-1 0-1-1-1 1-1 2-1-1-1 0-1 1-2 0-1 1-1 0-1-1-1 3-1 0-1 0-1 0-1 2-1 1-1-2-1 4-1-1-1 1-2 2-1 0-1 0-1 2-1 0-1 2-1 0-1 0-1 1-1 2-1-2-1 2-1 2-1 1-2 0-1 0-1 0-1 3-1 0-1 1-1 0-1-1-1 0-1 0-1 1-1-2-1 2-1-2-2 0-1 1-1 0-1-1-1 0-1 0-1 1-1-2-1 0-1 0-1 1-1 0-1-1-2 0-1-1-1 2-1 0-1-2-1 1-1 0-1-1-1 1-1-2-1 1-1 1-1 0-1-1-2 1-1-1-1 0-1 0z" fill="#DD8452" opacity="0.28"/><path transform="scale(.5)" d="M1897 1615l1 0 1 0 1 1 2-1 1 1 1-1 1 0 1 0 1 1 1 0 1 0 1 0 1 0 1 1 1-1 1 0 1 0 2 1 1-1 1 1 1 0 1 0 1 0 1 0 1 1 1-1 1 1 1 0 1 0 1-1 2 1 1 0 1-1 1 2 1 0 1-1 1 0 1 1 1 1 1-2 1-1 1 0 1-1 1-1 2-1 1 0 1-2 1-1 1 0 1 0 1-2 1 0 1-1 1-1 1-1 1 0 1-1 1-1 2-1 1 0 1 0 1-3 1 0 1 0 1-2 1 0 1 0 1-1 1-1 1 0 1 0 1-1 2 1 1-1 1-1 1 1 1-1 1-1 1-1 1 0 1 1 1-3 1 1 1-1 1 0 2 0 1 0 1-1 1-1 1 0 1 0 1-1 1-1 1 0 1 0 1 0 1 0 1-2 1 0 2-1 1 0 1 0 1-1 1 0 1 0 1-1 1-1 1-1 1 0 1 0 1 0 1-1 1 0 2 0 1 0 1-1 1 0 1-1 1-1 1 0 1 0 1 0 1-1 1 0 1 0 1 0 2 0 1 0 1-1 1 0 1 0 1 0 1-1 1 1 1-2 1 0 1 0 1 0 1 0 1-1 2 0 1 0 1 1 1-1 1-1 1 0 1 0 1 0 1 0 1-1 1-1 1 1 1-1 1 0 2 0 1 0 1-2 1 1 1 0 1-1 1 0 1 0 1-1 1 1 1-1 1 1 1-1 1 0 2-1 1 0 1 1 1-1 1-1 1 0 1 1 1-2 1 1 1 0 1 0 1-1 1 0 2 0 1 0 1 0 1 0 1 0 1 0 1-1 1 1 1-1 1 0 1 0 1 0 1 0 1-1 2-1 1 1 1 0 1-1 1 0 1-1 1 1 1 0 1 0 1-1 1 0 1 0 1 0 1-1 2 0 1 0 1 0 1 0 1 0 1 0 1-1 1-1 1 1 1 0 1 0 1-1 1 0 1 0 2 0 1 0 1 0 1 0 1 0 1-1 1 1 1-1 1-1 1 1 1-1 1 1 1-1 2 0 1 0 1 0 1-2 1 1 1 0 1 0 1-1 1 0 1 0 1 0 1 0 1 0 1 0 2 0 1-1 1 0 1 0 1-1 1 0 1 0 1-1 1 1" fill="none" stroke="#DD8452" stroke-width="1.8" stroke-linejoin="round"/><path transform="scale(.5)" d="M1897 1599l1 9 1-9 1-7 1-15 1 8 1 3 1-12 1 5 1-16 1 5 0-17 1 9 1 2 1 1 1-7 1-5 1-4 1 3 1 0 1-4 1 7 1-13 1 7 1-13 0 4 1 5 1 9 1-10 1 2 1 3 1 6 1-6 1 12 1 1 1-2 1 18 1-9 1 4 1 12 0 6 1 6 1-8 1 19 1-17 1 3 1 8 1 3 1-1 1 2 1-9 1 6 1-12 1 3 0 3 1-5 1 0 1-4 1-3 1-11 1 10 1-2 1-2 1 0 1 0 1-16 1 12 1-4 0 1 1-9 1-9 1-2 1 9 1-1 1 0 1 7 1-12 1 5 1-15 1 10 1 6 1-2 0 0 1-10 1-1 1 7 1-2 1-12 1 6 1-4 1-2 1 1 1 5 1-9 1 1 1-4 0-4 1-3 1 8 1-7 1 11 1-13 1 1 1-3 1 0 1 5 1-1 1-12 1 10 1-2 0 1 1-9 1 2 1 4 1 5 1-1 1-14 1 3 1 4 1-5 1 3 1-9 1 2 1 11 0-14 1 3 1-1 1 0 1-14 1 6 1-3 1 1 1 14 1-17 1 4 1 1 1-7 1-7 0 16 1 0 1-8 1 12 1-6 1-8 1-2 1-2 1-1 1 1 1 4 1-1 1 0 1 3 1-12 0 3 1 14 1-11 1 8 1 1 1-14 1 0 1 1 1 3 1-10 1 15 1-11 1 11 1-3 0 6 1-14 1-5 1 7 1 8 1-4 1 2 1 0 1-10 1-2 1 6 1-3 1 8 1-5 0 2 1-4 1 6 1-7 1 5 1-5 1 5 1-10 1 2 1 12 1 0 1-11 1 5 1 1 0-2 1-11 1 11 1-9 1 13 1-2 1-5 1 3 1 1 1 3 1-2 1 0 1-3 1-6 0 4 1-4 1 6 1-3 1-1 1-1 1-3 1 6 1-4 1 1 1-3 1 0 1 6 1-6 0 2 1 4 1-6 1 3 1 6 1-4 1-5 1 9 1-9 1 18 1-20 1 14 1-1 1 0 0 4 1-9 1 9 1 1 1 6 1-15 1-2 1 8 1-3 1-7 1 6 1-5 1 1 1 3 1 2 0-5 1 8 1 0 1 5 1 4 1-2 1-3 1-8 1 6 1 9 1-13 1-3 1 7 1-3 0 1 1 4 1-7 1 10 1 2 1 1 1-7 1 4 1-1 1-4 1-7 1 14 1-7 1 24 0 25 1 20 1-23 1-15 1-38 1 5 1 3 1 6 1-17 1 12 1 11 1 17 1-7 1-13 0-18 1-1 1 2 1 2 1-1 1 2 0 31-1-2-1 5-1-11-1 8-1-4 0 16-1 15-1 8-1-18-1-15-1-5-1 10-1-2-1-3-1-8-1 42-1 13-1 27-1-25 0-21-1-28-1 8-1-10-1 2-1 5-1 0-1 2-1 4-1-6-1 3-1-13-1 8-1-1 0 1-1-4-1-3-1 2-1 14-1-9-1-9-1 6-1 3-1 8-1-10-1-4-1-1-1-3 0 2-1-1-1-1-1 0-1 2-1-7-1 6-1 1-1-7-1 2-1 15-1-4-1-4-1-4-1 8 0-7-1 0-1 8-1-21-1 28-1-18-1 6-1-8-1-1-1 12-1-10-1-8-1 6-1-2 0 5-1 4-1-8-1-3-1 8-1-1-1 6-1-9-1 0-1 1-1 0-1 0-1-3-1 3 0 0-1 5-1 0-1 0-1 6-1-2-1-4-1 0-1 1-1 1-1-6-1 6-1-6-1 4 0 3-1-2-1 1-1 4-1 0-1-6-1-4-1 8-1 1-1 1-1-8-1 10-1-6-1 4 0-4-1 1-1-1-1-1-1-4-1 0-1 8-1 8-1-10-1 4-1-6-1-2-1-2-1 18 0-4-1-2-1-4-1 9-1-15-1 3-1-2-1 0-1 0-1 11-1 0-1-7-1 15-1-15 0 1-1 3-1 4-1 0-1 2-1-11-1 6-1 3-1-3-1 7-1 5-1 3-1-9-1 4-1 2 0-12-1 8-1 6-1-3-1-10-1 17-1-10-1 1-1 7-1-6-1 3-1 6-1-4-1 5 0 11-1-17-1 3-1 9-1 0-1-1-1 3-1-8-1 19-1-7-1 1-1-6-1 1-1 5 0-4-1 6-1-4-1 2-1 9-1-13-1 2-1 10-1-4-1 17-1-14-1 5-1-5-1-1 0 6-1-1-1 2-1 12-1-3-1-4-1-3-1 4-1 2-1 10-1-4-1-5-1-1-1 16 0 3-1-8-1 2-1-11-1 9-1-1-1 8-1-1-1-1-1-4-1-9-1 1-1 16-1 8 0 2-1 0-1-9-1 17-1-5-1 1-1 4-1 0-1-6-1 7-1 6-1 5-1-8-1 7 0-5-1 5-1 11-1-8-1 4-1 0-1-2-1 1-1-4-1-7-1 14-1-18-1 9-1-1 0-5-1-12-1-12-1 16-1-18-1-1-1 2-1-13-1 4-1-2-1-7-1-1-1 5-1-5-1-2 0-3-1 9-1-4-1 9-1-9-1 11-1-8-1-2-1 6-1 7-1 6-1 0-1-4-1-4 0 10-1-3-1 13-1-3-1 14-1-7-1 0-1 5-1 8-1 8-1-7z" fill="#55A868" opacity="0.28"/><path transform="scale(.5)" d="M1897 1612l1 8 1-8 1-7 1-11 1 5 1 5 1-13 1 4 1-15 1 4 0-13 1 6 1 3 1 1 1-7 1-6 1-5 1 3 1 3 1-7 1 8 1-11 1 6 1-11 0 3 1 3 1 7 1-7 1 1 1 6 1 4 1-6 1 13 1-1 1 0 1 18 1-12 1 7 1 13 0 5 1 4 1-9 1 19 1-16 1 5 1 6 1 1 1 1 1 1 1-7 1 7 1-11 1-2 0 5 1-6 1 3 1-4 1-4 1-9 1 8 1-2 1-2 1-1 1 3 1-17 1 11 1-2 0-1 1-8 1-13 1-2 1 9 1 2 1 1 1 3 1-10 1 3 1-12 1 11 1 2 1 3 0-2 1-13 1 0 1 7 1 0 1-10 1 2 1-4 1 0 1 3 1 3 1-10 1-1 1-1 0-5 1-1 1 6 1-6 1 13 1-15 1 2 1-6 1-1 1 9 1-5 1-7 1 7 1-4 0 3 1-7 1 0 1 5 1 2 1 3 1-16 1 5 1 0 1-1 1 1 1-9 1 0 1 13 0-12 1-1 1 1 1-2 1-9 1 6 1-5 1 0 1 12 1-17 1 7 1 2 1-7 1-7 0 14 1-1 1-6 1 10 1-4 1-7 1-4 1 1 1-3 1-2 1 7 1-1 1 0 1-1 1-7 0 1 1 15 1-13 1 7 1 1 1-13 1 0 1 0 1 3 1-6 1 15 1-10 1 7 1 0 0 5 1-17 1-1 1 4 1 8 1-4 1 6 1-4 1-10 1 0 1 4 1 0 1 4 1-3 0 3 1-4 1 6 1-9 1 7 1-3 1 2 1-9 1 3 1 9 1 0 1-8 1 3 1 1 0-2 1-8 1 9 1-8 1 10 1-2 1-3 1 2 1 2 1 2 1-3 1 0 1-2 1-6 0 3 1-4 1 5 1-2 1-1 1 0 1-2 1 8 1-6 1 1 1-5 1 2 1 7 1-5 0-2 1 3 1-6 1 5 1 8 1-7 1-2 1 8 1-7 1 17 1-24 1 18 1-4 1-1 0 6 1-8 1 6 1 2 1 6 1-15 1-2 1 7 1-2 1-7 1 7 1-4 1 1 1 2 1 1 0-3 1 5 1 1 1 5 1 7 1-6 1-3 1-6 1 7 1 9 1-13 1-3 1 5 1 0 0 1 1 2 1-7 1 11 1 0 1 3 1-5 1 1 1-1 1-4 1-5 1 12 1-8 1 26 0 24 1 22 1-25 1-14 1-40 1 7 1 3 1 4 1-14 1 8 1 13 1 18 1-7 1-14 0-17 1 1 1-3 1 6 1-3 1 2" fill="none" stroke="#55A868" stroke-width="1.8" stroke-linejoin="round"/><path transform="scale(.5)" d="M1897 1608l1-7 1-2 1-2 1-5 1-6 1-5 1-4 1-4 1-2 1-6 0-3 1 2 1-11 1-3 1-3 1 3 1-1 1-5 1-1 1-5 1 0 1-2 1 0 1-4 0-2 1 2 1-9 1 2 1-4 1 5 1-2 1-2 1-4 1-2 1 0 1 5 1 78 1-38 1-40 0-8 1-5 1 0 1 3 1-2 1 39 1-9 1-32 1 7 1 34 1-45 1 0 1 31 1 29 0-34 1-30 1-1 1 2 1 18 1 19 1-39 1 3 1-2 1 2 1-1 1-2 1 11 1 24 0-35 1-4 1-5 1 3 1 4 1 2 1-7 1 2 1 0 1-4 1-3 1 3 1 0 1-1 0-4 1 4 1-2 1 0 1 5 1-8 1 2 1 0 1 5 1-4 1-2 1 4 1-3 1-3 0 5 1-7 1 3 1 35 1 3 1-41 1 3 1-3 1 4 1-3 1-3 1 2 1 3 1 22 0-21 1-3 1 2 1-4 1 1 1-2 1-4 1 6 1-4 1 4 1 0 1 4 1 35 1-23 0-20 1 0 1 1 1-2 1 3 1-2 1-1 1 1 1-1 1 32 1-36 1 4 1 0 1 0 0-1 1-2 1 2 1-2 1-2 1 10 1-6 1-1 1-2 1 1 1 2 1-4 1 31 1 3 1-39 0 5 1 3 1-2 1 0 1-1 1 6 1 31 1 113 1-124 1-4 1-25 1 1 1-1 1 7 0-4 1 0 1-4 1 0 1 8 1-9 1 5 1-4 1 6 1-6 1-3 1 4 1-1 1-2 0 29 1 8 1-2 1-30 1-2 1-9 1 10 1-6 1 2 1 1 1-1 1 1 1-2 1 5 0 0 1-5 1 5 1 0 1 1 1-7 1 2 1-2 1 7 1-3 1 2 1-5 1 18 1-14 0-5 1 1 1 3 1 4 1-7 1 2 1 3 1-5 1 0 1 0 1 5 1-6 1-1 1 1 0 5 1 1 1-6 1 4 1-1 1-2 1 3 1 4 1-2 1 1 1-5 1 0 1 3 1 0 0 25 1-16 1-12 1 3 1-3 1-1 1 0 1 5 1-4 1 7 1-3 1 4 1-9 1 5 1-1 0-1 1 0 1 1 1-1 1-3 1 3 1-2 1 5 1 16 1-6 1-11 1-3 1 7 1-5 0-2 1-1 1 4 1-1 1 1 1 4 1 0 1-3 1-3 1 3 1 2 1-1 1 47 1-47 0-1 1-3 1 4 1-6 1 1 1 2 1-5 1 2 1 1 1-2 1-4 1 2 1-4 1-2 0-1 1 2 1-4 1 2 1-1 1 6 0 14-1-4-1-1-1 0-1 2-1 2 0 0-1-1-1 4-1-1-1 3-1 6-1-6-1-1-1 7-1-2-1-2-1 8-1-8-1 6 0 1-1 49-1-48-1 0-1-1-1-3-1 3-1 1-1-2-1-2-1-2-1 1-1 0-1-2 0 5-1 0-1-7-1 4-1 12-1 6-1-15-1-3-1-1-1-4-1 4-1 3-1-2-1 1 0-2-1 4-1-5-1 5-1 0-1 0-1-6-1 3-1-5-1 1-1 1-1 1-1-3-1 14-1 18 0-28-1 2-1-2-1-2-1 7-1-5-1 6-1-5-1-5-1 4-1-1-1 0-1 2-1-1 0-3-1 1-1 0-1 4-1-7-1 5-1 0-1 0-1 1-1-5-1 8-1-4-1-2-1-2 0 6-1 14-1-18-1 4-1-4-1 2-1-4-1 1-1 0-1 5-1-1-1 0-1-3-1 5 0 1-1-6-1 1-1-2-1 2-1 2-1-3-1 3-1-7-1 6-1 1-1 31-1 4-1-11 0-26-1 1-1 1-1-2-1 3-1 2-1-4-1 6-1-6-1 9-1-9-1 2-1 1-1 0 0 3-1-7-1 2-1 1-1 25-1 5-1 122-1-111-1-31-1-6-1 0-1 0-1 0-1 0 0-5-1 38-1-2-1-31-1 0-1 1-1 0-1-1-1 5-1 2-1-10-1 5-1 1-1-2-1 2 0 1-1 0-1-2-1-4-1 35-1-32-1 3-1-2-1 1-1 1-1-1-1 1-1 1-1-1 0 20-1 21-1-33-1-5-1 3-1-7-1 6-1-4-1 4-1-2-1 0-1 3-1-1-1 3 0 20-1-22-1-1-1-1-1 3-1-1-1-3-1 3-1 0-1 37-1-2-1-36-1-1-1 7 0-4-1 3-1 4-1-7-1 6-1 2-1-6-1-1-1 1-1 6-1-5-1 2-1-2-1 0 0 2-1 0-1 1-1-1-1-1-1 5-1-1-1-1-1 7-1 0-1-6-1 0-1 2-1 5 0 34-1-25-1-10-1 1-1 2-1-1-1 0-1-2-1 43-1-22-1-18-1-2-1 3-1 27 0 37-1-33-1-27-1-1-1 47-1-39-1-5-1 33-1 6-1-39-1 6-1-4-1 2-1 1 0 8-1 43-1 38-1-80-1-7-1 1-1 5-1 0-1 3-1 1-1 0-1 2-1 0-1 5-1 0 0 2-1 3-1-2-1 4-1 1-1 2-1 4-1 3-1 1-1-3-1 4-1 3-1 9-1 2 0 4-1 3-1 2-1 7-1 0-1 9-1 5-1 1-1 5-1 3-1 4z" fill="#4C72B0" opacity="0.28"/><path transform="scale(.5)" d="M1897 1615l1-6 1-2 1-4 1-2 1-6 1-7 1-2 1-6 1-2 1-4 0-4 1 1 1-10 1-3 1-4 1 3 1-1 1-4 1-2 1-4 1 0 1-3 1 1 1-4 0-2 1 1 1-7 1 1 1-3 1 3 1-2 1-2 1-2 1-4 1 0 1 6 1 78 1-38 1-41 0-8 1-3 1-1 1 4 1-4 1 39 1-8 1-32 1 6 1 36 1-46 1 1 1 28 1 31 0-35 1-29 1-1 1 1 1 19 1 20 1-41 1 2 1-1 1 2 1-2 1-1 1 10 1 25 0-35 1-4 1-3 1 1 1 5 1 1 1-7 1 2 1 0 1-5 1 0 1 2 1-1 1-1 0-3 1 2 1 0 1 0 1 4 1-6 1 0 1 1 1 5 1-3 1-4 1 6 1-4 1-3 0 5 1-7 1 2 1 35 1 2 1-38 1 1 1-3 1 4 1-1 1-4 1 2 1 2 1 22 0-21 1-3 1 2 1-3 1 0 1 0 1-4 1 5 1-5 1 5 1-1 1 4 1 34 1-21 0-20 1 0 1 0 1-1 1 1 1-1 1-1 1 1 1-2 1 33 1-36 1 4 1 1 1 0 0-1 1-2 1 2 1-2 1-3 1 10 1-4 1-3 1-1 1 1 1 1 1-3 1 31 1 3 1-38 0 4 1 2 1-1 1 0 1-1 1 6 1 31 1 112 1-122 1-5 1-25 1 0 1-2 1 7 0-3 1 0 1-2 1-2 1 9 1-9 1 6 1-6 1 5 1-4 1-2 1 3 1-1 1-2 0 27 1 10 1-3 1-31 1-1 1-7 1 8 1-4 1 2 1-1 1-1 1 1 1-1 1 5 0 0 1-5 1 4 1 0 1 1 1-6 1 1 1-1 1 5 1-2 1 3 1-5 1 18 1-14 0-6 1 2 1 2 1 5 1-8 1 3 1 2 1-3 1 0 1-2 1 6 1-5 1-1 1 0 0 4 1 1 1-4 1 2 1 0 1-3 1 4 1 5 1-5 1 4 1-6 1 1 1 2 1-1 0 27 1-18 1-12 1 3 1-3 1-1 1 0 1 5 1-3 1 6 1-2 1 2 1-7 1 6 1-3 0 0 1 0 1 1 1-2 1-3 1 4 1-1 1 4 1 15 1-6 1-11 1-3 1 6 1-2 0-3 1 0 1 2 1-1 1 1 1 3 1 2 1-2 1-4 1 4 1 1 1-1 1 48 1-48 0-1 1-4 1 5 1-6 1 1 1 2 1-6 1 1 1 4 1-4 1-3 1 1 1-4 1 0 0-1 1 0 1-3 1 1 1 0 1 5" fill="none" stroke="#4C72B0" stroke-width="1.8" stroke-linejoin="round"/><path transform="scale(.5)" d="M1897 1613l1-1 1 1 1 0 1 0 1 0 1 0 1 0 1 0 1 0 1 18 0 20 1-16 1-22 1 0 1 0 1 0 1 12 1 7 1-7 1 3 1-11 1-4 1-1 1 1 0 0 1 1 1 6 1-2 1-5 1 1 1-1 1 0 1 0 1 1 1 16 1-15 1 2 1 1 1-6 0 2 1 3 1 12 1-6 1-10 1-1 1 1 1 0 1 15 1 23 1-11 1 3 1-18 1-11 0-1 1 0 1 3 1 20 1-24 1 0 1 2 1-1 1 0 1 0 1-1 1 1 1 0 1 0 0 0 1-1 1 1 1 0 1 0 1 0 1 1 1 0 1-1 1-1 1 1 1 0 1 0 1 0 0 0 1-1 1 1 1-1 1 1 1 0 1 0 1 0 1 0 1 0 1 0 1 0 1 0 1-1 0 2 1-1 1 0 1 0 1 0 1 0 1 0 1-1 1 1 1 0 1 0 1 0 1 0 1 0 0 0 1 0 1-1 1 1 1-1 1 1 1-1 1 0 1 1 1 0 1 0 1 0 1 0 1 0 0-1 1 10 1 12 1 10 1-8 1-12 1-10 1-1 1 0 1 0 1 0 1-1 1 12 1 14 0 2 1-15 1-12 1 0 1 0 1-1 1 12 1 16 1-15 1-12 1 0 1 0 1 0 1-1 1 1 0 0 1-1 1 0 1 0 1 1 1-2 1 2 1-1 1 0 1 2 1-1 1 0 1-1 1 0 0 1 1 0 1 0 1-1 1 1 1-1 1 1 1 0 1-1 1 0 1 1 1 0 1-1 1 0 0 1 1-1 1 1 1-1 1 1 1 0 1-1 1 1 1-1 1 0 1 1 1-1 1 0 1 1 0-1 1 0 1 0 1 0 1 0 1 0 1 1 1-1 1 0 1 0 1 0 1 0 1 1 1-1 0 1 1-1 1 1 1-1 1 1 1-1 1 1 1 0 1-1 1 0 1 1 1-1 1 1 1-1 0 0 1 0 1 0 1 1 1-1 1-1 1 2 1-1 1 0 1 0 1 1 1-1 1 0 1-1 0 1 1 0 1 0 1 0 1 1 1-1 1 1 1-1 1 0 1 0 1 0 1 0 1 0 1 0 1 0 0 0 1 0 1 0 1 0 1 0 1 0 1 0 1 0 1 0 1-1 1 1 1 0 1 1 1-1 0 0 1 1 1-1 1-1 1 1 1 1 1 0 1 0 1-2 1 1 1 0 1 0 1 0 1 0 0 0 1 0 1 0 1 0 1 0 1 0 1 0 1 0 1-1 1 2 1-1 1 1 1-1 1 0 0 0 1 0 1 0 1-1 1 1 1 0 0 2-1 1-1-1-1 1-1 0-1-1 0 1-1 0-1 1-1-1-1 0-1-1-1 1-1-1-1 1-1 0-1 0-1-1-1 1-1 0 0 0-1 0-1-1-1 0-1 1-1-1-1 1-1 1-1-1-1 0-1-1-1 1-1 0-1-1 0 1-1 0-1 0-1 0-1-1-1 0-1 0-1 1-1 0-1 0-1 0-1 0-1 0-1 0 0 0-1 0-1 0-1 0-1 0-1 0-1-1-1 1-1 0-1 0-1 1-1-1-1 0-1 0-1 0 0-1-1 1-1 0-1 0-1 0-1 0-1-1-1 1-1-1-1 1-1 1-1-1-1 0-1 0 0 0-1 0-1-1-1 2-1-1-1 0-1 1-1 0-1-1-1 0-1 0-1 0-1 0-1 0 0 0-1 0-1-1-1 1-1 1-1-2-1 1-1 1-1-1-1 0-1 0-1 0-1 0-1 0 0 0-1 0-1 0-1 0-1 0-1 0-1 1-1-1-1 1-1 0-1-1-1 1-1-2-1 2 0-1-1 0-1 0-1 0-1 0-1-1-1 2-1-1-1 0-1 0-1 0-1 1-1 0-1 0 0-1-1 0-1 1-1-1-1 1-1-1-1 0-1 1-1-2-1 2-1-1-1 0-1 0-1 1 0-1-1 0-1 0-1 1-1-1-1 1-1 12-1 15-1-16-1-12-1 1-1-1-1 0-1 13-1 15 0-2-1-15-1-11-1 0-1 0-1 1-1 0-1 0-1 11-1 11-1 9-1-11-1-11-1-10 0 0-1 1-1 0-1 0-1-1-1 0-1-1-1 1-1 1-1-1-1 1-1-1-1 1-1-1 0 1-1-1-1 1-1-1-1 1-1-1-1 0-1 1-1 0-1-1-1 1-1 0-1 0-1 0 0-1-1 1-1-1-1 0-1 0-1 1-1 0-1 0-1-1-1 1-1-1-1 0-1 0-1 0 0 1-1 0-1 0-1 0-1-1-1 0-1 2-1-1-1 0-1 0-1 0-1 0-1-1-1 1 0-1-1 1-1 0-1-1-1 0-1 1-1 0-1 1-1-2-1 0-1 23-1-19-1-4-1 1 0 0-1 12-1 17-1-2-1 11-1-24-1-15-1 0-1 0-1 1-1 10-1 6-1-12-1-4 0-1-1 5-1 0-1-2-1 14-1-15-1-1-1-1-1 1-1 1-1-2-1 6-1 2-1-7-1 0 0-1-1 0-1 1-1 3-1 11-1-3-1 7-1-7-1-11-1 0-1 0-1-1-1 23-1 15 0-19-1-18-1 0-1 0-1 0-1 0-1 0-1 0-1 0-1-1-1 1z" fill="#C44E52" opacity="0.28"/><path transform="scale(.5)" d="M1897 1614l1 0 1 0 1 0 1 0 1 0 1 0 1 1 1 0 1 0 1 17 0 20 1-15 1-23 1 0 1 0 1 0 1 12 1 7 1-7 1 3 1-11 1-3 1-2 1 1 0 0 1 1 1 7 1-2 1-6 1 1 1-1 1 0 1 1 1 1 1 15 1-14 1 2 1 0 1-6 0 2 1 3 1 13 1-6 1-10 1-1 1 0 1 0 1 15 1 23 1-11 1 3 1-17 1-12 0-1 1 0 1 3 1 20 1-23 1 0 1 1 1-1 1 0 1 0 1 0 1 0 1 0 1 0 0 1 1-1 1 0 1 0 1 1 1-1 1 1 1 0 1-1 1 0 1 0 1 0 1 0 1 1 0-1 1 0 1 0 1 0 1 1 1-1 1 1 1-1 1 0 1 0 1 0 1 0 1 1 1-1 0 1 1-1 1 0 1 0 1 0 1 0 1 1 1-1 1 0 1 1 1-1 1 0 1 0 1 0 0 0 1 0 1-1 1 1 1 0 1 0 1 0 1-1 1 1 1 0 1 0 1 0 1 0 1 0 0 0 1 10 1 11 1 11 1-9 1-12 1-10 1-1 1 0 1 0 1 0 1 0 1 11 1 15 0 1 1-14 1-13 1 0 1 0 1 0 1 11 1 17 1-15 1-13 1 0 1 0 1 0 1-1 1 1 0 1 1-2 1 1 1-1 1 1 1-1 1 1 1 0 1 0 1 1 1-1 1 1 1-2 1 1 0 0 1 1 1 0 1-1 1 0 1 0 1 0 1 1 1-2 1 1 1 0 1 0 1-1 1 0 0 1 1-1 1 1 1 0 1 0 1 0 1-1 1 1 1 0 1 0 1 0 1-1 1 0 1 1 0-1 1 0 1 0 1 1 1-1 1 1 1 0 1 0 1-1 1 1 1-1 1 0 1 1 1 0 0 0 1-1 1 1 1-1 1 1 1-1 1 1 1 0 1-1 1 0 1 2 1-2 1 1 1-1 0 0 1 1 1 0 1 0 1-1 1 0 1 1 1-1 1 0 1 0 1 1 1 0 1-1 1 0 0 1 1 0 1 0 1-1 1 1 1 0 1 0 1 0 1-1 1 1 1-1 1 1 1-1 1 1 1 0 0-1 1 0 1 1 1-1 1 0 1 1 1-1 1 0 1 0 1 0 1 0 1 0 1 1 1 0 0-1 1 1 1 0 1-1 1 0 1 1 1 0 1 0 1-2 1 1 1 0 1 0 1 1 1-1 0 0 1 0 1 0 1 1 1 0 1 0 1-1 1 1 1-1 1 1 1 0 1 0 1 0 1-1 0 0 1 1 1-1 1 0 1 0 1 0" fill="none" stroke="#C44E52" stroke-width="1.8" stroke-linejoin="round"/></g><clipPath id="chc3"><rect x="1110.7" y="716.7" width="152.20" height="122.30"/></clipPath><rect x="1110.7" y="716.7" width="152.20" height="122.30" fill="#EAEAF2"/><line x1="1117.31" y1="716.7" x2="1117.31" y2="839" stroke="#FFF" stroke-width="0.8"/><text x="1117.31" y="845.20" font-family="Liberation Sans" font-size="4.6" fill="#555" text-anchor="middle">0.0</text><line x1="1145.07" y1="716.7" x2="1145.07" y2="839" stroke="#FFF" stroke-width="0.8"/><text x="1145.07" y="845.20" font-family="Liberation Sans" font-size="4.6" fill="#555" text-anchor="middle">0.2</text><line x1="1172.82" y1="716.7" x2="1172.82" y2="839" stroke="#FFF" stroke-width="0.8"/><text x="1172.82" y="845.20" font-family="Liberation Sans" font-size="4.6" fill="#555" text-anchor="middle">0.4</text><line x1="1200.58" y1="716.7" x2="1200.58" y2="839" stroke="#FFF" stroke-width="0.8"/><text x="1200.58" y="845.20" font-family="Liberation Sans" font-size="4.6" fill="#555" text-anchor="middle">0.6</text><line x1="1228.34" y1="716.7" x2="1228.34" y2="839" stroke="#FFF" stroke-width="0.8"/><text x="1228.34" y="845.20" font-family="Liberation Sans" font-size="4.6" fill="#555" text-anchor="middle">0.8</text><line x1="1256.10" y1="716.7" x2="1256.10" y2="839" stroke="#FFF" stroke-width="0.8"/><text x="1256.10" y="845.20" font-family="Liberation Sans" font-size="4.6" fill="#555" text-anchor="middle">1.0</text><line x1="1110.7" y1="727.70" x2="1262.9" y2="727.70" stroke="#FFF" stroke-width="0.8"/><text x="1109.20" y="729.30" font-family="Liberation Sans" font-size="4.6" fill="#555" text-anchor="end">200</text><line x1="1110.7" y1="750.42" x2="1262.9" y2="750.42" stroke="#FFF" stroke-width="0.8"/><text x="1109.20" y="752.02" font-family="Liberation Sans" font-size="4.6" fill="#555" text-anchor="end">150</text><line x1="1110.7" y1="773.15" x2="1262.9" y2="773.15" stroke="#FFF" stroke-width="0.8"/><text x="1109.20" y="774.75" font-family="Liberation Sans" font-size="4.6" fill="#555" text-anchor="end">100</text><line x1="1110.7" y1="795.87" x2="1262.9" y2="795.87" stroke="#FFF" stroke-width="0.8"/><text x="1109.20" y="797.47" font-family="Liberation Sans" font-size="4.6" fill="#555" text-anchor="end">50</text><line x1="1110.7" y1="818.59" x2="1262.9" y2="818.59" stroke="#FFF" stroke-width="0.8"/><text x="1109.20" y="820.19" font-family="Liberation Sans" font-size="4.6" fill="#555" text-anchor="end">0</text><g clip-path="url(#chc3)"><path transform="scale(.5)" d="M2235 1534l1-3 1-2 1-4 1 1 1 0 1-3 1-2 1-1 1-2 1-2 1 1 1-2 2 0 1-1 1-3 1 1 1-3 1 2 1 0 1-1 1 0 1 0 1-3 1-1 1-1 1 2 2 2 1-2 1 0 1 1 1-3 1 1 1-4 1 3 1-4 1 3 1 1 1-2 1 0 1-2 2 3 1 0 1-4 1 4 1-1 1 1 1-1 1-5 1-1 1 1 1 1 1-2 1 1 1 4 2-5 1 2 1-1 1 0 1 0 1 1 1-3 1 0 1 1 1 0 1-3 1 4 1-3 1-1 2-3 1 1 1 1 1 2 1 2 1-4 1-2 1 2 1 0 1-1 1 2 1-3 1 1 1-1 2 1 1 1 1-3 1 2 1-2 1 2 1-1 1-2 1-1 1 3 1-1 1-1 1-1 2-2 1-1 1-1 1 1 1 1 1 3 1-4 1 3 1-1 1-1 1-2 1 2 1-3 1-2 2 6 1-2 1-3 1 2 1-2 1 3 1-2 1-1 1-2 1 1 1-1 1 2 1 1 1-2 2 0 1 2 1-3 1 2 1 3 1-1 1 0 1-3 1-1 1 1 1-3 1 4 1 0 1 0 2-1 1 0 1-2 1 2 1-2 1-1 1 0 1 1 1 1 1 0 1-3 1 2 1 1 1-1 2 1 1-3 1 0 1 3 1-5 1 2 1 3 1-4 1 0 1 1 1 4 1-3 1 3 1-4 2-3 1 0 1 2 1 3 1-2 1 0 1-1 1 1 1 0 1-2 1-2 1 1 1 0 1 2 2-3 1 2 1 2 1-4 1 1 1 1 1 2 1-6 1 2 1 0 1 1 1 0 1 1 1-2 2 0 1-1 1 4 1-2 1-1 1-2 1 3 1-1 1-3 1 3 1 1 1-3 1 2 1-3 2 4 1-3 1 0 1 0 1 3 1-1 1-1 1-1 1-1 1 1 1 2 1-2 1 1 1 1 2-4 1 3 1-5 1 7 1-2 1-3 1 3 1-1 1 3 1-3 1 1 1-4 1 2 1-1 2 2 1 0 1 1 1 0 1 1 1 0 1-3 1 0 1 0 1 1 1 0 1-3 1 4 1-5 2 1 1 2 1 0 1 0 1-3 1 6 1-4 1 0 1 1 1-2 0 28-1 0-1 1-1-2-1 1-1 0-1 2-1-5-1 4-1-2-2 1-1 0-1 2-1-3-1 1-1 2-1-4-1 3-1-2-1 0-1 1-1-1-1 0-1 6-2-2-1 1-1-1-1-2-1-1-1 0-1 1-1 2-1-1-1 1-1-2-1 0-1 0-1 3-2-5-1 3-1-3-1 2-1 1-1 1-1 1-1-5-1 6-1 0-1-1-1-5-1 2-1 2-2 2-1-6-1 5-1 0-1-2-1 2-1 0-1-1-1 2-1-2-1 2-1-3-1 4-1-1-2 0-1-3-1 4-1-2-1-2-1 3-1-1-1-1-1-1-1 0-1 3-1-2-1 3-1 1-2-3-1 1-1-2-1 4-1 0-1-2-1-1-1 0-1 0-1 3-1-2-1-1-1 3-1-4-2 4-1 0-1-2-1 2-1-1-1 4-1-2-1 0-1 0-1 1-1-2-1 2-1 1-1-3-2 2-1-1-1 0-1 3-1-2-1-2-1 6-1-2-1 1-1-2-1 1-1 0-1-2-1 3-2-3-1 0-1-1-1 4-1-1-1 2-1-2-1-1-1 2-1 0-1-2-1 3-1-2-1 1-2 2-1-5-1 0-1 5-1-1-1-2-1 5-1-3-1 0-1 3-1 0-1 0-1-2-1 0-2 1-1 2-1 0-1 1-1-1-1-1-1 1-1 1-1-3-1 1-1 2-1 0-1 2-1-1-2-1-1 2-1-3-1 2-1 3-1-2-1-1-1 0-1-2-1 7-1-1-1-2-1-3-2 7-1-3-1 0-1 1-1 1-1-2-1-1-1 2-1 0-1 1-1 0-1 1-1 1-1-3-2 4-1-2-1-1-1 2-1-3-1 5-1 2-1-3-1-1-1 1-1 0-1-1-1 2-1 1-2 0-1 0-1 1-1-2-1 1-1 3-1-1-1-1-1 1-1-1-1 0-1 4-1-4-1 0-2 2-1-1-1 4-1-3-1 2-1 0-1-1-1 2-1 0-1 0-1-1-1 1-1 2-1 0-2 2-1 0-1-1-1 0-1 1-1 0-1 2-1-3-1 5-1-2-1-2-1 3-1-1-1 3-2 1-1-1-1 2-1 3-1 2-1 0-1 1-1 1-1 2-1 3-1 0-1 3-1 4z" fill="#DD8452" opacity="0.28"/><path transform="scale(.5)" d="M2235 1547l1-3 1-2 1-2 1-2 1-1 1-2 1-1 1 0 1-2 1-3 1 0 1-1 2-1 1-2 1 0 1-2 1 0 1 2 1-2 1 0 1 0 1 0 1-3 1 0 1 0 1 1 2 0 1-1 1-1 1 0 1-1 1 1 1-3 1 1 1-2 1 2 1 0 1 0 1-2 1 0 2 0 1 0 1 0 1 0 1-1 1 1 1-1 1-1 1 0 1-2 1 0 1 0 1 0 1 2 2-2 1 1 1-2 1 1 1-1 1 0 1 0 1 1 1 0 1-3 1 0 1 1 1-1 1 0 2-3 1 2 1 0 1 1 1 1 1-3 1-1 1 0 1 1 1 0 1 0 1-1 1 0 1 1 2-3 1 2 1-1 1 2 1-4 1 1 1 0 1-1 1 1 1 0 1-1 1 0 1-1 2-1 1 0 1-1 1 1 1-1 1 1 1-1 1 2 1-2 1 1 1-1 1 1 1-2 1-2 2 3 1-2 1 0 1 1 1-1 1 0 1-1 1 1 1-3 1 1 1 0 1-1 1 0 1 2 2-1 1 0 1 0 1-1 1 3 1-1 1-1 1-1 1 1 1-1 1-1 1 0 1 1 1 0 2 1 1-2 1 0 1 1 1-2 1 1 1 0 1 1 1-3 1 2 1-1 1 0 1 0 1 0 2 0 1-1 1 0 1 1 1-2 1 1 1 1 1-2 1 1 1-1 1 2 1-2 1 2 1-2 2-3 1 2 1-1 1 2 1 0 1-1 1-1 1 1 1 0 1 0 1-1 1-2 1 2 1 0 2 0 1 0 1 0 1-1 1-1 1 1 1 1 1-2 1 1 1-2 1 2 1 1 1-2 1 1 2 0 1 0 1 0 1 0 1-1 1 0 1 1 1-1 1-1 1 1 1 1 1-1 1-2 1 1 2 1 1-2 1-1 1 2 1 3 1-1 1-3 1 1 1 0 1 0 1 0 1-2 1 2 1-1 2 0 1 0 1-2 1 4 1 0 1-3 1 3 1-2 1 1 1-2 1 1 1-1 1 2 1-1 2 2 1-3 1 0 1 1 1 0 1 0 1 0 1-2 1 2 1 0 1-1 1 0 1 1 1-2 2 0 1 1 1-2 1 3 1-3 1 3 1-2 1 1 1 0 1-1" fill="none" stroke="#DD8452" stroke-width="1.8" stroke-linejoin="round"/><path transform="scale(.5)" d="M2235 1662l1-17 1-15 1-17 1-17 1-12 1-13 1-8 1-8 1-9 1-9 1-10 1 1 2-1 1-4 1 1 1-3 1-4 1-2 1 0 1-4 1 0 1-7 1-3 1-4 1 2 1-3 2 0 1-2 1 0 1 0 1 0 1 2 1-6 1 4 1-4 1 3 1-1 1 1 1 0 1-3 2-2 1 2 1-1 1 2 1-4 1 2 1-1 1-2 1 1 1 0 1-1 1 0 1-1 1-1 2 1 1-3 1-1 1 0 1 3 1 0 1-2 1 0 1-2 1 1 1 0 1 2 1-3 1 3 2 0 1-3 1 1 1-1 1-2 1-2 1 2 1 2 1-2 1-1 1 0 1 3 1 0 1-4 2 4 1-2 1-2 1 1 1 3 1-1 1 0 1 1 1-3 1 3 1-3 1 4 1-2 2 0 1-1 1 4 1-6 1 3 1-1 1-2 1 2 1 0 1-1 1-1 1 0 1 0 1 2 2 2 1-2 1 2 1-2 1 1 1 2 1-2 1 1 1 0 1 0 1-4 1 0 1 6 1 10 2 10 1-3 1-13 1-7 1-4 1 6 1-1 1-4 1 2 1 3 1-8 1 3 1 0 1 6 2-7 1 3 1 0 1-1 1 4 1-2 1-2 1-2 1 1 1 0 1 0 1 0 1-3 1 4 2 3 1-4 1 2 1 1 1 0 1-3 1 2 1-1 1 1 1-4 1 3 1 1 1 1 1 0 2-5 1 5 1-4 1 0 1 0 1 1 1 1 1-3 1 2 1 2 1-1 1-3 1 4 1-2 2 1 1-3 1 3 1-4 1 5 1-1 1 2 1-3 1 1 1 2 1-4 1 2 1-2 1 5 2-6 1 1 1-2 1 2 1 1 1 0 1 0 1-2 1 1 1 3 1-3 1-1 1 1 1 0 2-1 1 6 1-4 1-4 1 3 1 0 1 3 1 0 1 9 1 18 1 0 1-13 1-16 1 1 2 2 1-3 1-1 1 6 1-6 1 0 1 0 1 0 1 4 1-3 1 1 1-4 1 2 1-1 2 4 1 0 1-3 1 0 1-1 1 2 1 1 1-3 1 2 1 0 1-3 1-2 1 5 1 1 2-2 1 5 1-7 1-1 1 3 1 1 1 0 1-1 1-1 1-1 0 8-1 2-1 1-1 2-1 0-1-4-1-2-1 2-1 7-1-4-2 2-1-3-1-3-1 1-1 3-1 1-1-4-1 2-1 1-1-4-1 3-1-1-1 2-1 2-2-4-1 0-1 0-1 3-1 0-1 1-1-2-1 0-1-1-1 1-1 3-1-5-1 2-1 2-2-1-1-1-1 15-1 13-1 0-1-18-1-10-1 1-1-1-1-2-1-1-1 1-1 6-1-5-2 0-1 0-1 0-1 1-1 2-1-2-1-2-1 2-1 0-1-1-1-1-1-2-1 4-1-4-2 9-1-7-1 4-1-2-1 2-1-1-1-2-1 2-1-2-1 3-1-4-1 4-1-4-1 2-2 1-1 2-1-6-1 4-1 2-1-3-1-1-1 1-1 0-1 0-1 0-1-2-1 4-1-3-2 3-1 1-1-2-1 0-1-2-1 3-1-1-1 1-1-3-1 4-1 0-1-2-1-1-1 3-2-2-1-4-1 3-1 1-1 0-1-1-1-1-1 0-1 4-1 1-1-2-1-1-1-1-1 0-2 5-1-4-1-1-1-3-1 7-1-3-1-1-1 4-1 2-1-6-1 3-1 7-1 13-1 4-2-10-1-11-1-5-1 0-1 4-1-2-1-1-1-1-1 4-1-4-1 0-1 2-1-3-1 3-2-2-1-2-1 1-1 0-1 1-1-1-1 1-1-2-1 2-1 0-1-1-1 7-1-5-1 1-2 0-1 0-1-3-1 3-1-1-1 2-1-2-1 0-1 0-1-3-1 1-1 2-1 2-2-4-1 2-1 1-1-1-1-2-1 0-1 3-1 0-1-3-1 1-1 4-1 1-1-3-1 4-2-1-1-1-1 0-1-1-1 2-1-3-1 4-1-2-1 2-1 0-1-2-1-1-1 2-1 2-2 0-1 1-1 0-1 0-1 2-1 0-1-1-1 3-1-1-1 0-1 4-1-4-1 1-1 0-2-1-1 3-1 3-1-4-1 2-1-1-1 2-1-3-1 6-1-1-1-3-1 3-1 0-1 1-2 1-1 2-1-4-1 5-1 3-1 7-1 1-1 2-1 3-1 0-1 4-1 4-1-2-1 4-2 3-1-3-1 9-1 9-1 11-1 8-1 9-1 13-1 10-1 18-1 16-1 16-1 16z" fill="#55A868" opacity="0.28"/><path transform="scale(.5)" d="M2235 1666l1-17 1-15 1-16 1-18 1-11 1-13 1-8 1-8 1-11 1-9 1-9 1 2 2-2 1-4 1 1 1-3 1-4 1-1 1-1 1-3 1-1 1-7 1-3 1-4 1 2 1-2 2 0 1-2 1 0 1-1 1 1 1 2 1-6 1 3 1-3 1 2 1-1 1 2 1-1 1-3 2-1 1 1 1-1 1 3 1-4 1 1 1 0 1-3 1 1 1 0 1-1 1 0 1-1 1-1 2 1 1-3 1-1 1 1 1 2 1 0 1-2 1 1 1-3 1 2 1-1 1 2 1-2 1 2 2 1 1-4 1 2 1-1 1-3 1-1 1 2 1 1 1-3 1 0 1 1 1 2 1-1 1-2 2 4 1-3 1-2 1 1 1 3 1-1 1 0 1 1 1-2 1 2 1-3 1 3 1-1 2 0 1-1 1 5 1-6 1 2 1-1 1-2 1 2 1-1 1 1 1-1 1 0 1-1 1 2 2 2 1-3 1 3 1-2 1 1 1 3 1-3 1 1 1 0 1 1 1-4 1 0 1 6 1 10 2 10 1-3 1-14 1-7 1-3 1 6 1-1 1-5 1 2 1 3 1-7 1 2 1 1 1 5 2-6 1 2 1 0 1 0 1 3 1-1 1-3 1-1 1 0 1 1 1 0 1-1 1-3 1 4 2 3 1-4 1 2 1 1 1 0 1-3 1 2 1 0 1 1 1-4 1 3 1 0 1 2 1-1 2-4 1 4 1-4 1 1 1 0 1 0 1 1 1-2 1 2 1 2 1-2 1-3 1 5 1-2 2 0 1-2 1 3 1-4 1 4 1-2 1 3 1-3 1 2 1 1 1-3 1 2 1-3 1 6 2-8 1 3 1-3 1 2 1 1 1 1 1 0 1-2 1 1 1 3 1-3 1-1 1 1 1-1 2 0 1 5 1-5 1-2 1 2 1 1 1 2 1-1 1 10 1 18 1 0 1-13 1-15 1 1 2 1 1-3 1-1 1 5 1-4 1-1 1 1 1 0 1 3 1-2 1 1 1-4 1 1 1 0 2 3 1 0 1-3 1 0 1-2 1 3 1 0 1-2 1 3 1-1 1-3 1-1 1 4 1 2 2-2 1 4 1-6 1-2 1 2 1 3 1 0 1-1 1-2 1-1" fill="none" stroke="#55A868" stroke-width="1.8" stroke-linejoin="round"/><path transform="scale(.5)" d="M2235 1653l1-21 0-20 1-16 1-16 1-21 1-18 1-5 1-1 1-3 1-6 1-4 1-5 1-3 1-2 1-3 0-9 1 1 1-4 1 1 1-3 1-1 1 1 1-1 1-1 1-2 1-1 1 1 1 2 1-3 0 1 1-1 1 1 1-3 1 1 1-2 1-5 1 4 1-2 1 3 1-2 1-2 1 0 1-1 0 1 1 0 1-3 1 2 1-4 1 3 1-3 1 1 1-2 1 2 1-4 1 2 1-3 1 0 0 0 1 1 1-3 1 2 1-3 1 3 1-2 1 0 1 1 1 0 1 0 1 1 1-1 1-1 0 0 1-2 1 1 1-1 1 0 1 1 1 0 1 0 1-2 1 3 1 0 1-3 1 2 1-2 0 1 1 2 1-4 1 0 1 2 1-1 1 1 1 1 1-1 1-1 1-1 1 1 1 0 1-2 0 3 1-2 1-1 1 2 1 1 1 0 1-3 1 0 1-2 1 4 1-1 1-2 1 2 1 2 0-4 1-2 1 2 1 2 1 0 1-1 1-4 1 3 1 0 1-1 1 2 1-3 1 4 1 0 0-3 1-1 1 1 1 2 1 2 1-2 1 0 1 0 1-1 1 2 1-2 1 1 1 0 1-1 0 0 1 0 1 2 1-1 1 1 1-4 1 0 1 3 1 1 1 0 1-2 1 0 1-2 1 2 0 2 1 2 1-5 1 2 1 2 1 1 1 34 1 23 1 33 1-2 1-29 1-27 1-34 1 2 0-5 1 4 1 0 1 11 1 14 1 18 1 15 1-6 1-15 1-11 1-14 1-14 1 1 1-1 0-2 1 1 1-3 1 3 1 1 1 1 1-1 1 2 1 0 1-2 1-2 1 1 1 0 1 1 0 1 1-1 1 1 1 0 1 1 1 0 1-2 1 0 1 1 1-3 1 1 1 0 1-1 1 3 0 1 1-2 1 1 1-3 1 2 1-1 1 1 1 3 1-4 1 3 1-1 1-1 1-1 0 0 1-1 1 4 1-2 1 3 1-3 1 0 1 1 1-2 1 1 1-2 1 4 1-1 1 1 0-4 1 4 1 22 1 17 1-11 1-19 1-11 1 1 1 7 1 17 1 15 1 8 1-18 1-17 0-12 1-1 1 2 1-2 1-1 1 2 1 0 1 0 1 1 1-4 1 5 1-2 1-1 1 1 0-1 1-2 1 3 1-1 1 0 1 0 1 6 1 24 1 24 1-19 1-22 1-11 1-3 1 1 0 1 1-3 1 4 1-3 1 0 1 4 1 0 1-2 1-2 1-1 1 4 1-4 1 2 1 1 0 1 1-1 1 1 1-1 1 1 0 9-1 0-1 1-1-3-1 0 0 1-1 0-1-2-1 3-1-3-1 0-1 2-1 1-1 0-1-3-1 0-1 1-1-2-1 2 0-1-1-1-1 4-1 10-1 23-1 20-1-24-1-25-1-6-1 1-1-1-1-1-1 0-1 1 0 1-1 0-1-1-1 4-1-5-1 2-1 1-1 0-1-1-1-1-1-1-1 1-1-1-1 0 0 13-1 18-1 17-1-7-1-15-1-18-1-7-1 0-1 11-1 19-1 12-1-20-1-20-1-5 0 3-1 1-1-1-1-1-1 0-1 1-1 1-1-3-1 2-1 3-1-2-1 1-1-3-1 0 0 0-1 2-1-1-1 0-1-1-1 3-1-4-1 0-1 1-1-1-1 3-1-3-1 5 0-2-1-3-1 1-1 1-1-2-1 2-1 0-1 0-1 1-1 1-1 0-1-2-1 0-1 1 0-2-1-2-1 1-1-1-1 1-1 4-1-1-1-1-1 1-1-1-1 0-1-3-1 1-1 0 0 3-1 1-1-1-1 12-1 15-1 12-1 14-1 6-1-15-1-18-1-13-1-12-1 1-1-4 0 2-1 0-1 32-1 28-1 30-1 3-1-34-1-24-1-32-1-2-1-4-1 0-1 5-1-3 0-1-1-3-1 3-1 0-1 3-1-3-1 0-1-1-1 0-1 4-1-3-1 1-1-2-1 1 0 0-1 1-1-1-1-1-1 1-1-1-1 2-1 0-1 1-1 1-1-4-1 1-1-1-1 1 0 0-1 0-1-2-1 2-1-2-1 2-1-1-1-2-1 2-1 2-1 1-1-3-1-2-1 3 0 5-1-4-1 0-1 0-1 2-1-3-1 1-1 1-1 1-1 2-1-2-1-2-1 0-1 3 0-3-1 1-1-1-1 1-1 1-1 0-1 2-1-2-1-1-1 1-1-1-1-2-1 6-1-3 0 0-1 1-1-2-1 4-1-1-1-3-1 1-1 2-1-1-1 1-1-1-1 0-1 0-1 1 0 2-1 1-1-1-1-1-1 0-1 0-1 1-1 0-1 0-1-2-1 1-1 1-1 2-1-1 0 1-1-1-1 2-1 0-1 1-1 0-1 1-1 0-1 2-1-3-1 5-1-1-1 2-1-2 0 2-1 1-1-1-1 1-1 3-1-2-1 1-1-4-1 5-1 1-1 0-1 2-1-1-1 3 0-3-1 5-1-3-1 0-1 1-1 1-1 0-1 1-1 1-1 0-1 2-1 1-1 2-1 1 0 6-1 4-1 3-1 3-1 5-1 3-1 7-1 4-1 1-1 4-1 19-1 20-1 17-1 17 0 19-1 19z" fill="#4C72B0" opacity="0.28"/><path transform="scale(.5)" d="M2235 1657l1-20 0-19 1-17 1-17 1-20 1-18 1-5 1-1 1-3 1-7 1-3 1-6 1-3 1-2 1-4 0-7 1 0 1-3 1 0 1-2 1-1 1 0 1-1 1-1 1-1 1-1 1 1 1 2 1-4 0 2 1-2 1 1 1-2 1 0 1-2 1-4 1 4 1-2 1 2 1-2 1-2 1 1 1-1 0 0 1 1 1-3 1 1 1-4 1 3 1-2 1 0 1-2 1 2 1-3 1 1 1-3 1 1 0 0 1 1 1-3 1 0 1-1 1 2 1-1 1 0 1 0 1 0 1 0 1 1 1 0 1-1 0-1 1-2 1 1 1 0 1 0 1 0 1 1 1-1 1-2 1 3 1 0 1-3 1 2 1-1 0 0 1 2 1-5 1 1 1 2 1-1 1 1 1 1 1-1 1-1 1-1 1 1 1 0 1-1 0 2 1-2 1-1 1 2 1 2 1-1 1-2 1 0 1-2 1 4 1-2 1-1 1 1 1 3 0-5 1-2 1 2 1 2 1 0 1-1 1-4 1 3 1 1 1-2 1 2 1-3 1 4 1 0 0-2 1-1 1 1 1 0 1 3 1-1 1 0 1 0 1-2 1 1 1-1 1 1 1 0 1 0 0-1 1 0 1 2 1-1 1 2 1-4 1 0 1 2 1 1 1 1 1-2 1 0 1-3 1 3 0 1 1 2 1-5 1 2 1 2 1 2 1 33 1 23 1 34 1-2 1-30 1-27 1-34 1 1 0-3 1 4 1-1 1 12 1 13 1 18 1 15 1-6 1-14 1-12 1-14 1-13 1 1 1-1 0-3 1 1 1-2 1 3 1 0 1 2 1-2 1 2 1 1 1-4 1-1 1 1 1-1 1 2 0 1 1-1 1 1 1 1 1 1 1-1 1-2 1 0 1 1 1-3 1 2 1 0 1-1 1 2 0 2 1-4 1 2 1-2 1 1 1-1 1 0 1 4 1-4 1 2 1 0 1 0 1-2 0 0 1 0 1 4 1-2 1 3 1-3 1-1 1 1 1-1 1 0 1-1 1 3 1 0 1-1 0-3 1 5 1 20 1 19 1-12 1-19 1-10 1 0 1 7 1 18 1 15 1 7 1-17 1-18 0-13 1 0 1 1 1-1 1 0 1 2 1 0 1 0 1 0 1-3 1 5 1-3 1 0 1 0 0-1 1-1 1 2 1 0 1 0 1 0 1 5 1 25 1 24 1-19 1-23 1-10 1-4 1 1 0 1 1-2 1 3 1-2 1 0 1 3 1 0 1-1 1-3 1 0 1 3 1-3 1 2 1 0 0 0 1 0 1 2 1-1 1 0" fill="none" stroke="#4C72B0" stroke-width="1.8" stroke-linejoin="round"/><path transform="scale(.5)" d="M2235 1617l1-8 0-4 1-5 1-9 1-2 1-4 1-11 1 1 1-4 1-1 1-4 1-4 1-1 1-3 1-1 0-1 1 0 1-2 1 1 1 2 1-5 1 2 1 1 1-6 1 3 1 3 1-2 1-7 1 7 0-3 1 1 1 0 1-1 1 3 1 0 1 0 1 20 1-6 1-20 1 6 1-3 1 5 1-1 0-2 1-2 1 3 1 6 1-12 1 5 1 2 1-4 1 3 1 2 1 7 1 15 1-1 1-11 0 6 1 8 1-14 1-4 1 12 1 4 1-18 1-10 1 6 1-6 1 0 1 1 1-1 1-1 0 1 1 2 1 3 1-6 1 1 1 2 1 0 1-1 1 7 1 1 1 21 1-20 1 8 1 13 0-12 1-17 1 0 1 7 1-8 1 1 1-1 1 4 1-2 1-1 1-3 1 2 1-8 1 11 0-1 1-1 1 2 1-6 1 2 1 6 1-5 1-2 1 7 1-4 1 0 1-7 1 6 1 2 0 0 1-6 1 6 1-7 1 10 1-3 1 0 1 2 1-3 1-2 1 6 1 8 1-2 1-2 0-1 1-8 1 8 1-9 1 6 1-2 1-7 1 9 1-4 1 3 1 3 1-3 1-4 1 5 0-3 1-4 1 4 1 3 1-9 1 4 1-4 1 8 1-8 1 9 1 0 1-3 1 0 1-2 0 3 1-4 1-3 1 7 1 1 1-2 1-4 1 0 1 3 1 3 1-2 1-4 1 5 1-6 0 4 1-2 1 3 1-5 1 3 1 4 1-6 1 4 1-5 1 3 1 2 1-1 1 0 1 2 0-3 1-3 1 4 1 2 1 18 1-6 1-15 1-3 1 2 1-5 1 11 1-4 1-2 1 0 0 8 1 6 1-1 1-7 1-7 1 7 1-6 1-2 1 4 1 6 1 5 1 2 1-11 1-2 0 5 1 9 1 5 1-5 1-8 1-7 1 1 1-2 1 0 1-2 1 4 1-1 1-1 0 4 1 0 1 19 1 1 1-23 1-2 1 4 1-4 1-1 1 1 1 6 1-5 1 4 1-2 0 2 1 0 1-5 1 4 1-4 1 13 1 9 1-20 1-1 1-1 1 7 1 1 1-3 1-7 0 7 1 0 1-7 1 5 1-1 1-4 1 7 1-4 1-4 1 3 1 2 1 13 1 10 1-23 0-4 1 4 1-2 1 1 1-1 1-1 1 6 1-7 1 1 1 6 1-2 1 4 1-4 1-2 0 5 1 6 1 8 1-10 1-6 1 1 1-6 1 3 1 2 1-5 1 5 1-4 1 4 1-7 0 14 1 10 1-4 1-5 1-7 0 10-1 8-1 4-1 6-1-11 0-12-1 7-1-7-1 4-1-4-1 5-1-1-1-2-1 3-1 0-1 5-1 11-1-10-1-6 0-3-1 2-1 2-1-2-1 2-1-5-1 0-1 5-1-5-1 0-1 1-1-1-1 3-1-4 0 3-1 21-1-10-1-12-1-2-1-2-1 4-1 6-1-7-1 0-1 2-1-3-1 6-1 1 0-6-1 6-1 3-1-2-1-9-1 1-1 5-1 17-1-9-1-11-1 4-1-3-1 2-1-1 0 2-1 0-1-3-1 3-1-4-1-1-1 0-1 4-1-3-1 0-1 24-1-1-1-21-1 1 0-2-1-1-1 1-1-3-1 3-1-1-1 2-1 0-1 7-1 8-1 5-1-7-1-8 0-5-1 1-1 14-1-3-1-5-1-8-1-3-1 4-1 3-1-6-1 5-1 11-1-3-1-5 0-9-1 2-1 1-1 5-1-10-1 5-1-2-1 2-1 16-1 6-1-20-1-2-1-1-1 2 0 2-1-1-1-3-1 4-1-3-1-2-1 4-1-4-1 7-1-4-1-4-1 5-1-1-1-2 0-2-1 5-1-4-1 2-1 3-1-1-1-3-1 0-1 2-1 4-1-3-1-4-1 1-1 3 0-1-1 1-1 0-1 4-1-2-1-8-1 8-1-6-1 3-1-4-1 7-1-3-1-1-1 3 0 1-1-4-1 5-1 0-1-2-1-3-1 4-1-10-1 8-1 2-1-6-1 10-1-8-1 9 0-1-1 5-1 1-1-9-1-5-1 2-1 0-1-1-1 0-1 5-1-11-1 8-1-7-1 7 0-1-1-3-1-4-1 7-1-2-1 5-1-7-1 4-1 2-1-4-1-3-1 6-1-2-1 1 0 0-1-11-1 10-1-4-1 4-1 0-1 3-1-2-1 0-1-3-1 8-1-5-1-3-1 19 0 12-1-13-1-7-1 18-1-21-1 2-1-10-1 2-1-1-1-2-1 0-1 5-1-2-1-2 0-2-1 3-1-1-1-1-1 0-1 7-1-6-1 10-1 17-1-3-1-11-1 2-1 15-1-9 0-4-1 12-1-1-1-16-1-5-1-3-1-4-1 4-1-1-1-4-1 10-1-5-1-1-1 1 0 0-1 1-1-4-1 5-1-7-1 19-1 5-1-21-1 2-1 0-1-2-1-1-1 0-1 1 0 3-1-7-1 7-1 1-1-4-1-3-1 6-1 0-1-2-1 5-1-3-1 0-1 4-1-3 0 0-1 5-1 2-1 2-1 4-1 3-1 1-1 2-1-1-1 10-1 4-1 3-1 9-1 4 0 4-1 11z" fill="#C44E52" opacity="0.28"/><path transform="scale(.5)" d="M2235 1623l1-10 0-3 1-5 1-9 1-3 1-4 1-10 1 1 1-3 1-1 1-3 1-5 1-1 1-2 1-3 0-1 1 2 1-3 1 0 1 2 1-4 1 1 1 1 1-6 1 3 1 3 1-1 1-7 1 7 0-3 1 0 1 0 1 0 1 3 1-1 1-1 1 21 1-6 1-19 1 6 1-3 1 4 1-1 0-1 1-1 1 1 1 6 1-11 1 5 1 1 1-4 1 4 1 2 1 6 1 16 1-1 1-11 0 5 1 8 1-14 1-3 1 12 1 3 1-18 1-10 1 7 1-7 1 0 1 1 1 0 1-2 0 2 1 1 1 3 1-5 1 0 1 2 1 0 1-1 1 9 1-1 1 21 1-19 1 8 1 13 0-13 1-17 1 1 1 6 1-8 1 2 1-1 1 3 1-2 1-1 1-3 1 3 1-9 1 11 0-1 1 0 1 2 1-7 1 3 1 5 1-4 1-3 1 7 1-4 1 1 1-7 1 5 1 3 0 0 1-7 1 7 1-8 1 11 1-4 1 0 1 1 1-1 1-2 1 6 1 8 1-2 1-3 0 0 1-8 1 8 1-10 1 6 1-2 1-8 1 10 1-4 1 3 1 2 1-1 1-4 1 4 0-2 1-4 1 3 1 3 1-8 1 4 1-4 1 7 1-7 1 8 1 1 1-4 1 0 1-1 0 2 1-4 1-1 1 5 1 2 1-3 1-3 1 0 1 3 1 2 1-3 1-2 1 4 1-5 0 3 1-1 1 3 1-6 1 4 1 4 1-6 1 3 1-4 1 3 1 2 1-2 1 1 1 1 0-2 1-2 1 2 1 2 1 19 1-6 1-16 1-2 1 2 1-5 1 10 1-4 1-2 1-1 0 9 1 5 1 2 1-10 1-6 1 7 1-4 1-3 1 3 1 7 1 5 1 3 1-13 1-1 0 4 1 9 1 6 1-5 1-8 1-7 1 0 1-1 1 0 1-2 1 3 1-1 1 0 0 3 1-1 1 21 1 0 1-23 1-1 1 3 1-4 1 0 1 1 1 5 1-4 1 4 1-2 0 0 1 1 1-4 1 4 1-4 1 12 1 9 1-18 1-3 1-2 1 9 1 1 1-3 1-7 0 7 1-1 1-6 1 4 1-2 1-2 1 8 1-6 1-4 1 3 1 2 1 13 1 10 1-22 0-4 1 4 1-2 1 1 1-2 1 0 1 5 1-6 1 1 1 5 1-2 1 3 1-3 1-2 0 5 1 6 1 9 1-11 1-6 1 1 1-4 1 2 1 2 1-5 1 4 1-4 1 6 1-8 0 13 1 11 1-5 1-5 1-7" fill="none" stroke="#C44E52" stroke-width="1.8" stroke-linejoin="round"/></g><clipPath id="chc4"><rect x="1279" y="716.7" width="152.70" height="122.30"/></clipPath><rect x="1279" y="716.7" width="152.70" height="122.30" fill="#EAEAF2"/><line x1="1285.66" y1="716.7" x2="1285.66" y2="839" stroke="#FFF" stroke-width="0.8"/><text x="1285.66" y="845.20" font-family="Liberation Sans" font-size="4.6" fill="#555" text-anchor="middle">0.0</text><line x1="1313.43" y1="716.7" x2="1313.43" y2="839" stroke="#FFF" stroke-width="0.8"/><text x="1313.43" y="845.20" font-family="Liberation Sans" font-size="4.6" fill="#555" text-anchor="middle">0.2</text><line x1="1341.19" y1="716.7" x2="1341.19" y2="839" stroke="#FFF" stroke-width="0.8"/><text x="1341.19" y="845.20" font-family="Liberation Sans" font-size="4.6" fill="#555" text-anchor="middle">0.4</text><line x1="1368.95" y1="716.7" x2="1368.95" y2="839" stroke="#FFF" stroke-width="0.8"/><text x="1368.95" y="845.20" font-family="Liberation Sans" font-size="4.6" fill="#555" text-anchor="middle">0.6</text><line x1="1396.72" y1="716.7" x2="1396.72" y2="839" stroke="#FFF" stroke-width="0.8"/><text x="1396.72" y="845.20" font-family="Liberation Sans" font-size="4.6" fill="#555" text-anchor="middle">0.8</text><line x1="1424.48" y1="716.7" x2="1424.48" y2="839" stroke="#FFF" stroke-width="0.8"/><text x="1424.48" y="845.20" font-family="Liberation Sans" font-size="4.6" fill="#555" text-anchor="middle">1.0</text><line x1="1279" y1="734.42" x2="1431.7" y2="734.42" stroke="#FFF" stroke-width="0.8"/><text x="1277.50" y="736.02" font-family="Liberation Sans" font-size="4.6" fill="#555" text-anchor="end">150</text><line x1="1279" y1="753.93" x2="1431.7" y2="753.93" stroke="#FFF" stroke-width="0.8"/><text x="1277.50" y="755.53" font-family="Liberation Sans" font-size="4.6" fill="#555" text-anchor="end">100</text><line x1="1279" y1="773.44" x2="1431.7" y2="773.44" stroke="#FFF" stroke-width="0.8"/><text x="1277.50" y="775.04" font-family="Liberation Sans" font-size="4.6" fill="#555" text-anchor="end">50</text><line x1="1279" y1="792.95" x2="1431.7" y2="792.95" stroke="#FFF" stroke-width="0.8"/><text x="1277.50" y="794.55" font-family="Liberation Sans" font-size="4.6" fill="#555" text-anchor="end">0</text><line x1="1279" y1="812.46" x2="1431.7" y2="812.46" stroke="#FFF" stroke-width="0.8"/><text x="1277.50" y="814.06" font-family="Liberation Sans" font-size="4.6" fill="#555" text-anchor="end">−50</text><line x1="1279" y1="831.98" x2="1431.7" y2="831.98" stroke="#FFF" stroke-width="0.8"/><text x="1277.50" y="833.58" font-family="Liberation Sans" font-size="4.6" fill="#555" text-anchor="end">−100</text><g clip-path="url(#chc4)"><path transform="scale(.5)" d="M2571 1536l1-3 1-2 2-3 1-4 1-5 1-2 1-5 1-4 1-2 1-3 1-4 1-5 1-4 1-2 1 2 1-1 2-2 1-2 1 0 1 0 1 3 1-3 1 2 1-4 1 3 1-1 1-4 1 4 1-1 1-1 2-1 1 0 1-3 1 0 1 0 1-2 1 4 1-5 1 2 1 0 1-1 1-3 1 1 1 0 2-2 1 0 1 0 1 1 1-3 1 2 1-2 1-2 1-1 1 2 1-1 1-1 1-1 1 1 2 0 1-1 1 0 1 0 1 0 1-2 1-2 1 1 1 3 1-3 1 5 1 4 1-1 2 2 1 5 1 3 1 3 1 9 1-1 1 4 1-5 1-1 1-6 1-5 1-5 1-1 1-5 2-2 1-1 1 2 1-4 1 0 1-1 1-1 1 2 1-3 1 1 1 1 1 0 1-3 1 0 2 0 1-2 1-3 1 2 1 1 1-1 1 2 1-4 1 0 1 3 1 0 1-1 1 0 1 2 2 2 1-2 1-1 1-1 1 1 1-1 1 0 1 0 1-1 1 4 1-4 1 1 1 1 1-1 2 0 1 1 1-1 1 0 1 1 1-2 1 0 1 1 1-3 1 3 1 0 1-1 1 0 1 2 2-1 1-1 1 0 1-2 1 2 1 0 1-1 1 2 1-1 1 0 1 0 1-1 1 2 1-2 2 2 1-2 1-1 1 4 1-3 1-1 1 0 1 0 1 2 1-3 1 3 1-1 1-1 1 0 2 0 1 2 1 0 1 0 1 1 1-3 1 1 1-3 1 6 1 0 1-1 1-2 1 0 1 0 2 0 1 1 1-2 1 2 1-2 1-2 1 1 1 3 1 0 1-3 1 1 1 0 1-1 2 1 1 1 1-2 1 3 1-1 1-2 1-1 1 3 1-2 1-1 1 3 1-1 1-1 1-1 2 1 1 0 1 2 1-1 1-4 1 2 1 1 1 1 1-2 1 4 1-6 1 3 1-4 1 4 2 0 1-3 1 5 1-1 1-1 1 2 1-4 1 2 1 0 1 0 1-1 1 0 1 0 1-2 2 3 1-1 1 1 1 0 1 1 1-1 1 0 1 1 1-3 1 0 1-2 1 5 1-1 1-2 2 2 1 0 1 0 1-2 1 0 1-1 1 1 0 19-1 0-1 2-1-2-1 0-1-1-1 1-2 1-1 1-1-2-1 0-1 1-1 1-1 2-1-2-1-4-1 2-1 2-1-2-1 1-1-2-2 1-1-1-1 2-1-1-1 3-1-1-1 1-1-1-1 3-1-4-1 2-1-3-1 0-1 4-2-4-1 1-1 1-1-2-1 2-1 1-1-3-1 2-1 1-1-2-1 1-1-1-1-1-1 2-2 1-1-4-1 4-1 1-1-1-1-1-1 2-1 0-1-5-1 7-1-4-1 3-1-2-1 0-2 0-1-1-1 2-1-5-1 5-1 1-1-2-1 0-1-1-1 0-1 1-1 2-1 1-2-4-1 4-1-2-1 3-1-1-1-2-1-1-1 0-1-1-1 2-1-1-1 2-1 0-1 0-2 0-1-1-1 1-1 0-1-3-1 4-1-3-1 0-1 2-1-2-1 4-1-6-1 2-1 2-2 0-1-2-1 0-1 2-1 1-1-1-1 0-1 0-1 0-1 1-1 0-1 0-1-1-1 2-2-2-1 1-1 0-1-1-1-2-1 2-1-1-1-1-1 1-1 0-1-1-1 2-1 1-1 2-2-1-1-3-1-1-1 4-1-2-1-1-1 1-1-1-1 4-1-2-1 0-1 2-1-3-1 4-2-4-1 0-1-1-1 5-1-4-1 2-1-1-1 0-1 0-1-1-1 3-1-5-1 6-1 0-2 0-1-1-1 2-1 2-1-2-1 1-1 0-1 2-1-1-1 1-1 1-1 0-1-1-1 5-2 2-1 4-1 1-1 5-1 6-1 4-1-1-1 4-1 0-1-4-1-7-1-3-1-2-1-7-2-2-1 1-1-4-1 1-1-3-1-2-1 3-1-2-1 6-1-3-1 0-1-1-1 1-2-1-1 3-1 1-1-1-1 2-1 1-1 0-1 2-1-1-1-1-1 1-1 0-1 2-1 1-2 1-1-2-1 2-1 1-1 3-1-3-1-1-1 4-1-1-1-1-1 3-1-1-1 2-1 0-2 1-1-2-1 4-1-3-1 1-1 1-1-1-1 5-1-2-1 3-1-2-1-1-1 2-1 2-2-3-1 5-1-2-1-1-1 6-1 1-1 5-1 4-1 4-1 2-1 3-1 4-1 4-1 7-2 2-1 0-1 8z" fill="#DD8452" opacity="0.28"/><path transform="scale(.5)" d="M2571 1547l1-6 1 0 2-3 1-6 1-4 1-3 1-4 1-3 1-3 1-3 1-5 1-3 1-5 1 0 1 1 1-2 2 0 1-2 1-1 1 1 1 2 1-3 1 2 1-4 1 2 1-1 1-3 1 3 1-2 1 1 2-2 1 0 1-2 1 1 1-2 1 0 1 2 1-4 1 1 1 1 1-1 1-3 1 0 1 1 2-1 1-1 1-1 1 0 1-1 1 1 1 0 1-2 1-1 1 0 1-1 1 0 1-1 1-1 2 0 1-1 1 1 1 0 1 2 1-4 1 0 1-1 1 2 1 0 1 2 1 4 1-1 2 2 1 6 1 2 1 3 1 8 1 2 1 2 1-5 1 0 1-4 1-6 1-5 1-1 1-5 2-1 1-4 1 2 1-2 1-1 1-1 1 1 1-1 1-1 1 0 1 2 1-2 1-2 1 0 2 0 1-1 1-4 1 4 1-1 1 0 1 0 1-1 1 0 1 0 1 3 1-4 1 1 1 1 2 3 1-3 1 1 1-1 1 0 1 1 1-3 1 1 1-1 1 3 1-1 1-2 1 1 1 1 2 0 1 0 1-1 1-1 1 1 1-1 1 0 1 1 1-2 1 1 1 1 1 0 1 0 1 1 2 0 1-1 1 0 1-1 1 1 1-1 1 0 1 1 1-1 1 1 1 0 1-2 1 1 1 0 2 1 1-2 1-1 1 5 1-4 1 1 1-2 1 0 1 3 1-3 1 2 1 0 1-1 1 1 2-1 1 1 1 1 1-2 1 2 1-3 1 1 1-1 1 3 1 1 1 0 1-3 1 2 1-2 2 2 1 0 1-3 1 1 1-1 1 0 1 0 1 2 1 0 1-4 1 3 1-1 1 0 2 0 1 1 1 0 1 0 1 2 1-5 1 2 1 2 1-3 1 0 1 3 1-1 1-3 1 1 2 0 1 0 1 1 1 0 1-2 1 2 1 0 1-1 1 0 1 2 1-4 1 2 1-2 1 2 2 1 1-3 1 2 1 1 1-1 1 3 1-3 1 1 1-1 1 1 1-2 1 0 1-1 1 0 2 1 1 1 1-1 1 2 1-1 1-1 1 1 1 2 1-2 1-1 1-1 1 2 1 0 1-1 2 0 1 0 1 1 1-1 1 1 1-2 1 1" fill="none" stroke="#DD8452" stroke-width="1.8" stroke-linejoin="round"/><path transform="scale(.5)" d="M2571 1623l1-12 1-8 1-11 1-20 1-17 1-11 1-10 1-16 1-21 1 8 1-10 0 1 1-2 1-2 1 2 1-3 1-9 1 7 1-2 1 1 1-4 1-5 1-5 1 0 1 0 0-3 1 0 1-3 1 1 1-6 1 4 1 4 1 0 1-4 1 1 1 2 1-2 1-3 1-1 0-2 1 4 1-4 1-2 1 2 1-4 1 5 1 0 1-1 1 1 1-1 1-2 1 1 1 1 0 1 1-3 1 5 1-6 1 5 1-3 1 2 1-4 1 0 1 1 1 1 1-4 1-4 1 10 0-7 1 1 1 2 1 1 1-9 1 5 1-4 1 4 1 2 1-7 1 2 1 2 1-1 1-1 0 2 1 1 1-3 1-4 1 6 1 10 1 3 1 10 1 4 1-16 1 2 1-11 1-7 1 0 0 1 1 10 1 5 1-12 1-3 1-3 1 1 1 4 1-1 1 3 1 1 1-3 1-7 1 8 0 4 1-5 1 2 1 4 1 7 1 3 1-8 1-4 1-9 1 7 1-4 1-6 1 10 1-4 0 1 1-2 1 0 1-3 1 3 1-1 1 6 1-4 1 5 1-8 1 4 1-3 1 5 1-2 0 1 1-3 1 3 1 1 1-1 1 0 1 7 1 7 1 6 1-17 1 4 1-4 1-8 1 3 0 1 1-4 1-1 1 9 1-8 1 2 1 0 1 8 1-3 1 0 1 6 1-12 1 0 1 7 0-4 1 1 1-1 1 2 1-3 1-1 1 2 1 0 1 5 1-5 1 4 1-3 1 1 1-9 0 8 1 0 1 10 1-3 1-9 1 2 1-7 1 8 1-7 1 9 1-1 1-4 1 6 1-11 0 4 1 1 1-4 1 7 1 1 1 5 1-1 1-6 1 6 1-8 1-1 1 2 1 5 1-1 0 2 1-8 1 0 1 4 1-2 1-1 1 0 1 5 1 1 1-6 1-1 1 1 1 1 1-1 0 1 1 4 1-7 1 0 1 4 1 0 1 5 1 10 1-5 1-5 1-3 1-2 1 0 1 4 0-3 1 0 1 3 1-8 1 7 1-6 1 8 1-6 1 3 1-6 1 3 1 3 1-2 1 1 0 3 1 1 1 3 1-13 1 7 1-1 1 3 1-2 1 3 1-4 1 4 1-10 1 4 1-3 0 1 1 2 1 0 1 1 1 10 1 5 1 5 1-10 1 0 1-10 1 3 1-5 1 1 1 5 0 0 1-7 1 0 1 3 1-2 1 3 1-2 1 3 1-3 1-4 1 1 1 4 1 7 1-2 0 0 1-2 1-3 1 4 1-3 1 5 1-5 1 9 0 10-1-7-1 4-1-6-1 4-1-3-1 1-1 5 0-2-1 1-1-7-1-3-1 0-1 3-1 2-1-1-1 0-1-2-1 4-1-4-1-3-1 10 0-1-1-6-1 0-1 4-1-1-1 11-1-1-1 7-1-3-1-5-1-10-1-1-1 2-1-4 0-1-1 1-1-3-1 13-1-7-1 5-1-5-1 6-1-5-1 1-1-6-1 11-1-1-1 0 0-4-1-3-1 5-1-5-1-1-1 5-1-3-1 6-1-8-1 6-1-6-1 5-1 0-1-2 0 4-1-4-1-2-1 3-1 2-1 6-1 5-1-9-1-5-1 1-1-5-1-3-1 7-1-3 0-1-1 4-1-2-1 0-1-2-1 5-1 1-1-5-1 2-1 1-1-1-1-3-1 1-1 6 0-2-1 3-1-7-1-1-1 0-1 9-1-5-1 5-1 2-1-5-1-1-1-8-1 6-1-1 0-4-1 9-1-6-1 5-1 1-1-9-1 4-1-7-1 7-1 0-1 6-1 6-1-11-1-1 0-8-1 12-1-4-1 5-1-7-1 9-1-6-1 0-1-3-1 0-1 6-1-4-1 1-1-2 0 7-1-10-1 0-1 15-1-9-1 1-1 3-1-10-1 4-1-4-1 6-1-8-1 4-1 3 0-1-1-2-1 6-1 2-1 0-1 14-1-4-1-6-1-7-1-1-1 0-1-2-1-1-1 0 0 0-1 3-1-4-1 2-1-3-1 7-1-5-1 5-1-5-1 0-1-3-1 3-1 0-1 2 0-1-1 3-1-11-1 8-1 2-1-6-1 8-1 5-1 10-1-5-1-7-1-2-1-5-1 6 0-5-1-5-1 6-1 1-1 0-1-3-1 1-1-2-1-4-1 5-1 1-1 12-1-3-1-11 0 1-1 0-1 7-1 10-1-2-1 15-1-3-1-12-1-3-1-9-1-4-1 2-1 3-1 1 0-6-1 5-1 0-1-4-1 1-1 4-1 0-1-3-1 1-1-3-1 9-1-4-1-1-1-1 0 8-1-11-1 6-1 2-1-1-1 2-1-3-1 4-1-2-1 3-1-3-1 5-1-3-1 0 0 2-1-2-1 0-1 0-1 2-1-2-1 1-1 2-1-8-1 5-1-1-1 3-1 4-1-6 0 1-1 1-1 4-1 1-1-2-1 0-1 3-1 2-1-4-1-3-1 4-1-2-1 4-1 2 0 0-1 3-1-1-1 2-1 7-1 4-1-1-1 1-1-4-1 7-1 3-1-3-1 4-1 0 0 1-1 9-1-6-1 18-1 18-1 9-1 12-1 16-1 19-1 13-1 6-1 14z" fill="#55A868" opacity="0.28"/><path transform="scale(.5)" d="M2571 1629l1-13 1-7 1-12 1-20 1-16 1-11 1-10 1-17 1-20 1 7 1-9 0 0 1-1 1-3 1 2 1-3 1-7 1 5 1-2 1 2 1-5 1-5 1-4 1 1 1-2 0-2 1 0 1-4 1 2 1-6 1 4 1 4 1-1 1-4 1 1 1 2 1-2 1-3 1-1 0-2 1 5 1-4 1-2 1 2 1-5 1 7 1-2 1-1 1 2 1-1 1-2 1 1 1 1 0 0 1-2 1 5 1-6 1 4 1-3 1 2 1-4 1 2 1-1 1 1 1-3 1-5 1 11 0-8 1 1 1 1 1 3 1-9 1 4 1-3 1 4 1 1 1-6 1 1 1 3 1-1 1-3 0 5 1-1 1-2 1-4 1 6 1 9 1 3 1 11 1 4 1-16 1 2 1-10 1-7 1 0 0-1 1 11 1 4 1-12 1-2 1-4 1 2 1 4 1-2 1 3 1 1 1-2 1-7 1 7 0 4 1-5 1 4 1 3 1 6 1 5 1-9 1-5 1-8 1 6 1-3 1-7 1 10 1-3 0 1 1-2 1 0 1-3 1 3 1 0 1 5 1-5 1 6 1-8 1 4 1-3 1 4 1-2 0 0 1-1 1 2 1 1 1 0 1 1 1 6 1 7 1 5 1-16 1 2 1-3 1-6 1 2 0 1 1-4 1-2 1 8 1-6 1 2 1-2 1 9 1-2 1-1 1 8 1-14 1 0 1 8 0-5 1 1 1-1 1 4 1-5 1 0 1 2 1 0 1 5 1-7 1 6 1-4 1 3 1-11 0 8 1 0 1 11 1-4 1-8 1 1 1-7 1 8 1-6 1 9 1-1 1-5 1 6 1-10 0 5 1 1 1-5 1 7 1 1 1 5 1-2 1-5 1 6 1-9 1-1 1 2 1 6 1-2 0 2 1-7 1-1 1 4 1-1 1 0 1-2 1 5 1 0 1-5 1 1 1 0 1 1 1-2 0 1 1 3 1-7 1 2 1 4 1 0 1 5 1 10 1-6 1-5 1-2 1-3 1 1 1 4 0-4 1 2 1 1 1-7 1 7 1-6 1 8 1-6 1 3 1-5 1 2 1 3 1-3 1 2 0 4 1 0 1 2 1-12 1 7 1-2 1 5 1-4 1 3 1-4 1 5 1-11 1 4 1-3 0 1 1 4 1-1 1 0 1 11 1 4 1 5 1-9 1 0 1-10 1 2 1-4 1 0 1 5 0 1 1-8 1 1 1 3 1-2 1 2 1-1 1 2 1-2 1-4 1 1 1 3 1 7 1-2 0 1 1-3 1-2 1 4 1-4 1 6 1-5 1 8" fill="none" stroke="#55A868" stroke-width="1.8" stroke-linejoin="round"/><path transform="scale(.5)" d="M2571 1621l1-15 1-15 2-14 1-17 1-14 1-16 1-13 1-17 1 6 1-7 1-2 1-2 1-1 1-3 1-3 1-3 2 1 1-4 1-1 1-5 1 0 1-2 1-4 1-1 1-3 1 0 1-1 1 2 1-2 1-1 2 0 1-3 1 6 1-2 1-2 1-1 1 0 1-2 1-1 1 3 1 1 1-2 1-2 1 0 2 1 1 0 1-1 1 2 1-3 1 1 1 0 1 0 1-2 1 0 1 1 1-1 1-1 1 0 2 1 1-2 1 1 1 0 1-1 1-2 1 3 1-1 1-1 1 0 1-1 1-2 1 5 2-3 1 1 1-4 1 1 1 0 1 0 1 1 1-1 1 0 1 0 1-2 1 0 1 3 1-1 2-1 1 2 1-1 1 1 1-2 1 1 1 0 1-2 1 3 1-3 1 3 1 0 1 0 1 0 2-2 1 2 1-3 1 3 1-3 1 2 1 0 1-2 1 2 1-1 1 0 1-3 1 4 1-3 2 3 1 0 1-1 1-1 1 2 1 1 1-2 1 0 1-1 1 3 1-3 1 0 1 3 1-2 2-1 1 1 1-1 1 0 1 1 1 2 1 1 1-3 1 1 1-2 1-1 1 2 1-1 1-1 2 1 1 2 1 1 1-1 1-1 1 1 1-1 1-2 1 2 1-1 1 2 1 0 1-2 1-1 2 2 1 1 1-3 1 4 1-1 1 0 1-1 1 0 1 0 1-5 1 2 1 1 1 3 1 0 2-3 1 0 1 1 1-2 1 1 1 3 1 1 1-2 1-1 1 0 1 0 1 0 1 1 1-1 2-1 1 2 1 1 1-1 1 1 1-2 1 2 1-3 1 2 1-1 1-2 1 4 1-2 2-3 1 2 1 1 1-1 1 2 1 0 1 3 1-3 1-1 1-2 1 2 1 2 1-2 1 2 2-4 1 4 1-4 1 2 1 1 1-3 1 2 1 2 1-3 1 2 1-1 1-1 1-1 1 2 2 1 1-1 1 1 1-2 1 1 1-2 1 3 1-3 1-1 1 1 1 2 1-2 1 2 1-1 2-1 1 0 1 2 1 0 1 0 1-3 1 0 1 1 1 1 1 0 1 2 1-1 1-2 1 0 2 2 1 1 1-3 1 3 1-3 1 0 1 2 0 8-1-3-1 0-1 3-1-1-1 1-1 1-2-3-1 0-1 3-1-2-1-1-1 1-1-2-1 0-1 0-1 2-1 0-1-1-1 1-1-2-2 3-1 0-1-3-1 2-1 0-1-2-1 1-1 1-1 0-1 1-1 0-1 1-1-1-1 1-2-3-1 1-1 0-1 1-1 0-1-2-1 5-1-3-1-2-1 2-1-1-1 0-1 1-1-2-2 2-1-2-1 3-1-2-1-1-1 2-1 0-1 2-1 0-1-2-1-1-1 0-1-1-1-1-2 2-1 2-1-5-1 3-1 2-1-1-1 1-1-2-1 2-1-1-1 0-1 1-1-2-2 0-1 2-1 0-1-1-1-1-1 1-1 0-1 2-1 0-1-2-1-1-1 0-1 0-1 0-2 3-1-2-1-1-1-2-1-1-1 5-1-2-1 1-1 1-1-1-1 3-1-6-1 4-1-1-2-1-1 0-1 1-1 1-1 0-1 0-1-2-1 1-1 1-1 0-1 0-1 0-1 1-1-2-2 0-1-1-1 2-1-2-1 0-1 4-1-3-1 3-1-1-1-1-1-1-1 0-1 1-1-1-2 1-1 0-1-1-1-1-1 3-1-3-1 2-1-1-1 1-1 0-1-2-1 3-1 0-1-1-2-2-1 3-1-4-1 3-1 1-1 0-1-2-1 2-1-1-1-1-1 3-1-4-1 5-1-4-2 1-1 1-1 1-1 0-1-2-1 1-1-2-1 3-1-2-1 1-1 0-1 0-1 1-1-1-2 0-1 1-1-2-1-1-1 1-1 0-1 1-1 1-1-1-1-1-1 1-1-2-1 3-1 0-2 2-1-2-1 1-1 2-1-2-1 1-1 1-1-2-1 1-1 1-1 0-1 0-1 2-2-2-1 0-1 1-1 1-1-1-1 2-1 0-1 0-1 1-1-1-1 3-1-2-1-1-1 2-2 0-1-1-1 1-1 2-1 0-1-3-1 1-1 1-1 0-1 1-1 4-1-1-1-4-1 3-2 0-1 1-1 2-1-2-1 1-1 1-1 2-1 1-1 2-1 4-1 0-1 4-1 1-1 5-2-2-1 3-1 3-1 4-1 1-1 0-1 4-1 5-1-4-1 16-1 13-1 16-1 15-1 16-2 15-1 14-1 15z" fill="#4C72B0" opacity="0.28"/><path transform="scale(.5)" d="M2571 1625l1-15 1-15 2-15 1-16 1-14 1-17 1-12 1-17 1 5 1-6 1-3 1-1 1-1 1-3 1-4 1-2 2 1 1-4 1-2 1-4 1 0 1-3 1-3 1-1 1-2 1-1 1-1 1 2 1-2 1-1 2 0 1-3 1 5 1-1 1-3 1-1 1 1 1-2 1-1 1 3 1 0 1-1 1-2 1 1 2 0 1-1 1 0 1 2 1-3 1 1 1-1 1 0 1-1 1-1 1 1 1 0 1-2 1 1 2 1 1-2 1 1 1-1 1 0 1-2 1 2 1 0 1-1 1 1 1-2 1-2 1 4 2-3 1 1 1-4 1 2 1 0 1 0 1 1 1-1 1-1 1 1 1-2 1 1 1 2 1-1 2-1 1 2 1-1 1 0 1-1 1 0 1 1 1-2 1 2 1-1 1 2 1 0 1-1 1 0 2-2 1 3 1-4 1 4 1-3 1 1 1 1 1-2 1 2 1-1 1 0 1-3 1 4 1-3 2 3 1 0 1 0 1-2 1 1 1 1 1-2 1 1 1-1 1 2 1-3 1 1 1 2 1-1 2-1 1 1 1-1 1 0 1 1 1 1 1 1 1-2 1 1 1-3 1 0 1 2 1-1 1-1 2 1 1 2 1 0 1-1 1 0 1 1 1-2 1-1 1 2 1 0 1 1 1-1 1-2 1 0 2 1 1 1 1-3 1 5 1-2 1 0 1-1 1 0 1 1 1-5 1 2 1 1 1 2 1 1 2-3 1 0 1 1 1-2 1 2 1 2 1 0 1-1 1-1 1-1 1 1 1 0 1 1 1-2 2 0 1 2 1 0 1-1 1 1 1-1 1 1 1-1 1 1 1-2 1-2 1 4 1-1 2-3 1 2 1 1 1-1 1 1 1 1 1 2 1-2 1-1 1-2 1 1 1 3 1-3 1 2 2-3 1 3 1-2 1 0 1 1 1-2 1 2 1 2 1-3 1 2 1-1 1-1 1-1 1 1 2 2 1-1 1 1 1-1 1 0 1-2 1 2 1-2 1-1 1 2 1 0 1-1 1 2 1-1 2-2 1 1 1 1 1 0 1 1 1-3 1 0 1 0 1 2 1 0 1 1 1 0 1-2 1 0 2 2 1 0 1-2 1 2 1-3 1 0 1 3" fill="none" stroke="#4C72B0" stroke-width="1.8" stroke-linejoin="round"/><path transform="scale(.5)" d="M2571 1581l1-11 1 6 1-11 1 7 1-11 1 2 0-9 1-1 1 0 1-1 1-4 1-1 1 1 1-10 0 12 1-13 1-10 1 6 1 5 1-13 1 3 0 4 1-3 1-5 1-3 1 3 1-11 1 10 1-7 0 9 1-2 1-8 1 17 1 15 1 47 1-13 1-48 0-2 1-5 1-9 1-7 1-4 1 28 1 34 0 1 1-32 1-18 1-10 1 16 1 23 1 20 1-25 0-26 1-6 1 2 1 2 1-6 1 10 1-8 1 12 0 13 1-19 1 12 1 21 1 9 1-20 1-16 1-8 0-4 1 2 1 0 1-6 1 6 1 0 1 12 0 22 1-3 1-30 1 4 1 0 1-2 1 0 1-1 0 12 1-11 1-3 1 1 1 2 1-3 1 8 1-6 0 2 1-1 1-4 1 3 1 31 1-6 1-22 0-5 1 0 1-4 1 4 1-1 1 11 1-10 1 41 0-40 1-3 1 7 1-4 1-3 1 9 1 4 1-10 0 3 1-1 1-1 1 19 1 1 1-20 1 0 1-5 0 4 1 6 1-4 1 4 1-7 1 9 1-8 0-5 1 5 1 6 1 3 1-6 1 19 1 12 1-16 0-20 1 3 1-3 1-2 1 9 1-7 1 3 1-6 0 8 1 11 1 13 1-3 1-15 1-6 1-1 0 0 1 1 1 2 1-9 1 6 1-2 1 12 1 19 0 12 1 20 1 23 1-64 1-10 1-4 1-4 1-4 0 8 1-8 1-5 1 11 1-8 1 4 1 10 1-12 0 20 1 25 1 18 1-43 1-18 1-3 1 4 0-4 1-2 1 6 1 2 1-6 1 5 1-4 1-2 0 5 1-2 1 0 1 2 1-3 1-3 1 3 1 10 0-1 1-9 1-4 1 1 1 9 1-4 1 5 0-7 1 3 1 5 1-8 1 3 1-9 1 4 1 14 0-13 1 52 1 0 1-47 1 18 1 32 1-5 1-23 0-29 1 16 1-14 1 4 1-1 1-3 1 4 1 0 0 6 1-8 1 6 1-6 1 5 1-3 1 3 0 5 1-3 1-9 1 7 1-3 1 4 1 6 1 24 0 1 1-22 1-8 1-10 1 11 1 0 1-6 1 0 0 5 1-10 1 8 1 9 1 44 1 10 1-30 0 73 1 13 1-81 1 9 1-49 1-5 1 4 1-1 0 5 1 2 1-8 1-3 1 10 1-3 1 0 1-2 0 7 1-10 1 7 1-2 1 4 1-7 1 5 1-4 0 3 1-3 1 1 1-9 1 14 1-7 1 6 0-1 1 9 1-4 1 36 1-9 1-9 1-23 1-1 0 4 1-4 1 0 1 3 1-5 1 8 1 18 1-1 0-14 1-6 1-7 1 0 1 5 1-1 1 7 0-4 1-2 1 0 1 1 1-4 0 17-1 6-1 1-1-4-1 1 0 5-1-7-1 4-1-4-1-4-1 6-1 11 0 13-1-1-1-18-1-6-1 6-1-3-1-4-1 7 0-8-1 6-1 22-1 7-1 7-1-35-1 3-1-9 0 5-1-7-1 9-1-17-1 10-1-3-1 5 0-2-1 4-1-8-1 10-1-6-1 4-1-6-1 6 0-6-1 4-1-3-1 6-1-11-1 0-1 9-1 2 0-5-1-3-1-4-1 5-1 50-1-7-1 80-1-14 0-72-1 29-1-8-1-44-1-8-1-8-1 5 0-5-1 2-1 4-1 2-1-8-1 7-1 9-1 25 0-7-1-21-1-8-1 0-1 0-1-4-1 7-1 2 0-2-1-7-1 3-1-2-1 2-1-1-1 5 0-8-1 3-1-3-1 4-1-1-1-6-1 19-1-16 0 24-1 27-1 1-1-31-1-16-1 46-1-1-1-50 0 9-1-11-1-5-1 11-1-3-1 7-1-4-1-2 0 2-1-2-1 3-1-8-1-1-1 2-1 12 0 2-1-9-1-6-1 1-1 4-1 1-1-2-1 0 0-3-1 4-1 1-1-3-1 5-1-3-1-6-1 5 0 2-1-2-1 2-1 16-1 43-1-20-1-24 0-15-1 9-1-10-1-7-1 12-1-10-1 4-1 5 0-6-1 1-1 7-1 4-1 7-1 67-1-25-1-17 0-12-1-20-1-11-1 4-1-11-1 8-1 1-1-1 0-3-1 3-1 8-1 12-1 3-1-11-1-11 0-5-1 2-1-1-1 7-1-12-1 4-1 1-1-2 0 18-1 16-1-12-1-15-1 2-1-3-1-7-1 0 0 7-1 3-1-5-1 7-1-7-1 7-1-6 0-4-1 0-1 1-1 21-1-2-1-17-1 1-1 2 0-6-1 9-1-3-1-5-1 2-1 4-1-8-1 5 0 36-1-42-1 13-1-9-1-1-1-2-1 4-1 1 0 0-1 24-1 5-1-29-1-5-1 2-1 2 0-3-1 11-1-9-1 2-1-4-1 0-1 5-1 6 0-10-1 0-1 5-1-2-1 0-1-2-1 27-1 4 0-22-1-11-1 3-1-6-1 4-1-1-1 2 0-1-1 7-1 21-1 19-1-13-1-17-1-13-1 21 0-17-1-12-1 9-1-8-1 3-1 2-1-2-1 6 0 20-1 28-1-21-1-20-1-16-1 8-1 17-1 36 0-5-1-32-1-25-1 0-1 6-1 8-1 5 0 5-1 49-1 12-1-46-1-17-1-17-1 12-1-4 0-9-1 10-1-10-1 9-1-2-1 6-1 5-1 0 0-1-1-3-1 14-1-10-1-6-1 13-1 14 0-12-1 9-1-1-1-2-1 9-1 0-1-3-1 0 0 9-1-1-1 13-1-5-1 8-1-7-1 10z" fill="#C44E52" opacity="0.28"/><path transform="scale(.5)" d="M2571 1589l1-10 1 6 1-9 1 6 1-12 1 2 0-10 1 0 1 2 1-1 1-6 1 0 1 1 1-9 0 12 1-14 1-12 1 6 1 8 1-13 1 3 0 2 1-2 1-5 1-4 1 3 1-11 1 10 1-8 0 9 1 1 1-10 1 17 1 16 1 47 1-13 1-48 0-4 1-5 1-9 1-6 1-2 1 26 1 33 0 3 1-34 1-17 1-9 1 16 1 21 1 21 1-27 0-23 1-6 1 2 1 0 1-4 1 9 1-8 1 11 0 15 1-19 1 12 1 19 1 11 1-19 1-19 1-7 0-2 1 0 1 1 1-6 1 7 1-2 1 11 0 23 1-4 1-28 1 3 1-1 1 1 1-3 1-1 0 11 1-8 1-4 1 1 1 2 1-2 1 9 1-9 0 2 1-1 1-3 1 4 1 30 1-5 1-24 0-2 1-1 1-3 1 3 1 0 1 10 1-12 1 42 0-38 1-4 1 7 1-4 1-3 1 8 1 3 1-10 0 5 1-2 1-1 1 18 1 2 1-21 1 0 1-2 0 4 1 5 1-5 1 6 1-7 1 6 1-5 0-6 1 3 1 6 1 3 1-4 1 17 1 12 1-16 0-19 1 2 1-2 1-3 1 11 1-7 1 2 1-4 0 6 1 11 1 13 1-3 1-14 1-7 1-2 0 2 1 1 1 0 1-9 1 9 1-3 1 11 1 20 0 12 1 18 1 24 1-65 1-8 1-4 1-6 1-2 0 7 1-7 1-5 1 11 1-10 1 6 1 10 1-11 0 17 1 25 1 19 1-43 1-17 1-3 1 4 0-4 1-3 1 6 1 2 1-5 1 4 1-2 1-4 0 4 1-1 1 1 1 1 1-4 1-1 1 4 1 9 0-1 1-10 1-3 1 1 1 8 1-3 1 3 0-4 1 2 1 4 1-7 1 3 1-10 1 5 1 12 0-11 1 51 1 0 1-46 1 17 1 32 1-4 1-24 0-27 1 16 1-16 1 5 1-1 1-3 1 3 1-1 0 7 1-6 1 3 1-4 1 4 1-3 1 4 0 4 1-3 1-8 1 6 1-2 1 3 1 7 1 22 0 4 1-24 1-8 1-8 1 9 1-1 1-5 1-1 0 5 1-8 1 8 1 9 1 44 1 9 1-30 0 73 1 14 1-81 1 8 1-49 1-5 1 3 1 1 0 6 1 0 1-9 1-1 1 10 1-5 1 2 1-3 0 7 1-8 1 6 1-3 1 5 1-8 1 6 1-4 0 3 1-4 1 2 1-10 1 15 1-7 1 6 0-3 1 9 1-4 1 36 1-8 1-8 1-22 1-4 0 6 1-5 1 2 1 2 1-5 1 7 1 18 1 0 0-13 1-9 1-6 1 2 1 4 1-2 1 6 0-4 1-2 1 2 1 0 1-5" fill="none" stroke="#C44E52" stroke-width="1.8" stroke-linejoin="round"/></g><text x="849.6" y="714.7" font-family="Liberation Sans" font-size="13.6" fill="#262626" text-anchor="middle">HalfCheetah-Vel</text><text x="849.6" y="854.3" font-family="Liberation Sans" font-size="11.4" fill="#262626" text-anchor="middle">Million Steps</text><text x="1018.3" y="714.7" font-family="Liberation Sans" font-size="13.6" fill="#262626" text-anchor="middle">Ant-Dir</text><text x="1018.3" y="854.3" font-family="Liberation Sans" font-size="11.4" fill="#262626" text-anchor="middle">Million Steps</text><text x="1186.8" y="714.7" font-family="Liberation Sans" font-size="13.6" fill="#262626" text-anchor="middle">Hopper-Vel</text><text x="1186.8" y="854.3" font-family="Liberation Sans" font-size="11.4" fill="#262626" text-anchor="middle">Million Steps</text><text x="1355.3" y="714.7" font-family="Liberation Sans" font-size="13.6" fill="#262626" text-anchor="middle">Walker-Vel</text><text x="1355.3" y="854.3" font-family="Liberation Sans" font-size="11.4" fill="#262626" text-anchor="middle">Million Steps</text><clipPath id="chc5"><rect x="780.8" y="1182.8" width="151.10" height="121.40"/></clipPath><rect x="780.8" y="1182.8" width="151.10" height="121.40" fill="#EAEAF2"/><line x1="787.82" y1="1182.8" x2="787.82" y2="1304.2" stroke="#FFF" stroke-width="0.8"/><text x="787.82" y="1310.40" font-family="Liberation Sans" font-size="4.6" fill="#555" text-anchor="middle">0</text><line x1="815.37" y1="1182.8" x2="815.37" y2="1304.2" stroke="#FFF" stroke-width="0.8"/><text x="815.37" y="1310.40" font-family="Liberation Sans" font-size="4.6" fill="#555" text-anchor="middle">2</text><line x1="842.92" y1="1182.8" x2="842.92" y2="1304.2" stroke="#FFF" stroke-width="0.8"/><text x="842.92" y="1310.40" font-family="Liberation Sans" font-size="4.6" fill="#555" text-anchor="middle">4</text><line x1="870.47" y1="1182.8" x2="870.47" y2="1304.2" stroke="#FFF" stroke-width="0.8"/><text x="870.47" y="1310.40" font-family="Liberation Sans" font-size="4.6" fill="#555" text-anchor="middle">6</text><line x1="898.02" y1="1182.8" x2="898.02" y2="1304.2" stroke="#FFF" stroke-width="0.8"/><text x="898.02" y="1310.40" font-family="Liberation Sans" font-size="4.6" fill="#555" text-anchor="middle">8</text><line x1="925.56" y1="1182.8" x2="925.56" y2="1304.2" stroke="#FFF" stroke-width="0.8"/><text x="925.56" y="1310.40" font-family="Liberation Sans" font-size="4.6" fill="#555" text-anchor="middle">10</text><line x1="780.8" y1="1190.39" x2="931.9" y2="1190.39" stroke="#FFF" stroke-width="0.8"/><text x="779.30" y="1191.99" font-family="Liberation Sans" font-size="4.6" fill="#555" text-anchor="end">−200</text><line x1="780.8" y1="1205.56" x2="931.9" y2="1205.56" stroke="#FFF" stroke-width="0.8"/><text x="779.30" y="1207.16" font-family="Liberation Sans" font-size="4.6" fill="#555" text-anchor="end">−400</text><line x1="780.8" y1="1220.74" x2="931.9" y2="1220.74" stroke="#FFF" stroke-width="0.8"/><text x="779.30" y="1222.34" font-family="Liberation Sans" font-size="4.6" fill="#555" text-anchor="end">−600</text><line x1="780.8" y1="1235.91" x2="931.9" y2="1235.91" stroke="#FFF" stroke-width="0.8"/><text x="779.30" y="1237.51" font-family="Liberation Sans" font-size="4.6" fill="#555" text-anchor="end">−800</text><line x1="780.8" y1="1251.09" x2="931.9" y2="1251.09" stroke="#FFF" stroke-width="0.8"/><text x="779.30" y="1252.69" font-family="Liberation Sans" font-size="4.6" fill="#555" text-anchor="end">1000</text><line x1="780.8" y1="1266.26" x2="931.9" y2="1266.26" stroke="#FFF" stroke-width="0.8"/><text x="779.30" y="1267.86" font-family="Liberation Sans" font-size="4.6" fill="#555" text-anchor="end">1200</text><line x1="780.8" y1="1281.44" x2="931.9" y2="1281.44" stroke="#FFF" stroke-width="0.8"/><text x="779.30" y="1283.04" font-family="Liberation Sans" font-size="4.6" fill="#555" text-anchor="end">1400</text><line x1="780.8" y1="1296.61" x2="931.9" y2="1296.61" stroke="#FFF" stroke-width="0.8"/><text x="779.30" y="1298.21" font-family="Liberation Sans" font-size="4.6" fill="#555" text-anchor="end">1600</text><g clip-path="url(#chc5)"><path transform="scale(.5)" d="M1576 2472l4 9 5 9 5 10 4 9 5 9 5 2 4 1 5 0 5 1 4 0 5 1 5 0 4 0 5 0 5 0 4 0 5-1 5 0 4 0 5 0 5 0 4-1 5 0 5 0 4 0 5-1 5 0 4-1 5 0 5-1 4 0 5-1 5 0 4-1 5 0 5 1 4 2 5 2 5 1 4 2 5 2 5 1 4 0 5 0 5 1 4 0 5 1 5 0 4 0 5 1 5 0 4 1 5 0 5 0 4 0 5-1 5 0 4 0 5-1 0 70-5 1-4 0-5 0-5 0-4 1-5 0-5-1-4 0-5 0-5-1-4 0-5-1-5 0-4 0-5-1-5 0-4 0-5-1-5-2-4-2-5-2-5-1-4-2-5-1-5 0-4 1-5 0-5 1-4 0-5 1-5 0-4 0-5 1-5 0-4 1-5 0-5 0-4 0-5 1-5 0-4 0-5 0-5 0-4 1-5 0-5 0-4 0-5 0-5-1-4 0-5-1-5 0-4-1-5-16-5-11-4-12-5-11-5-11-4-12z" fill="#55A868" opacity="0.28"/><path transform="scale(.5)" d="M1576 2495l4 10 5 10 5 10 4 11 5 10 5 9 4 1 5 0 5 1 4 0 5 1 5 0 4 0 5 0 5 0 4 0 5-1 5 0 4 0 5 0 5 0 4-1 5 0 5 0 4-1 5 0 5 0 4-1 5 0 5-1 4 0 5-1 5 0 4-1 5 0 5 1 4 2 5 1 5 2 4 2 5 2 5 1 4 0 5 0 5 1 4 0 5 1 5 0 4 0 5 1 5 0 4 0 5 1 5 0 4-1 5 0 5 0 4 0 5-1" fill="none" stroke="#55A868" stroke-width="2" stroke-linejoin="round"/><path transform="scale(.5)" d="M1576 2498l4-9 5-9 5-9 4-9 5-9 5-9 4 0 5-1 5 0 4 0 5 0 5 0 4 0 5 0 5 0 4 0 5 0 5 0 4 0 5 0 5 0 4 0 5 0 5 0 4 0 5 0 5 0 4-1 5 0 5 0 4 0 5 0 5 0 4 0 5 0 5 0 4 0 5 0 5 0 4 1 5 0 5 0 4 0 5 0 5 0 4 0 5 0 5 0 4 0 5 0 5 0 4 0 5 0 5 0 4 0 5 1 5 0 4 0 5 0 0 1-5 0-4 0-5 0-5 0-4 0-5 0-5 0-4 0-5 0-5 0-4 0-5-1-5 0-4 0-5 0-5 0-4 0-5 0-5 0-4 0-5 0-5 0-4 0-5 0-5 0-4 0-5 0-5 0-4 0-5 0-5 0-4 0-5 0-5 0-4 0-5 0-5 0-4 0-5 0-5 0-4 0-5 0-5 0-4 0-5 0-5 0-4 1-5 0-5 0-4 0-5 0-5 0-4 0-5 16-5 18-4 18-5 19-5 18-4 18z" fill="#C44E52" opacity="0.28"/><path transform="scale(.5)" d="M1576 2525l4-14 5-13 5-14 4-14 5-13 5-13 4 0 5 0 5 0 4 0 5 0 5 0 4 0 5 0 5 0 4 0 5 0 5 0 4 0 5-1 5 0 4 0 5 0 5 0 4 0 5 0 5 0 4 0 5 0 5 0 4 0 5 0 5 0 4 0 5 0 5 0 4 0 5 0 5 0 4 0 5 0 5 0 4 0 5 1 5 0 4 0 5 0 5 0 4 0 5 0 5 0 4 0 5 0 5 0 4 0 5 0 5 0 4 0 5 1" fill="none" stroke="#C44E52" stroke-width="2" stroke-linejoin="round"/><path transform="scale(.5)" d="M1576 2441l4 0 5 0 5 0 4-1 5 0 5 0 4 0 5 0 5 0 4-1 5 0 5 0 4-10 5-10 5-10 4-10 5-10 5-7 4 0 5 0 5 0 4 0 5 0 5 0 4 0 5 0 5 0 4 0 5 0 5 0 4 0 5 0 5 0 4 0 5 0 5 0 4 0 5 0 5 0 4 0 5 0 5 0 4 0 5 1 5 0 4 0 5 0 5 0 4 0 5 0 5 0 4 0 5 0 5 0 4 0 5 0 5 0 4 0 5 0 0 11-5 0-4 0-5 0-5 0-4-1-5 0-5 0-4 0-5 0-5 0-4 0-5 0-5 0-4 0-5 0-5 0-4 0-5 0-5 0-4 0-5 0-5 0-4 0-5 0-5 0-4 0-5 0-5 0-4 0-5 0-5 0-4-1-5 0-5 0-4 0-5 0-5 0-4 0-5 0-5 0-4 0-5 7-5 10-4 11-5 10-5 10-4 10-5 4-5 1-4 0-5 0-5 0-4 0-5 0-5 1-4 0-5 0-5 0-4 1z" fill="#DD8452" opacity="0.28"/><path transform="scale(.5)" d="M1576 2449l4 0 5 0 5-1 4 0 5 0 5 0 4-1 5 0 5 0 4 0 5 0 5-2 4-10 5-11 5-10 4-10 5-10 5-7 4 0 5 0 5 0 4 0 5 0 5 0 4 0 5 0 5 0 4 0 5 0 5 0 4 0 5 0 5 0 4 0 5 0 5 1 4 0 5 0 5 0 4 0 5 0 5 0 4 0 5 0 5 0 4 0 5 0 5 0 4 0 5 0 5 0 4 0 5 0 5 0 4 0 5 0 5 0 4 0 5 0" fill="none" stroke="#DD8452" stroke-width="2" stroke-linejoin="round"/><path transform="scale(.5)" d="M1576 2443l4-11 5-10 5-11 4-10 5-11 5-10 4 0 5 0 5-1 4 0 5-1 5 0 4 0 5 0 5 0 4 0 5 0 5 0 4 0 5 0 5 0 4 0 5 0 5 0 4 0 5 0 5 0 4 0 5-1 5 0 4 0 5 0 5 0 4 0 5 0 5 0 4 0 5 0 5 0 4 0 5 0 5 0 4 0 5 0 5 0 4 0 5 0 5 0 4 0 5 0 5 0 4 0 5 0 5 0 4 0 5 0 5 0 4 0 5 0 0 0-5 0-4 1-5 0-5 0-4 0-5 0-5 0-4 0-5 0-5 0-4 0-5 0-5 0-4 0-5 0-5 0-4 0-5 0-5 0-4 0-5 0-5 0-4 0-5 0-5 0-4 0-5 0-5 0-4 0-5 0-5 0-4 0-5 0-5 1-4 0-5 0-5 0-4 0-5 0-5 0-4 0-5 0-5 0-4 0-5 0-5 0-4 0-5 0-5 1-4 0-5 0-5 1-4 0-5 15-5 17-4 16-5 17-5 17-4 16z" fill="#4C72B0" opacity="0.28"/><path transform="scale(.5)" d="M1576 2461l4-13 5-14 5-14 4-13 5-14 5-12 4-1 5 0 5 0 4-1 5 0 5-1 4 0 5 0 5 0 4 0 5 0 5 0 4 0 5 0 5 0 4 0 5 0 5 0 4 0 5 0 5 0 4 0 5 0 5 0 4 0 5 0 5 0 4 0 5 0 5 0 4 0 5 0 5 0 4 0 5 0 5 0 4-1 5 0 5 0 4 0 5 0 5 0 4 0 5 0 5 0 4 0 5 0 5 0 4 0 5 0 5 0 4 0 5 0" fill="none" stroke="#4C72B0" stroke-width="2" stroke-linejoin="round"/></g><rect x="857.4" y="1226.6" width="70.3" height="32" rx="1.5" fill="#EAEAF2" stroke="#D5D5DE" stroke-width="0.5" opacity="0.9"/><line x1="859.4" y1="1230.60" x2="866.9" y2="1230.60" stroke="#4C72B0" stroke-width="1.5"/><text x="869.4" y="1232.20" font-family="Liberation Sans" font-size="5.4" fill="#333">EAR_SAC_finetune</text><line x1="859.4" y1="1238.60" x2="866.9" y2="1238.60" stroke="#DD8452" stroke-width="1.5"/><text x="869.4" y="1240.20" font-family="Liberation Sans" font-size="5.4" fill="#333">PEARL_finetune</text><line x1="859.4" y1="1246.60" x2="866.9" y2="1246.60" stroke="#55A868" stroke-width="1.5"/><text x="869.4" y="1248.20" font-family="Liberation Sans" font-size="5.4" fill="#333">MAML_finetune</text><line x1="859.4" y1="1254.60" x2="866.9" y2="1254.60" stroke="#C44E52" stroke-width="1.5"/><text x="869.4" y="1256.20" font-family="Liberation Sans" font-size="5.4" fill="#333">OHE_SAC_finetune</text><clipPath id="chc6"><rect x="948.5" y="1182.8" width="151.10" height="121.40"/></clipPath><rect x="948.5" y="1182.8" width="151.10" height="121.40" fill="#EAEAF2"/><line x1="954.84" y1="1182.8" x2="954.84" y2="1304.2" stroke="#FFF" stroke-width="0.8"/><text x="954.84" y="1310.40" font-family="Liberation Sans" font-size="4.6" fill="#555" text-anchor="middle">0</text><line x1="982.41" y1="1182.8" x2="982.41" y2="1304.2" stroke="#FFF" stroke-width="0.8"/><text x="982.41" y="1310.40" font-family="Liberation Sans" font-size="4.6" fill="#555" text-anchor="middle">2</text><line x1="1009.99" y1="1182.8" x2="1009.99" y2="1304.2" stroke="#FFF" stroke-width="0.8"/><text x="1009.99" y="1310.40" font-family="Liberation Sans" font-size="4.6" fill="#555" text-anchor="middle">4</text><line x1="1037.56" y1="1182.8" x2="1037.56" y2="1304.2" stroke="#FFF" stroke-width="0.8"/><text x="1037.56" y="1310.40" font-family="Liberation Sans" font-size="4.6" fill="#555" text-anchor="middle">6</text><line x1="1065.13" y1="1182.8" x2="1065.13" y2="1304.2" stroke="#FFF" stroke-width="0.8"/><text x="1065.13" y="1310.40" font-family="Liberation Sans" font-size="4.6" fill="#555" text-anchor="middle">8</text><line x1="1092.71" y1="1182.8" x2="1092.71" y2="1304.2" stroke="#FFF" stroke-width="0.8"/><text x="1092.71" y="1310.40" font-family="Liberation Sans" font-size="4.6" fill="#555" text-anchor="middle">10</text><line x1="948.5" y1="1189.72" x2="1099.6" y2="1189.72" stroke="#FFF" stroke-width="0.8"/><text x="947.00" y="1191.32" font-family="Liberation Sans" font-size="4.6" fill="#555" text-anchor="end">1250</text><line x1="948.5" y1="1205.44" x2="1099.6" y2="1205.44" stroke="#FFF" stroke-width="0.8"/><text x="947.00" y="1207.04" font-family="Liberation Sans" font-size="4.6" fill="#555" text-anchor="end">1000</text><line x1="948.5" y1="1221.17" x2="1099.6" y2="1221.17" stroke="#FFF" stroke-width="0.8"/><text x="947.00" y="1222.77" font-family="Liberation Sans" font-size="4.6" fill="#555" text-anchor="end">750</text><line x1="948.5" y1="1236.90" x2="1099.6" y2="1236.90" stroke="#FFF" stroke-width="0.8"/><text x="947.00" y="1238.50" font-family="Liberation Sans" font-size="4.6" fill="#555" text-anchor="end">500</text><line x1="948.5" y1="1252.62" x2="1099.6" y2="1252.62" stroke="#FFF" stroke-width="0.8"/><text x="947.00" y="1254.22" font-family="Liberation Sans" font-size="4.6" fill="#555" text-anchor="end">250</text><line x1="948.5" y1="1268.35" x2="1099.6" y2="1268.35" stroke="#FFF" stroke-width="0.8"/><text x="947.00" y="1269.95" font-family="Liberation Sans" font-size="4.6" fill="#555" text-anchor="end">0</text><line x1="948.5" y1="1284.07" x2="1099.6" y2="1284.07" stroke="#FFF" stroke-width="0.8"/><text x="947.00" y="1285.67" font-family="Liberation Sans" font-size="4.6" fill="#555" text-anchor="end">−250</text><line x1="948.5" y1="1299.80" x2="1099.6" y2="1299.80" stroke="#FFF" stroke-width="0.8"/><text x="947.00" y="1301.40" font-family="Liberation Sans" font-size="4.6" fill="#555" text-anchor="end">−500</text><g clip-path="url(#chc6)"><path transform="scale(.5)" d="M1910 2515l7 0 7-1 7 0 7-1 7 0 7-1 7 0 7 0 7 0 7 0 7 0 8 0 7 0 7 0 7 0 7 0 7 0 7 0 7 0 7 0 7 0 7 0 7 0 7 0 7 0 8 0 7 0 7 0 7 0 7 0 7 0 7 0 7 0 7 0 7 0 7 0 7 0 7 0 7 0 0 17-7 0-7 0-7 0-7 0-7 0-7 0-7 0-7 0-7 0-7 0-7 0-7 0-7 0-8 0-7 0-7 0-7 0-7 0-7 0-7 0-7 0-7 0-7 0-7 0-7 0-7 0-7 0-8 0-7 0-7 0-7 0-7 1-7 0-7 0-7 1-7 0-7 1-7 0-7 1z" fill="#C44E52" opacity="0.28"/><path transform="scale(.5)" d="M1910 2524l7 0 7-1 7 0 7-1 7 0 7-1 7 0 7-1 7 0 7 0 7 0 8 0 7 0 7 0 7 0 7 0 7 0 7 0 7 0 7 0 7 0 7 0 7 0 7 0 7 0 8 0 7 0 7 0 7 0 7 0 7 0 7 0 7 0 7 0 7 0 7 0 7 0 7 0 7 0" fill="none" stroke="#C44E52" stroke-width="2" stroke-linejoin="round"/><path transform="scale(.5)" d="M1910 2494l4 5 5 5 5 5 4 5 5 6 5 4 4 1 5 1 5 1 4 1 5 2 5 0 4-1 5-2 5-1 4-2 5-1 5-1 4 0 5-1 5 0 4 0 5 0 5 0 5 0 4 0 5 0 5 0 4 0 5 0 5 0 4 1 5 0 5 0 4 0 5 1 5 0 4 0 5 0 5 1 4 0 5 0 5-1 4-1 5 0 5-1 4-1 5 1 5 1 4 1 5 1 5 1 4 2 5-1 5-1 4 0 5-1 5-1 4 0 0 10-4 1-5 0-5 1-4 0-5 1-5 1-4-1-5-2-5-1-4-1-5-1-5 0-4 0-5 1-5 0-4 1-5 1-5 0-4 0-5 0-5-1-4 0-5 0-5-1-4 0-5 0-5 0-4-1-5 0-5 0-4 0-5 0-5 0-4 0-5 0-5 0-5 0-4 0-5 1-5 0-4 0-5 1-5 1-4 2-5 1-5 2-4 1-5 0-5-1-4-2-5-1-5-1-4-1-5 3-5 4-4 3-5 3-5 4-4 3z" fill="#55A868" opacity="0.28"/><path transform="scale(.5)" d="M1910 2524l4 1 5 1 5 1 4 1 5 0 5 1 4 1 5 1 5 1 4 2 5 1 5 0 4-1 5-2 5-1 4-2 5-1 5-1 4 0 5 0 5-1 4 0 5 0 5 0 5 0 4 0 5 0 5 0 4 0 5 0 5 0 4 1 5 0 5 0 4 0 5 1 5 0 4 0 5 1 5 0 4 0 5 0 5-1 4-1 5 0 5-1 4-1 5 1 5 1 4 1 5 1 5 1 4 2 5-1 5-1 4 0 5-1 5 0 4-1" fill="none" stroke="#55A868" stroke-width="2" stroke-linejoin="round"/><path transform="scale(.5)" d="M1910 2522l4-1 5 0 5 0 4 0 5 0 5-1 4 0 5 0 5 0 4-1 5 0 5-2 4-10 5-10 5-10 4-10 5-10 5-7 4 0 5 0 5 1 4 0 5 0 5 0 5 0 4-1 5 0 5-1 4 0 5-1 5 0 4 0 5-1 5 0 4-1 5 0 5 0 4 0 5 0 5 0 4 0 5-1 5 0 4 0 5 0 5 0 4 0 5 1 5 0 4 1 5 1 5 1 4 1 5-1 5 0 4-1 5-1 5 0 4-1 0 10-4 1-5 1-5 0-4 1-5 0-5 1-4-1-5-1-5-1-4 0-5-1-5-1-4 0-5 0-5 0-4 0-5 1-5 0-4 0-5 0-5 0-4 0-5 0-5 0-4 1-5 0-5 1-4 0-5 1-5 0-4 0-5 1-5 0-4 1-5 0-5 0-5 0-4 0-5 0-5-1-4 0-5 7-5 10-4 10-5 10-5 10-4 10-5 2-5 1-4 0-5 0-5 0-4 0-5 1-5 0-4 0-5 0-5 0-4 1z" fill="#DD8452" opacity="0.28"/><path transform="scale(.5)" d="M1910 2527l4-1 5 0 5 0 4 0 5 0 5-1 4 0 5 0 5 0 4-1 5 0 5-2 4-10 5-10 5-10 4-10 5-10 5-7 4 0 5 0 5 1 4 0 5 0 5 0 5 0 4-1 5 0 5-1 4 0 5 0 5-1 4 0 5-1 5 0 4-1 5 0 5 0 4 0 5 0 5 0 4 0 5 0 5-1 4 0 5 0 5 0 4 0 5 1 5 0 4 1 5 1 5 1 4 1 5-1 5 0 4-1 5-1 5 0 4-1" fill="none" stroke="#DD8452" stroke-width="2" stroke-linejoin="round"/><path transform="scale(.5)" d="M1910 2564l4-28 5-28 5-29 4-28 5-28 5-26 4-4 5 7 5-4 4-4 5-4 5-3 4-1 5-1 5-1 4 0 5-1 5-1 4 0 5 1 5 0 4 0 5 0 5 0 5 0 4-1 5 0 5-1 4 0 5 0 5-1 4 0 5-1 5 0 4-1 5 0 5 0 4 0 5 0 5 0 4 0 5 0 5 0 4 0 5 0 5-1 4 0 5 0 5 0 4 0 5 0 5 0 4 0 5 0 5 0 4 0 5 0 5-1 4 0 0 4-4 0-5 0-5 0-4 1-5 0-5 0-4 0-5 0-5 0-4 0-5 0-5 0-4 0-5 0-5 0-4 0-5 1-5 0-4 0-5 0-5 0-4 0-5 0-5 0-4 1-5 0-5 1-4 0-5 0-5 1-4 0-5 1-5 0-4 1-5 0-5 0-5 0-4 0-5-1-5 0-4 0-5 0-5 1-4 1-5 1-5 1-4 1-5 3-5 4-4 4-5 4-5 16-4 4-5 26-5 29-4 28-5 28-5 29-4 28z" fill="#4C72B0" opacity="0.28"/><path transform="scale(.5)" d="M1910 2578l4-28 5-29 5-28 4-28 5-29 5-26 4-4 5-4 5-4 4-4 5-4 5-3 4-1 5-1 5-1 4-1 5 0 5-1 4 0 5 0 5 1 4 0 5 0 5 0 5 0 4-1 5 0 5-1 4 0 5-1 5 0 4 0 5-1 5 0 4-1 5 0 5 0 4 0 5 0 5 0 4 0 5 0 5 0 4-1 5 0 5 0 4 0 5 0 5 0 4 0 5 0 5 0 4 0 5 0 5 0 4 0 5-1 5 0 4 0" fill="none" stroke="#4C72B0" stroke-width="2" stroke-linejoin="round"/></g><clipPath id="chc7"><rect x="1115.6" y="1182.8" width="151.40" height="121.40"/></clipPath><rect x="1115.6" y="1182.8" width="151.40" height="121.40" fill="#EAEAF2"/><line x1="1122.48" y1="1182.8" x2="1122.48" y2="1304.2" stroke="#FFF" stroke-width="0.8"/><text x="1122.48" y="1310.40" font-family="Liberation Sans" font-size="4.6" fill="#555" text-anchor="middle">0</text><line x1="1150.01" y1="1182.8" x2="1150.01" y2="1304.2" stroke="#FFF" stroke-width="0.8"/><text x="1150.01" y="1310.40" font-family="Liberation Sans" font-size="4.6" fill="#555" text-anchor="middle">2</text><line x1="1177.54" y1="1182.8" x2="1177.54" y2="1304.2" stroke="#FFF" stroke-width="0.8"/><text x="1177.54" y="1310.40" font-family="Liberation Sans" font-size="4.6" fill="#555" text-anchor="middle">4</text><line x1="1205.06" y1="1182.8" x2="1205.06" y2="1304.2" stroke="#FFF" stroke-width="0.8"/><text x="1205.06" y="1310.40" font-family="Liberation Sans" font-size="4.6" fill="#555" text-anchor="middle">6</text><line x1="1232.59" y1="1182.8" x2="1232.59" y2="1304.2" stroke="#FFF" stroke-width="0.8"/><text x="1232.59" y="1310.40" font-family="Liberation Sans" font-size="4.6" fill="#555" text-anchor="middle">8</text><line x1="1260.12" y1="1182.8" x2="1260.12" y2="1304.2" stroke="#FFF" stroke-width="0.8"/><text x="1260.12" y="1310.40" font-family="Liberation Sans" font-size="4.6" fill="#555" text-anchor="middle">10</text><line x1="1115.6" y1="1203.91" x2="1267" y2="1203.91" stroke="#FFF" stroke-width="0.8"/><text x="1114.10" y="1205.51" font-family="Liberation Sans" font-size="4.6" fill="#555" text-anchor="end">150</text><line x1="1115.6" y1="1230.30" x2="1267" y2="1230.30" stroke="#FFF" stroke-width="0.8"/><text x="1114.10" y="1231.90" font-family="Liberation Sans" font-size="4.6" fill="#555" text-anchor="end">100</text><line x1="1115.6" y1="1256.70" x2="1267" y2="1256.70" stroke="#FFF" stroke-width="0.8"/><text x="1114.10" y="1258.30" font-family="Liberation Sans" font-size="4.6" fill="#555" text-anchor="end">50</text><line x1="1115.6" y1="1283.09" x2="1267" y2="1283.09" stroke="#FFF" stroke-width="0.8"/><text x="1114.10" y="1284.69" font-family="Liberation Sans" font-size="4.6" fill="#555" text-anchor="end">0</text><g clip-path="url(#chc7)"><path transform="scale(.5)" d="M2245 2464l5 17 4 17 5 17 5 17 4 17 5 17 5 0 4 0 5 0 5 0 4 0 5 0 5 0 4 0 5 0 5 0 4 0 5 0 5 0 4 0 5-1 5 0 4 0 5 0 5-1 4 0 5 0 5 0 4-1 5 0 5 0 4 0 5 0 5-1 4 0 5 0 5 0 4 0 5 0 5 0 4-1 5 0 5 0 4 0 5 0 5 0 4 0 5 0 5 0 4 0 5 0 5-1 4 0 5 0 5 0 4 0 5 0 5 0 4 0 0 17-4 0-5 0-5 0-4 0-5 0-5 0-4 0-5 0-5 1-4 0-5 0-5 0-4 0-5 0-5 0-4 0-5 0-5 0-4 0-5 1-5 0-4 0-5 0-5 0-4 0-5 0-5 1-4 0-5 0-5 0-4 1-5 0-5 0-4 0-5 1-5 0-4 0-5 0-5 1-4 0-5 0-5 0-4 0-5 0-5 0-4 0-5 0-5 0-4 0-5 0-5 0-4 0-5 0-5 5-4 2-5 3-5 3-4 2-5 3z" fill="#55A868" opacity="0.28"/><path transform="scale(.5)" d="M2245 2532l5 8 4 7 5 7 5 7 4 7 5 7 5 0 4 0 5 0 5 0 4 0 5 0 5 0 4 0 5 0 5 0 4 0 5 0 5-1 4 0 5 0 5 0 4-1 5 0 5 0 4 0 5-1 5 0 4 0 5 0 5-1 4 0 5 0 5 0 4-1 5 0 5 0 4 0 5 0 5 0 4 0 5 0 5 0 4 0 5 0 5-1 4 0 5 0 5 0 4 0 5 0 5 0 4 0 5 0 5 0 4 0 5-1 5 0 4 0" fill="none" stroke="#55A868" stroke-width="2" stroke-linejoin="round"/><path transform="scale(.5)" d="M2245 2475l5 0 4 0 5 0 5 0 4 0 5 0 5 0 4 0 5-1 5 0 4 0 5-5 5 15 4-19 5-20 5-19 4-19 5-14 5 0 4 0 5 0 5 0 4 0 5 0 5 0 4 0 5 0 5 0 4 0 5 0 5 0 4 0 5 0 5 0 4 0 5 0 5 0 4 0 5 0 5 0 4 0 5 0 5 0 4 0 5 0 5 0 4 0 5 0 5 0 4 0 5 0 5 0 4 0 5 0 5 0 4 0 5 0 5 0 4 0 0 13-4 0-5 0-5 0-4 0-5 0-5 0-4 0-5 0-5 0-4 0-5 0-5 0-4 0-5 0-5 0-4 0-5 0-5 0-4 0-5 0-5 0-4 0-5 0-5 0-4 0-5 0-5 0-4 0-5 0-5 0-4 0-5 0-5 0-4 0-5 0-5 0-4 0-5 0-5 0-4 0-5 0-5 13-4 20-5 19-5 19-4 20-5 53-5 4-4 0-5 1-5 0-4 0-5 1-5 0-4 0-5 0-5 0-4 0-5 0z" fill="#DD8452" opacity="0.28"/><path transform="scale(.5)" d="M2245 2516l5 0 4 0 5 0 5 0 4 0 5-1 5 0 4 0 5-1 5 0 4 0 5-4 5-20 4-19 5-19 5-20 4-19 5-14 5 0 4 0 5 0 5 0 4 0 5 0 5 0 4 0 5 0 5 0 4 0 5 0 5 0 4 0 5 0 5 0 4 0 5 0 5 0 4 0 5 0 5 0 4 0 5 0 5 0 4 0 5 0 5 0 4 0 5 0 5 0 4 0 5 0 5 0 4 0 5 0 5 0 4 0 5 0 5 0 4 0" fill="none" stroke="#DD8452" stroke-width="2" stroke-linejoin="round"/><path transform="scale(.5)" d="M2245 2487l5-3 4-3 5-4 5-3 4-3 5-3 5 0 4-1 5 0 5 0 4 0 5-1 5 0 4 0 5 0 5-1 4 0 5 0 5 1 4 0 5 1 5 1 4 1 5 0 5-1 4 0 5-1 5 0 4-1 5 0 5 0 4 0 5 1 5 0 4 0 5 0 5 0 4 0 5 1 5 0 4 0 5 0 5 0 4 0 5 0 5 0 4 0 5 0 5 0 4 0 5 0 5 0 4 0 5 0 5 0 4 0 5 0 5 0 4 0 0 6-4 0-5 0-5 0-4 0-5 0-5 0-4 0-5 0-5 0-4 0-5 0-5 0-4 0-5 0-5 0-4 0-5 0-5 0-4 0-5 0-5 0-4 0-5-1-5 0-4 0-5 0-5 0-4-1-5 0-5 0-4 1-5 1-5 0-4 1-5 0-5 0-4-1-5 0-5-1-4-1-5-1-5 0-4 1-5 0-5 0-4 0-5 1-5 0-4 0-5 1-5 0-4 0-5 0-5 3-4 3-5 4-5 3-4 3-5 3z" fill="#C44E52" opacity="0.28"/><path transform="scale(.5)" d="M2245 2490l5-3 4-3 5-3 5-4 4-3 5-3 5 0 4 0 5-1 5 0 4 0 5 0 5-1 4 0 5 0 5-1 4 0 5 0 5 1 4 1 5 0 5 1 4 1 5 0 5-1 4 0 5-1 5 0 4-1 5 0 5 0 4 1 5 0 5 0 4 0 5 0 5 0 4 1 5 0 5 0 4 0 5 0 5 0 4 0 5 0 5 0 4 0 5 0 5 0 4 0 5 0 5 0 4 0 5 0 5 0 4 0 5 0 5 0 4 0" fill="none" stroke="#C44E52" stroke-width="2" stroke-linejoin="round"/><path transform="scale(.5)" d="M2245 2453l5-12 4-13 5-13 5-13 4-12 5-13 5-1 4 0 5-1 5-1 4 0 5-1 5 0 4 0 5 0 5 0 4 0 5 0 5 0 4 0 5 0 5 0 4 0 5 0 5 0 4 0 5 0 5 0 4 0 5 0 5 0 4 0 5 0 5 0 4 0 5 0 5 0 4 0 5 0 5 0 4 0 5 0 5 0 4 0 5 0 5 0 4 0 5 0 5 0 4 0 5 0 5 0 4 0 5 0 5 0 4 0 5 0 5 0 4 0 0 2-4 0-5 0-5 0-4 0-5 0-5 0-4 0-5 0-5 0-4 0-5 0-5 0-4 0-5 0-5 0-4 0-5 0-5 0-4 0-5 0-5 0-4 0-5 0-5 0-4 0-5 0-5 0-4 0-5 0-5 0-4 0-5 0-5 0-4 0-5 0-5 0-4 0-5 0-5 0-4 0-5 0-5 0-4 0-5 0-5 0-4 0-5 0-5 1-4 0-5 1-5 1-4 1-5 0-5 15-4 17-5 17-5 17-4 17-5 17z" fill="#4C72B0" opacity="0.28"/><path transform="scale(.5)" d="M2245 2466l5-15 4-15 5-15 5-15 4-14 5-14 5-1 4 0 5-1 5-1 4 0 5-1 5 0 4 0 5 0 5 0 4 0 5 0 5 0 4 0 5 0 5 0 4 0 5 0 5 0 4 0 5 0 5 0 4 0 5 0 5 0 4 0 5 0 5 0 4 0 5 0 5 0 4 0 5 0 5 0 4 0 5 0 5 0 4 0 5 0 5 0 4 0 5 0 5 0 4 0 5 0 5 0 4 0 5 0 5 0 4 0 5 0 5 0 4 0" fill="none" stroke="#4C72B0" stroke-width="2" stroke-linejoin="round"/></g><clipPath id="chc8"><rect x="1282.4" y="1182.8" width="151.60" height="121.40"/></clipPath><rect x="1282.4" y="1182.8" width="151.60" height="121.40" fill="#EAEAF2"/><line x1="1289.29" y1="1182.8" x2="1289.29" y2="1304.2" stroke="#FFF" stroke-width="0.8"/><text x="1289.29" y="1310.40" font-family="Liberation Sans" font-size="4.6" fill="#555" text-anchor="middle">0</text><line x1="1316.85" y1="1182.8" x2="1316.85" y2="1304.2" stroke="#FFF" stroke-width="0.8"/><text x="1316.85" y="1310.40" font-family="Liberation Sans" font-size="4.6" fill="#555" text-anchor="middle">2</text><line x1="1344.42" y1="1182.8" x2="1344.42" y2="1304.2" stroke="#FFF" stroke-width="0.8"/><text x="1344.42" y="1310.40" font-family="Liberation Sans" font-size="4.6" fill="#555" text-anchor="middle">4</text><line x1="1371.98" y1="1182.8" x2="1371.98" y2="1304.2" stroke="#FFF" stroke-width="0.8"/><text x="1371.98" y="1310.40" font-family="Liberation Sans" font-size="4.6" fill="#555" text-anchor="middle">6</text><line x1="1399.55" y1="1182.8" x2="1399.55" y2="1304.2" stroke="#FFF" stroke-width="0.8"/><text x="1399.55" y="1310.40" font-family="Liberation Sans" font-size="4.6" fill="#555" text-anchor="middle">8</text><line x1="1427.11" y1="1182.8" x2="1427.11" y2="1304.2" stroke="#FFF" stroke-width="0.8"/><text x="1427.11" y="1310.40" font-family="Liberation Sans" font-size="4.6" fill="#555" text-anchor="middle">10</text><line x1="1282.4" y1="1204.22" x2="1434" y2="1204.22" stroke="#FFF" stroke-width="0.8"/><text x="1280.90" y="1205.82" font-family="Liberation Sans" font-size="4.6" fill="#555" text-anchor="end">150</text><line x1="1282.4" y1="1228.03" x2="1434" y2="1228.03" stroke="#FFF" stroke-width="0.8"/><text x="1280.90" y="1229.63" font-family="Liberation Sans" font-size="4.6" fill="#555" text-anchor="end">100</text><line x1="1282.4" y1="1251.83" x2="1434" y2="1251.83" stroke="#FFF" stroke-width="0.8"/><text x="1280.90" y="1253.43" font-family="Liberation Sans" font-size="4.6" fill="#555" text-anchor="end">50</text><line x1="1282.4" y1="1275.64" x2="1434" y2="1275.64" stroke="#FFF" stroke-width="0.8"/><text x="1280.90" y="1277.24" font-family="Liberation Sans" font-size="4.6" fill="#555" text-anchor="end">0</text><line x1="1282.4" y1="1299.44" x2="1434" y2="1299.44" stroke="#FFF" stroke-width="0.8"/><text x="1280.90" y="1301.04" font-family="Liberation Sans" font-size="4.6" fill="#555" text-anchor="end">−50</text><g clip-path="url(#chc8)"><path transform="scale(.5)" d="M2579 2542l4-1 5 0 5 0 4-1 5 0 5 0 4-2 5-1 5-1 4-1 5-2 5-1 4 1 5 1 5 1 4 1 5 0 5 2 4 2 5 3 5 2 4 2 5 3 5 1 4-2 5-1 5-1 4-1 5-2 5 0 4-1 5 0 5 0 4 0 5 0 5 0 4-1 5 0 5 0 4 0 5 0 5-1 4 2 5 1 5 2 4 1 5 2 5 1 5 1 4 1 5 0 5 1 4 1 5 0 5 0 4-1 5 0 5 0 4-1 0 42-4 0-5 1-5 0-4 0-5 1-5 0-4-1-5-1-5 0-4-1-5-1-5-1-5-2-4-1-5-2-5-2-4-1-5-3-5 0-4 0-5 0-5 1-4 0-5 0-5 0-4 0-5 0-5 0-4 1-5 0-5 2-4 1-5 1-5 2-4 1-5-1-5-3-4-2-5-2-5-3-4-2-5-1-5-1-4-1-5-1-5-1-4-1-5 1-5 2-4 1-5 1-5 2-4 1-5 0-5 1-4 0-5 0-5 1-4 0z" fill="#55A868" opacity="0.28"/><path transform="scale(.5)" d="M2579 2561l4-1 5 0 5 0 4 0 5-1 5 0 4-2 5-1 5-1 4-1 5-2 5-1 4 1 5 1 5 1 4 1 5 0 5 2 4 2 5 3 5 2 4 2 5 3 5 1 4-1 5-2 5-1 4-1 5-2 5 0 4-1 5 0 5 0 4 0 5 0 5 0 4-1 5 0 5 0 4 0 5 0 5 1 4 2 5 1 5 2 4 1 5 2 5 1 5 1 4 1 5 0 5 1 4 1 5 0 5-1 4 0 5 0 5-1 4 0" fill="none" stroke="#55A868" stroke-width="2" stroke-linejoin="round"/><path transform="scale(.5)" d="M2579 2444l4-1 5-1 5 0 4-1 5-1 5 0 4 0 5 0 5 0 4 0 5 0 5-3 4-13 5-14 5 36 4-14 5-13 5-9 4 0 5 0 5 1 4 0 5 1 5 0 4 0 5 1 5 0 4 1 5 0 5 0 4 0 5 0 5 0 4 0 5 0 5 0 4-1 5 0 5 0 4 0 5 0 5 0 4 0 5 0 5 0 4 0 5-1 5 0 5 0 4 0 5 0 5 0 4 0 5 0 5 0 4 0 5-1 5 0 4 0 0 8-4 0-5 0-5 0-4 0-5 0-5 1-4 0-5 0-5 0-4 0-5 0-5 0-5 0-4 0-5 0-5 0-4 1-5 0-5 0-4 0-5 0-5 0-4 0-5 0-5 0-4 0-5 1-5 0-4 0-5 0-5-1-4 0-5-1-5 0-4 0-5-1-5 0-4-1-5 0-5 0-4-1-5 9-5 14-4 13-5 62-5 14-4 13-5 3-5 0-4 0-5 0-5 0-4 0-5 0-5 1-4 0-5 1-5 1-4 0z" fill="#DD8452" opacity="0.28"/><path transform="scale(.5)" d="M2579 2496l4-1 5 0 5-1 4-1 5 0 5-1 4 0 5 0 5 0 4 0 5 0 5-2 4-14 5-13 5-14 4-13 5-13 5-10 4 1 5 0 5 1 4 0 5 0 5 1 4 0 5 1 5 0 4 0 5 1 5 0 4 0 5 0 5 0 4 0 5-1 5 0 4 0 5 0 5 0 4 0 5 0 5 0 4 0 5 0 5-1 4 0 5 0 5 0 5 0 4 0 5 0 5 0 4 0 5 0 5-1 4 0 5 0 5 0 4 0" fill="none" stroke="#DD8452" stroke-width="2" stroke-linejoin="round"/><path transform="scale(.5)" d="M2579 2460l4-3 5-2 5-2 4-3 5-2 5-2 4 0 5 0 5 0 4 0 5 0 5 0 4 0 5-1 5 0 4-1 5 0 5 0 4 1 5 1 5 0 4 1 5 1 5 0 4-1 5-1 5-1 4-2 5-1 5 0 4 0 5 1 5 0 4 0 5 1 5 0 4 0 5 1 5 0 4 0 5 0 5 1 4 0 5 0 5 0 4 0 5 1 5 0 5 0 4 0 5 0 5 0 4 0 5 1 5 0 4 0 5 0 5 0 4 0 0 16-4 0-5-1-5 0-4 0-5 0-5 0-4 0-5-1-5 0-4 0-5 0-5 0-5 0-4-1-5 0-5 0-4 0-5 0-5-1-4 0-5 0-5-1-4 0-5 0-5-1-4 0-5 0-5-1-4 0-5 1-5 1-4 1-5 1-5 1-4 1-5 0-5-1-4 0-5-1-5-1-4-1-5 0-5 1-4 0-5 1-5 0-4 1-5 0-5-1-4 0-5 0-5 0-4 0-5 2-5 2-4 3-5 2-5 3-4 2z" fill="#C44E52" opacity="0.28"/><path transform="scale(.5)" d="M2579 2467l4-2 5-2 5-3 4-2 5-3 5-2 4 0 5 1 5 0 4 0 5 0 5 0 4 0 5-1 5 0 4-1 5 0 5 0 4 0 5 1 5 1 4 1 5 1 5 0 4-2 5-1 5-1 4-1 5-1 5 0 4 0 5 0 5 1 4 0 5 0 5 0 4 1 5 0 5 0 4 1 5 0 5 0 4 0 5 1 5 0 4 0 5 0 5 0 5 0 4 1 5 0 5 0 4 0 5 0 5 0 4 1 5 0 5 0 4 0" fill="none" stroke="#C44E52" stroke-width="2" stroke-linejoin="round"/><path transform="scale(.5)" d="M2579 2473l4-15 5-15 5-15 4-15 5-15 5-14 4-1 5-1 5-1 4-1 5 0 5-1 4 0 5 0 5 0 4 0 5 0 5 0 4 0 5 0 5 0 4 0 5 0 5 0 4 0 5 0 5 0 4 0 5 0 5 0 4 0 5 0 5 0 4-1 5 0 5 0 4 0 5 0 5 0 4 0 5 0 5 0 4 0 5 0 5 0 4 0 5 0 5 0 5 0 4 0 5 0 5 0 4 0 5 0 5 0 4 0 5 0 5 0 4 0 0 2-4 0-5 0-5 0-4 0-5 0-5 0-4 0-5 0-5 0-4 0-5 0-5 0-5 0-4 0-5 0-5 0-4 0-5 0-5 0-4 0-5 0-5 0-4 0-5 0-5 0-4 0-5 0-5 0-4 0-5 0-5 1-4 0-5 0-5 0-4 0-5 0-5 0-4 0-5 0-5 0-4 0-5 0-5 0-4 0-5 0-5 0-4 0-5 0-5 1-4 1-5 1-5 1-4 1-5 15-5 18-4 19-5 18-5 18-4 18z" fill="#4C72B0" opacity="0.28"/><path transform="scale(.5)" d="M2579 2483l4-17 5-17 5-16 4-17 5-16 5-15 4-1 5-1 5-1 4-1 5 0 5-1 4 0 5 0 5 0 4 0 5 0 5 0 4 0 5 0 5 0 4 0 5 0 5 0 4 0 5 0 5 0 4 0 5 0 5 0 4-1 5 0 5 0 4 0 5 0 5 0 4 0 5 0 5 0 4 0 5 0 5 0 4 0 5 0 5 0 4 0 5 0 5 0 5 0 4 0 5 0 5 0 4 0 5 0 5 0 4 0 5 0 5 0 4 0" fill="none" stroke="#4C72B0" stroke-width="2" stroke-linejoin="round"/></g><text x="856.4" y="1181.9" font-family="Liberation Sans" font-size="13.6" fill="#262626" text-anchor="middle">HalfCheetah-Vel</text><text x="856.4" y="1320.9" font-family="Liberation Sans" font-size="11.4" fill="#262626" text-anchor="middle">Steps</text><text x="1024.0" y="1181.9" font-family="Liberation Sans" font-size="13.6" fill="#262626" text-anchor="middle">Ant-Dir</text><text x="1024.0" y="1320.9" font-family="Liberation Sans" font-size="11.4" fill="#262626" text-anchor="middle">Steps</text><text x="1191.3" y="1181.9" font-family="Liberation Sans" font-size="13.6" fill="#262626" text-anchor="middle">Hopper-Vel</text><text x="1191.3" y="1320.9" font-family="Liberation Sans" font-size="11.4" fill="#262626" text-anchor="middle">Steps</text><text x="1358.2" y="1181.9" font-family="Liberation Sans" font-size="13.6" fill="#262626" text-anchor="middle">Walker-Vel</text><text x="1358.2" y="1320.9" font-family="Liberation Sans" font-size="11.4" fill="#262626" text-anchor="middle">Steps</text><rect x="833.4" y="905.4" width="541.2" height="1.3" fill="#000"/><rect x="833.4" y="929.3" width="541.2" height="0.9" fill="#000"/><rect x="833.4" y="1019.6" width="541.2" height="1.3" fill="#000"/><rect x="963.5" y="910.5" width="0.8" height="17" fill="#555"/><rect x="963.5" y="935" width="0.8" height="82" fill="#555"/><text x="898.7" y="922.3" font-family="Liberation Serif" font-size="15" font-weight="normal" fill="#000" text-anchor="middle">Method</text><text x="1022.7" y="922.3" font-family="Liberation Serif" font-size="15" font-weight="normal" fill="#000" text-anchor="middle">HalfCheetah-Vel</text><text x="1135.3" y="922.3" font-family="Liberation Serif" font-size="15" font-weight="normal" fill="#000" text-anchor="middle">Ant-Dir</text><text x="1235.8" y="922.3" font-family="Liberation Serif" font-size="15" font-weight="normal" fill="#000" text-anchor="middle">Hopper-Vel</text><text x="1329.5" y="922.3" font-family="Liberation Serif" font-size="15" font-weight="normal" fill="#000" text-anchor="middle">Walker-Vel</text><text x="898.7" y="946.8" font-family="Liberation Serif" font-size="15.3" font-weight="bold" fill="#000" text-anchor="middle">EAR-SAC (Ours)</text><text x="1022.7" y="946.8" font-family="Liberation Serif" font-size="15.3" font-weight="bold" fill="#000" text-anchor="middle">-136.9±1.29</text><text x="1135.3" y="946.8" font-family="Liberation Serif" font-size="15.3" font-weight="bold" fill="#000" text-anchor="middle">1216.7±54.97</text><text x="1235.8" y="946.8" font-family="Liberation Serif" font-size="15.3" font-weight="bold" fill="#000" text-anchor="middle">173.5±11.09</text><text x="1329.5" y="946.8" font-family="Liberation Serif" font-size="15.3" font-weight="bold" fill="#000" text-anchor="middle">172.7±4.05</text><text x="898.7" y="963.1" font-family="Liberation Serif" font-size="15.3" font-weight="normal" fill="#000" text-anchor="middle">MAML</text><text x="1022.7" y="963.1" font-family="Liberation Serif" font-size="15.3" font-weight="normal" fill="#000" text-anchor="middle">-500.9±47.33</text><text x="1135.3" y="963.1" font-family="Liberation Serif" font-size="15.3" font-weight="normal" fill="#000" text-anchor="middle">422.8±29.40</text><text x="1235.8" y="963.1" font-family="Liberation Serif" font-size="15.3" font-weight="normal" fill="#000" text-anchor="middle">34.0±41.92</text><text x="1329.5" y="963.1" font-family="Liberation Serif" font-size="15.3" font-weight="normal" fill="#000" text-anchor="middle">-4.9±0.58</text><text x="898.7" y="979.4" font-family="Liberation Serif" font-size="15.3" font-weight="normal" fill="#000" text-anchor="middle">PEARL</text><text x="1022.7" y="979.4" font-family="Liberation Serif" font-size="15.3" font-weight="normal" fill="#000" text-anchor="middle">-155.0±15.50</text><text x="1135.3" y="979.4" font-family="Liberation Serif" font-size="15.3" font-weight="normal" fill="#000" text-anchor="middle">635.9±19.21</text><text x="1235.8" y="979.4" font-family="Liberation Serif" font-size="15.3" font-weight="normal" fill="#000" text-anchor="middle">170.0±7.80</text><text x="1329.5" y="979.4" font-family="Liberation Serif" font-size="15.3" font-weight="normal" fill="#000" text-anchor="middle">163.9±1.07</text><text x="898.7" y="995.7" font-family="Liberation Serif" font-size="15.3" font-weight="normal" fill="#000" text-anchor="middle">MHMT-SAC</text><text x="1022.7" y="995.7" font-family="Liberation Serif" font-size="15.3" font-weight="normal" fill="#000" text-anchor="middle">-145.2±2.60</text><text x="1135.3" y="995.7" font-family="Liberation Serif" font-size="15.3" font-weight="normal" fill="#000" text-anchor="middle">1020.0±54.90</text><text x="1235.8" y="995.7" font-family="Liberation Serif" font-size="15.3" font-weight="normal" fill="#000" text-anchor="middle">172.9±1.17</text><text x="1329.5" y="995.7" font-family="Liberation Serif" font-size="15.3" font-weight="normal" fill="#000" text-anchor="middle">160.6±5.21</text><text x="898.7" y="1012" font-family="Liberation Serif" font-size="15.3" font-weight="normal" fill="#000" text-anchor="middle">OHE-SAC</text><text x="1022.7" y="1012" font-family="Liberation Serif" font-size="15.3" font-weight="normal" fill="#000" text-anchor="middle">-609.0±8.10</text><text x="1135.3" y="1012" font-family="Liberation Serif" font-size="15.3" font-weight="normal" fill="#000" text-anchor="middle">195.7±0.29</text><text x="1235.8" y="1012" font-family="Liberation Serif" font-size="15.3" font-weight="normal" fill="#000" text-anchor="middle">90.7±2.39</text><text x="1329.5" y="1012" font-family="Liberation Serif" font-size="15.3" font-weight="normal" fill="#000" text-anchor="middle">65.0±20.83</text></svg><svg style="left:0;top:0" width="2160" height="1440" viewBox="0 0 2160 1440"><defs></defs><rect x="1688.7" y="285.1" width="330" height="4.4" fill="#000"/><polygon points="2014,280 2030,287.3 2014,295 2017,287.3" fill="#000"/><text x="1863.6" y="280.3" font-family="Liberation Sans" font-size="19.7" fill="#000" text-anchor="middle">Direction</text><clipPath id="ck0"><rect x="1674" y="312.5" width="375" height="76.4"/></clipPath><g clip-path="url(#ck0)"><rect x="1674" y="312.5" width="375" height="76.4" fill="#CFF4D6"/><path transform="scale(.5)" d="M3385 625l50 0-11 35-52 0zM3485 625l50 0-7 35-52 0zM3585 625l50 0-3 35-52 0zM3685 625l50 0 1 35-52 0zM3785 625l50 0 4 35-52 0zM3885 625l50 0 8 35-52 0zM3985 625l50 0 12 35-52 0zM4085 625l50 0 16 35-52 0zM3320 660l52 0-13 38-54 0zM3424 660l52 0-9 38-54 0zM3528 660l52 0-6 38-53 0zM3632 660l52 0-2 38-54 0zM3736 660l51 0 3 38-54 0zM3839 660l52 0 7 38-54 0zM3943 660l52 0 11 38-54 0zM4047 660l52 0 15 38-54 0zM3359 698l54 0-13 41-56 0zM3467 698l54 0-8 41-57 0zM3574 698l54 0-3 41-56 0zM3682 698l54 0 1 41-56 0zM3790 698l54 0 5 41-56 0zM3898 698l54 0 10 41-56 0zM4006 698l54 0 14 41-56 0zM3288 739l56 0-14 39-58 0zM3400 739l56 0-9 39-59 0zM3513 739l56 0-6 39-58 0zM3625 739l56 0-1 39-59 0zM3737 739l56 0 3 39-58 0zM3849 739l57 0 7 39-59 0zM3962 739l56 0 11 39-58 0zM4074 739l56 0 16 39-59 0z" fill="#000"/><polyline points="1765.5,377.0 1775.0,385.0 1764.0,389.0 1769.0,401.0" fill="none" stroke="#3A2A26" stroke-width="1.80" stroke-linecap="round" stroke-linejoin="round" opacity="0.35"/><polyline points="1765.5,353.0 1775.0,359.0 1764.0,363.0 1769.0,370.0" fill="none" stroke="#7E5A55" stroke-width="2.80" stroke-linecap="round" stroke-linejoin="round"/><polyline points="1764.0,363.0 1761.0,366.0" fill="none" stroke="#D89A9A" stroke-width="2.80" stroke-linecap="round" stroke-linejoin="round"/><polyline points="1807.0,353.0 1801.0,360.0 1814.0,370.0" fill="none" stroke="#6E5048" stroke-width="2.80" stroke-linecap="round" stroke-linejoin="round"/><polyline points="1765.0,351.0 1808.0,353.5 1820.0,347.5" fill="none" stroke="#9C7850" stroke-width="4.00" stroke-linecap="round" stroke-linejoin="round"/><polyline points="1766.0,350.7 1808.0,353.1 1819.0,347.2" fill="none" stroke="#F0C88E" stroke-width="2.00" stroke-linecap="round" stroke-linejoin="round"/><line x1="1797.8" y1="316" x2="1797.8" y2="346.5" stroke="#F00000" stroke-width="1.3"/><polygon points="1797.3,316 1818.8,323.5 1798.3,331.3" fill="#F00000"/></g><line x1="1674" y1="312.8" x2="2049" y2="312.8" stroke="#9AA89C" stroke-width="0.6"/><clipPath id="ck1"><rect x="1674" y="400" width="375" height="76.4"/></clipPath><g clip-path="url(#ck1)"><rect x="1674" y="400" width="375" height="76.4" fill="#CFF4D6"/><path transform="scale(.5)" d="M3385 800l50 0-11 35-52 0zM3485 800l50 0-7 35-52 0zM3585 800l50 0-3 35-52 0zM3685 800l50 0 1 35-52 0zM3785 800l50 0 4 35-52 0zM3885 800l50 0 8 35-52 0zM3985 800l50 0 12 35-52 0zM4085 800l50 0 16 35-52 0zM3320 835l52 0-13 38-54 0zM3424 835l52 0-9 38-54 0zM3528 835l52 0-6 38-53 0zM3632 835l52 0-2 38-54 0zM3736 835l51 0 3 38-54 0zM3839 835l52 0 7 38-54 0zM3943 835l52 0 11 38-54 0zM4047 835l52 0 15 38-54 0zM3359 873l54 0-13 41-56 0zM3467 873l54 0-8 41-57 0zM3574 873l54 0-3 41-56 0zM3682 873l54 0 1 41-56 0zM3790 873l54 0 5 41-56 0zM3898 873l54 0 10 41-56 0zM4006 873l54 0 14 41-56 0zM3288 914l56 0-14 39-58 0zM3400 914l56 0-9 39-59 0zM3513 914l56 0-6 39-58 0zM3625 914l56 0-1 39-59 0zM3737 914l56 0 3 39-58 0zM3849 914l57 0 7 39-59 0zM3962 914l56 0 11 39-58 0zM4074 914l56 0 16 39-59 0z" fill="#000"/><polyline points="1805.5,464.7 1815.0,472.7 1804.0,476.7 1809.0,488.7" fill="none" stroke="#3A2A26" stroke-width="1.80" stroke-linecap="round" stroke-linejoin="round" opacity="0.35"/><polyline points="1805.5,440.7 1815.0,446.7 1804.0,450.7 1809.0,457.7" fill="none" stroke="#7E5A55" stroke-width="2.80" stroke-linecap="round" stroke-linejoin="round"/><polyline points="1804.0,450.7 1801.0,453.7" fill="none" stroke="#D89A9A" stroke-width="2.80" stroke-linecap="round" stroke-linejoin="round"/><polyline points="1847.0,440.7 1841.0,447.7 1854.0,457.7" fill="none" stroke="#6E5048" stroke-width="2.80" stroke-linecap="round" stroke-linejoin="round"/><polyline points="1805.0,438.7 1848.0,441.2 1860.0,435.2" fill="none" stroke="#9C7850" stroke-width="4.00" stroke-linecap="round" stroke-linejoin="round"/><polyline points="1806.0,438.4 1848.0,440.8 1859.0,434.9" fill="none" stroke="#F0C88E" stroke-width="2.00" stroke-linecap="round" stroke-linejoin="round"/><line x1="1829.3" y1="403.8" x2="1829.3" y2="434.3" stroke="#F00000" stroke-width="1.3"/><polygon points="1828.8,403.8 1850.3,411.3 1829.8,419.1" fill="#F00000"/></g><line x1="1674" y1="400.3" x2="2049" y2="400.3" stroke="#9AA89C" stroke-width="0.6"/><clipPath id="ck2"><rect x="1674" y="487.5" width="375" height="76.4"/></clipPath><g clip-path="url(#ck2)"><rect x="1674" y="487.5" width="375" height="76.4" fill="#CFF4D6"/><path transform="scale(.5)" d="M3385 975l50 0-11 35-52 0zM3485 975l50 0-7 35-52 0zM3585 975l50 0-3 35-52 0zM3685 975l50 0 1 35-52 0zM3785 975l50 0 4 35-52 0zM3885 975l50 0 8 35-52 0zM3985 975l50 0 12 35-52 0zM4085 975l50 0 16 35-52 0zM3320 1010l52 0-13 38-54 0zM3424 1010l52 0-9 38-54 0zM3528 1010l52 0-6 38-53 0zM3632 1010l52 0-2 38-54 0zM3736 1010l51 0 3 38-54 0zM3839 1010l52 0 7 38-54 0zM3943 1010l52 0 11 38-54 0zM4047 1010l52 0 15 38-54 0zM3359 1048l54 0-13 41-56 0zM3467 1048l54 0-8 41-57 0zM3574 1048l54 0-3 41-56 0zM3682 1048l54 0 1 41-56 0zM3790 1048l54 0 5 41-56 0zM3898 1048l54 0 10 41-56 0zM4006 1048l54 0 14 41-56 0zM3288 1089l56 0-14 39-58 0zM3400 1089l56 0-9 39-59 0zM3513 1089l56 0-6 39-58 0zM3625 1089l56 0-1 39-59 0zM3737 1089l56 0 3 39-58 0zM3849 1089l57 0 7 39-59 0zM3962 1089l56 0 11 39-58 0zM4074 1089l56 0 16 39-59 0z" fill="#000"/><polyline points="1863.9,552.0 1873.4,560.0 1862.4,564.0 1867.4,576.0" fill="none" stroke="#3A2A26" stroke-width="1.80" stroke-linecap="round" stroke-linejoin="round" opacity="0.35"/><polyline points="1863.9,528.0 1873.4,534.0 1862.4,538.0 1867.4,545.0" fill="none" stroke="#7E5A55" stroke-width="2.80" stroke-linecap="round" stroke-linejoin="round"/><polyline points="1862.4,538.0 1859.4,541.0" fill="none" stroke="#D89A9A" stroke-width="2.80" stroke-linecap="round" stroke-linejoin="round"/><polyline points="1905.4,528.0 1899.4,535.0 1912.4,545.0" fill="none" stroke="#6E5048" stroke-width="2.80" stroke-linecap="round" stroke-linejoin="round"/><polyline points="1863.4,526.0 1906.4,528.5 1918.4,522.5" fill="none" stroke="#9C7850" stroke-width="4.00" stroke-linecap="round" stroke-linejoin="round"/><polyline points="1864.4,525.7 1906.4,528.1 1917.4,522.2" fill="none" stroke="#F0C88E" stroke-width="2.00" stroke-linecap="round" stroke-linejoin="round"/><line x1="1884.4" y1="493.5" x2="1884.4" y2="524.0" stroke="#F00000" stroke-width="1.3"/><polygon points="1883.9,493.5 1905.4,501.0 1884.9,508.8" fill="#F00000"/></g><line x1="1674" y1="487.8" x2="2049" y2="487.8" stroke="#9AA89C" stroke-width="0.6"/><clipPath id="ck3"><rect x="1674" y="575" width="375" height="76.4"/></clipPath><g clip-path="url(#ck3)"><rect x="1674" y="575" width="375" height="76.4" fill="#CFF4D6"/><path transform="scale(.5)" d="M3385 1150l50 0-11 35-52 0zM3485 1150l50 0-7 35-52 0zM3585 1150l50 0-3 35-52 0zM3685 1150l50 0 1 35-52 0zM3785 1150l50 0 4 35-52 0zM3885 1150l50 0 8 35-52 0zM3985 1150l50 0 12 35-52 0zM4085 1150l50 0 16 35-52 0zM3320 1185l52 0-13 38-54 0zM3424 1185l52 0-9 38-54 0zM3528 1185l52 0-6 38-53 0zM3632 1185l52 0-2 38-54 0zM3736 1185l51 0 3 38-54 0zM3839 1185l52 0 7 38-54 0zM3943 1185l52 0 11 38-54 0zM4047 1185l52 0 15 38-54 0zM3359 1223l54 0-13 41-56 0zM3467 1223l54 0-8 41-57 0zM3574 1223l54 0-3 41-56 0zM3682 1223l54 0 1 41-56 0zM3790 1223l54 0 5 41-56 0zM3898 1223l54 0 10 41-56 0zM4006 1223l54 0 14 41-56 0zM3288 1264l56 0-14 39-58 0zM3400 1264l56 0-9 39-59 0zM3513 1264l56 0-6 39-58 0zM3625 1264l56 0-1 39-59 0zM3737 1264l56 0 3 39-58 0zM3849 1264l57 0 7 39-59 0zM3962 1264l56 0 11 39-58 0zM4074 1264l56 0 16 39-59 0z" fill="#000"/><polyline points="1903.3,639.6 1912.8,647.6 1901.8,651.6 1906.8,663.6" fill="none" stroke="#3A2A26" stroke-width="1.80" stroke-linecap="round" stroke-linejoin="round" opacity="0.35"/><polyline points="1903.3,615.6 1912.8,621.6 1901.8,625.6 1906.8,632.6" fill="none" stroke="#7E5A55" stroke-width="2.80" stroke-linecap="round" stroke-linejoin="round"/><polyline points="1901.8,625.6 1898.8,628.6" fill="none" stroke="#D89A9A" stroke-width="2.80" stroke-linecap="round" stroke-linejoin="round"/><polyline points="1944.8,615.6 1938.8,622.6 1951.8,632.6" fill="none" stroke="#6E5048" stroke-width="2.80" stroke-linecap="round" stroke-linejoin="round"/><polyline points="1902.8,613.6 1945.8,616.1 1957.8,610.1" fill="none" stroke="#9C7850" stroke-width="4.00" stroke-linecap="round" stroke-linejoin="round"/><polyline points="1903.8,613.3 1945.8,615.7 1956.8,609.8" fill="none" stroke="#F0C88E" stroke-width="2.00" stroke-linecap="round" stroke-linejoin="round"/><line x1="1924.6" y1="579.6" x2="1924.6" y2="610.1" stroke="#F00000" stroke-width="1.3"/><polygon points="1924.1,579.6 1945.6,587.1 1925.1,594.9" fill="#F00000"/></g><line x1="1674" y1="575.3" x2="2049" y2="575.3" stroke="#9AA89C" stroke-width="0.6"/><clipPath id="ck4"><rect x="1674" y="662.5" width="375" height="76.4"/></clipPath><g clip-path="url(#ck4)"><rect x="1674" y="662.5" width="375" height="76.4" fill="#CFF4D6"/><path transform="scale(.5)" d="M3385 1325l50 0-11 35-52 0zM3485 1325l50 0-7 35-52 0zM3585 1325l50 0-3 35-52 0zM3685 1325l50 0 1 35-52 0zM3785 1325l50 0 4 35-52 0zM3885 1325l50 0 8 35-52 0zM3985 1325l50 0 12 35-52 0zM4085 1325l50 0 16 35-52 0zM3320 1360l52 0-13 38-54 0zM3424 1360l52 0-9 38-54 0zM3528 1360l52 0-6 38-53 0zM3632 1360l52 0-2 38-54 0zM3736 1360l51 0 3 38-54 0zM3839 1360l52 0 7 38-54 0zM3943 1360l52 0 11 38-54 0zM4047 1360l52 0 15 38-54 0zM3359 1398l54 0-13 41-56 0zM3467 1398l54 0-8 41-57 0zM3574 1398l54 0-3 41-56 0zM3682 1398l54 0 1 41-56 0zM3790 1398l54 0 5 41-56 0zM3898 1398l54 0 10 41-56 0zM4006 1398l54 0 14 41-56 0zM3288 1439l56 0-14 39-58 0zM3400 1439l56 0-9 39-59 0zM3513 1439l56 0-6 39-58 0zM3625 1439l56 0-1 39-59 0zM3737 1439l56 0 3 39-58 0zM3849 1439l57 0 7 39-59 0zM3962 1439l56 0 11 39-58 0zM4074 1439l56 0 16 39-59 0z" fill="#000"/><polyline points="1957.9,727.0 1967.4,735.0 1956.4,739.0 1961.4,751.0" fill="none" stroke="#3A2A26" stroke-width="1.80" stroke-linecap="round" stroke-linejoin="round" opacity="0.35"/><polyline points="1957.9,703.0 1967.4,709.0 1956.4,713.0 1961.4,720.0" fill="none" stroke="#7E5A55" stroke-width="2.80" stroke-linecap="round" stroke-linejoin="round"/><polyline points="1956.4,713.0 1953.4,716.0" fill="none" stroke="#D89A9A" stroke-width="2.80" stroke-linecap="round" stroke-linejoin="round"/><polyline points="1999.4,703.0 1993.4,710.0 2006.4,720.0" fill="none" stroke="#6E5048" stroke-width="2.80" stroke-linecap="round" stroke-linejoin="round"/><polyline points="1957.4,701.0 2000.4,703.5 2012.4,697.5" fill="none" stroke="#9C7850" stroke-width="4.00" stroke-linecap="round" stroke-linejoin="round"/><polyline points="1958.4,700.7 2000.4,703.1 2011.4,697.2" fill="none" stroke="#F0C88E" stroke-width="2.00" stroke-linecap="round" stroke-linejoin="round"/><line x1="1984.6" y1="665" x2="1984.6" y2="695.5" stroke="#F00000" stroke-width="1.3"/><polygon points="1984.1,665 2005.6,672.5 1985.1,680.3" fill="#F00000"/></g><line x1="1674" y1="662.8" x2="2049" y2="662.8" stroke="#9AA89C" stroke-width="0.6"/><path d="M1567.4,331.0 A60,60 0 0 1 1646.4,373.1" fill="none" stroke="#000" stroke-width="1.1" stroke-dasharray="3 2.2"/><line x1="1588.1" y1="387.3" x2="1643.5" y2="373.8" stroke="#000" stroke-width="1.1" stroke-dasharray="3 2.2"/><polyline points="1642.7,376.9 1646.4,373.1 1641.4,371.4" fill="none" stroke="#000" stroke-width="1.1"/><line x1="1588.1" y1="387.3" x2="1569.6" y2="337.1" stroke="#000" stroke-width="2.1" /><polygon points="1574.2,337.0 1567.4,331.0 1566.1,340.0 1569.5,336.6" fill="#000"/><text x="1557" y="326.6" font-family="Liberation Sans" font-size="10.8" fill="#111" stroke="#FFF" stroke-width="3" paint-order="stroke">1m/s</text><path d="M1568.0,416.8 A60,60 0 0 1 1647.0,458.9" fill="none" stroke="#000" stroke-width="1.1" stroke-dasharray="3 2.2"/><line x1="1588.8" y1="473.1" x2="1569.1" y2="419.6" stroke="#000" stroke-width="1.1" stroke-dasharray="3 2.2"/><polyline points="1572.2,420.0 1568.0,416.8 1567.0,422.0" fill="none" stroke="#000" stroke-width="1.1"/><line x1="1588.8" y1="473.1" x2="1644.1" y2="459.6" stroke="#000" stroke-width="1.1" stroke-dasharray="3 2.2"/><polyline points="1643.3,462.7 1647.0,458.9 1642.0,457.2" fill="none" stroke="#000" stroke-width="1.1"/><line x1="1588.8" y1="473.1" x2="1614.3" y2="426.9" stroke="#000" stroke-width="2.1" /><polygon points="1617.4,430.3 1617.5,421.2 1609.9,426.1 1614.6,426.5" fill="#000"/><text x="1588.75" y="415.6" font-family="Liberation Sans" font-size="10.8" fill="#111" stroke="#FFF" stroke-width="3" paint-order="stroke">1.2m/s, β=0.54</text><path d="M1568.0,506.8 A60,60 0 0 1 1647.0,548.9" fill="none" stroke="#000" stroke-width="1.1" stroke-dasharray="3 2.2"/><line x1="1588.8" y1="563.1" x2="1569.1" y2="509.6" stroke="#000" stroke-width="1.1" stroke-dasharray="3 2.2"/><polyline points="1572.2,510.0 1568.0,506.8 1567.0,512.0" fill="none" stroke="#000" stroke-width="1.1"/><line x1="1588.8" y1="563.1" x2="1644.1" y2="549.6" stroke="#000" stroke-width="1.1" stroke-dasharray="3 2.2"/><polyline points="1643.3,552.7 1647.0,548.9 1642.0,547.2" fill="none" stroke="#000" stroke-width="1.1"/><line x1="1588.8" y1="563.1" x2="1623.2" y2="523.6" stroke="#000" stroke-width="2.1" /><polygon points="1625.5,527.6 1627.5,518.7 1619.0,521.9 1623.5,523.2" fill="#000"/><text x="1594.4" y="509.4" font-family="Liberation Sans" font-size="10.8" fill="#111" stroke="#FFF" stroke-width="3" paint-order="stroke">1.5m/s, β=0.42</text><path d="M1567.8,592.7 A60,60 0 0 1 1646.8,634.8" fill="none" stroke="#000" stroke-width="1.1" stroke-dasharray="3 2.2"/><line x1="1588.5" y1="649.0" x2="1568.8" y2="595.5" stroke="#000" stroke-width="1.1" stroke-dasharray="3 2.2"/><polyline points="1572.0,595.9 1567.8,592.7 1566.7,597.9" fill="none" stroke="#000" stroke-width="1.1"/><line x1="1588.5" y1="649.0" x2="1643.9" y2="635.5" stroke="#000" stroke-width="1.1" stroke-dasharray="3 2.2"/><polyline points="1643.1,638.6 1646.8,634.8 1641.8,633.1" fill="none" stroke="#000" stroke-width="1.1"/><line x1="1588.5" y1="649.0" x2="1630.9" y2="616.4" stroke="#000" stroke-width="2.1" /><polygon points="1632.3,620.7 1636.0,612.4 1627.1,613.9 1631.3,616.1" fill="#000"/><text x="1598" y="607.5" font-family="Liberation Sans" font-size="10.8" fill="#111" stroke="#FFF" stroke-width="3" paint-order="stroke">1.8m/s, β=0.35</text><path d="M1567.4,678.7 A60,60 0 0 1 1646.4,720.8" fill="none" stroke="#000" stroke-width="1.1" stroke-dasharray="3 2.2"/><line x1="1588.1" y1="735.0" x2="1568.4" y2="681.5" stroke="#000" stroke-width="1.1" stroke-dasharray="3 2.2"/><polyline points="1571.6,681.9 1567.4,678.7 1566.3,683.9" fill="none" stroke="#000" stroke-width="1.1"/><line x1="1588.1" y1="735.0" x2="1640.6" y2="722.2" stroke="#000" stroke-width="2.1" /><polygon points="1640.1,726.7 1646.9,720.7 1638.1,718.4 1641.0,722.1" fill="#000"/><text x="1646.9" y="713.5" font-family="Liberation Sans" font-size="10.8" fill="#111" stroke="#FFF" stroke-width="3" paint-order="stroke">2m/s</text></svg><svg style="left:0;top:0" width="2160" height="1440" viewBox="0 0 2160 1440"><defs></defs><clipPath id="run"><rect x="1485" y="946.8" width="120" height="119.6"/></clipPath><linearGradient id="runsky" x1="0" y1="0" x2="0" y2="1"><stop offset="0" stop-color="#A9A9A9"/><stop offset="1" stop-color="#7C7C7C"/></linearGradient><linearGradient id="runfog" x1="0" y1="0" x2="0" y2="1"><stop offset="0" stop-color="#5F6D61" stop-opacity="1"/><stop offset="0.35" stop-color="#667568" stop-opacity="0.8"/><stop offset="1" stop-color="#6B7A6C" stop-opacity="0"/></linearGradient><g clip-path="url(#run)"><rect x="1485" y="946.8" width="120" height="62.9" fill="url(#runsky)"/><rect x="1485" y="1009.7" width="120" height="56.7" fill="#B3CFB2"/><path transform="scale(.5)" d="M3034 2139l82 0-3-8-77 0zM3198 2139l81 0-11-8-77 0zM2958 2131l78 0 6-24-63 0zM3113 2131l78 0-23-24-63 0zM2916 2107l63 0 15-17-53 0zM3042 2107l63 0-5-17-53 0zM3168 2107l63 0-25-17-53 0zM2994 2090l53 0 3-12-46 0zM3100 2090l53 0-11-12-46 0zM3206 2090l53 0-26-12-46 0zM2958 2078l46 0 8-10-40 0zM3050 2078l46 0-3-10-41 0zM3142 2078l45 0-13-10-41 0zM3233 2078l46 0-25-10-40 0zM2931 2068l41 0 10-7-36 0zM3012 2068l40 0 2-7-36 0zM3093 2068l40 0-7-7-36 0zM3174 2068l40 0-15-7-36 0zM2982 2061l36 0 5-6-32 0zM3054 2061l36 0-1-6-33 0zM3126 2061l37 0-9-6-33 0zM3199 2061l36 0-16-6-33 0zM2958 2055l33 0 7-5-30 0zM3023 2055l33 0 1-5-29 0zM3089 2055l32 0-4-5-30 0zM3154 2055l32 0-10-5-30 0zM3219 2055l32 0-16-5-29 0zM2938 2050l30 0 8-4-27 0zM2998 2050l30 0 3-4-27 0zM3057 2050l30 0-1-4-28 0zM3117 2050l29 0-6-4-27 0zM3176 2050l30 0-11-4-28 0zM2976 2046l28 0 5-3-25 0zM3031 2046l27 0 1-3-25 0zM3086 2046l27 0-3-3-26 0zM3140 2046l27 0-7-3-25 0zM3195 2046l27 0-11-3-26 0zM2958 2043l26 0 6-3-24 0zM3009 2043l25 0 3-3-24 0zM3059 2043l25 0 0-3-24 0zM3110 2043l25 0-5-3-23 0zM3160 2043l25 0-8-3-23 0zM3211 2043l25 0-12-3-23 0zM2943 2040l23 0 7-3-22 0zM2990 2040l23 0 4-3-22 0zM3037 2040l23 0 1-3-22 0zM3084 2040l23 0-2-3-22 0zM3130 2040l24 0-5-3-22 0zM3177 2040l24 0-9-3-21 0zM3224 2040l24 0-12-3-22 0zM2973 2037l22 0 4-2-20 0zM3017 2037l22 0 2-2-21 0zM3061 2037l22 0-1-2-21 0zM3105 2037l22 0-4-2-20 0zM3149 2037l22 0-7-2-20 0zM3192 2037l22 0-8-2-21 0zM2958 2035l21 0 5-2-19 0zM2999 2035l21 0 3-2-19 0zM3041 2035l20 0 1-2-20 0zM3082 2035l21 0-2-2-20 0zM3123 2035l21 0-4-2-20 0zM3164 2035l21 0-7-2-19 0zM3206 2035l20 0-9-2-19 0zM2945 2033l20 0 5-2-18 0zM2984 2033l20 0 3-2-18 0zM3023 2033l19 0 2-2-18 0zM3062 2033l19 0 0-2-19 0zM3101 2033l19 0-3-2-18 0zM3140 2033l19 0-5-2-18 0zM3178 2033l20 0-7-2-18 0zM3217 2033l20 0-9-2-19 0zM2970 2031l19 0 4-1-17 0zM3007 2031l19 0 2-1-17 0zM3044 2031l18 0 1-1-18 0zM3081 2031l18 0-1-1-18 0zM3117 2031l19 0-4-1-17 0zM3154 2031l19 0-6-1-17 0zM3191 2031l18 0-7-1-17 0zM2958 2030l18 0 4-2-16 0zM2993 2030l18 0 2-2-16 0zM3028 2030l17 0 2-2-17 0zM3063 2030l17 0 0-2-17 0zM3098 2030l17 0-2-2-17 0zM3132 2030l18 0-4-2-17 0zM3167 2030l18 0-6-2-16 0zM3202 2030l18 0-8-2-16 0zM2947 2028l17 0 5-1-16 0zM2980 2028l17 0 3-1-15 0zM3013 2028l17 0 2-1-16 0zM3047 2028l16 0 0-1-15 0zM3080 2028l16 0-1-1-16 0zM3113 2028l16 0-2-1-16 0zM3146 2028l17 0-5-1-16 0zM3179 2028l17 0-6-1-16 0zM3212 2028l17 0-8-1-15 0zM2969 2027l16 0 3-1-15 0zM3000 2027l16 0 3-1-16 0zM3032 2027l16 0 1-1-15 0zM3063 2027l16 0 0-1-15 0zM3095 2027l16 0-2-1-15 0zM3127 2027l15 0-3-1-15 0zM3158 2027l16 0-5-1-15 0zM3190 2027l16 0-6-1-16 0zM3221 2027l16 0-7-1-15 0zM2958 2026l15 0 4-2-14 0zM2988 2026l15 0 3-2-14 0zM3019 2026l15 0 1-2-14 0zM3049 2026l15 0 0-2-14 0zM3079 2026l15 0-1-2-14 0zM3109 2026l15 0-2-2-15 0zM3139 2026l15 0-3-2-15 0zM3169 2026l15 0-4-2-15 0zM3200 2026l15 0-7-2-14 0zM2949 2024l14 0 4-1-13 0zM2977 2024l15 0 3-1-14 0zM3006 2024l15 0 2-1-14 0zM3035 2024l15 0 1-1-14 0zM3064 2024l15 0-1-1-14 0zM3093 2024l14 0-1-1-14 0zM3122 2024l14 0-2-1-14 0zM3151 2024l14 0-4-1-14 0zM3180 2024l14 0-5-1-14 0zM3208 2024l15 0-6-1-14 0zM2967 2023l14 0 4 0-13 0zM2995 2023l14 0 2 0-13 0zM3023 2023l14 0 1 0-13 0zM3051 2023l13 0 1 0-14 0zM3078 2023l14 0-1 0-13 0zM3106 2023l14 0-2 0-13 0zM3134 2023l13 0-3 0-13 0zM3161 2023l14 0-4 0-13 0zM3189 2023l14 0-5 0-14 0zM3217 2023l13 0-6 0-13 0zM2958 2023l14 0 3-1-12 0zM2985 2023l13 0 3-1-13 0zM3011 2023l14 0 1-1-12 0zM3038 2023l13 0 1-1-13 0zM3065 2023l13 0 0-1-13 0zM3091 2023l14 0-2-1-13 0zM3118 2023l13 0-2-1-13 0zM3144 2023l14 0-4-1-12 0zM3171 2023l13 0-4-1-13 0zM3198 2023l13 0-5-1-13 0zM2950 2022l13 0 3-1-12 0zM2975 2022l13 0 3-1-12 0zM3001 2022l13 0 2-1-13 0zM3026 2022l13 0 1-1-12 0zM3052 2022l13 0 0-1-12 0zM3078 2022l12 0 0-1-13 0zM3103 2022l13 0-2-1-12 0zM3129 2022l13 0-3-1-12 0zM3154 2022l13 0-3-1-13 0zM3180 2022l13 0-5-1-12 0zM3206 2022l12 0-5-1-12 0zM2966 2021l13 0 3-1-12 0zM2991 2021l12 0 3-1-12 0zM3016 2021l12 0 2-1-12 0zM3040 2021l13 0 0-1-12 0zM3065 2021l12 0 0-1-12 0zM3090 2021l12 0-1-1-12 0zM3114 2021l13 0-2-1-12 0zM3139 2021l12 0-3-1-11 0zM3164 2021l12 0-4-1-12 0zM3188 2021l13 0-5-1-12 0zM3213 2021l12 0-5-1-12 0zM2958 2020l12 0 4-1-12 0zM2982 2020l12 0 3-1-12 0zM3006 2020l12 0 1-1-11 0zM3030 2020l11 0 1-1-11 0zM3053 2020l12 0 0-1-11 0zM3077 2020l12 0-1-1-11 0zM3101 2020l12 0-2-1-11 0zM3125 2020l12 0-3-1-11 0zM3148 2020l12 0-3-1-11 0zM3172 2020l12 0-4-1-11 0zM3196 2020l12 0-5-1-11 0zM3220 2020l12 0-6-1-11 0z" fill="#000"/><rect x="1485" y="1009.7" width="120" height="22.7" fill="url(#runfog)"/><polyline points="1520.2,1017.6 1521.5,1034.3" fill="none" stroke="#9C6E66" stroke-width="2.9699999999999998" stroke-linecap="round" stroke-linejoin="round"/><polyline points="1521.5,1034.3 1507.0,1029.4 1501.2,1037.9" fill="none" stroke="#B77C80" stroke-width="4.07" stroke-linecap="round" stroke-linejoin="round"/><polyline points="1521.5,1034.3 1507.0,1029.4 1501.2,1037.9" fill="none" stroke="#E2A0A6" stroke-width="2.9699999999999998" stroke-linecap="round" stroke-linejoin="round"/><polyline points="1570.2,1023.0 1571.2,1036.6" fill="none" stroke="#9C6E66" stroke-width="2.9699999999999998" stroke-linecap="round" stroke-linejoin="round"/><polyline points="1571.2,1036.6 1586.5,1049.2" fill="none" stroke="#E2A0A6" stroke-width="2.9699999999999998" stroke-linecap="round" stroke-linejoin="round"/><polyline points="1520.2,1017.6 1570.2,1023.0 1581.5,1014.9" fill="none" stroke="#9E7444" stroke-width="4.4" stroke-linecap="round" stroke-linejoin="round"/><polyline points="1520.2,1017.6 1570.2,1023.0 1581.5,1014.9" fill="none" stroke="#D9A468" stroke-width="3.3" stroke-linecap="round" stroke-linejoin="round"/></g><clipPath id="jump"><rect x="1995" y="946.8" width="120" height="119.6"/></clipPath><linearGradient id="jumpsky" x1="0" y1="0" x2="0" y2="1"><stop offset="0" stop-color="#A9A9A9"/><stop offset="1" stop-color="#7C7C7C"/></linearGradient><linearGradient id="jumpfog" x1="0" y1="0" x2="0" y2="1"><stop offset="0" stop-color="#5F6D61" stop-opacity="1"/><stop offset="0.35" stop-color="#667568" stop-opacity="0.8"/><stop offset="1" stop-color="#6B7A6C" stop-opacity="0"/></linearGradient><g clip-path="url(#jump)"><rect x="1995" y="946.8" width="120" height="67.6" fill="url(#jumpsky)"/><rect x="1995" y="1014.4" width="120" height="52.0" fill="#B3CFB2"/><path transform="scale(.5)" d="M4009 2139l36 0 1-3-35 0zM4081 2139l36 0 0-3-36 0zM4153 2139l36 0-2-3-35 0zM4225 2139l36 0-3-3-35 0zM3975 2136l36 0 9-12-33 0zM4046 2136l35 0 3-12-32 0zM4117 2136l35 0-4-12-32 0zM4187 2136l36 0-10-12-33 0zM3955 2124l32 0 11-11-30 0zM4020 2124l32 0 5-11-30 0zM4084 2124l32 0 0-11-30 0zM4148 2124l32 0-5-11-30 0zM4213 2124l32 0-11-11-30 0zM3998 2113l29 0 7-8-28 0zM4057 2113l29 0 2-8-27 0zM4116 2113l29 0-3-8-27 0zM4175 2113l29 0-7-8-27 0zM4234 2113l29 0-12-8-27 0zM3979 2105l27 0 8-8-26 0zM4034 2105l27 0 3-8-25 0zM4088 2105l27 0 0-8-25 0zM4142 2105l28 0-5-8-25 0zM4197 2105l27 0-8-8-25 0zM3963 2097l25 0 9-6-24 0zM4014 2097l25 0 5-6-24 0zM4064 2097l26 0 1-6-24 0zM4115 2097l25 0-2-6-24 0zM4165 2097l26 0-6-6-23 0zM4216 2097l25 0-9-6-23 0zM3997 2091l23 0 6-6-22 0zM4044 2091l23 0 3-6-22 0zM4091 2091l23 0 0-6-22 0zM4138 2091l24 0-4-6-22 0zM4185 2091l24 0-6-6-22 0zM4232 2091l24 0-9-6-22 0zM3982 2085l22 0 6-5-21 0zM4026 2085l22 0 4-5-21 0zM4070 2085l22 0 1-5-21 0zM4114 2085l22 0-1-5-21 0zM4158 2085l23 0-5-5-20 0zM4203 2085l22 0-7-5-21 0zM3968 2080l21 0 7-4-20 0zM4010 2080l21 0 4-4-20 0zM4052 2080l20 0 2-4-19 0zM4093 2080l21 0 0-4-20 0zM4135 2080l21 0-3-4-20 0zM4176 2080l21 0-5-4-19 0zM4218 2080l21 0-7-4-20 0zM3996 2076l19 0 5-4-18 0zM4035 2076l20 0 3-4-19 0zM4074 2076l20 0 1-4-19 0zM4114 2076l19 0-1-4-18 0zM4153 2076l20 0-4-4-18 0zM4192 2076l20 0-5-4-19 0zM4232 2076l19 0-7-4-19 0zM3983 2072l19 0 5-4-17 0zM4020 2072l19 0 4-4-18 0zM4058 2072l18 0 2-4-18 0zM4095 2072l19 0-1-4-17 0zM4132 2072l19 0-2-4-18 0zM4169 2072l19 0-4-4-18 0zM4207 2072l18 0-6-4-17 0zM3972 2068l18 0 5-3-17 0zM4007 2068l18 0 4-3-17 0zM4043 2068l17 0 3-3-17 0zM4078 2068l18 0 0-3-16 0zM4113 2068l18 0-1-3-17 0zM4149 2068l17 0-2-3-17 0zM4184 2068l18 0-5-3-16 0zM4219 2068l18 0-6-3-17 0zM3962 2065l16 0 6-3-16 0zM3995 2065l17 0 5-3-16 0zM4029 2065l17 0 3-3-16 0zM4063 2065l17 0 1-3-16 0zM4096 2065l17 0 0-3-16 0zM4130 2065l17 0-2-3-16 0zM4164 2065l17 0-4-3-16 0zM4197 2065l17 0-4-3-17 0zM4231 2065l17 0-6-3-16 0zM3984 2062l17 0 4-3-15 0zM4017 2062l16 0 3-3-15 0zM4049 2062l16 0 2-3-16 0zM4081 2062l16 0 1-3-16 0zM4113 2062l16 0-1-3-15 0zM4145 2062l16 0-2-3-15 0zM4177 2062l16 0-3-3-16 0zM4210 2062l16 0-5-3-16 0zM4242 2062l16 0-7-3-15 0zM3975 2059l15 0 5-2-15 0zM4005 2059l16 0 3-2-14 0zM4036 2059l15 0 3-2-15 0zM4067 2059l15 0 1-2-14 0zM4098 2059l15 0 0-2-15 0zM4128 2059l16 0-2-2-14 0zM4159 2059l15 0-2-2-15 0zM4190 2059l15 0-4-2-15 0zM4221 2059l15 0-5-2-15 0zM3965 2057l15 0 5-3-14 0zM3995 2057l15 0 4-3-15 0zM4024 2057l15 0 3-3-14 0zM4054 2057l15 0 1-3-14 0zM4083 2057l15 0 1-3-15 0zM4113 2057l15 0-1-3-14 0zM4142 2057l15 0-2-3-14 0zM4172 2057l14 0-3-3-14 0zM4201 2057l15 0-4-3-14 0zM4231 2057l14 0-5-3-14 0zM3985 2054l14 0 5-2-14 0zM4014 2054l14 0 3-2-14 0zM4042 2054l14 0 2-2-13 0zM4070 2054l14 0 1-2-13 0zM4099 2054l14 0 0-2-14 0zM4127 2054l14 0-1-2-14 0zM4155 2054l14 0-2-2-14 0zM4183 2054l15 0-4-2-13 0zM4212 2054l14 0-5-2-13 0zM4240 2054l14 0-5-2-14 0zM3977 2052l13 0 5-2-14 0zM4004 2052l13 0 4-2-13 0zM4031 2052l14 0 2-2-13 0zM4058 2052l14 0 1-2-13 0zM4085 2052l14 0 0-2-13 0zM4113 2052l13 0 0-2-14 0zM4140 2052l13 0-1-2-13 0zM4167 2052l14 0-3-2-13 0zM4194 2052l14 0-4-2-13 0zM4221 2052l14 0-5-2-13 0zM3968 2050l13 0 5-1-13 0zM3995 2050l13 0 3-1-12 0zM4021 2050l13 0 3-1-13 0zM4047 2050l13 0 2-1-13 0zM4073 2050l13 0 1-1-13 0zM4099 2050l13 0 0-1-12 0zM4126 2050l13 0-1-1-13 0zM4152 2050l13 0-2-1-13 0zM4178 2050l13 0-3-1-12 0zM4204 2050l13 0-4-1-12 0zM4230 2050l14 0-5-1-13 0zM3986 2049l13 0 4-2-13 0zM4011 2049l13 0 3-2-12 0zM4037 2049l12 0 2-2-12 0zM4062 2049l12 0 2-2-12 0zM4087 2049l13 0 0-2-12 0zM4112 2049l13 0 0-2-13 0zM4138 2049l12 0-1-2-12 0zM4163 2049l13 0-3-2-12 0zM4188 2049l13 0-3-2-12 0zM4213 2049l13 0-4-2-12 0zM4239 2049l12 0-5-2-12 0zM3978 2047l12 0 4-2-11 0zM4003 2047l12 0 3-2-12 0zM4027 2047l12 0 2-2-11 0zM4051 2047l13 0 1-2-12 0zM4076 2047l12 0 1-2-12 0zM4100 2047l12 0 0-2-12 0zM4125 2047l12 0-1-2-12 0zM4149 2047l12 0-2-2-11 0zM4173 2047l13 0-3-2-12 0zM4198 2047l12 0-3-2-12 0zM4222 2047l12 0-4-2-12 0zM3971 2045l12 0 4-1-12 0zM3994 2045l12 0 3-1-11 0zM4018 2045l12 0 2-1-11 0zM4041 2045l12 0 2-1-11 0zM4065 2045l12 0 1-1-11 0zM4089 2045l11 0 1-1-12 0zM4112 2045l12 0 0-1-12 0zM4136 2045l12 0-2-1-11 0zM4159 2045l12 0-2-1-11 0zM4183 2045l12 0-3-1-11 0zM4207 2045l11 0-3-1-12 0zM4230 2045l12 0-4-1-12 0zM3987 2044l11 0 4-1-11 0zM4009 2044l12 0 3-1-11 0zM4032 2044l12 0 2-1-11 0zM4055 2044l12 0 1-1-11 0zM4078 2044l11 0 1-1-11 0zM4101 2044l11 0 0-1-11 0zM4124 2044l11 0-1-1-11 0zM4146 2044l12 0-2-1-11 0zM4169 2044l12 0-3-1-11 0zM4192 2044l11 0-2-1-12 0zM4215 2044l11 0-3-1-11 0zM4238 2044l11 0-4-1-11 0zM3979 2043l12 0 3-2-11 0zM4002 2043l11 0 3-2-11 0zM4024 2043l11 0 2-2-11 0zM4046 2043l11 0 1-2-10 0zM4068 2043l11 0 1-2-11 0zM4090 2043l11 0 0-2-10 0zM4112 2043l11 0 0-2-11 0zM4134 2043l11 0-1-2-11 0zM4156 2043l11 0-1-2-11 0zM4178 2043l11 0-2-2-11 0zM4201 2043l11 0-3-2-11 0zM4223 2043l11 0-4-2-11 0zM3973 2041l10 0 4-1-10 0zM3994 2041l11 0 3-1-10 0zM4016 2041l10 0 3-1-11 0zM4037 2041l11 0 2-1-11 0zM4058 2041l11 0 1-1-10 0zM4080 2041l11 0 0-1-10 0zM4101 2041l11 0 0-1-10 0zM4123 2041l10 0 0-1-11 0zM4144 2041l11 0-1-1-11 0zM4166 2041l10 0-2-1-10 0zM4187 2041l11 0-3-1-10 0zM4209 2041l10 0-3-1-10 0zM4230 2041l11 0-4-1-11 0zM3987 2040l11 0 3-1-10 0zM4008 2040l10 0 3-1-10 0zM4029 2040l10 0 2-1-10 0zM4050 2040l10 0 1-1-10 0zM4070 2040l11 0 1-1-11 0zM4091 2040l11 0 0-1-10 0zM4112 2040l10 0 0-1-10 0zM4133 2040l10 0-1-1-10 0zM4154 2040l10 0-2-1-10 0zM4174 2040l11 0-2-1-10 0zM4195 2040l11 0-3-1-10 0zM4216 2040l10 0-3-1-10 0zM4237 2040l10 0-4-1-10 0zM3981 2039l10 0 3-1-10 0zM4001 2039l10 0 3-1-10 0zM4021 2039l10 0 2-1-10 0zM4041 2039l10 0 2-1-10 0zM4061 2039l10 0 2-1-10 0zM4082 2039l10 0 0-1-10 0zM4102 2039l10 0 0-1-10 0zM4122 2039l10 0 0-1-10 0zM4142 2039l10 0-1-1-10 0zM4162 2039l11 0-2-1-10 0zM4183 2039l10 0-3-1-9 0zM4203 2039l10 0-3-1-10 0zM4223 2039l10 0-3-1-10 0zM3974 2038l10 0 4-1-10 0zM3994 2038l10 0 3-1-10 0zM4014 2038l9 0 3-1-10 0zM4033 2038l10 0 2-1-10 0zM4053 2038l10 0 1-1-10 0zM4073 2038l9 0 1-1-9 0zM4092 2038l10 0 0-1-9 0zM4112 2038l10 0-1-1-9 0zM4132 2038l9 0-1-1-9 0zM4151 2038l10 0-1-1-10 0zM4171 2038l10 0-2-1-10 0zM4190 2038l10 0-2-1-10 0zM4210 2038l10 0-3-1-10 0zM4230 2038l10 0-4-1-9 0zM3988 2037l9 0 3-1-9 0zM4007 2037l9 0 3-1-10 0zM4026 2037l9 0 2-1-9 0zM4045 2037l9 0 2-1-9 0zM4064 2037l10 0 1-1-10 0zM4083 2037l10 0 0-1-9 0zM4102 2037l10 0 0-1-10 0zM4121 2037l10 0-1-1-9 0zM4140 2037l10 0-1-1-9 0zM4160 2037l9 0-1-1-10 0zM4179 2037l9 0-2-1-9 0zM4198 2037l9 0-2-1-9 0zM4217 2037l10 0-4-1-9 0zM4236 2037l10 0-4-1-9 0zM3981 2036l10 0 3-1-9 0zM4000 2036l9 0 3-1-9 0zM4019 2036l9 0 2-1-9 0zM4037 2036l10 0 1-1-9 0zM4056 2036l9 0 1-1-9 0zM4075 2036l9 0 1-1-10 0zM4093 2036l9 0 1-1-9 0zM4112 2036l9 0 0-1-9 0zM4130 2036l10 0-1-1-9 0zM4149 2036l9 0-1-1-9 0zM4168 2036l9 0-2-1-9 0zM4186 2036l10 0-3-1-9 0zM4205 2036l9 0-3-1-9 0zM4223 2036l10 0-3-1-9 0zM3976 2035l9 0 3-1-9 0zM3994 2035l9 0 3-1-9 0zM4012 2035l9 0 2-1-9 0zM4030 2035l9 0 2-1-9 0zM4048 2035l9 0 2-1-9 0zM4066 2035l9 0 1-1-9 0zM4085 2035l9 0 0-1-9 0zM4103 2035l9 0 0-1-9 0zM4121 2035l9 0-1-1-8 0zM4139 2035l9 0-1-1-9 0zM4157 2035l9 0-1-1-9 0zM4175 2035l9 0-2-1-8 0zM4193 2035l9 0-2-1-9 0zM4211 2035l10 0-3-1-9 0zM4230 2035l9 0-4-1-8 0zM3988 2034l9 0 2-1-8 0zM4006 2034l8 0 3-1-9 0zM4023 2034l9 0 2-1-9 0zM4041 2034l9 0 1-1-8 0zM4059 2034l8 0 2-1-9 0zM4076 2034l9 0 1-1-9 0zM4094 2034l9 0 0-1-9 0zM4112 2034l9 0-1-1-8 0zM4129 2034l9 0 0-1-9 0zM4147 2034l9 0-1-1-9 0zM4165 2034l9 0-2-1-9 0zM4182 2034l9 0-2-1-8 0zM4200 2034l9 0-2-1-9 0zM4218 2034l9 0-3-1-9 0zM4235 2034l9 0-3-1-9 0zM3982 2033l9 0 3-1-9 0zM3999 2033l9 0 3-1-9 0zM4017 2033l8 0 2-1-8 0zM4034 2033l9 0 1-1-8 0zM4051 2033l9 0 1-1-8 0zM4069 2033l8 0 1-1-9 0zM4086 2033l8 0 1-1-9 0zM4103 2033l9 0 0-1-9 0zM4120 2033l9 0-1-1-8 0zM4138 2033l8 0-1-1-8 0zM4155 2033l8 0-1-1-8 0zM4172 2033l9 0-2-1-8 0zM4189 2033l9 0-2-1-9 0zM4207 2033l8 0-2-1-9 0zM4224 2033l8 0-2-1-9 0zM3977 2032l8 0 3 0-8 0zM3994 2032l8 0 3 0-9 0zM4011 2032l8 0 2 0-8 0zM4027 2032l9 0 2 0-9 0zM4044 2032l9 0 1 0-8 0zM4061 2032l8 0 1 0-8 0zM4078 2032l8 0 1 0-8 0zM4095 2032l8 0 0 0-8 0zM4112 2032l8 0 0 0-8 0zM4128 2032l9 0-1 0-8 0zM4145 2032l9 0-1 0-9 0zM4162 2032l9 0-2 0-8 0zM4179 2032l8 0-1 0-9 0zM4196 2032l8 0-2 0-8 0zM4213 2032l8 0-2 0-9 0zM4230 2032l8 0-3 0-8 0zM3988 2032l8 0 3-1-8 0zM4005 2032l8 0 2-1-8 0zM4021 2032l8 0 2-1-8 0zM4038 2032l8 0 1-1-8 0zM4054 2032l8 0 1-1-8 0zM4070 2032l9 0 0-1-8 0zM4087 2032l8 0 0-1-8 0zM4103 2032l9 0 0-1-9 0zM4120 2032l8 0 0-1-8 0zM4136 2032l8 0 0-1-8 0zM4153 2032l8 0-1-1-8 0zM4169 2032l8 0-1-1-8 0zM4186 2032l8 0-2-1-8 0zM4202 2032l8 0-2-1-8 0zM4219 2032l8 0-3-1-8 0zM4235 2032l8 0-3-1-8 0zM3983 2031l8 0 3-1-8 0zM3999 2031l8 0 2-1-8 0zM4015 2031l8 0 2-1-8 0zM4031 2031l8 0 2-1-8 0zM4047 2031l8 0 1-1-7 0zM4063 2031l8 0 1-1-8 0zM4079 2031l8 0 1-1-8 0zM4095 2031l8 0 1-1-8 0zM4112 2031l8 0-1-1-8 0zM4128 2031l8 0-1-1-8 0zM4144 2031l8 0-1-1-8 0zM4160 2031l8 0-1-1-8 0zM4176 2031l8 0-2-1-8 0zM4192 2031l8 0-2-1-8 0zM4208 2031l8 0-2-1-8 0zM4224 2031l8 0-3-1-7 0zM3978 2030l8 0 2 0-7 0zM3994 2030l7 0 3 0-8 0zM4009 2030l8 0 2 0-8 0zM4025 2030l8 0 2 0-8 0zM4041 2030l8 0 1 0-8 0zM4056 2030l8 0 1 0-7 0zM4072 2030l8 0 1 0-8 0zM4088 2030l8 0 0 0-8 0zM4104 2030l7 0 0 0-7 0zM4119 2030l8 0 0 0-8 0zM4135 2030l8 0-1 0-7 0zM4151 2030l8 0-1 0-8 0zM4167 2030l7 0-1 0-8 0zM4182 2030l8 0-2 0-7 0zM4198 2030l8 0-2 0-8 0zM4214 2030l8 0-3 0-8 0zM4229 2030l8 0-2 0-8 0zM3988 2030l8 0 3-1-8 0zM4004 2030l7 0 3-1-8 0zM4019 2030l8 0 2-1-8 0zM4035 2030l7 0 2-1-8 0zM4050 2030l8 0 1-1-8 0zM4065 2030l8 0 1-1-8 0zM4081 2030l7 0 1-1-8 0zM4096 2030l8 0 0-1-8 0zM4111 2030l8 0 0-1-8 0zM4127 2030l8 0-1-1-8 0zM4142 2030l8 0-1-1-7 0zM4158 2030l7 0-1-1-7 0zM4173 2030l8 0-2-1-7 0zM4188 2030l8 0-2-1-7 0zM4204 2030l7 0-2-1-7 0zM4219 2030l8 0-3-1-7 0zM4235 2030l7 0-3-1-7 0z" fill="#000"/><rect x="1995" y="1014.4" width="120" height="20.8" fill="url(#jumpfog)"/><polyline points="2042.3,999.1 2044.2,1015.8" fill="none" stroke="#9C6E66" stroke-width="2.7" stroke-linecap="round" stroke-linejoin="round"/><polyline points="2044.2,1015.8 2028.8,1017.6 2023.4,1026.6" fill="none" stroke="#B77C80" stroke-width="3.8000000000000003" stroke-linecap="round" stroke-linejoin="round"/><polyline points="2044.2,1015.8 2028.8,1017.6 2023.4,1026.6" fill="none" stroke="#E2A0A6" stroke-width="2.7" stroke-linecap="round" stroke-linejoin="round"/><polyline points="2071.7,1038.4 2066.7,1051.9" fill="none" stroke="#9C6E66" stroke-width="2.7" stroke-linecap="round" stroke-linejoin="round"/><polyline points="2066.7,1051.9 2077.5,1052.4 2084.3,1047.4" fill="none" stroke="#E2A0A6" stroke-width="2.7" stroke-linecap="round" stroke-linejoin="round"/><polyline points="2042.3,999.1 2071.7,1038.4 2085.7,1042.4" fill="none" stroke="#9E7444" stroke-width="4.1" stroke-linecap="round" stroke-linejoin="round"/><polyline points="2042.3,999.1 2071.7,1038.4 2085.7,1042.4" fill="none" stroke="#D9A468" stroke-width="3.0" stroke-linecap="round" stroke-linejoin="round"/></g><clipPath id="walk"><rect x="1485" y="1141.1" width="120" height="119.8"/></clipPath><linearGradient id="walksky" x1="0" y1="0" x2="0" y2="1"><stop offset="0" stop-color="#A9A9A9"/><stop offset="1" stop-color="#7C7C7C"/></linearGradient><linearGradient id="walkfog" x1="0" y1="0" x2="0" y2="1"><stop offset="0" stop-color="#5F6D61" stop-opacity="1"/><stop offset="0.35" stop-color="#667568" stop-opacity="0.8"/><stop offset="1" stop-color="#6B7A6C" stop-opacity="0"/></linearGradient><g clip-path="url(#walk)"><rect x="1485" y="1141.1" width="120" height="62.4" fill="url(#walksky)"/><rect x="1485" y="1203.5" width="120" height="57.4" fill="#B3CFB2"/><path transform="scale(.5)" d="M3014 2528l104 0-4-20-89 0zM3223 2528l104 0-34-20-90 0zM2936 2508l89 0 12-22-71 0zM3114 2508l89 0-22-22-72 0zM2894 2486l72 0 20-15-60 0zM3037 2486l72 0-3-15-60 0zM3181 2486l71 0-27-15-59 0zM2986 2471l60 0 6-11-51 0zM3106 2471l60 0-11-11-52 0zM3225 2471l60 0-28-11-51 0zM2949 2460l52 0 11-8-45 0zM3052 2460l51 0-1-8-45 0zM3155 2460l51 0-14-8-45 0zM2922 2452l45 0 13-7-40 0zM3012 2452l45 0 3-7-40 0zM3102 2452l45 0-7-7-40 0zM3192 2452l45 0-17-7-40 0zM2980 2445l40 0 7-5-36 0zM3060 2445l40 0-1-5-36 0zM3140 2445l40 0-9-5-36 0zM3220 2445l40 0-17-5-36 0zM2955 2440l36 0 9-4-33 0zM3027 2440l36 0 2-4-32 0zM3099 2440l36 0-4-4-33 0zM3171 2440l36 0-11-4-32 0zM2934 2436l33 0 10-3-30 0zM3000 2436l33 0 4-3-30 0zM3065 2436l33 0-1-3-30 0zM3131 2436l33 0-7-3-30 0zM3196 2436l33 0-11-3-30 0zM2977 2433l30 0 6-3-27 0zM3037 2433l30 0 2-3-28 0zM3097 2433l30 0-3-3-27 0zM3157 2433l31 0-8-3-28 0zM3218 2433l30 0-12-3-28 0zM2958 2430l28 0 7-3-26 0zM3013 2430l28 0 4-3-26 0zM3069 2430l28 0-1-3-26 0zM3124 2430l28 0-4-3-26 0zM3180 2430l28 0-9-3-25 0zM2941 2427l26 0 8-2-24 0zM2993 2427l26 0 4-2-24 0zM3045 2427l25 0 2-2-25 0zM3096 2427l26 0-2-2-24 0zM3148 2427l26 0-6-2-24 0zM3199 2427l26 0-9-2-24 0zM2975 2425l24 0 6-2-23 0zM3023 2425l24 0 3-2-23 0zM3072 2425l24 0-1-2-22 0zM3120 2425l24 0-4-2-22 0zM3168 2425l24 0-6-2-23 0zM3216 2425l24 0-9-2-23 0zM2960 2423l22 0 7-2-22 0zM3005 2423l22 0 4-2-21 0zM3050 2423l23 0 1-2-22 0zM3095 2423l23 0-2-2-21 0zM3140 2423l23 0-4-2-22 0zM3186 2423l22 0-7-2-21 0zM2946 2421l21 0 7-1-20 0zM2989 2421l21 0 4-1-20 0zM3031 2421l21 0 2-1-20 0zM3074 2421l21 0 0-1-21 0zM3116 2421l21 0-2-1-20 0zM3159 2421l21 0-5-1-20 0zM3201 2421l21 0-7-1-20 0zM2974 2420l20 0 5-2-19 0zM3014 2420l20 0 3-2-19 0zM3054 2420l20 0 1-2-19 0zM3095 2420l20 0-2-2-19 0zM3135 2420l20 0-4-2-19 0zM3175 2420l20 0-6-2-19 0zM3215 2420l20 0-8-2-19 0zM2961 2418l19 0 5-1-18 0zM2999 2418l19 0 4-1-18 0zM3037 2418l19 0 2-1-18 0zM3075 2418l19 0 0-1-18 0zM3113 2418l19 0-2-1-18 0zM3151 2418l19 0-4-1-18 0zM3189 2418l19 0-6-1-18 0zM2949 2417l18 0 6-1-17 0zM2985 2417l19 0 4-1-18 0zM3022 2417l18 0 2-1-17 0zM3058 2417l18 0 0-1-17 0zM3094 2417l18 0-1-1-17 0zM3130 2417l18 0-3-1-17 0zM3166 2417l18 0-4-1-17 0zM3202 2417l19 0-7-1-17 0zM2973 2416l17 0 5-1-17 0zM3008 2416l17 0 3-1-17 0zM3042 2416l17 0 2-1-17 0zM3076 2416l18 0-1-1-16 0zM3111 2416l17 0-2-1-16 0zM3145 2416l18 0-4-1-16 0zM3180 2416l17 0-5-1-16 0zM3214 2416l17 0-6-1-16 0zM2962 2415l16 0 5-1-16 0zM2995 2415l16 0 4-1-16 0zM3028 2415l16 0 2-1-16 0zM3061 2415l16 0 1-1-16 0zM3093 2415l17 0-1-1-16 0zM3126 2415l17 0-3-1-15 0zM3159 2415l17 0-4-1-16 0zM3192 2415l17 0-6-1-15 0zM2952 2414l15 0 5-1-15 0zM2983 2414l16 0 4-1-15 0zM3015 2414l15 0 3-1-15 0zM3046 2414l16 0 1-1-15 0zM3078 2414l15 0 0-1-15 0zM3109 2414l16 0-2-1-15 0zM3140 2414l16 0-3-1-15 0zM3172 2414l16 0-4-1-16 0zM3203 2414l16 0-5-1-15 0zM2972 2413l16 0 4 0-15 0zM3003 2413l15 0 3 0-15 0zM3033 2413l15 0 1 0-14 0zM3063 2413l15 0 0 0-14 0zM3093 2413l15 0-1 0-14 0zM3123 2413l15 0-2 0-14 0zM3153 2413l15 0-3 0-14 0zM3184 2413l15 0-5 0-14 0zM3214 2413l15 0-6 0-14 0zM2963 2413l14 0 4-1-14 0zM2992 2413l14 0 3-1-14 0zM3021 2413l14 0 2-1-14 0zM3049 2413l15 0 1-1-14 0zM3078 2413l15 0 0-1-14 0zM3107 2413l15 0-1-1-14 0zM3136 2413l15 0-3-1-13 0zM3165 2413l15 0-4-1-14 0zM3194 2413l15 0-5-1-14 0zM2954 2412l13 0 5-1-13 0zM2981 2412l14 0 4-1-14 0zM3009 2412l14 0 3-1-14 0zM3037 2412l14 0 1-1-13 0zM3065 2412l14 0 0-1-13 0zM3093 2412l14 0-1-1-13 0zM3121 2412l14 0-2-1-14 0zM3148 2412l14 0-2-1-14 0zM3176 2412l14 0-4-1-13 0zM3204 2412l14 0-5-1-13 0zM2972 2411l13 0 4 0-13 0zM2999 2411l13 0 3 0-13 0zM3026 2411l13 0 2 0-13 0zM3052 2411l14 0 1 0-13 0zM3079 2411l14 0-1 0-12 0zM3106 2411l13 0-1 0-13 0zM3133 2411l13 0-2 0-13 0zM3160 2411l13 0-3 0-13 0zM3186 2411l14 0-4 0-13 0zM3213 2411l14 0-5 0-13 0zM2963 2411l13 0 4-1-12 0zM2989 2411l13 0 3-1-13 0zM3015 2411l13 0 2-1-13 0zM3041 2411l13 0 1-1-13 0zM3067 2411l13 0 0-1-13 0zM3092 2411l13 0 0-1-13 0zM3118 2411l13 0-1-1-13 0zM3144 2411l13 0-2-1-13 0zM3170 2411l13 0-3-1-13 0zM3196 2411l13 0-4-1-13 0zM2955 2410l13 0 4-1-13 0zM2980 2410l12 0 4-1-12 0zM3005 2410l12 0 3-1-12 0zM3030 2410l12 0 2-1-12 0zM3055 2410l12 0 1-1-12 0zM3080 2410l12 0 0-1-12 0zM3105 2410l12 0-1-1-12 0zM3130 2410l12 0-2-1-12 0zM3155 2410l12 0-2-1-12 0zM3180 2410l12 0-3-1-12 0zM3205 2410l12 0-4-1-12 0zM2972 2409l12 0 3 0-12 0zM2996 2409l12 0 2 0-11 0zM3020 2409l12 0 2 0-12 0zM3044 2409l12 0 1 0-12 0zM3068 2409l12 0 0 0-11 0zM3092 2409l12 0 0 0-12 0zM3116 2409l12 0-1 0-12 0zM3140 2409l13 0-2 0-12 0zM3165 2409l12 0-3 0-12 0zM3189 2409l12 0-4 0-11 0zM3213 2409l12 0-4 0-12 0zM2964 2409l11 0 4 0-11 0zM2987 2409l12 0 2 0-11 0zM3010 2409l12 0 2 0-11 0zM3034 2409l11 0 2 0-12 0zM3057 2409l12 0 0 0-11 0zM3080 2409l12 0 0 0-11 0zM3104 2409l11 0 0 0-12 0zM3127 2409l12 0-2 0-11 0zM3151 2409l11 0-2 0-11 0zM3174 2409l12 0-3 0-12 0zM3197 2409l12 0-4 0-11 0zM2956 2409l12 0 3-1-11 0zM2979 2409l11 0 3-1-11 0zM3001 2409l12 0 2-1-11 0zM3024 2409l11 0 2-1-11 0zM3047 2409l11 0 1-1-11 0zM3069 2409l12 0 0-1-11 0zM3092 2409l11 0 0-1-11 0zM3115 2409l11 0-1-1-11 0zM3137 2409l12 0-2-1-11 0zM3160 2409l11 0-2-1-11 0zM3183 2409l11 0-3-1-11 0zM3205 2409l11 0-3-1-11 0zM2949 2408l11 0 4 0-11 0zM2971 2408l11 0 3 0-10 0zM2993 2408l11 0 3 0-11 0zM3015 2408l11 0 2 0-11 0zM3037 2408l11 0 1 0-10 0zM3059 2408l11 0 1 0-11 0zM3081 2408l11 0 0 0-11 0zM3103 2408l11 0-1 0-11 0zM3125 2408l11 0-2 0-10 0zM3147 2408l11 0-2 0-11 0zM3169 2408l11 0-3 0-11 0zM3191 2408l11 0-4 0-10 0zM3213 2408l11 0-4 0-11 0zM2964 2408l11 0 3-1-10 0zM2985 2408l11 0 3-1-11 0zM3007 2408l10 0 2-1-10 0zM3028 2408l11 0 1-1-10 0zM3049 2408l11 0 1-1-11 0zM3071 2408l10 0 0-1-10 0zM3092 2408l10 0 0-1-10 0zM3113 2408l11 0-1-1-11 0zM3134 2408l11 0-2-1-10 0zM3156 2408l10 0-2-1-10 0zM3177 2408l11 0-3-1-10 0zM3198 2408l11 0-3-1-11 0zM3220 2408l10 0-4-1-10 0z" fill="#000"/><rect x="1485" y="1203.5" width="120" height="23.0" fill="url(#walkfog)"/><polyline points="1519.7,1210.4 1529.2,1223.0" fill="none" stroke="#9C6E66" stroke-width="2.8800000000000003" stroke-linecap="round" stroke-linejoin="round"/><polyline points="1529.2,1223.0 1517.9,1228.0 1513.8,1230.7 1517.0,1240.1" fill="none" stroke="#B77C80" stroke-width="3.9800000000000004" stroke-linecap="round" stroke-linejoin="round"/><polyline points="1529.2,1223.0 1517.9,1228.0 1513.8,1230.7 1517.0,1240.1" fill="none" stroke="#E2A0A6" stroke-width="2.8800000000000003" stroke-linecap="round" stroke-linejoin="round"/><polyline points="1568.0,1217.1 1565.7,1231.6" fill="none" stroke="#9C6E66" stroke-width="2.8800000000000003" stroke-linecap="round" stroke-linejoin="round"/><polyline points="1565.7,1231.6 1582.0,1240.1" fill="none" stroke="#E2A0A6" stroke-width="2.8800000000000003" stroke-linecap="round" stroke-linejoin="round"/><polyline points="1519.7,1210.4 1568.0,1217.1 1580.6,1210.4" fill="none" stroke="#9E7444" stroke-width="4.300000000000001" stroke-linecap="round" stroke-linejoin="round"/><polyline points="1519.7,1210.4 1568.0,1217.1 1580.6,1210.4" fill="none" stroke="#D9A468" stroke-width="3.2" stroke-linecap="round" stroke-linejoin="round"/></g><clipPath id="stand"><rect x="1995" y="1141.1" width="120" height="119.8"/></clipPath><linearGradient id="standsky" x1="0" y1="0" x2="0" y2="1"><stop offset="0" stop-color="#A9A9A9"/><stop offset="1" stop-color="#7C7C7C"/></linearGradient><linearGradient id="standfog" x1="0" y1="0" x2="0" y2="1"><stop offset="0" stop-color="#5F6D61" stop-opacity="1"/><stop offset="0.35" stop-color="#667568" stop-opacity="0.8"/><stop offset="1" stop-color="#6B7A6C" stop-opacity="0"/></linearGradient><g clip-path="url(#stand)"><rect x="1995" y="1141.1" width="120" height="63.8" fill="url(#standsky)"/><rect x="1995" y="1204.9" width="120" height="56.0" fill="#B3CFB2"/><path transform="scale(.5)" d="M3916 2528l62 0 22-22-51 0zM4040 2528l62 0 1-22-51 0zM4164 2528l62 0-20-22-51 0zM4000 2506l52 0 8-16-44 0zM4103 2506l52 0-7-16-44 0zM4206 2506l52 0-22-16-44 0zM3972 2490l44 0 12-12-39 0zM4060 2490l44 0 1-12-39 0zM4148 2490l44 0-10-12-39 0zM4236 2490l44 0-21-12-39 0zM3951 2478l38 0 14-9-34 0zM4028 2478l38 0 5-9-34 0zM4105 2478l38 0-3-9-35 0zM4182 2478l38 0-12-9-34 0zM4003 2469l34 0 8-8-31 0zM4071 2469l34 0 1-8-31 0zM4140 2469l34 0-7-8-30 0zM4208 2469l34 0-13-8-31 0zM3983 2461l31 0 9-6-28 0zM4045 2461l30 0 3-6-27 0zM4106 2461l31 0-3-6-28 0zM4167 2461l31 0-8-6-28 0zM4229 2461l30 0-14-6-27 0zM3967 2455l28 0 10-5-26 0zM4023 2455l28 0 5-5-26 0zM4078 2455l28 0 1-5-26 0zM4134 2455l28 0-4-5-26 0zM4190 2455l28 0-9-5-26 0zM4245 2455l28 0-13-5-26 0zM3954 2450l25 0 10-4-23 0zM4005 2450l25 0 6-4-23 0zM4056 2450l25 0 2-4-23 0zM4107 2450l25 0-2-4-23 0zM4158 2450l25 0-6-4-23 0zM4209 2450l25 0-10-4-23 0zM3989 2446l24 0 7-4-22 0zM4036 2446l24 0 3-4-21 0zM4083 2446l24 0 0-4-22 0zM4130 2446l24 0-3-4-22 0zM4177 2446l24 0-7-4-21 0zM4224 2446l24 0-10-4-22 0zM3976 2442l22 0 7-3-20 0zM4020 2442l22 0 4-3-20 0zM4063 2442l22 0 2-3-20 0zM4107 2442l22 0-1-3-21 0zM4151 2442l22 0-5-3-20 0zM4194 2442l22 0-7-3-20 0zM4238 2442l22 0-10-3-21 0zM3965 2439l20 0 8-2-19 0zM4005 2439l21 0 5-2-19 0zM4046 2439l21 0 2-2-19 0zM4087 2439l20 0 0-2-19 0zM4128 2439l20 0-2-2-19 0zM4168 2439l21 0-5-2-19 0zM4209 2439l20 0-7-2-19 0zM3993 2437l19 0 6-3-18 0zM4031 2437l19 0 4-3-18 0zM4069 2437l19 0 2-3-18 0zM4107 2437l20 0-1-3-18 0zM4146 2437l19 0-4-3-18 0zM4184 2437l19 0-6-3-18 0zM4222 2437l19 0-8-3-18 0zM3982 2434l18 0 6-2-17 0zM4018 2434l18 0 4-2-17 0zM4054 2434l18 0 2-2-17 0zM4090 2434l18 0 0-2-17 0zM4126 2434l17 0-1-2-17 0zM4161 2434l18 0-3-2-17 0zM4197 2434l18 0-6-2-17 0zM4233 2434l18 0-8-2-17 0zM3972 2432l17 0 6-2-16 0zM4006 2432l17 0 5-2-16 0zM4040 2432l17 0 3-2-16 0zM4074 2432l17 0 1-2-16 0zM4108 2432l17 0-1-2-16 0zM4142 2432l17 0-3-2-16 0zM4176 2432l16 0-4-2-16 0zM4209 2432l17 0-6-2-16 0zM3963 2430l16 0 7-2-15 0zM3995 2430l17 0 4-2-15 0zM4028 2430l16 0 3-2-15 0zM4060 2430l16 0 1-2-15 0zM4092 2430l16 0 0-2-15 0zM4124 2430l16 0-2-2-15 0zM4156 2430l16 0-3-2-15 0zM4188 2430l16 0-5-2-15 0zM4220 2430l16 0-6-2-15 0zM3986 2428l15 0 5-1-14 0zM4016 2428l16 0 3-1-14 0zM4047 2428l15 0 2-1-14 0zM4077 2428l16 0 1-1-15 0zM4108 2428l15 0 0-1-15 0zM4138 2428l16 0-2-1-15 0zM4169 2428l15 0-3-1-15 0zM4199 2428l16 0-5-1-15 0zM4230 2428l15 0-6-1-15 0zM3977 2427l15 0 5-2-14 0zM4006 2427l15 0 4-2-14 0zM4035 2427l15 0 3-2-14 0zM4064 2427l15 0 1-2-13 0zM4094 2427l14 0 0-2-14 0zM4123 2427l14 0-1-2-14 0zM4152 2427l14 0-2-2-14 0zM4181 2427l14 0-4-2-14 0zM4210 2427l14 0-5-2-14 0zM4239 2427l14 0-6-2-14 0zM3970 2425l13 0 6-1-13 0zM3997 2425l14 0 4-1-13 0zM4025 2425l14 0 3-1-13 0zM4053 2425l14 0 1-1-13 0zM4080 2425l14 0 1-1-13 0zM4108 2425l14 0-1-1-13 0zM4136 2425l14 0-2-1-13 0zM4164 2425l13 0-3-1-13 0zM4191 2425l14 0-4-1-13 0zM4219 2425l14 0-6-1-13 0zM3989 2424l13 0 5-1-13 0zM4015 2424l14 0 3-1-13 0zM4042 2424l13 0 3-1-13 0zM4068 2424l14 0 1-1-13 0zM4095 2424l13 0 0-1-12 0zM4121 2424l14 0-1-1-13 0zM4148 2424l13 0-2-1-13 0zM4174 2424l14 0-4-1-12 0zM4201 2424l13 0-4-1-13 0zM4227 2424l14 0-6-1-12 0zM3981 2423l13 0 5-1-12 0zM4007 2423l12 0 4-1-12 0zM4032 2423l13 0 2-1-12 0zM4058 2423l12 0 2-1-12 0zM4083 2423l13 0 0-1-12 0zM4108 2423l13 0 0-1-13 0zM4134 2423l12 0-1-1-12 0zM4159 2423l13 0-3-1-12 0zM4184 2423l13 0-3-1-13 0zM4210 2423l13 0-5-1-12 0zM4235 2423l13 0-6-1-12 0zM3974 2422l13 0 4-1-11 0zM3999 2422l12 0 4-1-12 0zM4023 2422l12 0 3-1-12 0zM4047 2422l13 0 2-1-12 0zM4072 2422l12 0 1-1-12 0zM4096 2422l12 0 0-1-11 0zM4121 2422l12 0-1-1-12 0zM4145 2422l12 0-2-1-11 0zM4169 2422l12 0-2-1-12 0zM4194 2422l12 0-4-1-12 0zM4218 2422l12 0-4-1-12 0zM3968 2421l12 0 4-1-11 0zM3991 2421l12 0 4-1-11 0zM4015 2421l11 0 4-1-12 0zM4038 2421l12 0 2-1-11 0zM4062 2421l11 0 2-1-12 0zM4085 2421l12 0 0-1-11 0zM4108 2421l12 0 0-1-12 0zM4132 2421l12 0-2-1-11 0zM4155 2421l12 0-2-1-11 0zM4179 2421l11 0-3-1-11 0zM4202 2421l12 0-4-1-11 0zM4226 2421l11 0-4-1-12 0zM3984 2420l12 0 4-1-11 0zM4007 2420l11 0 4-1-11 0zM4030 2420l11 0 2-1-11 0zM4052 2420l11 0 2-1-11 0zM4075 2420l11 0 1-1-11 0zM4097 2420l11 0 1-1-11 0zM4120 2420l11 0-1-1-11 0zM4142 2420l12 0-2-1-11 0zM4165 2420l11 0-2-1-11 0zM4187 2420l12 0-3-1-11 0zM4210 2420l11 0-4-1-11 0zM4233 2420l11 0-5-1-11 0zM3978 2419l11 0 4-1-10 0zM4000 2419l11 0 3-1-10 0zM4022 2419l10 0 3-1-10 0zM4043 2419l11 0 2-1-10 0zM4065 2419l11 0 1-1-10 0zM4087 2419l11 0 0-1-10 0zM4109 2419l10 0 0-1-10 0zM4130 2419l11 0-1-1-10 0zM4152 2419l11 0-2-1-10 0zM4174 2419l11 0-3-1-10 0zM4196 2419l10 0-3-1-10 0zM4217 2419l11 0-4-1-10 0zM4239 2419l11 0-5-1-10 0zM3972 2418l11 0 4 0-10 0zM3993 2418l11 0 3 0-10 0zM4014 2418l11 0 2 0-10 0zM4035 2418l11 0 2 0-10 0zM4056 2418l11 0 1 0-10 0zM4077 2418l11 0 0 0-10 0zM4098 2418l11 0 0 0-11 0zM4119 2418l11 0-1 0-10 0zM4140 2418l11 0-2 0-10 0zM4161 2418l11 0-2 0-11 0zM4182 2418l11 0-3 0-10 0zM4203 2418l11 0-4 0-10 0zM4224 2418l11 0-5 0-10 0zM3987 2418l10 0 4-1-10 0zM4007 2418l10 0 3-1-9 0zM4027 2418l11 0 2-1-10 0zM4048 2418l10 0 2-1-10 0zM4068 2418l10 0 1-1-10 0zM4088 2418l10 0 1-1-10 0zM4109 2418l10 0-1-1-9 0zM4129 2418l10 0-1-1-10 0zM4149 2418l10 0-1-1-10 0zM4170 2418l10 0-3-1-9 0zM4190 2418l10 0-3-1-10 0zM4210 2418l10 0-3-1-10 0zM4230 2418l11 0-5-1-10 0zM3981 2417l10 0 4-1-10 0zM4001 2417l10 0 3-1-10 0zM4020 2417l10 0 3-1-10 0zM4040 2417l10 0 2-1-10 0zM4060 2417l9 0 2-1-10 0zM4079 2417l10 0 1-1-10 0zM4099 2417l10 0 0-1-10 0zM4118 2417l10 0 0-1-10 0zM4138 2417l10 0-1-1-10 0zM4158 2417l10 0-2-1-10 0zM4177 2417l10 0-2-1-10 0zM4197 2417l10 0-3-1-10 0zM4217 2417l9 0-3-1-10 0zM4236 2417l10 0-4-1-10 0zM3976 2416l9 0 4 0-9 0zM3995 2416l9 0 3 0-9 0zM4014 2416l9 0 3 0-9 0zM4033 2416l9 0 2 0-9 0zM4052 2416l9 0 2 0-10 0zM4071 2416l9 0 1 0-9 0zM4090 2416l9 0 1 0-10 0zM4109 2416l9 0 0 0-9 0zM4128 2416l9 0-1 0-9 0zM4147 2416l9 0-1 0-9 0zM4166 2416l9 0-2 0-9 0zM4185 2416l9 0-2 0-9 0zM4204 2416l9 0-3 0-9 0zM4223 2416l9 0-3 0-10 0zM3989 2416l9 0 3-1-9 0zM4007 2416l10 0 2-1-9 0zM4026 2416l9 0 2-1-9 0zM4044 2416l9 0 2-1-9 0zM4063 2416l9 0 1-1-9 0zM4081 2416l9 0 1-1-9 0zM4100 2416l9 0 0-1-9 0zM4118 2416l9 0 0-1-9 0zM4136 2416l10 0-1-1-9 0zM4155 2416l9 0-2-1-8 0zM4173 2416l10 0-3-1-9 0zM4192 2416l9 0-3-1-9 0zM4210 2416l9 0-3-1-9 0zM4229 2416l9 0-4-1-9 0zM3984 2415l8 0 4-1-9 0zM4001 2415l9 0 3-1-8 0zM4019 2415l9 0 3-1-9 0zM4037 2415l9 0 2-1-9 0zM4055 2415l9 0 1-1-8 0zM4073 2415l9 0 1-1-9 0zM4091 2415l9 0 0-1-9 0zM4109 2415l9 0 0-1-9 0zM4127 2415l9 0-1-1-9 0zM4145 2415l9 0-2-1-8 0zM4162 2415l9 0-1-1-9 0zM4180 2415l9 0-2-1-9 0zM4198 2415l9 0-3-1-8 0zM4216 2415l9 0-3-1-9 0zM4234 2415l9 0-4-1-8 0zM3978 2414l9 0 4 0-9 0zM3996 2414l9 0 2 0-8 0zM4013 2414l9 0 2 0-8 0zM4031 2414l8 0 2 0-8 0zM4048 2414l9 0 1 0-8 0zM4065 2414l9 0 1 0-8 0zM4083 2414l8 0 1 0-8 0zM4100 2414l9 0 0 0-9 0zM4118 2414l8 0 0 0-9 0zM4135 2414l9 0-1 0-9 0zM4152 2414l9 0-1 0-9 0zM4170 2414l8 0-2 0-8 0zM4187 2414l9 0-3 0-8 0zM4204 2414l9 0-3 0-8 0zM4222 2414l9 0-4 0-8 0zM4239 2414l9 0-4 0-8 0zM3974 2414l8 0 4-1-9 0zM3991 2414l8 0 3-1-8 0zM4007 2414l9 0 2-1-8 0zM4024 2414l9 0 2-1-8 0zM4041 2414l9 0 1-1-8 0zM4058 2414l9 0 1-1-8 0zM4075 2414l9 0 0-1-8 0zM4092 2414l8 0 1-1-9 0zM4109 2414l8 0 0-1-8 0zM4126 2414l8 0 0-1-9 0zM4143 2414l8 0-1-1-8 0zM4160 2414l8 0-2-1-8 0zM4176 2414l9 0-2-1-8 0zM4193 2414l9 0-3-1-8 0zM4210 2414l9 0-3-1-8 0zM4227 2414l9 0-4-1-8 0zM3986 2413l8 0 3 0-8 0zM4002 2413l8 0 3 0-8 0zM4018 2413l9 0 2 0-8 0zM4035 2413l8 0 2 0-8 0zM4051 2413l9 0 1 0-8 0zM4068 2413l8 0 1 0-8 0zM4084 2413l8 0 1 0-8 0zM4101 2413l8 0 0 0-8 0zM4117 2413l8 0 0 0-8 0zM4134 2413l8 0-1 0-8 0zM4150 2413l8 0-1 0-8 0zM4166 2413l9 0-2 0-8 0zM4183 2413l8 0-2 0-8 0zM4199 2413l9 0-3 0-8 0zM4216 2413l8 0-3 0-8 0zM4232 2413l8 0-3 0-8 0zM3981 2413l8 0 3 0-8 0zM3997 2413l8 0 3 0-8 0zM4013 2413l8 0 2 0-8 0zM4029 2413l8 0 2 0-8 0zM4045 2413l8 0 1 0-7 0zM4061 2413l8 0 1 0-8 0zM4077 2413l8 0 1 0-8 0zM4093 2413l8 0 0 0-8 0zM4109 2413l8 0 0 0-8 0zM4125 2413l8 0-1 0-7 0zM4141 2413l8 0-1 0-8 0zM4157 2413l8 0-1 0-8 0zM4173 2413l8 0-2 0-8 0zM4189 2413l8 0-2 0-8 0zM4205 2413l8 0-3 0-7 0zM4221 2413l8 0-3 0-8 0zM4237 2413l8 0-3 0-8 0zM3976 2413l8 0 3-1-7 0zM3992 2413l8 0 3-1-8 0zM4008 2413l7 0 3-1-8 0zM4023 2413l8 0 2-1-8 0zM4039 2413l8 0 1-1-7 0zM4054 2413l8 0 1-1-7 0zM4070 2413l8 0 1-1-8 0zM4086 2413l7 0 1-1-8 0zM4101 2413l8 0 0-1-8 0zM4117 2413l8 0-1-1-7 0zM4132 2413l8 0-1-1-7 0zM4148 2413l8 0-1-1-8 0zM4164 2413l7 0-1-1-8 0zM4179 2413l8 0-2-1-8 0zM4195 2413l8 0-3-1-7 0zM4210 2413l8 0-3-1-7 0zM4226 2413l8 0-3-1-8 0zM3987 2412l8 0 3 0-8 0zM4003 2412l7 0 3 0-8 0zM4018 2412l7 0 2 0-7 0zM4033 2412l8 0 1 0-7 0zM4048 2412l8 0 1 0-7 0zM4063 2412l8 0 1 0-7 0zM4079 2412l7 0 1 0-8 0zM4094 2412l7 0 1 0-8 0zM4109 2412l8 0-1 0-7 0zM4124 2412l8 0-1 0-7 0zM4139 2412l8 0-1 0-7 0zM4155 2412l7 0-1 0-8 0zM4170 2412l7 0-1 0-8 0zM4185 2412l8 0-2 0-8 0zM4200 2412l8 0-3 0-7 0zM4215 2412l8 0-3 0-7 0zM4231 2412l7 0-3 0-7 0zM3983 2412l7 0 3-1-7 0zM3998 2412l7 0 3-1-8 0zM4013 2412l7 0 2-1-7 0zM4027 2412l8 0 2-1-8 0zM4042 2412l8 0 1-1-7 0zM4057 2412l8 0 1-1-8 0zM4072 2412l7 0 1-1-7 0zM4087 2412l7 0 1-1-8 0zM4102 2412l7 0 0-1-7 0zM4116 2412l8 0 0-1-8 0zM4131 2412l8 0-1-1-7 0zM4146 2412l7 0-1-1-7 0zM4161 2412l7 0-1-1-7 0zM4176 2412l7 0-2-1-7 0zM4191 2412l7 0-2-1-7 0zM4205 2412l8 0-3-1-7 0zM4220 2412l8 0-3-1-7 0zM4235 2412l7 0-3-1-7 0zM3979 2411l7 0 3 0-7 0zM3993 2411l7 0 3 0-7 0zM4008 2411l7 0 2 0-7 0zM4022 2411l7 0 2 0-7 0zM4037 2411l7 0 1 0-7 0zM4051 2411l7 0 2 0-8 0zM4066 2411l7 0 1 0-7 0zM4080 2411l7 0 1 0-7 0zM4095 2411l7 0 0 0-7 0zM4109 2411l7 0 0 0-7 0zM4124 2411l7 0-1 0-7 0zM4138 2411l7 0-1 0-7 0zM4152 2411l8 0-1 0-8 0zM4167 2411l7 0-1 0-7 0zM4181 2411l8 0-2 0-7 0zM4196 2411l7 0-2 0-7 0zM4210 2411l8 0-3 0-7 0zM4225 2411l7 0-3 0-7 0zM3975 2411l7 0 3 0-7 0zM3989 2411l7 0 3 0-7 0zM4003 2411l7 0 2 0-7 0zM4017 2411l7 0 2 0-7 0zM4031 2411l7 0 2 0-7 0zM4045 2411l7 0 2 0-7 0zM4060 2411l7 0 1 0-7 0zM4074 2411l7 0 0 0-6 0zM4088 2411l7 0 0 0-7 0zM4102 2411l7 0 0 0-7 0zM4116 2411l7 0 0 0-7 0zM4130 2411l7 0 0 0-7 0zM4144 2411l7 0 0 0-7 0zM4159 2411l7 0-2 0-7 0zM4173 2411l7 0-2 0-7 0zM4187 2411l7 0-2 0-7 0zM4201 2411l7 0-2 0-7 0zM4215 2411l7 0-2 0-7 0zM4229 2411l7 0-3 0-6 0zM3985 2411l7 0 2-1-7 0zM3999 2411l6 0 3-1-7 0zM4012 2411l7 0 2-1-6 0zM4026 2411l7 0 2-1-7 0zM4040 2411l7 0 1-1-6 0zM4054 2411l7 0 1-1-7 0zM4068 2411l7 0 0-1-6 0zM4081 2411l7 0 1-1-7 0zM4095 2411l7 0 0-1-6 0zM4109 2411l7 0 0-1-7 0zM4123 2411l7 0-1-1-6 0zM4137 2411l7 0-1-1-7 0zM4151 2411l6 0-1-1-6 0zM4164 2411l7 0-1-1-7 0zM4178 2411l7 0-2-1-6 0zM4192 2411l7 0-2-1-7 0zM4206 2411l7 0-3-1-6 0zM4220 2411l7 0-3-1-7 0zM4233 2411l7 0-3-1-6 0zM3981 2410l6 0 3 0-6 0zM3994 2410l7 0 2 0-6 0zM4008 2410l7 0 2 0-7 0zM4021 2410l7 0 2 0-7 0zM4035 2410l7 0 1 0-7 0zM4048 2410l7 0 1 0-6 0zM4062 2410l7 0 0 0-6 0zM4075 2410l7 0 1 0-7 0zM4089 2410l7 0 0 0-7 0zM4102 2410l7 0 0 0-7 0zM4116 2410l7 0-1 0-6 0zM4129 2410l7 0 0 0-7 0zM4143 2410l7 0-1 0-7 0zM4156 2410l7 0-1 0-7 0zM4170 2410l7 0-2 0-6 0zM4183 2410l7 0-2 0-6 0zM4197 2410l7 0-2 0-7 0zM4210 2410l7 0-2 0-7 0zM4224 2410l7 0-3 0-7 0zM4237 2410l7 0-3 0-6 0z" fill="#000"/><rect x="1995" y="1204.9" width="120" height="22.4" fill="url(#standfog)"/><polyline points="2052.3,1193.7 2043.7,1208.1" fill="none" stroke="#9C6E66" stroke-width="2.7" stroke-linecap="round" stroke-linejoin="round"/><polyline points="2043.7,1208.1 2033.3,1193.2 2023.4,1197.3" fill="none" stroke="#B77C80" stroke-width="3.8000000000000003" stroke-linecap="round" stroke-linejoin="round"/><polyline points="2043.7,1208.1 2033.3,1193.2 2023.4,1197.3" fill="none" stroke="#E2A0A6" stroke-width="2.7" stroke-linecap="round" stroke-linejoin="round"/><polyline points="2071.7,1237.9 2059.5,1243.8" fill="none" stroke="#9C6E66" stroke-width="2.7" stroke-linecap="round" stroke-linejoin="round"/><polyline points="2059.5,1243.8 2058.6,1262.0" fill="none" stroke="#E2A0A6" stroke-width="2.7" stroke-linecap="round" stroke-linejoin="round"/><polyline points="2052.3,1193.7 2071.7,1237.9 2085.7,1245.1" fill="none" stroke="#9E7444" stroke-width="4.1" stroke-linecap="round" stroke-linejoin="round"/><polyline points="2052.3,1193.7 2071.7,1237.9 2085.7,1245.1" fill="none" stroke="#D9A468" stroke-width="3.0" stroke-linecap="round" stroke-linejoin="round"/></g><text x="1545" y="1081.7" font-family="Liberation Sans" font-size="13.3" fill="#000" text-anchor="middle">Run</text><text x="2055" y="1081.7" font-family="Liberation Sans" font-size="13.3" fill="#000" text-anchor="middle">Jump</text><text x="1545" y="1276.7" font-family="Liberation Sans" font-size="13.3" fill="#000" text-anchor="middle">Walk</text><text x="2055" y="1276.7" font-family="Liberation Sans" font-size="13.3" fill="#000" text-anchor="middle">Stand</text><text x="1806" y="924.3" font-family="Liberation Sans" font-size="14.8" fill="#000" text-anchor="middle">Moving Direction</text><text x="1806.5" y="1114.3" font-family="Liberation Sans" font-size="14.8" fill="#000" text-anchor="middle">Moving Direction</text><text x="1811" y="1074.3" font-family="Liberation Sans" font-size="16.2" fill="#000" text-anchor="middle">Run + Jump</text><text x="1811.4" y="1268.5" font-family="Liberation Sans" font-size="16.2" fill="#000" text-anchor="middle">Walk + Stand</text><path d="M1889.2,965.3 Q1792.9,905.8 1709.3,956.2" fill="none" stroke="#000" stroke-width="1.3"/><polygon points="1713.4,949.6 1709.3,956.2 1717.2,955.7 1713.2,953.9" fill="#000"/><path d="M1873.9,1149.7 Q1788.5,1097.5 1711.4,1145.6" fill="none" stroke="#000" stroke-width="1.3"/><polygon points="1715.4,1138.8 1711.4,1145.6 1719.2,1145.0 1715.2,1143.2" fill="#000"/><line x1="1626" y1="1006.7" x2="1656" y2="1006.7" stroke="#000" stroke-width="1.3"/><polyline points="1652,1003.2 1658,1006.7 1652,1010.2" fill="none" stroke="#000" stroke-width="1.3"/><line x1="1975" y1="1006.7" x2="1946.6" y2="1006.7" stroke="#000" stroke-width="1.3"/><polyline points="1950.6,1003.2 1944.6,1006.7 1950.6,1010.2" fill="none" stroke="#000" stroke-width="1.3"/><line x1="1626" y1="1201.25" x2="1656" y2="1201.25" stroke="#000" stroke-width="1.3"/><polyline points="1652,1197.75 1658,1201.25 1652,1204.75" fill="none" stroke="#000" stroke-width="1.3"/><line x1="1975" y1="1201.25" x2="1946.6" y2="1201.25" stroke="#000" stroke-width="1.3"/><polyline points="1950.6,1197.75 1944.6,1201.25 1950.6,1204.75" fill="none" stroke="#000" stroke-width="1.3"/><polyline points="1722.5,984.7 1737.1,998.6 1725.3,1002.8" fill="none" stroke="#A0705E" stroke-width="3.9600000000000004" stroke-linecap="round" stroke-linejoin="round"/><polyline points="1725.3,1002.8 1719.7,1005.6 1719.7,1016.0" fill="none" stroke="#B77C80" stroke-width="5.0600000000000005" stroke-linecap="round" stroke-linejoin="round"/><polyline points="1725.3,1002.8 1719.7,1005.6 1719.7,1016.0" fill="none" stroke="#E2A0A6" stroke-width="3.9600000000000004" stroke-linecap="round" stroke-linejoin="round"/><polyline points="1786.4,997.9 1786.4,1011.8" fill="none" stroke="#A0705E" stroke-width="3.9600000000000004" stroke-linecap="round" stroke-linejoin="round"/><polyline points="1786.4,1011.8 1809.3,1014.6" fill="none" stroke="#A87068" stroke-width="3.9600000000000004" stroke-linecap="round" stroke-linejoin="round"/><polyline points="1722.5,984.7 1785.7,997.2 1804.4,991.0" fill="none" stroke="#C48E52" stroke-width="5.5" stroke-linecap="round" stroke-linejoin="round"/><polyline points="1722.5,984.7 1785.7,997.2 1804.4,991.0" fill="none" stroke="#F3C184" stroke-width="4.4" stroke-linecap="round" stroke-linejoin="round"/><polyline points="1798.9,980.6 1816.9,994.4 1804.4,1001.4" fill="none" stroke="#A0705E" stroke-width="3.9600000000000004" stroke-linecap="round" stroke-linejoin="round"/><polyline points="1804.4,1001.4 1798.9,1004.9 1811.4,1011.1" fill="none" stroke="#B77C80" stroke-width="5.0600000000000005" stroke-linecap="round" stroke-linejoin="round"/><polyline points="1804.4,1001.4 1798.9,1004.9 1811.4,1011.1" fill="none" stroke="#E2A0A6" stroke-width="3.9600000000000004" stroke-linecap="round" stroke-linejoin="round"/><polyline points="1862.1,1001.4 1854.4,1013.9" fill="none" stroke="#A0705E" stroke-width="3.9600000000000004" stroke-linecap="round" stroke-linejoin="round"/><polyline points="1854.4,1013.9 1860.7,1031.2" fill="none" stroke="#A87068" stroke-width="3.9600000000000004" stroke-linecap="round" stroke-linejoin="round"/><polyline points="1798.9,980.6 1861.4,1000.0 1882.2,995.1" fill="none" stroke="#C48E52" stroke-width="5.5" stroke-linecap="round" stroke-linejoin="round"/><polyline points="1798.9,980.6 1861.4,1000.0 1882.2,995.1" fill="none" stroke="#F3C184" stroke-width="4.4" stroke-linecap="round" stroke-linejoin="round"/><polyline points="1669.0,1020.1 1687.8,1030.6 1676.7,1034.0" fill="none" stroke="#A0705E" stroke-width="3.9600000000000004" stroke-linecap="round" stroke-linejoin="round"/><polyline points="1676.7,1034.0 1671.1,1036.8 1680.1,1043.8" fill="none" stroke="#B77C80" stroke-width="5.0600000000000005" stroke-linecap="round" stroke-linejoin="round"/><polyline points="1676.7,1034.0 1671.1,1036.8 1680.1,1043.8" fill="none" stroke="#E2A0A6" stroke-width="3.9600000000000004" stroke-linecap="round" stroke-linejoin="round"/><polyline points="1714.2,1027.1 1719.7,1038.9" fill="none" stroke="#A0705E" stroke-width="3.9600000000000004" stroke-linecap="round" stroke-linejoin="round"/><polyline points="1719.7,1038.9 1728.1,1042.4" fill="none" stroke="#A87068" stroke-width="3.9600000000000004" stroke-linecap="round" stroke-linejoin="round"/><polyline points="1669.0,1020.1 1728.1,1025.0 1745.4,1016.7" fill="none" stroke="#C48E52" stroke-width="5.5" stroke-linecap="round" stroke-linejoin="round"/><polyline points="1669.0,1020.1 1728.1,1025.0 1745.4,1016.7" fill="none" stroke="#F3C184" stroke-width="4.4" stroke-linecap="round" stroke-linejoin="round"/><polyline points="1855.1,1027.8 1856.5,1043.1" fill="none" stroke="#A0705E" stroke-width="3.9600000000000004" stroke-linecap="round" stroke-linejoin="round"/><polyline points="1853.8,1041.7 1839.2,1034.7 1832.2,1042.4" fill="none" stroke="#B77C80" stroke-width="5.0600000000000005" stroke-linecap="round" stroke-linejoin="round"/><polyline points="1853.8,1041.7 1839.2,1034.7 1832.2,1042.4" fill="none" stroke="#E2A0A6" stroke-width="3.9600000000000004" stroke-linecap="round" stroke-linejoin="round"/><polyline points="1910.0,1029.2 1901.7,1035.4" fill="none" stroke="#A0705E" stroke-width="3.9600000000000004" stroke-linecap="round" stroke-linejoin="round"/><polyline points="1901.7,1035.4 1908.6,1049.3" fill="none" stroke="#A87068" stroke-width="3.9600000000000004" stroke-linecap="round" stroke-linejoin="round"/><polyline points="1855.1,1027.8 1915.6,1025.7 1934.3,1016.0" fill="none" stroke="#C48E52" stroke-width="5.5" stroke-linecap="round" stroke-linejoin="round"/><polyline points="1855.1,1027.8 1915.6,1025.7 1934.3,1016.0" fill="none" stroke="#F3C184" stroke-width="4.4" stroke-linecap="round" stroke-linejoin="round"/><polyline points="1704.4,1185.8 1682.2,1176.8 1682.2,1191.4" fill="none" stroke="#C98A90" stroke-width="5.300000000000001" stroke-linecap="round" stroke-linejoin="round"/><polyline points="1704.4,1185.8 1682.2,1176.8 1682.2,1191.4" fill="none" stroke="#E2A0A6" stroke-width="4.2" stroke-linecap="round" stroke-linejoin="round"/><polyline points="1722.5,1219.2 1722.5,1236.5" fill="none" stroke="#9C6A66" stroke-width="4.2" stroke-linecap="round" stroke-linejoin="round"/><polyline points="1705.8,1163.6 1704.4,1185.8" fill="none" stroke="#B88350" stroke-width="4.2" stroke-linecap="round" stroke-linejoin="round"/><polyline points="1738.5,1217.8 1722.5,1219.2" fill="none" stroke="#8E6040" stroke-width="4.2" stroke-linecap="round" stroke-linejoin="round"/><polyline points="1705.8,1163.6 1739.2,1217.1 1758.6,1224.7" fill="none" stroke="#A97A48" stroke-width="5.5" stroke-linecap="round" stroke-linejoin="round"/><polyline points="1705.8,1163.6 1739.2,1217.1 1758.6,1224.7" fill="none" stroke="#D7A067" stroke-width="4.4" stroke-linecap="round" stroke-linejoin="round"/><polyline points="1762.1,1184.4 1736.4,1174.7 1728.8,1184.4" fill="none" stroke="#C98A90" stroke-width="5.300000000000001" stroke-linecap="round" stroke-linejoin="round"/><polyline points="1762.1,1184.4 1736.4,1174.7 1728.8,1184.4" fill="none" stroke="#E2A0A6" stroke-width="4.2" stroke-linecap="round" stroke-linejoin="round"/><polyline points="1776.7,1215.7 1773.9,1232.4" fill="none" stroke="#9C6A66" stroke-width="4.2" stroke-linecap="round" stroke-linejoin="round"/><polyline points="1762.8,1162.2 1762.1,1184.4" fill="none" stroke="#B88350" stroke-width="4.2" stroke-linecap="round" stroke-linejoin="round"/><polyline points="1795.4,1216.4 1776.7,1215.7" fill="none" stroke="#8E6040" stroke-width="4.2" stroke-linecap="round" stroke-linejoin="round"/><polyline points="1762.8,1162.2 1795.4,1216.4 1813.5,1222.6" fill="none" stroke="#A97A48" stroke-width="5.5" stroke-linecap="round" stroke-linejoin="round"/><polyline points="1762.8,1162.2 1795.4,1216.4 1813.5,1222.6" fill="none" stroke="#D7A067" stroke-width="4.4" stroke-linecap="round" stroke-linejoin="round"/><polyline points="1810.7,1187.2 1789.2,1174.7 1780.8,1185.1" fill="none" stroke="#C98A90" stroke-width="5.300000000000001" stroke-linecap="round" stroke-linejoin="round"/><polyline points="1810.7,1187.2 1789.2,1174.7 1780.8,1185.1" fill="none" stroke="#E2A0A6" stroke-width="4.2" stroke-linecap="round" stroke-linejoin="round"/><polyline points="1826.0,1219.2 1822.5,1237.2" fill="none" stroke="#9C6A66" stroke-width="4.2" stroke-linecap="round" stroke-linejoin="round"/><polyline points="1813.5,1165.7 1810.7,1187.2" fill="none" stroke="#B88350" stroke-width="4.2" stroke-linecap="round" stroke-linejoin="round"/><polyline points="1843.3,1217.1 1826.0,1219.2" fill="none" stroke="#8E6040" stroke-width="4.2" stroke-linecap="round" stroke-linejoin="round"/><polyline points="1813.5,1165.7 1843.3,1217.1 1860.7,1223.3" fill="none" stroke="#A97A48" stroke-width="5.5" stroke-linecap="round" stroke-linejoin="round"/><polyline points="1813.5,1165.7 1843.3,1217.1 1860.7,1223.3" fill="none" stroke="#D7A067" stroke-width="4.4" stroke-linecap="round" stroke-linejoin="round"/><polyline points="1865.6,1185.1 1846.8,1170.6 1832.9,1176.8" fill="none" stroke="#C98A90" stroke-width="5.300000000000001" stroke-linecap="round" stroke-linejoin="round"/><polyline points="1865.6,1185.1 1846.8,1170.6 1832.9,1176.8" fill="none" stroke="#E2A0A6" stroke-width="4.2" stroke-linecap="round" stroke-linejoin="round"/><polyline points="1876.7,1219.2 1878.1,1235.8" fill="none" stroke="#9C6A66" stroke-width="4.2" stroke-linecap="round" stroke-linejoin="round"/><polyline points="1876.0,1163.6 1865.6,1185.1" fill="none" stroke="#B88350" stroke-width="4.2" stroke-linecap="round" stroke-linejoin="round"/><polyline points="1894.7,1217.8 1876.7,1219.2" fill="none" stroke="#8E6040" stroke-width="4.2" stroke-linecap="round" stroke-linejoin="round"/><polyline points="1876.0,1163.6 1894.7,1217.8 1910.7,1225.4" fill="none" stroke="#A97A48" stroke-width="5.5" stroke-linecap="round" stroke-linejoin="round"/><polyline points="1876.0,1163.6 1894.7,1217.8 1910.7,1225.4" fill="none" stroke="#D7A067" stroke-width="4.4" stroke-linecap="round" stroke-linejoin="round"/></svg>
</body></html>
